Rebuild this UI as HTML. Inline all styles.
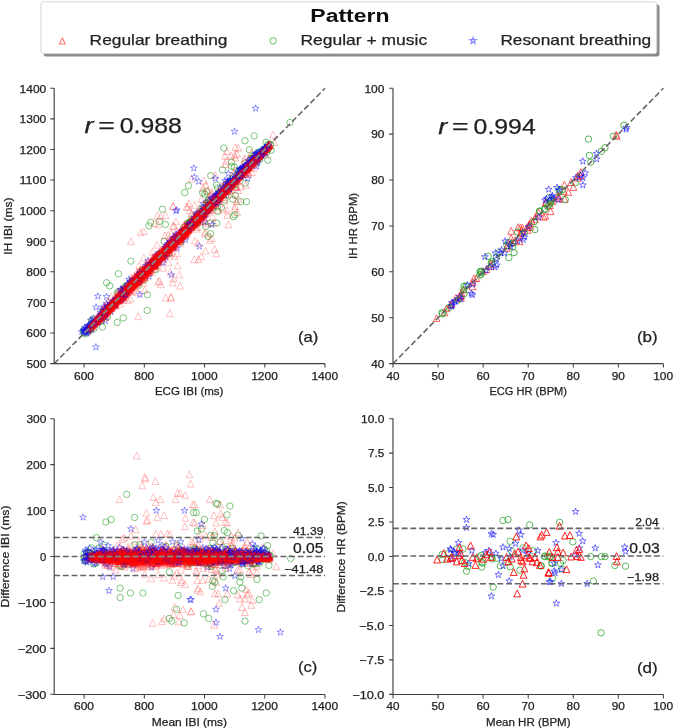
<!DOCTYPE html>
<html><head><meta charset="utf-8"><style>
html,body{margin:0;padding:0;background:#fff;overflow:hidden}
svg{display:block;will-change:transform;filter:blur(0.3px)}
text{font-family:"Liberation Sans",sans-serif;stroke:currentColor;stroke-width:0.25px}
</style></head><body>
<svg width="674" height="728" viewBox="0 0 674 728">
<rect x="43.7" y="4.6" width="615.8" height="51.8" rx="2.5" fill="#8a8a8a"/>
<rect x="40.9" y="1.8" width="615.8" height="51.8" rx="2.5" fill="#fff" stroke="#d6d6d6" stroke-width="1"/>
<text x="310.34" y="21.50" font-size="18.99" textLength="79.12" lengthAdjust="spacingAndGlyphs" font-weight="bold" style="stroke-width:0" fill="#0d0d0d" color="#0d0d0d">Pattern</text>
<path d="M62.3 37.9l-3.0 6.0h6.0z" fill="none" stroke="#ff0000" stroke-opacity="0.55" stroke-width="1.05"/>
<path d="M270.0 40.8a3.1 3.1 0 1 0 6.2 0a3.1 3.1 0 1 0 -6.2 0" fill="none" stroke="#2ca02c" stroke-opacity="0.65" stroke-width="1.05"/>
<path d="M473.1 37.3L473.9 39.6L476.3 39.6L474.3 41.1L475.1 43.5L473.1 42.0L471.1 43.5L471.9 41.1L469.9 39.6L472.3 39.6Z" fill="none" stroke="#0000ff" stroke-opacity="0.5" stroke-width="1.05"/>
<text x="89.61" y="44.90" font-size="15.55" textLength="137.88" lengthAdjust="spacingAndGlyphs" fill="#222222" color="#222222">Regular breathing</text>
<text x="300.50" y="44.90" font-size="15.55" textLength="126.62" lengthAdjust="spacingAndGlyphs" fill="#222222" color="#222222">Regular + music</text>
<text x="500.42" y="44.90" font-size="15.55" textLength="150.71" lengthAdjust="spacingAndGlyphs" fill="#222222" color="#222222">Resonant breathing</text>
<defs><path id="tr" d="M0-3.4l-3.4 6.8h6.8z"/><circle id="ci" r="3.2"/><path id="st" d="M0.0 -3.6L0.8 -1.1L3.4 -1.1L1.3 0.4L2.1 2.9L0.0 1.4L-2.1 2.9L-1.3 0.4L-3.4 -1.1L-0.8 -1.1Z"/></defs>
<g fill="none" stroke="#2ca02c" stroke-opacity="0.6"><use href="#ci" x="245.3" y="183.2"/><use href="#ci" x="264.6" y="150.3"/><use href="#ci" x="246.4" y="201.7"/><use href="#ci" x="216.7" y="223.1"/><use href="#ci" x="165.1" y="250.6"/><use href="#ci" x="242.6" y="171.5"/><use href="#ci" x="189.9" y="222"/><use href="#ci" x="239" y="175.6"/><use href="#ci" x="93.1" y="322.9"/><use href="#ci" x="266" y="142.3"/><use href="#ci" x="152.1" y="266.1"/><use href="#ci" x="241.5" y="170.8"/><use href="#ci" x="164.2" y="241.3"/><use href="#ci" x="95.4" y="322.1"/><use href="#ci" x="107.4" y="317"/><use href="#ci" x="213.1" y="207.5"/><use href="#ci" x="198.6" y="217.9"/><use href="#ci" x="202.1" y="216.5"/><use href="#ci" x="214.4" y="200.8"/><use href="#ci" x="94.3" y="323.6"/><use href="#ci" x="161" y="257.1"/><use href="#ci" x="207.8" y="203.2"/><use href="#ci" x="202.7" y="210.4"/><use href="#ci" x="238.8" y="173.1"/><use href="#ci" x="200.7" y="214.2"/><use href="#ci" x="157.8" y="257.5"/><use href="#ci" x="198.4" y="215.5"/><use href="#ci" x="220.4" y="194.6"/><use href="#ci" x="217.3" y="206.8"/><use href="#ci" x="127.5" y="285.6"/><use href="#ci" x="96.8" y="321.6"/><use href="#ci" x="191.1" y="224.9"/><use href="#ci" x="290.1" y="122.5"/><use href="#ci" x="187.6" y="230.3"/><use href="#ci" x="253.7" y="155.8"/><use href="#ci" x="206.3" y="210.5"/><use href="#ci" x="83.8" y="330.5"/><use href="#ci" x="219.4" y="192.8"/><use href="#ci" x="91.5" y="320.5"/><use href="#ci" x="244.3" y="171.2"/><use href="#ci" x="253.3" y="161.4"/><use href="#ci" x="188.1" y="223.6"/><use href="#ci" x="162.4" y="209.2"/><use href="#ci" x="217.6" y="188"/><use href="#ci" x="258.3" y="158"/><use href="#ci" x="133.1" y="285"/><use href="#ci" x="218.2" y="199.5"/><use href="#ci" x="126.8" y="288.9"/><use href="#ci" x="208.3" y="205.6"/><use href="#ci" x="117.2" y="322.4"/><use href="#ci" x="182.7" y="232"/><use href="#ci" x="187.8" y="222.8"/><use href="#ci" x="231.9" y="185.8"/><use href="#ci" x="208.7" y="200.6"/><use href="#ci" x="253.2" y="156.9"/><use href="#ci" x="208" y="236.4"/><use href="#ci" x="83.8" y="330.3"/><use href="#ci" x="84" y="332.3"/><use href="#ci" x="232.8" y="199.2"/><use href="#ci" x="210.5" y="205"/><use href="#ci" x="205.8" y="211.9"/><use href="#ci" x="225.8" y="184.4"/><use href="#ci" x="117.1" y="293.4"/><use href="#ci" x="263.7" y="149.8"/><use href="#ci" x="189.9" y="224.2"/><use href="#ci" x="125.5" y="288.3"/><use href="#ci" x="257.6" y="152.5"/><use href="#ci" x="138.8" y="285.2"/><use href="#ci" x="201" y="214.5"/><use href="#ci" x="268.3" y="149.3"/><use href="#ci" x="197.7" y="222.5"/><use href="#ci" x="235.2" y="195.4"/><use href="#ci" x="198.8" y="220.2"/><use href="#ci" x="211.9" y="203.6"/><use href="#ci" x="259.9" y="156.4"/><use href="#ci" x="270.3" y="144.4"/><use href="#ci" x="219.2" y="199"/><use href="#ci" x="231.6" y="179"/><use href="#ci" x="210.6" y="233.7"/><use href="#ci" x="245" y="140.8"/><use href="#ci" x="198.6" y="220.7"/><use href="#ci" x="147.4" y="294.7"/><use href="#ci" x="194" y="222.6"/><use href="#ci" x="123.9" y="288.9"/><use href="#ci" x="229.5" y="184.3"/><use href="#ci" x="235.3" y="184.9"/><use href="#ci" x="267.4" y="148.5"/><use href="#ci" x="267.8" y="144.7"/><use href="#ci" x="210.7" y="175.6"/><use href="#ci" x="229.5" y="182.6"/><use href="#ci" x="104.1" y="313.4"/><use href="#ci" x="190.9" y="221"/><use href="#ci" x="212.6" y="204.4"/><use href="#ci" x="243.1" y="170.6"/><use href="#ci" x="236.4" y="179.3"/><use href="#ci" x="251.4" y="158.5"/><use href="#ci" x="201.3" y="216.5"/><use href="#ci" x="180.8" y="242.1"/><use href="#ci" x="188.4" y="185.8"/><use href="#ci" x="197.2" y="214.5"/><use href="#ci" x="152.2" y="263.1"/><use href="#ci" x="157.7" y="257.9"/><use href="#ci" x="256.4" y="156.4"/><use href="#ci" x="118.8" y="299"/><use href="#ci" x="105.7" y="312.4"/><use href="#ci" x="226.7" y="188.6"/><use href="#ci" x="125.4" y="286.1"/><use href="#ci" x="231.4" y="185.7"/><use href="#ci" x="254.2" y="135.9"/><use href="#ci" x="200.1" y="211.6"/><use href="#ci" x="130.9" y="261.1"/><use href="#ci" x="212.4" y="203"/><use href="#ci" x="260.6" y="155.5"/><use href="#ci" x="87.9" y="331.5"/><use href="#ci" x="264.4" y="149.7"/><use href="#ci" x="94.2" y="328.4"/><use href="#ci" x="245.3" y="166.7"/><use href="#ci" x="244.3" y="168.6"/><use href="#ci" x="240.4" y="172"/><use href="#ci" x="218.8" y="192.5"/><use href="#ci" x="254.9" y="161.2"/><use href="#ci" x="197.2" y="215.5"/><use href="#ci" x="209.4" y="203.9"/><use href="#ci" x="91.1" y="328.3"/><use href="#ci" x="234.8" y="214.9"/><use href="#ci" x="169.8" y="245.8"/><use href="#ci" x="193.2" y="220"/><use href="#ci" x="159.3" y="221.4"/><use href="#ci" x="217.7" y="211.3"/><use href="#ci" x="228.1" y="191.3"/><use href="#ci" x="89.7" y="330.2"/><use href="#ci" x="210.4" y="223.1"/><use href="#ci" x="165.4" y="224.4"/><use href="#ci" x="155.8" y="269.6"/><use href="#ci" x="197.3" y="219.1"/><use href="#ci" x="245.2" y="163.1"/><use href="#ci" x="233.2" y="180.8"/><use href="#ci" x="259.7" y="159.6"/><use href="#ci" x="103.1" y="311.4"/><use href="#ci" x="230.1" y="183.1"/><use href="#ci" x="221.4" y="207.5"/><use href="#ci" x="144" y="279.9"/><use href="#ci" x="208" y="200.4"/><use href="#ci" x="197.2" y="223.5"/><use href="#ci" x="244.8" y="168.1"/><use href="#ci" x="267.7" y="160.1"/><use href="#ci" x="159.1" y="258.2"/><use href="#ci" x="176.4" y="241.4"/><use href="#ci" x="216.5" y="185"/><use href="#ci" x="93" y="324.7"/><use href="#ci" x="107.8" y="311"/><use href="#ci" x="102.4" y="327"/><use href="#ci" x="238.5" y="178.1"/><use href="#ci" x="264" y="149.5"/><use href="#ci" x="213" y="202"/><use href="#ci" x="106.6" y="282.8"/><use href="#ci" x="84.3" y="332.4"/><use href="#ci" x="250.6" y="158.8"/><use href="#ci" x="243.4" y="170.6"/><use href="#ci" x="261" y="151.1"/><use href="#ci" x="265.8" y="148.3"/><use href="#ci" x="220.8" y="191.6"/><use href="#ci" x="91.3" y="324"/><use href="#ci" x="118.7" y="297.3"/><use href="#ci" x="204.8" y="194.1"/><use href="#ci" x="208.3" y="202.4"/><use href="#ci" x="90.3" y="327.1"/><use href="#ci" x="233.7" y="184.8"/><use href="#ci" x="224.9" y="199.8"/><use href="#ci" x="142.6" y="270.6"/><use href="#ci" x="252.2" y="163.4"/><use href="#ci" x="192.7" y="226.9"/><use href="#ci" x="212.3" y="200.9"/><use href="#ci" x="223.8" y="148.1"/><use href="#ci" x="107.9" y="308.4"/><use href="#ci" x="131" y="284.1"/><use href="#ci" x="202.7" y="192.8"/><use href="#ci" x="118.2" y="291.8"/><use href="#ci" x="206.5" y="191.7"/><use href="#ci" x="247.5" y="165.7"/><use href="#ci" x="195.9" y="220.5"/><use href="#ci" x="262.9" y="150.4"/><use href="#ci" x="231.5" y="162.2"/><use href="#ci" x="270.4" y="144.3"/><use href="#ci" x="95.5" y="321.1"/><use href="#ci" x="93.6" y="318.9"/><use href="#ci" x="110.8" y="306.4"/><use href="#ci" x="225.6" y="189.7"/><use href="#ci" x="169.2" y="253.4"/><use href="#ci" x="233.4" y="216.7"/><use href="#ci" x="156.5" y="260.9"/><use href="#ci" x="190.3" y="222.9"/><use href="#ci" x="204.1" y="210.2"/><use href="#ci" x="187.6" y="230.6"/><use href="#ci" x="150.6" y="222.4"/><use href="#ci" x="142.2" y="270.7"/><use href="#ci" x="224.2" y="187.7"/><use href="#ci" x="218.1" y="196.8"/><use href="#ci" x="249.4" y="149.8"/><use href="#ci" x="225.8" y="195.1"/><use href="#ci" x="123.2" y="317.9"/><use href="#ci" x="213.7" y="200.6"/><use href="#ci" x="108.8" y="307"/><use href="#ci" x="255.1" y="160.2"/><use href="#ci" x="101.4" y="320.9"/><use href="#ci" x="182.4" y="234.3"/><use href="#ci" x="214.4" y="201.6"/><use href="#ci" x="141.6" y="276.6"/><use href="#ci" x="234.2" y="167"/><use href="#ci" x="190.2" y="223.9"/><use href="#ci" x="109.3" y="308.3"/><use href="#ci" x="202.6" y="207.7"/><use href="#ci" x="239.6" y="174.3"/><use href="#ci" x="193.7" y="217.5"/><use href="#ci" x="89.6" y="330.2"/><use href="#ci" x="260.4" y="153.5"/><use href="#ci" x="91.3" y="325.1"/><use href="#ci" x="250.3" y="164.8"/><use href="#ci" x="239.1" y="170.6"/><use href="#ci" x="234.3" y="181.4"/><use href="#ci" x="109.7" y="285.9"/><use href="#ci" x="231.5" y="166.3"/><use href="#ci" x="256.1" y="163.1"/><use href="#ci" x="149" y="225.9"/><use href="#ci" x="206.5" y="203.9"/><use href="#ci" x="238.9" y="175.9"/><use href="#ci" x="190.8" y="223.3"/><use href="#ci" x="203.5" y="214.8"/><use href="#ci" x="197.5" y="216.4"/><use href="#ci" x="244.4" y="171"/><use href="#ci" x="188.8" y="223.6"/><use href="#ci" x="266.8" y="152.3"/><use href="#ci" x="186.2" y="228.7"/><use href="#ci" x="205.7" y="226.5"/><use href="#ci" x="147.1" y="310.4"/><use href="#ci" x="89.7" y="327.7"/><use href="#ci" x="131.9" y="280.5"/><use href="#ci" x="118.4" y="273.8"/><use href="#ci" x="183.9" y="227.3"/><use href="#ci" x="222.4" y="169.8"/><use href="#ci" x="267.9" y="144.9"/><use href="#ci" x="233.1" y="178"/><use href="#ci" x="158.8" y="253.8"/><use href="#ci" x="206.2" y="211.2"/><use href="#ci" x="85.1" y="333.9"/><use href="#ci" x="183.2" y="236.3"/><use href="#ci" x="241.9" y="169.7"/><use href="#ci" x="248.7" y="168.6"/><use href="#ci" x="250.2" y="162.8"/><use href="#ci" x="237.5" y="174.7"/><use href="#ci" x="197.8" y="220.7"/><use href="#ci" x="217.3" y="196.5"/><use href="#ci" x="240.7" y="201.7"/><use href="#ci" x="220.2" y="192.7"/><use href="#ci" x="189.9" y="226.2"/><use href="#ci" x="184.7" y="192.6"/><use href="#ci" x="271.2" y="150.2"/></g>
<g fill="none" stroke="#0000ff" stroke-opacity="0.4"><use href="#st" x="180.6" y="234.3"/><use href="#st" x="100.6" y="312.7"/><use href="#st" x="129.9" y="282.1"/><use href="#st" x="151.9" y="266.4"/><use href="#st" x="177" y="234.1"/><use href="#st" x="168.1" y="246.7"/><use href="#st" x="200.6" y="215.3"/><use href="#st" x="158.1" y="258.4"/><use href="#st" x="105.2" y="314.9"/><use href="#st" x="97" y="321.1"/><use href="#st" x="119.1" y="297.9"/><use href="#st" x="189.7" y="229.8"/><use href="#st" x="163.9" y="249.9"/><use href="#st" x="188.1" y="228.7"/><use href="#st" x="176.2" y="241"/><use href="#st" x="127.9" y="289.2"/><use href="#st" x="195.7" y="222.3"/><use href="#st" x="90.8" y="320.3"/><use href="#st" x="177" y="238.5"/><use href="#st" x="155.4" y="266"/><use href="#st" x="158.4" y="261.9"/><use href="#st" x="121" y="290"/><use href="#st" x="183.1" y="235.5"/><use href="#st" x="156.1" y="261.7"/><use href="#st" x="185.4" y="232.4"/><use href="#st" x="177.2" y="236.4"/><use href="#st" x="162.7" y="253.9"/><use href="#st" x="193.1" y="224.8"/><use href="#st" x="104.3" y="316.2"/><use href="#st" x="179.6" y="235.3"/><use href="#st" x="173.1" y="237.6"/><use href="#st" x="149.1" y="276.5"/><use href="#st" x="120.9" y="295.3"/><use href="#st" x="208.3" y="208.8"/><use href="#st" x="104.2" y="314.9"/><use href="#st" x="173.5" y="238"/><use href="#st" x="181" y="234.6"/><use href="#st" x="149.2" y="271.1"/><use href="#st" x="206.6" y="210.5"/><use href="#st" x="204.3" y="211.6"/><use href="#st" x="140.9" y="274.4"/><use href="#st" x="189.6" y="224.7"/><use href="#st" x="189.6" y="223.9"/><use href="#st" x="202.5" y="214.5"/><use href="#st" x="163" y="262.6"/><use href="#st" x="183.4" y="234.5"/><use href="#st" x="91.8" y="329.7"/><use href="#st" x="191.8" y="223.6"/></g>
<path d="M171.3 242.0l-3.4 6.8h6.8zM196.4 214.0l-3.4 6.8h6.8zM124.5 288.5l-3.4 6.8h6.8zM154.5 254.7l-3.4 6.8h6.8zM135.0 274.0l-3.4 6.8h6.8zM163.6 246.6l-3.4 6.8h6.8zM193.2 218.8l-3.4 6.8h6.8zM96.0 317.4l-3.4 6.8h6.8zM184.4 229.5l-3.4 6.8h6.8zM104.9 310.7l-3.4 6.8h6.8zM152.2 262.5l-3.4 6.8h6.8zM129.4 282.1l-3.4 6.8h6.8zM122.1 286.4l-3.4 6.8h6.8zM194.3 255.9l-3.4 6.8h6.8zM184.2 227.8l-3.4 6.8h6.8zM179.6 232.7l-3.4 6.8h6.8zM129.8 287.6l-3.4 6.8h6.8zM100.9 312.5l-3.4 6.8h6.8zM190.0 222.2l-3.4 6.8h6.8zM170.2 241.5l-3.4 6.8h6.8zM102.9 308.5l-3.4 6.8h6.8zM185.4 227.5l-3.4 6.8h6.8zM124.9 290.3l-3.4 6.8h6.8zM179.4 231.4l-3.4 6.8h6.8zM190.8 222.6l-3.4 6.8h6.8zM120.3 300.1l-3.4 6.8h6.8zM184.8 226.8l-3.4 6.8h6.8zM199.8 211.4l-3.4 6.8h6.8zM94.8 318.2l-3.4 6.8h6.8zM183.6 225.9l-3.4 6.8h6.8zM118.7 292.0l-3.4 6.8h6.8zM173.5 239.2l-3.4 6.8h6.8zM172.1 243.1l-3.4 6.8h6.8zM185.4 225.6l-3.4 6.8h6.8zM173.1 234.9l-3.4 6.8h6.8zM157.5 257.5l-3.4 6.8h6.8zM128.8 283.5l-3.4 6.8h6.8zM136.6 278.5l-3.4 6.8h6.8zM145.7 269.4l-3.4 6.8h6.8zM178.4 232.9l-3.4 6.8h6.8zM198.1 214.1l-3.4 6.8h6.8zM142.9 270.1l-3.4 6.8h6.8zM148.4 269.3l-3.4 6.8h6.8zM206.5 205.6l-3.4 6.8h6.8zM194.7 216.9l-3.4 6.8h6.8zM173.1 240.8l-3.4 6.8h6.8zM131.9 281.0l-3.4 6.8h6.8zM190.8 218.7l-3.4 6.8h6.8zM154.5 255.7l-3.4 6.8h6.8zM103.1 311.2l-3.4 6.8h6.8zM111.3 303.6l-3.4 6.8h6.8zM125.6 288.8l-3.4 6.8h6.8zM199.3 218.4l-3.4 6.8h6.8zM103.6 306.6l-3.4 6.8h6.8zM200.5 212.9l-3.4 6.8h6.8zM186.7 225.7l-3.4 6.8h6.8zM142.8 273.3l-3.4 6.8h6.8zM114.0 299.1l-3.4 6.8h6.8zM195.8 223.0l-3.4 6.8h6.8zM124.6 287.1l-3.4 6.8h6.8zM121.8 292.2l-3.4 6.8h6.8zM101.1 311.8l-3.4 6.8h6.8zM199.0 211.6l-3.4 6.8h6.8zM94.0 318.9l-3.4 6.8h6.8zM135.3 276.3l-3.4 6.8h6.8zM150.9 262.7l-3.4 6.8h6.8zM125.6 287.3l-3.4 6.8h6.8zM161.1 250.9l-3.4 6.8h6.8zM139.1 272.6l-3.4 6.8h6.8zM188.1 221.9l-3.4 6.8h6.8zM193.4 218.6l-3.4 6.8h6.8zM168.4 259.0l-3.4 6.8h6.8zM155.8 254.2l-3.4 6.8h6.8zM142.1 272.0l-3.4 6.8h6.8zM147.8 262.1l-3.4 6.8h6.8zM157.1 254.0l-3.4 6.8h6.8zM133.4 280.0l-3.4 6.8h6.8zM101.0 314.1l-3.4 6.8h6.8zM115.4 294.9l-3.4 6.8h6.8zM121.8 292.8l-3.4 6.8h6.8zM124.3 288.9l-3.4 6.8h6.8zM162.3 248.6l-3.4 6.8h6.8zM163.4 248.3l-3.4 6.8h6.8zM177.7 232.7l-3.4 6.8h6.8zM145.6 269.8l-3.4 6.8h6.8zM184.1 227.9l-3.4 6.8h6.8zM111.7 302.4l-3.4 6.8h6.8zM133.4 276.0l-3.4 6.8h6.8zM144.9 266.5l-3.4 6.8h6.8zM173.7 236.5l-3.4 6.8h6.8zM128.5 284.3l-3.4 6.8h6.8zM158.0 255.2l-3.4 6.8h6.8zM88.6 325.6l-3.4 6.8h6.8zM133.2 281.2l-3.4 6.8h6.8zM193.5 217.7l-3.4 6.8h6.8zM164.0 252.8l-3.4 6.8h6.8zM145.4 266.7l-3.4 6.8h6.8zM141.7 270.5l-3.4 6.8h6.8zM204.1 206.7l-3.4 6.8h6.8zM150.6 261.7l-3.4 6.8h6.8zM167.1 245.6l-3.4 6.8h6.8zM196.8 215.0l-3.4 6.8h6.8zM177.5 234.7l-3.4 6.8h6.8zM142.6 272.1l-3.4 6.8h6.8zM175.1 240.9l-3.4 6.8h6.8zM169.2 242.7l-3.4 6.8h6.8zM188.9 223.0l-3.4 6.8h6.8zM138.5 277.3l-3.4 6.8h6.8zM161.7 250.9l-3.4 6.8h6.8zM100.2 314.0l-3.4 6.8h6.8zM154.6 259.9l-3.4 6.8h6.8zM191.6 221.0l-3.4 6.8h6.8zM178.3 237.7l-3.4 6.8h6.8zM151.9 260.8l-3.4 6.8h6.8zM87.6 327.9l-3.4 6.8h6.8zM155.3 255.4l-3.4 6.8h6.8zM124.0 289.4l-3.4 6.8h6.8zM98.6 315.0l-3.4 6.8h6.8zM138.8 274.7l-3.4 6.8h6.8zM194.8 237.3l-3.4 6.8h6.8zM122.6 292.7l-3.4 6.8h6.8zM130.7 280.5l-3.4 6.8h6.8zM185.8 230.0l-3.4 6.8h6.8zM202.2 210.7l-3.4 6.8h6.8zM123.0 290.1l-3.4 6.8h6.8zM159.5 248.3l-3.4 6.8h6.8zM166.2 248.7l-3.4 6.8h6.8zM149.3 264.9l-3.4 6.8h6.8zM172.8 222.5l-3.4 6.8h6.8zM164.7 250.0l-3.4 6.8h6.8zM128.9 286.7l-3.4 6.8h6.8zM180.1 282.3l-3.4 6.8h6.8zM188.1 220.9l-3.4 6.8h6.8zM115.1 297.7l-3.4 6.8h6.8zM177.5 233.8l-3.4 6.8h6.8zM136.2 281.0l-3.4 6.8h6.8zM143.0 271.1l-3.4 6.8h6.8zM153.7 256.9l-3.4 6.8h6.8zM102.1 311.0l-3.4 6.8h6.8zM137.0 279.1l-3.4 6.8h6.8zM104.5 307.9l-3.4 6.8h6.8zM154.9 254.7l-3.4 6.8h6.8zM152.0 258.6l-3.4 6.8h6.8zM202.0 207.4l-3.4 6.8h6.8zM144.2 267.0l-3.4 6.8h6.8zM102.3 312.7l-3.4 6.8h6.8zM111.2 303.5l-3.4 6.8h6.8zM131.7 277.5l-3.4 6.8h6.8z" fill="none" stroke="#ff0000" stroke-opacity="0.24" stroke-width="1.0"/>
<path d="M98.8 316.1l-3.4 6.8h6.8zM100.8 313.7l-3.4 6.8h6.8zM170.0 268.4l-3.4 6.8h6.8zM92.1 322.4l-3.4 6.8h6.8zM100.6 312.7l-3.4 6.8h6.8zM121.6 291.1l-3.4 6.8h6.8zM143.5 268.3l-3.4 6.8h6.8zM154.0 258.1l-3.4 6.8h6.8zM134.0 278.2l-3.4 6.8h6.8zM100.2 313.6l-3.4 6.8h6.8zM152.1 259.3l-3.4 6.8h6.8zM155.0 257.6l-3.4 6.8h6.8zM184.6 226.9l-3.4 6.8h6.8zM184.1 228.5l-3.4 6.8h6.8zM159.5 254.3l-3.4 6.8h6.8zM205.5 247.3l-3.4 6.8h6.8zM196.1 213.7l-3.4 6.8h6.8zM201.2 215.6l-3.4 6.8h6.8zM145.7 270.6l-3.4 6.8h6.8zM138.6 272.6l-3.4 6.8h6.8zM137.2 278.7l-3.4 6.8h6.8zM205.3 210.2l-3.4 6.8h6.8zM124.8 286.9l-3.4 6.8h6.8zM121.2 292.5l-3.4 6.8h6.8zM187.5 226.7l-3.4 6.8h6.8zM106.2 305.4l-3.4 6.8h6.8zM154.6 257.8l-3.4 6.8h6.8zM192.3 220.8l-3.4 6.8h6.8zM146.0 264.6l-3.4 6.8h6.8zM113.3 298.8l-3.4 6.8h6.8zM154.6 257.9l-3.4 6.8h6.8zM105.6 308.8l-3.4 6.8h6.8zM191.1 223.4l-3.4 6.8h6.8zM133.6 277.7l-3.4 6.8h6.8zM180.7 232.9l-3.4 6.8h6.8zM116.2 297.4l-3.4 6.8h6.8zM188.4 226.2l-3.4 6.8h6.8zM117.6 296.9l-3.4 6.8h6.8zM114.5 299.4l-3.4 6.8h6.8zM194.4 214.1l-3.4 6.8h6.8zM187.9 222.3l-3.4 6.8h6.8zM204.0 210.2l-3.4 6.8h6.8zM123.5 288.9l-3.4 6.8h6.8zM189.6 219.6l-3.4 6.8h6.8zM144.9 268.0l-3.4 6.8h6.8zM150.1 267.3l-3.4 6.8h6.8zM141.8 274.1l-3.4 6.8h6.8zM132.8 274.7l-3.4 6.8h6.8zM171.1 242.1l-3.4 6.8h6.8zM157.3 258.0l-3.4 6.8h6.8zM113.2 296.5l-3.4 6.8h6.8zM142.1 271.4l-3.4 6.8h6.8zM170.0 250.5l-3.4 6.8h6.8zM133.8 275.7l-3.4 6.8h6.8zM171.1 243.3l-3.4 6.8h6.8zM141.3 269.1l-3.4 6.8h6.8zM99.8 314.6l-3.4 6.8h6.8zM132.3 277.7l-3.4 6.8h6.8zM177.2 250.1l-3.4 6.8h6.8zM113.4 297.1l-3.4 6.8h6.8zM105.0 307.7l-3.4 6.8h6.8zM192.0 221.7l-3.4 6.8h6.8zM140.4 266.1l-3.4 6.8h6.8zM168.5 246.3l-3.4 6.8h6.8zM134.3 279.0l-3.4 6.8h6.8zM197.7 215.7l-3.4 6.8h6.8zM168.9 243.9l-3.4 6.8h6.8zM190.2 224.3l-3.4 6.8h6.8zM157.1 241.3l-3.4 6.8h6.8zM160.2 253.4l-3.4 6.8h6.8zM162.6 248.0l-3.4 6.8h6.8zM173.1 202.8l-3.4 6.8h6.8zM156.2 259.4l-3.4 6.8h6.8zM138.9 276.6l-3.4 6.8h6.8zM202.3 206.0l-3.4 6.8h6.8zM155.9 257.7l-3.4 6.8h6.8zM149.5 265.7l-3.4 6.8h6.8zM123.4 292.0l-3.4 6.8h6.8zM154.2 259.4l-3.4 6.8h6.8zM165.1 247.2l-3.4 6.8h6.8zM206.0 207.2l-3.4 6.8h6.8zM191.4 218.5l-3.4 6.8h6.8zM110.3 303.8l-3.4 6.8h6.8zM143.9 269.0l-3.4 6.8h6.8zM165.7 247.0l-3.4 6.8h6.8zM191.3 219.9l-3.4 6.8h6.8zM126.8 286.0l-3.4 6.8h6.8zM156.9 256.2l-3.4 6.8h6.8zM201.1 209.5l-3.4 6.8h6.8zM108.7 302.9l-3.4 6.8h6.8zM97.1 317.8l-3.4 6.8h6.8zM108.3 304.6l-3.4 6.8h6.8zM200.7 211.2l-3.4 6.8h6.8zM175.0 237.1l-3.4 6.8h6.8zM185.5 225.0l-3.4 6.8h6.8zM187.0 227.5l-3.4 6.8h6.8zM135.6 276.2l-3.4 6.8h6.8zM155.2 257.9l-3.4 6.8h6.8zM167.7 246.2l-3.4 6.8h6.8zM149.1 262.3l-3.4 6.8h6.8zM158.0 278.4l-3.4 6.8h6.8zM163.3 246.8l-3.4 6.8h6.8zM158.1 257.3l-3.4 6.8h6.8zM130.9 283.3l-3.4 6.8h6.8zM188.1 224.0l-3.4 6.8h6.8zM116.7 297.3l-3.4 6.8h6.8zM157.9 252.8l-3.4 6.8h6.8zM166.2 248.6l-3.4 6.8h6.8zM176.6 237.6l-3.4 6.8h6.8zM88.9 324.9l-3.4 6.8h6.8zM170.3 244.5l-3.4 6.8h6.8zM159.0 251.8l-3.4 6.8h6.8zM163.2 252.3l-3.4 6.8h6.8zM115.0 299.3l-3.4 6.8h6.8zM94.7 317.3l-3.4 6.8h6.8zM206.3 205.3l-3.4 6.8h6.8zM138.1 272.1l-3.4 6.8h6.8zM205.4 204.7l-3.4 6.8h6.8zM102.3 311.1l-3.4 6.8h6.8zM122.8 290.8l-3.4 6.8h6.8zM142.1 270.2l-3.4 6.8h6.8zM103.7 310.2l-3.4 6.8h6.8zM164.2 244.9l-3.4 6.8h6.8zM131.7 279.3l-3.4 6.8h6.8zM195.2 217.6l-3.4 6.8h6.8zM105.2 307.1l-3.4 6.8h6.8zM111.4 297.4l-3.4 6.8h6.8zM154.7 254.3l-3.4 6.8h6.8zM171.8 241.2l-3.4 6.8h6.8zM104.9 306.4l-3.4 6.8h6.8zM198.5 213.7l-3.4 6.8h6.8zM189.5 218.9l-3.4 6.8h6.8zM174.1 222.6l-3.4 6.8h6.8zM173.0 238.5l-3.4 6.8h6.8zM175.3 235.4l-3.4 6.8h6.8zM202.2 210.9l-3.4 6.8h6.8zM160.4 253.6l-3.4 6.8h6.8zM150.1 266.7l-3.4 6.8h6.8zM102.1 309.2l-3.4 6.8h6.8zM143.9 272.7l-3.4 6.8h6.8zM119.6 296.5l-3.4 6.8h6.8zM133.6 282.4l-3.4 6.8h6.8zM99.2 312.8l-3.4 6.8h6.8zM114.6 299.4l-3.4 6.8h6.8zM123.1 291.0l-3.4 6.8h6.8zM167.4 245.1l-3.4 6.8h6.8zM111.3 300.9l-3.4 6.8h6.8zM162.8 249.2l-3.4 6.8h6.8z" fill="none" stroke="#ff0000" stroke-opacity="0.24" stroke-width="1.0"/>
<g fill="none" stroke="#0000ff" stroke-opacity="0.4"><use href="#st" x="107.7" y="309.2"/><use href="#st" x="125.4" y="289.1"/><use href="#st" x="134.1" y="283.4"/><use href="#st" x="202.7" y="213.1"/><use href="#st" x="196.3" y="218.1"/><use href="#st" x="159.2" y="252.9"/><use href="#st" x="203.4" y="203.9"/><use href="#st" x="111.4" y="303.9"/><use href="#st" x="135.3" y="282.2"/><use href="#st" x="134.9" y="280.6"/><use href="#st" x="180.6" y="235.3"/><use href="#st" x="153.4" y="260.2"/><use href="#st" x="110.9" y="303.7"/><use href="#st" x="114.9" y="303.7"/><use href="#st" x="99.2" y="316.3"/><use href="#st" x="198.6" y="220.4"/><use href="#st" x="171.4" y="274.9"/><use href="#st" x="95.9" y="347.1"/><use href="#st" x="138" y="282.2"/><use href="#st" x="101.1" y="319.4"/><use href="#st" x="145.4" y="267.4"/><use href="#st" x="86.2" y="328.8"/><use href="#st" x="89.6" y="325.5"/><use href="#st" x="159" y="254.3"/><use href="#st" x="125.2" y="292"/><use href="#st" x="154.5" y="264.8"/><use href="#st" x="98.3" y="318.3"/><use href="#st" x="143.4" y="272.8"/><use href="#st" x="113.1" y="301.3"/><use href="#st" x="173.1" y="244.4"/><use href="#st" x="169.6" y="241.3"/><use href="#st" x="107.7" y="306.2"/><use href="#st" x="197.4" y="220.3"/><use href="#st" x="179" y="236.4"/><use href="#st" x="137.4" y="275"/><use href="#st" x="189.6" y="224.7"/><use href="#st" x="87.2" y="326.6"/><use href="#st" x="99.6" y="317.2"/><use href="#st" x="174.7" y="237.8"/><use href="#st" x="167.9" y="253"/><use href="#st" x="129.1" y="285.6"/><use href="#st" x="108.9" y="308.3"/><use href="#st" x="195.7" y="219.2"/><use href="#st" x="154.3" y="260.9"/><use href="#st" x="120.7" y="292.4"/><use href="#st" x="195.1" y="219.9"/><use href="#st" x="139.8" y="275.2"/></g>
<path d="M107.2 305.5l-3.4 6.8h6.8zM91.7 322.3l-3.4 6.8h6.8zM158.2 254.0l-3.4 6.8h6.8zM105.7 310.9l-3.4 6.8h6.8zM145.6 269.6l-3.4 6.8h6.8zM118.6 296.8l-3.4 6.8h6.8zM201.5 209.1l-3.4 6.8h6.8zM126.5 284.2l-3.4 6.8h6.8zM179.7 229.7l-3.4 6.8h6.8zM114.1 300.4l-3.4 6.8h6.8zM166.3 244.9l-3.4 6.8h6.8zM203.1 208.1l-3.4 6.8h6.8zM196.9 214.7l-3.4 6.8h6.8zM189.6 206.8l-3.4 6.8h6.8zM201.8 211.2l-3.4 6.8h6.8zM181.1 231.9l-3.4 6.8h6.8zM149.2 259.6l-3.4 6.8h6.8zM162.2 250.1l-3.4 6.8h6.8zM111.2 300.3l-3.4 6.8h6.8zM135.5 275.7l-3.4 6.8h6.8zM149.8 264.7l-3.4 6.8h6.8zM201.9 209.0l-3.4 6.8h6.8zM132.9 280.9l-3.4 6.8h6.8zM192.5 220.7l-3.4 6.8h6.8zM166.9 246.7l-3.4 6.8h6.8zM96.6 317.0l-3.4 6.8h6.8zM119.1 293.3l-3.4 6.8h6.8zM105.1 308.7l-3.4 6.8h6.8zM202.1 211.2l-3.4 6.8h6.8zM129.3 281.8l-3.4 6.8h6.8zM185.2 229.4l-3.4 6.8h6.8zM173.1 238.2l-3.4 6.8h6.8zM153.3 261.5l-3.4 6.8h6.8zM162.7 255.8l-3.4 6.8h6.8zM121.3 293.9l-3.4 6.8h6.8zM176.0 238.4l-3.4 6.8h6.8zM138.8 275.6l-3.4 6.8h6.8zM108.4 305.9l-3.4 6.8h6.8zM162.9 246.6l-3.4 6.8h6.8zM197.6 214.5l-3.4 6.8h6.8zM149.2 263.8l-3.4 6.8h6.8zM177.1 234.3l-3.4 6.8h6.8zM200.4 212.5l-3.4 6.8h6.8zM168.0 245.8l-3.4 6.8h6.8zM103.1 310.9l-3.4 6.8h6.8zM127.0 286.4l-3.4 6.8h6.8zM111.0 300.2l-3.4 6.8h6.8zM106.1 301.6l-3.4 6.8h6.8zM190.6 221.0l-3.4 6.8h6.8zM203.0 208.2l-3.4 6.8h6.8zM199.6 212.8l-3.4 6.8h6.8zM190.9 222.6l-3.4 6.8h6.8zM199.6 212.9l-3.4 6.8h6.8zM151.9 258.3l-3.4 6.8h6.8zM157.4 258.9l-3.4 6.8h6.8zM201.2 210.6l-3.4 6.8h6.8zM116.5 295.8l-3.4 6.8h6.8zM126.2 288.8l-3.4 6.8h6.8zM188.3 223.0l-3.4 6.8h6.8zM193.1 220.3l-3.4 6.8h6.8zM150.5 261.6l-3.4 6.8h6.8zM105.5 307.5l-3.4 6.8h6.8zM164.8 245.2l-3.4 6.8h6.8zM163.0 248.3l-3.4 6.8h6.8zM169.4 241.1l-3.4 6.8h6.8zM167.2 244.4l-3.4 6.8h6.8zM154.0 261.8l-3.4 6.8h6.8zM172.2 243.0l-3.4 6.8h6.8zM137.3 274.0l-3.4 6.8h6.8zM105.6 307.8l-3.4 6.8h6.8zM181.5 230.4l-3.4 6.8h6.8zM200.6 212.4l-3.4 6.8h6.8zM123.0 293.2l-3.4 6.8h6.8zM199.5 212.5l-3.4 6.8h6.8zM169.6 238.3l-3.4 6.8h6.8zM180.4 231.3l-3.4 6.8h6.8zM149.7 261.9l-3.4 6.8h6.8zM152.5 258.1l-3.4 6.8h6.8zM171.1 242.8l-3.4 6.8h6.8zM150.7 261.5l-3.4 6.8h6.8zM178.1 234.6l-3.4 6.8h6.8zM195.9 215.9l-3.4 6.8h6.8zM92.8 320.8l-3.4 6.8h6.8zM137.7 278.0l-3.4 6.8h6.8zM139.3 270.8l-3.4 6.8h6.8zM132.2 280.0l-3.4 6.8h6.8zM153.8 253.8l-3.4 6.8h6.8zM157.7 256.0l-3.4 6.8h6.8zM165.3 245.7l-3.4 6.8h6.8zM156.3 258.4l-3.4 6.8h6.8zM126.7 284.2l-3.4 6.8h6.8zM130.4 283.5l-3.4 6.8h6.8zM176.0 235.9l-3.4 6.8h6.8zM180.7 226.7l-3.4 6.8h6.8zM192.4 219.0l-3.4 6.8h6.8zM121.1 294.8l-3.4 6.8h6.8zM180.6 233.5l-3.4 6.8h6.8zM206.6 206.4l-3.4 6.8h6.8zM145.3 266.9l-3.4 6.8h6.8zM189.1 226.2l-3.4 6.8h6.8zM157.4 253.8l-3.4 6.8h6.8zM156.9 257.5l-3.4 6.8h6.8zM170.2 241.3l-3.4 6.8h6.8zM132.8 279.9l-3.4 6.8h6.8zM193.5 218.9l-3.4 6.8h6.8zM205.3 206.8l-3.4 6.8h6.8zM203.3 210.2l-3.4 6.8h6.8zM146.9 266.3l-3.4 6.8h6.8zM167.9 243.9l-3.4 6.8h6.8zM122.4 290.8l-3.4 6.8h6.8zM188.5 224.6l-3.4 6.8h6.8zM195.1 211.2l-3.4 6.8h6.8zM123.5 287.4l-3.4 6.8h6.8zM168.5 242.1l-3.4 6.8h6.8zM133.2 279.7l-3.4 6.8h6.8zM121.4 285.2l-3.4 6.8h6.8zM161.3 251.1l-3.4 6.8h6.8zM135.5 284.9l-3.4 6.8h6.8zM170.6 241.3l-3.4 6.8h6.8zM177.6 233.9l-3.4 6.8h6.8zM131.6 280.2l-3.4 6.8h6.8zM203.6 209.8l-3.4 6.8h6.8zM184.3 226.5l-3.4 6.8h6.8zM176.0 237.4l-3.4 6.8h6.8zM194.3 218.7l-3.4 6.8h6.8zM116.9 295.1l-3.4 6.8h6.8zM128.9 280.2l-3.4 6.8h6.8zM106.4 307.3l-3.4 6.8h6.8zM87.8 326.5l-3.4 6.8h6.8zM184.0 223.2l-3.4 6.8h6.8zM194.8 201.5l-3.4 6.8h6.8zM103.0 308.7l-3.4 6.8h6.8zM200.7 210.3l-3.4 6.8h6.8zM91.0 322.7l-3.4 6.8h6.8zM135.6 277.9l-3.4 6.8h6.8zM127.8 280.8l-3.4 6.8h6.8zM207.4 204.7l-3.4 6.8h6.8zM110.5 301.4l-3.4 6.8h6.8zM199.0 214.3l-3.4 6.8h6.8zM171.4 230.2l-3.4 6.8h6.8zM179.1 233.0l-3.4 6.8h6.8zM166.5 244.3l-3.4 6.8h6.8zM134.8 275.0l-3.4 6.8h6.8zM178.0 235.2l-3.4 6.8h6.8zM123.8 289.1l-3.4 6.8h6.8zM143.5 267.4l-3.4 6.8h6.8zM120.1 291.3l-3.4 6.8h6.8zM169.0 242.1l-3.4 6.8h6.8z" fill="none" stroke="#ff0000" stroke-opacity="0.24" stroke-width="1.0"/>
<path d="M96.1 316.6l-3.4 6.8h6.8zM165.2 246.4l-3.4 6.8h6.8zM154.4 259.8l-3.4 6.8h6.8zM122.0 289.5l-3.4 6.8h6.8zM197.6 215.1l-3.4 6.8h6.8zM165.2 251.7l-3.4 6.8h6.8zM191.4 217.9l-3.4 6.8h6.8zM115.9 292.0l-3.4 6.8h6.8zM206.1 205.9l-3.4 6.8h6.8zM199.5 212.7l-3.4 6.8h6.8zM125.5 287.9l-3.4 6.8h6.8zM129.4 283.6l-3.4 6.8h6.8zM100.8 313.2l-3.4 6.8h6.8zM148.7 265.2l-3.4 6.8h6.8zM120.4 294.7l-3.4 6.8h6.8zM115.0 299.8l-3.4 6.8h6.8zM200.5 210.5l-3.4 6.8h6.8zM207.1 204.2l-3.4 6.8h6.8zM121.7 288.7l-3.4 6.8h6.8zM186.3 225.0l-3.4 6.8h6.8zM114.0 297.5l-3.4 6.8h6.8zM115.3 298.6l-3.4 6.8h6.8zM92.6 320.9l-3.4 6.8h6.8zM181.1 228.5l-3.4 6.8h6.8zM187.9 203.1l-3.4 6.8h6.8zM145.4 266.5l-3.4 6.8h6.8zM120.3 289.6l-3.4 6.8h6.8zM122.1 290.8l-3.4 6.8h6.8zM127.5 285.1l-3.4 6.8h6.8zM134.2 272.1l-3.4 6.8h6.8zM136.3 273.7l-3.4 6.8h6.8zM103.8 309.2l-3.4 6.8h6.8zM200.7 211.2l-3.4 6.8h6.8zM151.7 262.1l-3.4 6.8h6.8zM185.9 224.0l-3.4 6.8h6.8zM102.7 311.9l-3.4 6.8h6.8zM95.5 316.1l-3.4 6.8h6.8zM144.8 270.7l-3.4 6.8h6.8zM174.4 235.3l-3.4 6.8h6.8zM135.4 279.0l-3.4 6.8h6.8zM175.5 236.9l-3.4 6.8h6.8zM173.7 239.2l-3.4 6.8h6.8zM167.8 242.1l-3.4 6.8h6.8zM195.3 213.2l-3.4 6.8h6.8zM111.8 299.3l-3.4 6.8h6.8zM135.4 278.8l-3.4 6.8h6.8zM161.5 245.6l-3.4 6.8h6.8zM200.2 211.7l-3.4 6.8h6.8zM108.1 305.3l-3.4 6.8h6.8zM119.1 294.9l-3.4 6.8h6.8zM126.5 285.4l-3.4 6.8h6.8zM119.1 294.0l-3.4 6.8h6.8zM173.9 237.8l-3.4 6.8h6.8zM103.6 310.7l-3.4 6.8h6.8zM178.4 236.1l-3.4 6.8h6.8zM92.6 320.9l-3.4 6.8h6.8zM203.7 213.0l-3.4 6.8h6.8zM106.6 305.2l-3.4 6.8h6.8zM168.8 247.0l-3.4 6.8h6.8zM170.8 241.2l-3.4 6.8h6.8zM154.8 260.7l-3.4 6.8h6.8zM128.6 284.5l-3.4 6.8h6.8zM152.0 261.4l-3.4 6.8h6.8zM194.5 216.9l-3.4 6.8h6.8zM167.0 246.3l-3.4 6.8h6.8zM108.9 304.0l-3.4 6.8h6.8zM144.6 265.3l-3.4 6.8h6.8zM118.3 295.6l-3.4 6.8h6.8zM116.7 295.4l-3.4 6.8h6.8zM128.4 283.5l-3.4 6.8h6.8zM186.4 226.2l-3.4 6.8h6.8zM118.4 294.9l-3.4 6.8h6.8zM167.0 248.4l-3.4 6.8h6.8zM93.3 320.1l-3.4 6.8h6.8zM104.6 308.3l-3.4 6.8h6.8zM198.3 212.0l-3.4 6.8h6.8zM196.6 213.6l-3.4 6.8h6.8zM196.7 215.7l-3.4 6.8h6.8zM114.3 301.6l-3.4 6.8h6.8zM175.7 234.2l-3.4 6.8h6.8zM179.1 229.9l-3.4 6.8h6.8zM159.7 254.2l-3.4 6.8h6.8zM143.5 266.9l-3.4 6.8h6.8zM125.7 289.7l-3.4 6.8h6.8zM147.4 259.7l-3.4 6.8h6.8zM143.4 268.1l-3.4 6.8h6.8zM149.8 264.3l-3.4 6.8h6.8zM146.2 265.7l-3.4 6.8h6.8zM113.4 298.3l-3.4 6.8h6.8zM119.3 290.9l-3.4 6.8h6.8zM123.3 288.1l-3.4 6.8h6.8zM179.0 236.0l-3.4 6.8h6.8zM163.8 248.2l-3.4 6.8h6.8zM121.4 290.6l-3.4 6.8h6.8zM194.6 217.2l-3.4 6.8h6.8zM169.1 243.7l-3.4 6.8h6.8zM125.6 282.3l-3.4 6.8h6.8zM166.5 242.3l-3.4 6.8h6.8zM120.7 292.0l-3.4 6.8h6.8zM177.0 235.8l-3.4 6.8h6.8zM202.0 212.0l-3.4 6.8h6.8zM172.5 240.5l-3.4 6.8h6.8zM171.4 242.2l-3.4 6.8h6.8zM141.8 270.1l-3.4 6.8h6.8zM164.9 242.9l-3.4 6.8h6.8zM104.1 310.1l-3.4 6.8h6.8zM178.4 233.4l-3.4 6.8h6.8zM155.1 261.0l-3.4 6.8h6.8zM196.4 216.6l-3.4 6.8h6.8zM205.3 206.0l-3.4 6.8h6.8zM137.4 274.2l-3.4 6.8h6.8zM112.9 298.0l-3.4 6.8h6.8zM129.6 281.5l-3.4 6.8h6.8zM202.8 208.0l-3.4 6.8h6.8zM175.7 234.8l-3.4 6.8h6.8zM119.8 294.3l-3.4 6.8h6.8zM115.4 298.6l-3.4 6.8h6.8zM125.0 289.8l-3.4 6.8h6.8zM120.5 290.5l-3.4 6.8h6.8zM136.5 275.2l-3.4 6.8h6.8zM185.7 224.8l-3.4 6.8h6.8zM196.3 215.5l-3.4 6.8h6.8zM204.0 209.6l-3.4 6.8h6.8zM147.5 267.7l-3.4 6.8h6.8zM186.5 203.5l-3.4 6.8h6.8zM192.0 219.2l-3.4 6.8h6.8zM131.3 284.5l-3.4 6.8h6.8zM191.1 219.6l-3.4 6.8h6.8zM181.6 231.0l-3.4 6.8h6.8zM175.6 235.4l-3.4 6.8h6.8zM149.1 261.6l-3.4 6.8h6.8zM108.7 302.5l-3.4 6.8h6.8zM136.0 274.5l-3.4 6.8h6.8zM181.9 228.1l-3.4 6.8h6.8zM137.1 278.2l-3.4 6.8h6.8zM124.7 285.2l-3.4 6.8h6.8zM136.2 278.7l-3.4 6.8h6.8zM159.5 277.4l-3.4 6.8h6.8zM119.8 290.9l-3.4 6.8h6.8zM102.5 309.3l-3.4 6.8h6.8zM151.8 260.1l-3.4 6.8h6.8zM183.8 227.3l-3.4 6.8h6.8zM135.1 277.9l-3.4 6.8h6.8zM186.7 221.3l-3.4 6.8h6.8zM155.4 256.8l-3.4 6.8h6.8zM199.0 213.0l-3.4 6.8h6.8zM155.6 256.6l-3.4 6.8h6.8zM167.3 246.4l-3.4 6.8h6.8z" fill="none" stroke="#ff0000" stroke-opacity="0.24" stroke-width="1.0"/>
<g fill="none" stroke="#0000ff" stroke-opacity="0.4"><use href="#st" x="167.4" y="249.1"/><use href="#st" x="207.4" y="208"/><use href="#st" x="184.7" y="230"/><use href="#st" x="171.9" y="241.9"/><use href="#st" x="111" y="311.9"/><use href="#st" x="195.9" y="218.4"/><use href="#st" x="170.7" y="245.3"/><use href="#st" x="126.8" y="288.5"/><use href="#st" x="193.2" y="220.1"/><use href="#st" x="159.3" y="255.1"/><use href="#st" x="95" y="324.5"/><use href="#st" x="167.7" y="243.9"/><use href="#st" x="146.8" y="268.4"/><use href="#st" x="160.7" y="259.3"/><use href="#st" x="111.7" y="308.2"/><use href="#st" x="118.4" y="297.7"/><use href="#st" x="142" y="272.9"/><use href="#st" x="121.7" y="293"/><use href="#st" x="168" y="248.8"/><use href="#st" x="199.5" y="246.3"/><use href="#st" x="138.5" y="276.3"/><use href="#st" x="165.7" y="249.1"/><use href="#st" x="139.6" y="274.9"/><use href="#st" x="105.5" y="312.8"/><use href="#st" x="156" y="260.2"/><use href="#st" x="182.2" y="231.2"/><use href="#st" x="84.4" y="331.7"/><use href="#st" x="195.7" y="219.9"/><use href="#st" x="196" y="217.5"/><use href="#st" x="84.3" y="331.9"/><use href="#st" x="118.6" y="300.6"/><use href="#st" x="199.3" y="214.6"/><use href="#st" x="154.6" y="266"/><use href="#st" x="198" y="215.7"/><use href="#st" x="87.1" y="333.3"/><use href="#st" x="108" y="306.6"/><use href="#st" x="88.3" y="328.5"/><use href="#st" x="186.4" y="232.9"/><use href="#st" x="120.7" y="296.1"/><use href="#st" x="181.7" y="235.1"/><use href="#st" x="197.9" y="219.9"/><use href="#st" x="105.4" y="320.9"/><use href="#st" x="136.2" y="277.9"/><use href="#st" x="164.9" y="254"/><use href="#st" x="139.7" y="275.8"/><use href="#st" x="196.8" y="218.4"/><use href="#st" x="169.2" y="245.7"/></g>
<path d="M204.5 206.3l-3.4 6.8h6.8zM139.9 276.2l-3.4 6.8h6.8zM167.2 245.4l-3.4 6.8h6.8zM162.3 249.3l-3.4 6.8h6.8zM147.2 264.9l-3.4 6.8h6.8zM177.2 237.4l-3.4 6.8h6.8zM113.2 298.3l-3.4 6.8h6.8zM158.0 221.0l-3.4 6.8h6.8zM184.9 228.4l-3.4 6.8h6.8zM188.2 227.1l-3.4 6.8h6.8zM163.0 251.3l-3.4 6.8h6.8zM121.3 290.3l-3.4 6.8h6.8zM174.0 238.5l-3.4 6.8h6.8zM139.9 272.3l-3.4 6.8h6.8zM87.3 324.4l-3.4 6.8h6.8zM166.8 249.1l-3.4 6.8h6.8zM136.7 274.5l-3.4 6.8h6.8zM119.8 292.4l-3.4 6.8h6.8zM186.7 230.6l-3.4 6.8h6.8zM139.5 271.3l-3.4 6.8h6.8zM163.5 246.2l-3.4 6.8h6.8zM154.3 260.4l-3.4 6.8h6.8zM113.7 301.6l-3.4 6.8h6.8zM173.4 242.9l-3.4 6.8h6.8zM104.3 304.2l-3.4 6.8h6.8zM101.1 311.7l-3.4 6.8h6.8zM128.8 286.5l-3.4 6.8h6.8zM137.1 276.4l-3.4 6.8h6.8zM131.1 281.5l-3.4 6.8h6.8zM174.6 237.3l-3.4 6.8h6.8zM170.2 243.2l-3.4 6.8h6.8zM137.6 273.5l-3.4 6.8h6.8zM162.0 248.4l-3.4 6.8h6.8zM163.7 250.1l-3.4 6.8h6.8zM115.8 296.4l-3.4 6.8h6.8zM182.4 230.9l-3.4 6.8h6.8zM173.7 237.4l-3.4 6.8h6.8zM116.9 293.5l-3.4 6.8h6.8zM195.4 213.7l-3.4 6.8h6.8zM157.4 258.8l-3.4 6.8h6.8zM167.9 243.4l-3.4 6.8h6.8zM146.5 265.2l-3.4 6.8h6.8zM120.5 293.0l-3.4 6.8h6.8zM136.9 274.8l-3.4 6.8h6.8zM206.2 205.3l-3.4 6.8h6.8zM203.2 211.9l-3.4 6.8h6.8zM111.1 301.5l-3.4 6.8h6.8zM168.7 245.7l-3.4 6.8h6.8zM161.8 249.3l-3.4 6.8h6.8zM188.8 223.1l-3.4 6.8h6.8zM114.8 298.8l-3.4 6.8h6.8zM100.3 313.2l-3.4 6.8h6.8zM174.7 252.9l-3.4 6.8h6.8zM187.3 223.1l-3.4 6.8h6.8zM161.4 248.9l-3.4 6.8h6.8zM183.9 229.3l-3.4 6.8h6.8zM107.3 305.9l-3.4 6.8h6.8zM206.4 205.7l-3.4 6.8h6.8zM182.3 230.4l-3.4 6.8h6.8zM158.7 251.6l-3.4 6.8h6.8zM162.9 251.2l-3.4 6.8h6.8zM141.0 270.0l-3.4 6.8h6.8zM145.5 266.3l-3.4 6.8h6.8zM194.1 217.8l-3.4 6.8h6.8zM148.6 265.7l-3.4 6.8h6.8zM179.2 231.6l-3.4 6.8h6.8zM146.9 265.7l-3.4 6.8h6.8zM170.4 239.2l-3.4 6.8h6.8zM119.9 296.2l-3.4 6.8h6.8zM138.6 275.8l-3.4 6.8h6.8zM200.5 215.0l-3.4 6.8h6.8zM203.8 210.6l-3.4 6.8h6.8zM143.5 269.7l-3.4 6.8h6.8zM151.9 257.4l-3.4 6.8h6.8zM117.1 296.3l-3.4 6.8h6.8zM99.9 312.7l-3.4 6.8h6.8zM108.6 302.7l-3.4 6.8h6.8zM191.1 221.9l-3.4 6.8h6.8zM170.8 241.8l-3.4 6.8h6.8zM152.0 257.4l-3.4 6.8h6.8zM166.6 246.7l-3.4 6.8h6.8zM199.1 210.1l-3.4 6.8h6.8zM118.9 292.4l-3.4 6.8h6.8zM161.5 251.4l-3.4 6.8h6.8zM108.1 306.3l-3.4 6.8h6.8zM154.4 258.4l-3.4 6.8h6.8zM115.7 293.2l-3.4 6.8h6.8zM207.0 219.9l-3.4 6.8h6.8zM113.4 299.1l-3.4 6.8h6.8zM171.0 236.8l-3.4 6.8h6.8zM127.0 286.6l-3.4 6.8h6.8zM106.7 307.5l-3.4 6.8h6.8zM194.4 214.9l-3.4 6.8h6.8zM109.4 304.6l-3.4 6.8h6.8zM134.1 279.2l-3.4 6.8h6.8zM139.6 273.9l-3.4 6.8h6.8zM139.9 270.3l-3.4 6.8h6.8zM188.3 224.2l-3.4 6.8h6.8zM159.7 252.4l-3.4 6.8h6.8zM140.3 267.0l-3.4 6.8h6.8zM111.7 300.5l-3.4 6.8h6.8zM146.8 265.4l-3.4 6.8h6.8zM197.4 213.8l-3.4 6.8h6.8zM204.8 207.6l-3.4 6.8h6.8zM154.1 261.6l-3.4 6.8h6.8zM117.8 295.6l-3.4 6.8h6.8zM173.6 274.8l-3.4 6.8h6.8zM128.3 282.0l-3.4 6.8h6.8zM129.6 282.7l-3.4 6.8h6.8zM114.6 295.7l-3.4 6.8h6.8zM183.4 227.9l-3.4 6.8h6.8zM129.2 285.9l-3.4 6.8h6.8zM166.7 245.8l-3.4 6.8h6.8zM190.2 222.0l-3.4 6.8h6.8zM122.4 289.6l-3.4 6.8h6.8zM137.2 276.1l-3.4 6.8h6.8zM110.0 303.3l-3.4 6.8h6.8zM200.5 213.5l-3.4 6.8h6.8zM124.5 289.5l-3.4 6.8h6.8zM195.7 216.8l-3.4 6.8h6.8zM190.8 223.1l-3.4 6.8h6.8zM121.8 287.9l-3.4 6.8h6.8zM205.4 206.6l-3.4 6.8h6.8zM121.3 292.6l-3.4 6.8h6.8zM124.5 289.7l-3.4 6.8h6.8zM161.2 253.3l-3.4 6.8h6.8zM179.7 232.6l-3.4 6.8h6.8zM131.3 284.0l-3.4 6.8h6.8zM154.4 256.8l-3.4 6.8h6.8zM163.6 247.8l-3.4 6.8h6.8zM130.5 280.9l-3.4 6.8h6.8zM172.5 238.9l-3.4 6.8h6.8zM176.9 231.2l-3.4 6.8h6.8zM132.7 282.3l-3.4 6.8h6.8zM183.4 231.4l-3.4 6.8h6.8zM129.2 283.2l-3.4 6.8h6.8zM107.2 305.8l-3.4 6.8h6.8zM206.4 206.6l-3.4 6.8h6.8zM111.4 302.5l-3.4 6.8h6.8zM120.5 294.5l-3.4 6.8h6.8zM133.8 280.9l-3.4 6.8h6.8zM198.6 210.6l-3.4 6.8h6.8zM168.1 245.8l-3.4 6.8h6.8zM98.7 315.1l-3.4 6.8h6.8zM106.8 307.5l-3.4 6.8h6.8zM175.5 236.6l-3.4 6.8h6.8zM110.4 304.6l-3.4 6.8h6.8zM183.0 226.8l-3.4 6.8h6.8z" fill="none" stroke="#ff0000" stroke-opacity="0.24" stroke-width="1.0"/>
<path d="M183.0 233.0l-3.4 6.8h6.8zM147.4 266.7l-3.4 6.8h6.8zM134.7 279.9l-3.4 6.8h6.8zM171.1 244.5l-3.4 6.8h6.8zM199.4 213.4l-3.4 6.8h6.8zM126.0 284.9l-3.4 6.8h6.8zM132.7 282.6l-3.4 6.8h6.8zM133.5 278.9l-3.4 6.8h6.8zM184.9 231.5l-3.4 6.8h6.8zM193.8 218.6l-3.4 6.8h6.8zM128.9 282.5l-3.4 6.8h6.8zM205.3 209.5l-3.4 6.8h6.8zM133.4 280.2l-3.4 6.8h6.8zM207.2 204.6l-3.4 6.8h6.8zM158.3 256.4l-3.4 6.8h6.8zM144.1 266.4l-3.4 6.8h6.8zM186.3 222.3l-3.4 6.8h6.8zM170.5 241.9l-3.4 6.8h6.8zM119.1 293.5l-3.4 6.8h6.8zM144.2 267.2l-3.4 6.8h6.8zM176.6 237.6l-3.4 6.8h6.8zM181.4 236.2l-3.4 6.8h6.8zM159.7 250.9l-3.4 6.8h6.8zM130.9 237.8l-3.4 6.8h6.8zM146.1 267.3l-3.4 6.8h6.8zM214.6 245.6l-3.4 6.8h6.8zM193.4 217.4l-3.4 6.8h6.8zM95.1 319.0l-3.4 6.8h6.8zM203.3 209.6l-3.4 6.8h6.8zM158.2 250.5l-3.4 6.8h6.8zM166.4 246.6l-3.4 6.8h6.8zM173.3 243.0l-3.4 6.8h6.8zM203.9 206.6l-3.4 6.8h6.8zM157.1 260.3l-3.4 6.8h6.8zM184.4 227.3l-3.4 6.8h6.8zM154.9 264.5l-3.4 6.8h6.8zM187.1 227.8l-3.4 6.8h6.8zM100.9 312.1l-3.4 6.8h6.8zM147.0 266.2l-3.4 6.8h6.8zM120.4 294.4l-3.4 6.8h6.8zM216.3 250.0l-3.4 6.8h6.8zM114.3 301.4l-3.4 6.8h6.8zM201.1 210.8l-3.4 6.8h6.8zM197.9 214.8l-3.4 6.8h6.8zM153.9 258.2l-3.4 6.8h6.8zM143.2 269.9l-3.4 6.8h6.8zM109.5 304.1l-3.4 6.8h6.8zM122.7 290.0l-3.4 6.8h6.8zM122.3 287.4l-3.4 6.8h6.8zM140.2 272.1l-3.4 6.8h6.8zM200.7 212.8l-3.4 6.8h6.8zM106.9 307.0l-3.4 6.8h6.8zM195.5 214.4l-3.4 6.8h6.8zM182.8 228.3l-3.4 6.8h6.8zM163.3 245.9l-3.4 6.8h6.8zM151.5 257.4l-3.4 6.8h6.8zM128.2 283.6l-3.4 6.8h6.8zM191.4 221.4l-3.4 6.8h6.8zM143.0 269.9l-3.4 6.8h6.8zM154.8 259.5l-3.4 6.8h6.8zM202.1 208.0l-3.4 6.8h6.8zM171.9 240.9l-3.4 6.8h6.8zM122.8 293.2l-3.4 6.8h6.8zM207.0 204.3l-3.4 6.8h6.8zM145.1 274.4l-3.4 6.8h6.8zM152.5 260.8l-3.4 6.8h6.8zM142.5 267.9l-3.4 6.8h6.8zM123.7 291.9l-3.4 6.8h6.8zM172.6 242.8l-3.4 6.8h6.8zM135.5 277.8l-3.4 6.8h6.8zM109.0 303.2l-3.4 6.8h6.8zM160.1 253.5l-3.4 6.8h6.8zM110.2 303.8l-3.4 6.8h6.8zM119.8 292.3l-3.4 6.8h6.8zM156.1 258.9l-3.4 6.8h6.8zM123.2 289.0l-3.4 6.8h6.8zM170.2 243.9l-3.4 6.8h6.8zM108.5 305.0l-3.4 6.8h6.8zM188.1 223.7l-3.4 6.8h6.8zM123.7 288.5l-3.4 6.8h6.8zM95.8 316.6l-3.4 6.8h6.8zM157.6 254.2l-3.4 6.8h6.8zM141.8 273.4l-3.4 6.8h6.8zM125.2 291.9l-3.4 6.8h6.8zM171.6 237.3l-3.4 6.8h6.8zM146.6 268.9l-3.4 6.8h6.8zM171.6 242.6l-3.4 6.8h6.8zM129.1 285.7l-3.4 6.8h6.8zM203.0 210.5l-3.4 6.8h6.8zM191.9 217.1l-3.4 6.8h6.8zM121.1 293.6l-3.4 6.8h6.8zM207.8 204.9l-3.4 6.8h6.8zM180.3 233.3l-3.4 6.8h6.8zM152.4 261.4l-3.4 6.8h6.8zM104.5 307.1l-3.4 6.8h6.8zM141.6 270.0l-3.4 6.8h6.8zM179.8 232.2l-3.4 6.8h6.8zM137.7 278.7l-3.4 6.8h6.8zM103.6 308.5l-3.4 6.8h6.8zM169.5 239.9l-3.4 6.8h6.8zM102.9 309.6l-3.4 6.8h6.8zM175.1 234.1l-3.4 6.8h6.8zM141.2 269.5l-3.4 6.8h6.8zM117.3 295.5l-3.4 6.8h6.8zM178.0 236.0l-3.4 6.8h6.8zM132.6 277.8l-3.4 6.8h6.8zM91.7 320.5l-3.4 6.8h6.8zM157.6 254.9l-3.4 6.8h6.8zM186.4 225.6l-3.4 6.8h6.8zM161.6 252.1l-3.4 6.8h6.8zM119.5 292.4l-3.4 6.8h6.8zM179.7 228.3l-3.4 6.8h6.8zM125.0 288.9l-3.4 6.8h6.8zM125.1 288.2l-3.4 6.8h6.8zM122.0 292.0l-3.4 6.8h6.8zM146.5 267.8l-3.4 6.8h6.8zM147.6 264.5l-3.4 6.8h6.8zM202.1 206.9l-3.4 6.8h6.8zM169.6 249.6l-3.4 6.8h6.8zM149.4 269.2l-3.4 6.8h6.8zM177.8 232.2l-3.4 6.8h6.8zM200.8 210.5l-3.4 6.8h6.8zM179.7 234.7l-3.4 6.8h6.8zM190.0 222.5l-3.4 6.8h6.8zM99.9 314.0l-3.4 6.8h6.8zM119.1 293.9l-3.4 6.8h6.8zM135.2 279.7l-3.4 6.8h6.8zM98.4 313.6l-3.4 6.8h6.8zM147.1 265.9l-3.4 6.8h6.8zM178.5 237.7l-3.4 6.8h6.8zM116.2 296.3l-3.4 6.8h6.8zM201.1 253.0l-3.4 6.8h6.8zM99.1 314.8l-3.4 6.8h6.8zM172.6 238.6l-3.4 6.8h6.8zM131.9 277.0l-3.4 6.8h6.8zM147.7 266.5l-3.4 6.8h6.8zM140.1 266.2l-3.4 6.8h6.8zM112.1 301.2l-3.4 6.8h6.8zM167.2 243.3l-3.4 6.8h6.8zM159.4 252.0l-3.4 6.8h6.8zM207.3 205.9l-3.4 6.8h6.8zM141.2 276.4l-3.4 6.8h6.8zM187.1 224.7l-3.4 6.8h6.8zM172.8 241.2l-3.4 6.8h6.8zM168.7 241.1l-3.4 6.8h6.8zM201.3 211.1l-3.4 6.8h6.8zM150.9 261.2l-3.4 6.8h6.8zM155.3 252.9l-3.4 6.8h6.8z" fill="none" stroke="#ff0000" stroke-opacity="0.24" stroke-width="1.0"/>
<g fill="none" stroke="#0000ff" stroke-opacity="0.4"><use href="#st" x="104.7" y="312.1"/><use href="#st" x="110.2" y="305.3"/><use href="#st" x="203.1" y="207.3"/><use href="#st" x="176.8" y="210"/><use href="#st" x="88.5" y="330.9"/><use href="#st" x="147" y="270.1"/><use href="#st" x="188.6" y="226.3"/><use href="#st" x="147.6" y="267.9"/><use href="#st" x="113.2" y="302.3"/><use href="#st" x="195.1" y="219.4"/><use href="#st" x="102.4" y="314.1"/><use href="#st" x="117.9" y="300.8"/><use href="#st" x="114.1" y="300.9"/><use href="#st" x="201.7" y="213.1"/><use href="#st" x="102" y="309.4"/><use href="#st" x="204.2" y="222.2"/><use href="#st" x="180.4" y="240.3"/><use href="#st" x="105" y="314.8"/><use href="#st" x="87.8" y="326.1"/><use href="#st" x="137.9" y="276.1"/><use href="#st" x="129" y="289.5"/><use href="#st" x="124.5" y="288.8"/><use href="#st" x="191.5" y="222"/><use href="#st" x="178" y="237.3"/><use href="#st" x="111.2" y="306.1"/><use href="#st" x="196.9" y="212.9"/><use href="#st" x="183.5" y="235.3"/><use href="#st" x="192.1" y="223.1"/><use href="#st" x="208.2" y="211.3"/><use href="#st" x="122" y="294.5"/><use href="#st" x="148" y="268.9"/><use href="#st" x="86.2" y="332.8"/><use href="#st" x="158.1" y="257"/><use href="#st" x="99.4" y="317.8"/><use href="#st" x="142.3" y="274.4"/><use href="#st" x="152.1" y="264"/><use href="#st" x="196.6" y="214"/><use href="#st" x="150.9" y="268.3"/><use href="#st" x="148" y="260.8"/><use href="#st" x="93.2" y="322.9"/><use href="#st" x="179.6" y="235"/><use href="#st" x="128.9" y="288.2"/><use href="#st" x="116" y="299.8"/><use href="#st" x="86.8" y="329.3"/><use href="#st" x="130.7" y="281.4"/><use href="#st" x="195.3" y="220.1"/><use href="#st" x="136.6" y="282.4"/></g>
<path d="M159.4 252.2l-3.4 6.8h6.8zM177.6 262.1l-3.4 6.8h6.8zM188.7 224.9l-3.4 6.8h6.8zM153.7 260.2l-3.4 6.8h6.8zM175.0 237.0l-3.4 6.8h6.8zM133.5 278.0l-3.4 6.8h6.8zM91.6 321.5l-3.4 6.8h6.8zM106.1 309.9l-3.4 6.8h6.8zM161.7 249.0l-3.4 6.8h6.8zM112.6 300.6l-3.4 6.8h6.8zM146.3 266.5l-3.4 6.8h6.8zM122.3 291.6l-3.4 6.8h6.8zM172.3 239.9l-3.4 6.8h6.8zM139.9 273.8l-3.4 6.8h6.8zM112.8 301.4l-3.4 6.8h6.8zM139.7 273.5l-3.4 6.8h6.8zM99.6 312.7l-3.4 6.8h6.8zM178.7 233.2l-3.4 6.8h6.8zM130.8 281.5l-3.4 6.8h6.8zM200.4 211.3l-3.4 6.8h6.8zM106.8 308.5l-3.4 6.8h6.8zM182.1 231.9l-3.4 6.8h6.8zM195.5 217.3l-3.4 6.8h6.8zM204.4 208.9l-3.4 6.8h6.8zM135.9 275.5l-3.4 6.8h6.8zM146.1 266.3l-3.4 6.8h6.8zM202.0 217.3l-3.4 6.8h6.8zM140.0 275.5l-3.4 6.8h6.8zM154.7 257.1l-3.4 6.8h6.8zM123.3 290.0l-3.4 6.8h6.8zM135.8 276.4l-3.4 6.8h6.8zM197.3 215.0l-3.4 6.8h6.8zM188.8 221.3l-3.4 6.8h6.8zM189.7 222.4l-3.4 6.8h6.8zM93.6 319.4l-3.4 6.8h6.8zM183.9 229.5l-3.4 6.8h6.8zM121.8 292.1l-3.4 6.8h6.8zM203.2 208.7l-3.4 6.8h6.8zM148.9 267.1l-3.4 6.8h6.8zM95.1 316.9l-3.4 6.8h6.8zM131.5 280.8l-3.4 6.8h6.8zM158.3 254.5l-3.4 6.8h6.8zM96.8 317.0l-3.4 6.8h6.8zM157.3 254.0l-3.4 6.8h6.8zM168.5 245.9l-3.4 6.8h6.8zM180.6 233.1l-3.4 6.8h6.8zM119.9 293.3l-3.4 6.8h6.8zM144.3 265.0l-3.4 6.8h6.8zM151.2 260.0l-3.4 6.8h6.8zM157.4 254.0l-3.4 6.8h6.8zM133.5 280.0l-3.4 6.8h6.8zM185.9 225.9l-3.4 6.8h6.8zM142.1 269.7l-3.4 6.8h6.8zM163.7 251.4l-3.4 6.8h6.8zM180.5 230.5l-3.4 6.8h6.8zM97.2 317.3l-3.4 6.8h6.8zM180.3 235.0l-3.4 6.8h6.8zM206.5 205.2l-3.4 6.8h6.8zM150.4 260.1l-3.4 6.8h6.8zM131.1 273.9l-3.4 6.8h6.8zM147.4 264.4l-3.4 6.8h6.8zM192.8 221.0l-3.4 6.8h6.8zM179.8 229.5l-3.4 6.8h6.8zM113.4 296.9l-3.4 6.8h6.8zM195.0 217.4l-3.4 6.8h6.8zM197.6 213.5l-3.4 6.8h6.8zM113.3 298.4l-3.4 6.8h6.8zM196.1 214.6l-3.4 6.8h6.8zM137.8 274.7l-3.4 6.8h6.8zM193.9 217.7l-3.4 6.8h6.8zM117.1 297.7l-3.4 6.8h6.8zM138.8 274.4l-3.4 6.8h6.8zM129.0 287.7l-3.4 6.8h6.8zM202.9 207.9l-3.4 6.8h6.8zM196.6 217.5l-3.4 6.8h6.8zM187.1 223.1l-3.4 6.8h6.8zM136.8 277.8l-3.4 6.8h6.8zM138.9 274.5l-3.4 6.8h6.8zM154.5 255.7l-3.4 6.8h6.8zM147.9 266.7l-3.4 6.8h6.8zM142.3 273.2l-3.4 6.8h6.8zM109.8 302.7l-3.4 6.8h6.8zM105.2 309.0l-3.4 6.8h6.8zM123.4 292.0l-3.4 6.8h6.8zM184.2 221.9l-3.4 6.8h6.8zM93.9 320.1l-3.4 6.8h6.8zM160.4 251.4l-3.4 6.8h6.8zM185.9 224.4l-3.4 6.8h6.8zM172.0 241.4l-3.4 6.8h6.8zM138.2 268.5l-3.4 6.8h6.8zM106.7 306.1l-3.4 6.8h6.8zM142.1 265.8l-3.4 6.8h6.8zM144.1 271.9l-3.4 6.8h6.8zM144.1 269.6l-3.4 6.8h6.8zM108.3 306.0l-3.4 6.8h6.8zM202.0 211.8l-3.4 6.8h6.8zM118.1 292.1l-3.4 6.8h6.8zM132.1 282.1l-3.4 6.8h6.8zM162.0 253.7l-3.4 6.8h6.8zM159.4 252.3l-3.4 6.8h6.8zM143.2 268.1l-3.4 6.8h6.8zM98.0 315.7l-3.4 6.8h6.8zM182.5 229.9l-3.4 6.8h6.8zM191.1 219.4l-3.4 6.8h6.8zM100.9 313.4l-3.4 6.8h6.8zM177.5 235.8l-3.4 6.8h6.8zM97.6 316.0l-3.4 6.8h6.8zM164.8 251.6l-3.4 6.8h6.8zM117.4 296.5l-3.4 6.8h6.8zM119.3 292.6l-3.4 6.8h6.8zM183.7 229.8l-3.4 6.8h6.8zM133.2 275.4l-3.4 6.8h6.8zM122.2 292.3l-3.4 6.8h6.8zM148.7 260.8l-3.4 6.8h6.8zM111.8 301.7l-3.4 6.8h6.8zM155.5 261.3l-3.4 6.8h6.8zM99.1 312.4l-3.4 6.8h6.8zM107.4 304.1l-3.4 6.8h6.8zM123.5 296.4l-3.4 6.8h6.8zM159.2 249.9l-3.4 6.8h6.8zM163.9 250.8l-3.4 6.8h6.8zM117.7 293.2l-3.4 6.8h6.8zM113.3 302.1l-3.4 6.8h6.8zM184.9 230.2l-3.4 6.8h6.8zM91.1 322.3l-3.4 6.8h6.8zM152.6 259.3l-3.4 6.8h6.8zM102.1 312.8l-3.4 6.8h6.8zM109.8 303.8l-3.4 6.8h6.8zM100.8 313.0l-3.4 6.8h6.8zM154.2 259.1l-3.4 6.8h6.8zM175.6 235.6l-3.4 6.8h6.8zM185.1 229.5l-3.4 6.8h6.8zM127.4 284.2l-3.4 6.8h6.8zM115.8 295.4l-3.4 6.8h6.8zM178.3 233.4l-3.4 6.8h6.8zM129.4 282.4l-3.4 6.8h6.8zM131.7 277.8l-3.4 6.8h6.8zM107.7 304.9l-3.4 6.8h6.8zM103.2 309.8l-3.4 6.8h6.8zM174.0 239.5l-3.4 6.8h6.8zM158.4 252.6l-3.4 6.8h6.8zM124.1 289.7l-3.4 6.8h6.8zM166.7 245.6l-3.4 6.8h6.8zM178.7 235.3l-3.4 6.8h6.8zM119.1 295.5l-3.4 6.8h6.8zM194.0 216.4l-3.4 6.8h6.8zM106.8 306.3l-3.4 6.8h6.8zM174.4 241.0l-3.4 6.8h6.8z" fill="none" stroke="#ff0000" stroke-opacity="0.24" stroke-width="1.0"/>
<path d="M95.8 318.1l-3.4 6.8h6.8zM197.2 217.8l-3.4 6.8h6.8zM141.1 276.2l-3.4 6.8h6.8zM166.0 246.9l-3.4 6.8h6.8zM126.8 287.1l-3.4 6.8h6.8zM166.7 249.6l-3.4 6.8h6.8zM157.3 257.0l-3.4 6.8h6.8zM157.8 253.2l-3.4 6.8h6.8zM112.6 301.2l-3.4 6.8h6.8zM154.2 257.2l-3.4 6.8h6.8zM174.0 237.3l-3.4 6.8h6.8zM133.0 282.0l-3.4 6.8h6.8zM202.7 209.2l-3.4 6.8h6.8zM120.9 292.9l-3.4 6.8h6.8zM186.5 227.6l-3.4 6.8h6.8zM128.1 286.0l-3.4 6.8h6.8zM137.6 277.5l-3.4 6.8h6.8zM165.6 294.2l-3.4 6.8h6.8zM119.9 296.2l-3.4 6.8h6.8zM99.3 314.4l-3.4 6.8h6.8zM196.8 225.4l-3.4 6.8h6.8zM170.4 244.9l-3.4 6.8h6.8zM137.5 274.7l-3.4 6.8h6.8zM179.1 235.5l-3.4 6.8h6.8zM120.9 294.2l-3.4 6.8h6.8zM172.8 279.1l-3.4 6.8h6.8zM168.5 243.5l-3.4 6.8h6.8zM181.8 232.5l-3.4 6.8h6.8zM186.9 227.0l-3.4 6.8h6.8zM121.6 290.7l-3.4 6.8h6.8zM192.3 220.0l-3.4 6.8h6.8zM150.6 263.2l-3.4 6.8h6.8zM110.6 304.5l-3.4 6.8h6.8zM132.8 280.2l-3.4 6.8h6.8zM110.1 303.5l-3.4 6.8h6.8zM153.8 257.1l-3.4 6.8h6.8zM106.5 304.8l-3.4 6.8h6.8zM173.1 237.7l-3.4 6.8h6.8zM181.8 233.3l-3.4 6.8h6.8zM126.6 286.3l-3.4 6.8h6.8zM126.6 289.1l-3.4 6.8h6.8zM139.1 273.4l-3.4 6.8h6.8zM125.8 285.7l-3.4 6.8h6.8zM201.9 210.6l-3.4 6.8h6.8zM96.8 316.0l-3.4 6.8h6.8zM177.0 237.2l-3.4 6.8h6.8zM199.5 204.7l-3.4 6.8h6.8zM131.9 281.3l-3.4 6.8h6.8zM165.0 247.3l-3.4 6.8h6.8zM140.7 273.5l-3.4 6.8h6.8zM125.7 286.7l-3.4 6.8h6.8zM124.0 289.4l-3.4 6.8h6.8zM189.2 220.8l-3.4 6.8h6.8zM130.7 283.4l-3.4 6.8h6.8zM185.2 227.7l-3.4 6.8h6.8zM124.3 288.8l-3.4 6.8h6.8zM157.0 253.1l-3.4 6.8h6.8zM189.5 222.4l-3.4 6.8h6.8zM127.1 287.3l-3.4 6.8h6.8zM195.9 215.9l-3.4 6.8h6.8zM135.0 279.3l-3.4 6.8h6.8zM153.9 263.0l-3.4 6.8h6.8zM107.8 306.0l-3.4 6.8h6.8zM180.8 237.9l-3.4 6.8h6.8zM147.2 267.8l-3.4 6.8h6.8zM162.2 248.6l-3.4 6.8h6.8zM154.1 261.4l-3.4 6.8h6.8zM171.2 244.9l-3.4 6.8h6.8zM179.3 231.8l-3.4 6.8h6.8zM123.1 287.2l-3.4 6.8h6.8zM137.6 273.2l-3.4 6.8h6.8zM189.5 225.0l-3.4 6.8h6.8zM133.2 280.6l-3.4 6.8h6.8zM135.2 280.3l-3.4 6.8h6.8zM139.9 274.7l-3.4 6.8h6.8zM191.2 223.6l-3.4 6.8h6.8zM139.9 274.5l-3.4 6.8h6.8zM152.5 262.8l-3.4 6.8h6.8zM162.5 247.0l-3.4 6.8h6.8zM115.4 297.2l-3.4 6.8h6.8zM148.8 261.6l-3.4 6.8h6.8zM201.4 213.3l-3.4 6.8h6.8zM97.7 317.2l-3.4 6.8h6.8zM108.1 304.0l-3.4 6.8h6.8zM190.2 220.7l-3.4 6.8h6.8zM151.8 265.5l-3.4 6.8h6.8zM116.3 297.0l-3.4 6.8h6.8zM95.2 318.4l-3.4 6.8h6.8zM166.8 242.1l-3.4 6.8h6.8zM163.7 250.3l-3.4 6.8h6.8zM187.6 225.8l-3.4 6.8h6.8zM128.7 284.1l-3.4 6.8h6.8zM121.5 293.0l-3.4 6.8h6.8zM162.5 249.9l-3.4 6.8h6.8zM151.6 260.2l-3.4 6.8h6.8zM134.2 280.5l-3.4 6.8h6.8zM151.0 260.5l-3.4 6.8h6.8zM188.5 224.2l-3.4 6.8h6.8zM107.8 305.6l-3.4 6.8h6.8zM124.5 287.8l-3.4 6.8h6.8zM161.8 248.1l-3.4 6.8h6.8zM198.8 209.2l-3.4 6.8h6.8zM87.7 325.5l-3.4 6.8h6.8zM161.8 252.4l-3.4 6.8h6.8zM122.3 291.4l-3.4 6.8h6.8zM197.5 223.6l-3.4 6.8h6.8zM198.1 215.0l-3.4 6.8h6.8zM161.1 253.0l-3.4 6.8h6.8zM196.9 218.8l-3.4 6.8h6.8zM120.9 287.4l-3.4 6.8h6.8zM185.8 229.4l-3.4 6.8h6.8zM123.8 288.2l-3.4 6.8h6.8zM162.2 249.6l-3.4 6.8h6.8zM150.0 265.9l-3.4 6.8h6.8zM193.4 220.3l-3.4 6.8h6.8zM174.3 240.1l-3.4 6.8h6.8zM185.1 230.7l-3.4 6.8h6.8zM155.7 256.4l-3.4 6.8h6.8zM194.8 217.2l-3.4 6.8h6.8zM208.2 205.5l-3.4 6.8h6.8zM198.0 239.7l-3.4 6.8h6.8zM160.8 280.9l-3.4 6.8h6.8zM127.0 284.9l-3.4 6.8h6.8zM205.1 206.1l-3.4 6.8h6.8zM190.3 221.6l-3.4 6.8h6.8zM122.9 289.6l-3.4 6.8h6.8zM194.9 215.2l-3.4 6.8h6.8zM203.0 210.1l-3.4 6.8h6.8zM151.8 258.8l-3.4 6.8h6.8zM126.0 286.8l-3.4 6.8h6.8zM125.1 286.1l-3.4 6.8h6.8zM122.3 290.7l-3.4 6.8h6.8zM195.2 218.5l-3.4 6.8h6.8zM190.0 221.6l-3.4 6.8h6.8zM178.0 234.0l-3.4 6.8h6.8zM149.0 264.2l-3.4 6.8h6.8zM161.7 249.4l-3.4 6.8h6.8zM124.4 288.4l-3.4 6.8h6.8zM166.1 244.8l-3.4 6.8h6.8zM195.5 214.9l-3.4 6.8h6.8zM186.9 227.1l-3.4 6.8h6.8zM167.7 243.8l-3.4 6.8h6.8zM117.9 297.3l-3.4 6.8h6.8zM161.2 252.5l-3.4 6.8h6.8zM184.6 226.8l-3.4 6.8h6.8zM140.8 229.0l-3.4 6.8h6.8zM174.1 237.5l-3.4 6.8h6.8z" fill="none" stroke="#ff0000" stroke-opacity="0.24" stroke-width="1.0"/>
<g fill="none" stroke="#0000ff" stroke-opacity="0.4"><use href="#st" x="93.4" y="318.5"/><use href="#st" x="85.6" y="330.2"/><use href="#st" x="207.8" y="209"/><use href="#st" x="125.3" y="294.6"/><use href="#st" x="189.2" y="229"/><use href="#st" x="182.4" y="230.5"/><use href="#st" x="155.7" y="255.7"/><use href="#st" x="177.7" y="238.6"/><use href="#st" x="165.4" y="256.8"/><use href="#st" x="191.8" y="223.6"/><use href="#st" x="181.8" y="231.5"/><use href="#st" x="171.3" y="244.1"/><use href="#st" x="88.9" y="325.3"/><use href="#st" x="212" y="224.6"/><use href="#st" x="146.3" y="270.2"/><use href="#st" x="139.1" y="276"/><use href="#st" x="149.9" y="263.8"/><use href="#st" x="182.9" y="230.7"/><use href="#st" x="94.9" y="321.9"/><use href="#st" x="149.6" y="268.8"/><use href="#st" x="148.6" y="266.4"/><use href="#st" x="139.1" y="281.4"/><use href="#st" x="145.1" y="270.8"/><use href="#st" x="204.1" y="211.4"/><use href="#st" x="128.3" y="291.1"/><use href="#st" x="205.1" y="209.7"/><use href="#st" x="194.3" y="223.7"/><use href="#st" x="169.7" y="249.1"/><use href="#st" x="115.7" y="302.4"/><use href="#st" x="116.5" y="299.1"/><use href="#st" x="178" y="238.1"/><use href="#st" x="134.8" y="280"/><use href="#st" x="174.3" y="241"/><use href="#st" x="150.4" y="267.3"/><use href="#st" x="147" y="270.9"/><use href="#st" x="113.9" y="305.7"/><use href="#st" x="175.9" y="234.7"/><use href="#st" x="191" y="224.6"/><use href="#st" x="121" y="294.2"/><use href="#st" x="143" y="273.2"/><use href="#st" x="180" y="234.8"/><use href="#st" x="125.3" y="290"/><use href="#st" x="148.6" y="266"/><use href="#st" x="106.5" y="296.7"/><use href="#st" x="150.3" y="264.5"/><use href="#st" x="190.4" y="224"/><use href="#st" x="163.6" y="256.1"/></g>
<path d="M164.8 250.0l-3.4 6.8h6.8zM143.9 273.5l-3.4 6.8h6.8zM120.5 293.0l-3.4 6.8h6.8zM141.8 274.5l-3.4 6.8h6.8zM190.9 221.2l-3.4 6.8h6.8zM205.0 206.3l-3.4 6.8h6.8zM119.1 293.1l-3.4 6.8h6.8zM194.0 215.7l-3.4 6.8h6.8zM187.9 223.6l-3.4 6.8h6.8zM131.3 277.1l-3.4 6.8h6.8zM141.7 272.1l-3.4 6.8h6.8zM133.6 277.9l-3.4 6.8h6.8zM193.8 217.0l-3.4 6.8h6.8zM198.0 214.0l-3.4 6.8h6.8zM139.8 274.6l-3.4 6.8h6.8zM180.5 239.9l-3.4 6.8h6.8zM204.0 207.7l-3.4 6.8h6.8zM148.8 262.3l-3.4 6.8h6.8zM194.1 215.8l-3.4 6.8h6.8zM93.3 323.2l-3.4 6.8h6.8zM141.6 268.8l-3.4 6.8h6.8zM129.3 281.8l-3.4 6.8h6.8zM131.6 282.3l-3.4 6.8h6.8zM175.7 236.4l-3.4 6.8h6.8zM160.3 253.7l-3.4 6.8h6.8zM94.6 318.5l-3.4 6.8h6.8zM197.5 217.1l-3.4 6.8h6.8zM171.7 237.2l-3.4 6.8h6.8zM189.6 219.4l-3.4 6.8h6.8zM190.3 222.1l-3.4 6.8h6.8zM174.1 235.9l-3.4 6.8h6.8zM204.9 208.4l-3.4 6.8h6.8zM158.9 253.1l-3.4 6.8h6.8zM133.4 279.1l-3.4 6.8h6.8zM119.9 291.7l-3.4 6.8h6.8zM160.0 249.5l-3.4 6.8h6.8zM138.6 273.9l-3.4 6.8h6.8zM158.3 256.0l-3.4 6.8h6.8zM172.2 241.9l-3.4 6.8h6.8zM172.9 242.2l-3.4 6.8h6.8zM179.6 233.5l-3.4 6.8h6.8zM153.4 257.8l-3.4 6.8h6.8zM158.2 252.5l-3.4 6.8h6.8zM180.4 231.4l-3.4 6.8h6.8zM195.7 217.9l-3.4 6.8h6.8zM107.5 306.8l-3.4 6.8h6.8zM176.0 236.6l-3.4 6.8h6.8zM122.3 290.9l-3.4 6.8h6.8zM161.6 251.4l-3.4 6.8h6.8zM203.1 207.8l-3.4 6.8h6.8zM187.6 224.5l-3.4 6.8h6.8zM144.5 268.7l-3.4 6.8h6.8zM211.7 234.7l-3.4 6.8h6.8zM120.3 291.8l-3.4 6.8h6.8zM112.3 304.4l-3.4 6.8h6.8zM176.4 235.6l-3.4 6.8h6.8zM103.9 305.7l-3.4 6.8h6.8zM169.7 242.8l-3.4 6.8h6.8zM191.5 222.1l-3.4 6.8h6.8zM156.4 256.3l-3.4 6.8h6.8zM176.6 226.8l-3.4 6.8h6.8zM143.6 268.1l-3.4 6.8h6.8zM123.1 293.7l-3.4 6.8h6.8zM156.3 256.5l-3.4 6.8h6.8zM137.5 276.3l-3.4 6.8h6.8zM141.1 272.9l-3.4 6.8h6.8zM167.7 245.2l-3.4 6.8h6.8zM176.2 234.6l-3.4 6.8h6.8zM137.8 289.0l-3.4 6.8h6.8zM157.1 251.3l-3.4 6.8h6.8zM184.2 227.3l-3.4 6.8h6.8zM206.1 206.9l-3.4 6.8h6.8zM151.1 258.0l-3.4 6.8h6.8zM203.3 210.3l-3.4 6.8h6.8zM124.4 288.7l-3.4 6.8h6.8zM189.2 223.3l-3.4 6.8h6.8zM157.4 256.2l-3.4 6.8h6.8zM108.5 302.8l-3.4 6.8h6.8zM154.3 258.4l-3.4 6.8h6.8zM168.2 245.4l-3.4 6.8h6.8zM202.9 210.7l-3.4 6.8h6.8zM98.4 316.4l-3.4 6.8h6.8zM117.3 292.9l-3.4 6.8h6.8zM168.4 244.4l-3.4 6.8h6.8zM165.2 246.5l-3.4 6.8h6.8zM122.9 292.9l-3.4 6.8h6.8zM142.1 275.0l-3.4 6.8h6.8zM126.3 290.4l-3.4 6.8h6.8zM167.2 246.1l-3.4 6.8h6.8zM192.5 218.3l-3.4 6.8h6.8zM114.4 297.1l-3.4 6.8h6.8zM148.5 262.6l-3.4 6.8h6.8zM131.2 279.2l-3.4 6.8h6.8zM154.2 256.6l-3.4 6.8h6.8zM141.2 272.4l-3.4 6.8h6.8zM191.5 219.6l-3.4 6.8h6.8zM98.5 313.5l-3.4 6.8h6.8zM186.0 225.6l-3.4 6.8h6.8zM101.0 310.6l-3.4 6.8h6.8zM166.1 247.4l-3.4 6.8h6.8zM151.4 263.5l-3.4 6.8h6.8zM127.2 284.3l-3.4 6.8h6.8zM119.0 295.7l-3.4 6.8h6.8zM167.2 243.6l-3.4 6.8h6.8zM196.2 214.6l-3.4 6.8h6.8zM138.9 273.0l-3.4 6.8h6.8zM137.0 268.6l-3.4 6.8h6.8zM127.8 283.8l-3.4 6.8h6.8zM101.6 312.7l-3.4 6.8h6.8zM114.6 297.8l-3.4 6.8h6.8zM137.3 275.4l-3.4 6.8h6.8zM154.4 260.5l-3.4 6.8h6.8zM144.8 269.6l-3.4 6.8h6.8zM174.6 236.2l-3.4 6.8h6.8zM121.0 293.9l-3.4 6.8h6.8zM110.3 303.3l-3.4 6.8h6.8zM146.9 268.8l-3.4 6.8h6.8zM122.7 292.7l-3.4 6.8h6.8zM157.3 212.0l-3.4 6.8h6.8zM110.6 301.2l-3.4 6.8h6.8zM138.3 278.3l-3.4 6.8h6.8zM194.2 218.6l-3.4 6.8h6.8zM208.1 205.0l-3.4 6.8h6.8zM149.2 266.9l-3.4 6.8h6.8zM138.2 312.8l-3.4 6.8h6.8zM177.2 235.7l-3.4 6.8h6.8zM179.0 234.4l-3.4 6.8h6.8zM128.5 284.7l-3.4 6.8h6.8zM107.6 305.0l-3.4 6.8h6.8zM110.6 303.2l-3.4 6.8h6.8zM130.7 283.8l-3.4 6.8h6.8zM142.3 269.4l-3.4 6.8h6.8zM180.0 233.9l-3.4 6.8h6.8zM187.2 224.1l-3.4 6.8h6.8zM159.5 254.1l-3.4 6.8h6.8zM193.9 219.8l-3.4 6.8h6.8zM201.5 211.0l-3.4 6.8h6.8zM155.5 256.1l-3.4 6.8h6.8zM131.1 288.1l-3.4 6.8h6.8zM95.2 318.5l-3.4 6.8h6.8zM201.7 210.5l-3.4 6.8h6.8zM119.0 294.8l-3.4 6.8h6.8zM125.8 289.7l-3.4 6.8h6.8zM93.3 320.2l-3.4 6.8h6.8zM135.2 276.4l-3.4 6.8h6.8zM178.8 233.7l-3.4 6.8h6.8zM168.9 239.3l-3.4 6.8h6.8zM191.9 216.4l-3.4 6.8h6.8z" fill="none" stroke="#ff0000" stroke-opacity="0.24" stroke-width="1.0"/>
<path d="M187.6 225.7l-3.4 6.8h6.8zM177.5 235.9l-3.4 6.8h6.8zM125.1 288.3l-3.4 6.8h6.8zM171.0 293.4l-3.4 6.8h6.8zM145.2 266.5l-3.4 6.8h6.8zM200.3 208.0l-3.4 6.8h6.8zM159.3 251.7l-3.4 6.8h6.8zM139.6 274.1l-3.4 6.8h6.8zM113.9 297.3l-3.4 6.8h6.8zM147.3 266.5l-3.4 6.8h6.8zM151.6 260.8l-3.4 6.8h6.8zM199.0 210.8l-3.4 6.8h6.8zM157.1 254.1l-3.4 6.8h6.8zM181.7 233.0l-3.4 6.8h6.8zM130.9 279.4l-3.4 6.8h6.8zM172.8 241.7l-3.4 6.8h6.8zM137.9 273.4l-3.4 6.8h6.8zM166.8 247.7l-3.4 6.8h6.8zM146.3 269.0l-3.4 6.8h6.8zM98.7 314.8l-3.4 6.8h6.8zM103.6 308.1l-3.4 6.8h6.8zM97.6 314.7l-3.4 6.8h6.8zM98.5 315.4l-3.4 6.8h6.8zM172.3 235.8l-3.4 6.8h6.8zM120.2 291.3l-3.4 6.8h6.8zM207.1 209.2l-3.4 6.8h6.8zM142.8 270.9l-3.4 6.8h6.8zM171.1 237.7l-3.4 6.8h6.8zM183.1 229.5l-3.4 6.8h6.8zM196.0 214.8l-3.4 6.8h6.8zM102.8 309.7l-3.4 6.8h6.8zM115.5 295.9l-3.4 6.8h6.8zM123.7 289.7l-3.4 6.8h6.8zM138.8 271.6l-3.4 6.8h6.8zM168.2 245.8l-3.4 6.8h6.8zM153.0 258.2l-3.4 6.8h6.8zM112.6 300.6l-3.4 6.8h6.8zM179.4 233.1l-3.4 6.8h6.8zM196.4 215.0l-3.4 6.8h6.8zM170.9 294.4l-3.4 6.8h6.8zM119.2 294.5l-3.4 6.8h6.8zM146.3 266.7l-3.4 6.8h6.8zM117.8 295.5l-3.4 6.8h6.8zM104.9 309.7l-3.4 6.8h6.8zM192.3 219.2l-3.4 6.8h6.8zM131.4 278.5l-3.4 6.8h6.8zM110.1 303.8l-3.4 6.8h6.8zM108.4 304.5l-3.4 6.8h6.8zM153.9 258.1l-3.4 6.8h6.8zM200.6 210.2l-3.4 6.8h6.8zM135.5 273.2l-3.4 6.8h6.8zM196.1 212.3l-3.4 6.8h6.8zM171.8 238.6l-3.4 6.8h6.8zM199.3 215.5l-3.4 6.8h6.8zM137.2 276.9l-3.4 6.8h6.8zM202.3 209.2l-3.4 6.8h6.8zM160.5 253.1l-3.4 6.8h6.8zM197.5 212.5l-3.4 6.8h6.8zM201.7 210.1l-3.4 6.8h6.8zM197.3 214.2l-3.4 6.8h6.8zM200.8 210.3l-3.4 6.8h6.8zM145.2 263.1l-3.4 6.8h6.8zM142.9 267.8l-3.4 6.8h6.8zM184.3 228.0l-3.4 6.8h6.8zM121.0 293.3l-3.4 6.8h6.8zM139.1 273.2l-3.4 6.8h6.8zM111.3 293.4l-3.4 6.8h6.8zM135.7 278.6l-3.4 6.8h6.8zM203.6 208.7l-3.4 6.8h6.8zM119.5 296.7l-3.4 6.8h6.8zM166.7 245.9l-3.4 6.8h6.8zM172.2 242.2l-3.4 6.8h6.8zM209.9 236.5l-3.4 6.8h6.8zM141.6 271.7l-3.4 6.8h6.8zM139.0 274.3l-3.4 6.8h6.8zM155.5 256.3l-3.4 6.8h6.8zM123.4 288.1l-3.4 6.8h6.8zM128.9 283.5l-3.4 6.8h6.8zM115.3 302.0l-3.4 6.8h6.8zM166.1 246.6l-3.4 6.8h6.8zM117.0 297.3l-3.4 6.8h6.8zM200.0 211.8l-3.4 6.8h6.8zM167.2 246.1l-3.4 6.8h6.8zM157.7 254.9l-3.4 6.8h6.8zM156.8 257.5l-3.4 6.8h6.8zM172.3 242.3l-3.4 6.8h6.8zM191.7 221.5l-3.4 6.8h6.8zM139.4 270.3l-3.4 6.8h6.8zM158.6 253.2l-3.4 6.8h6.8zM141.9 269.7l-3.4 6.8h6.8zM119.2 295.8l-3.4 6.8h6.8zM115.3 298.4l-3.4 6.8h6.8zM202.6 209.8l-3.4 6.8h6.8zM155.0 258.8l-3.4 6.8h6.8zM124.5 287.1l-3.4 6.8h6.8zM151.4 262.9l-3.4 6.8h6.8zM141.3 270.2l-3.4 6.8h6.8zM177.2 235.6l-3.4 6.8h6.8zM117.0 295.3l-3.4 6.8h6.8zM110.5 300.7l-3.4 6.8h6.8zM155.2 259.4l-3.4 6.8h6.8zM181.7 232.7l-3.4 6.8h6.8zM125.8 285.8l-3.4 6.8h6.8zM108.4 303.2l-3.4 6.8h6.8zM145.9 267.3l-3.4 6.8h6.8zM163.9 248.9l-3.4 6.8h6.8zM96.0 317.0l-3.4 6.8h6.8zM202.8 210.1l-3.4 6.8h6.8zM199.0 211.8l-3.4 6.8h6.8zM178.1 233.5l-3.4 6.8h6.8zM116.9 296.0l-3.4 6.8h6.8zM139.2 262.1l-3.4 6.8h6.8zM134.1 278.3l-3.4 6.8h6.8zM193.3 216.2l-3.4 6.8h6.8zM143.6 279.0l-3.4 6.8h6.8zM180.9 231.8l-3.4 6.8h6.8zM149.4 262.7l-3.4 6.8h6.8zM162.3 246.3l-3.4 6.8h6.8zM112.0 299.6l-3.4 6.8h6.8zM171.5 240.8l-3.4 6.8h6.8zM139.4 269.4l-3.4 6.8h6.8zM198.3 213.7l-3.4 6.8h6.8zM157.8 256.4l-3.4 6.8h6.8zM171.5 240.0l-3.4 6.8h6.8zM153.9 253.1l-3.4 6.8h6.8zM206.0 206.3l-3.4 6.8h6.8zM109.9 304.3l-3.4 6.8h6.8zM120.3 294.2l-3.4 6.8h6.8zM136.0 277.1l-3.4 6.8h6.8zM194.5 216.3l-3.4 6.8h6.8zM183.6 229.6l-3.4 6.8h6.8zM128.3 283.3l-3.4 6.8h6.8zM203.7 208.4l-3.4 6.8h6.8zM175.8 234.8l-3.4 6.8h6.8zM190.5 219.6l-3.4 6.8h6.8zM155.5 256.0l-3.4 6.8h6.8zM100.6 311.4l-3.4 6.8h6.8zM156.7 258.3l-3.4 6.8h6.8zM125.7 283.2l-3.4 6.8h6.8zM207.3 204.6l-3.4 6.8h6.8zM124.1 286.1l-3.4 6.8h6.8zM166.1 246.9l-3.4 6.8h6.8zM196.6 212.3l-3.4 6.8h6.8zM135.7 279.6l-3.4 6.8h6.8zM147.3 266.8l-3.4 6.8h6.8zM188.5 223.9l-3.4 6.8h6.8zM138.4 270.0l-3.4 6.8h6.8z" fill="none" stroke="#ff0000" stroke-opacity="0.24" stroke-width="1.0"/>
<g fill="none" stroke="#0000ff" stroke-opacity="0.4"><use href="#st" x="131.6" y="283.7"/><use href="#st" x="93.6" y="323.8"/><use href="#st" x="195.1" y="221.5"/><use href="#st" x="177.2" y="248.2"/><use href="#st" x="124.1" y="287.7"/><use href="#st" x="187.5" y="228.3"/><use href="#st" x="205.2" y="210.9"/><use href="#st" x="101.8" y="315.4"/><use href="#st" x="144.1" y="272.7"/><use href="#st" x="206.6" y="207.1"/><use href="#st" x="85.5" y="330.7"/><use href="#st" x="103.4" y="316"/><use href="#st" x="126.8" y="291.7"/><use href="#st" x="92.6" y="321.3"/><use href="#st" x="202.1" y="214.6"/><use href="#st" x="83.7" y="330.3"/><use href="#st" x="130.9" y="287.3"/><use href="#st" x="91.5" y="325.8"/><use href="#st" x="148.1" y="266.3"/><use href="#st" x="154.5" y="264.5"/><use href="#st" x="153.1" y="262.2"/><use href="#st" x="105.5" y="310.2"/><use href="#st" x="179.8" y="235.8"/><use href="#st" x="113.1" y="302.3"/><use href="#st" x="191.6" y="223.6"/><use href="#st" x="185.5" y="239.8"/><use href="#st" x="175.9" y="238.9"/><use href="#st" x="194.2" y="217.4"/><use href="#st" x="106.3" y="303.5"/><use href="#st" x="154.3" y="260.1"/><use href="#st" x="132.9" y="282.8"/><use href="#st" x="195.1" y="221.3"/><use href="#st" x="115.2" y="304.9"/><use href="#st" x="96.1" y="307.3"/><use href="#st" x="170.6" y="243.2"/><use href="#st" x="84.8" y="327.5"/><use href="#st" x="140.3" y="278.1"/><use href="#st" x="139.8" y="273.3"/><use href="#st" x="175.9" y="211"/><use href="#st" x="189.2" y="226.8"/><use href="#st" x="97.8" y="296.3"/><use href="#st" x="158.5" y="259.6"/><use href="#st" x="154.6" y="261.7"/><use href="#st" x="129" y="279.5"/><use href="#st" x="145.7" y="265.4"/><use href="#st" x="122.2" y="294.2"/><use href="#st" x="108" y="305.4"/></g>
<path d="M201.5 208.7l-3.4 6.8h6.8zM129.0 285.7l-3.4 6.8h6.8zM134.5 278.3l-3.4 6.8h6.8zM128.9 283.9l-3.4 6.8h6.8zM140.8 271.5l-3.4 6.8h6.8zM147.4 267.1l-3.4 6.8h6.8zM131.3 284.2l-3.4 6.8h6.8zM187.3 225.2l-3.4 6.8h6.8zM166.7 245.5l-3.4 6.8h6.8zM178.8 234.6l-3.4 6.8h6.8zM114.5 299.2l-3.4 6.8h6.8zM101.6 311.3l-3.4 6.8h6.8zM197.4 216.3l-3.4 6.8h6.8zM105.0 308.9l-3.4 6.8h6.8zM172.3 242.0l-3.4 6.8h6.8zM145.7 262.2l-3.4 6.8h6.8zM195.1 217.5l-3.4 6.8h6.8zM124.5 285.5l-3.4 6.8h6.8zM200.7 210.6l-3.4 6.8h6.8zM148.9 258.6l-3.4 6.8h6.8zM105.8 306.0l-3.4 6.8h6.8zM153.3 256.3l-3.4 6.8h6.8zM156.2 257.5l-3.4 6.8h6.8zM200.0 211.9l-3.4 6.8h6.8zM182.5 232.5l-3.4 6.8h6.8zM192.0 219.4l-3.4 6.8h6.8zM182.8 226.1l-3.4 6.8h6.8zM90.6 322.6l-3.4 6.8h6.8zM202.6 208.1l-3.4 6.8h6.8zM170.0 241.2l-3.4 6.8h6.8zM140.1 272.9l-3.4 6.8h6.8zM154.1 258.8l-3.4 6.8h6.8zM154.5 219.7l-3.4 6.8h6.8zM132.6 279.6l-3.4 6.8h6.8zM97.7 315.5l-3.4 6.8h6.8zM176.2 236.6l-3.4 6.8h6.8zM195.5 219.7l-3.4 6.8h6.8zM106.8 306.8l-3.4 6.8h6.8zM106.9 308.3l-3.4 6.8h6.8zM148.9 264.6l-3.4 6.8h6.8zM110.1 301.9l-3.4 6.8h6.8zM161.7 253.2l-3.4 6.8h6.8zM188.3 225.7l-3.4 6.8h6.8zM168.2 231.4l-3.4 6.8h6.8zM112.4 300.6l-3.4 6.8h6.8zM175.7 237.9l-3.4 6.8h6.8zM132.6 278.2l-3.4 6.8h6.8zM93.8 319.4l-3.4 6.8h6.8zM206.4 204.4l-3.4 6.8h6.8zM146.9 266.5l-3.4 6.8h6.8zM176.0 232.6l-3.4 6.8h6.8zM156.3 253.1l-3.4 6.8h6.8zM145.7 272.0l-3.4 6.8h6.8zM167.9 240.1l-3.4 6.8h6.8zM101.2 312.9l-3.4 6.8h6.8zM122.0 291.6l-3.4 6.8h6.8zM194.1 217.1l-3.4 6.8h6.8zM124.4 289.4l-3.4 6.8h6.8zM178.8 233.9l-3.4 6.8h6.8zM124.7 286.0l-3.4 6.8h6.8zM106.6 306.2l-3.4 6.8h6.8zM167.8 239.4l-3.4 6.8h6.8zM149.7 262.7l-3.4 6.8h6.8zM152.9 258.9l-3.4 6.8h6.8zM153.5 261.2l-3.4 6.8h6.8zM195.0 216.1l-3.4 6.8h6.8zM180.7 231.5l-3.4 6.8h6.8zM136.7 273.2l-3.4 6.8h6.8zM167.0 242.6l-3.4 6.8h6.8zM174.5 239.5l-3.4 6.8h6.8zM196.1 214.5l-3.4 6.8h6.8zM149.7 262.2l-3.4 6.8h6.8zM145.1 268.0l-3.4 6.8h6.8zM130.8 281.6l-3.4 6.8h6.8zM152.7 258.0l-3.4 6.8h6.8zM162.1 253.5l-3.4 6.8h6.8zM156.7 252.0l-3.4 6.8h6.8zM179.2 271.2l-3.4 6.8h6.8zM180.2 235.7l-3.4 6.8h6.8zM105.0 308.9l-3.4 6.8h6.8zM167.0 246.9l-3.4 6.8h6.8zM113.8 299.0l-3.4 6.8h6.8zM170.7 242.3l-3.4 6.8h6.8zM122.1 291.5l-3.4 6.8h6.8zM121.9 292.1l-3.4 6.8h6.8zM173.5 240.2l-3.4 6.8h6.8zM130.2 280.4l-3.4 6.8h6.8zM180.1 230.7l-3.4 6.8h6.8zM138.7 276.1l-3.4 6.8h6.8zM167.1 246.6l-3.4 6.8h6.8zM126.6 285.8l-3.4 6.8h6.8zM195.0 219.1l-3.4 6.8h6.8zM168.7 241.9l-3.4 6.8h6.8zM139.5 276.0l-3.4 6.8h6.8zM168.6 243.4l-3.4 6.8h6.8zM160.4 254.1l-3.4 6.8h6.8zM199.1 213.3l-3.4 6.8h6.8zM143.8 227.7l-3.4 6.8h6.8zM180.6 234.0l-3.4 6.8h6.8zM131.3 281.2l-3.4 6.8h6.8zM203.2 207.7l-3.4 6.8h6.8zM162.3 252.4l-3.4 6.8h6.8zM156.0 254.8l-3.4 6.8h6.8zM139.5 273.9l-3.4 6.8h6.8zM117.4 297.3l-3.4 6.8h6.8zM174.3 239.7l-3.4 6.8h6.8zM141.2 273.6l-3.4 6.8h6.8zM182.2 230.7l-3.4 6.8h6.8zM169.1 240.9l-3.4 6.8h6.8zM168.5 245.1l-3.4 6.8h6.8zM164.4 249.4l-3.4 6.8h6.8zM186.3 226.7l-3.4 6.8h6.8zM90.9 323.2l-3.4 6.8h6.8zM165.5 245.5l-3.4 6.8h6.8zM163.9 247.1l-3.4 6.8h6.8zM146.6 264.0l-3.4 6.8h6.8zM163.0 250.1l-3.4 6.8h6.8zM130.8 286.5l-3.4 6.8h6.8zM164.9 243.4l-3.4 6.8h6.8zM101.8 306.0l-3.4 6.8h6.8zM152.5 248.4l-3.4 6.8h6.8zM129.0 284.6l-3.4 6.8h6.8zM135.3 279.7l-3.4 6.8h6.8zM180.3 233.4l-3.4 6.8h6.8zM94.7 320.2l-3.4 6.8h6.8zM145.0 267.5l-3.4 6.8h6.8zM139.8 276.8l-3.4 6.8h6.8zM115.2 299.0l-3.4 6.8h6.8zM156.5 255.7l-3.4 6.8h6.8zM158.4 251.4l-3.4 6.8h6.8zM205.2 204.5l-3.4 6.8h6.8zM145.8 265.4l-3.4 6.8h6.8zM151.6 258.7l-3.4 6.8h6.8zM199.3 208.7l-3.4 6.8h6.8zM185.3 226.8l-3.4 6.8h6.8zM186.5 225.7l-3.4 6.8h6.8zM196.5 215.5l-3.4 6.8h6.8zM107.9 305.0l-3.4 6.8h6.8zM164.7 232.1l-3.4 6.8h6.8zM137.7 270.0l-3.4 6.8h6.8zM158.7 253.3l-3.4 6.8h6.8zM163.4 246.8l-3.4 6.8h6.8zM180.9 230.3l-3.4 6.8h6.8zM138.2 272.8l-3.4 6.8h6.8zM96.8 317.3l-3.4 6.8h6.8zM130.8 279.4l-3.4 6.8h6.8zM173.5 234.3l-3.4 6.8h6.8zM153.1 256.8l-3.4 6.8h6.8z" fill="none" stroke="#ff0000" stroke-opacity="0.24" stroke-width="1.0"/>
<path d="M135.2 279.5l-3.4 6.8h6.8zM103.6 309.6l-3.4 6.8h6.8zM121.5 289.1l-3.4 6.8h6.8zM96.7 317.4l-3.4 6.8h6.8zM120.5 292.4l-3.4 6.8h6.8zM202.1 212.5l-3.4 6.8h6.8zM95.0 319.1l-3.4 6.8h6.8zM110.3 302.4l-3.4 6.8h6.8zM178.7 234.2l-3.4 6.8h6.8zM105.0 303.0l-3.4 6.8h6.8zM195.6 215.1l-3.4 6.8h6.8zM180.5 233.2l-3.4 6.8h6.8zM201.2 212.4l-3.4 6.8h6.8zM207.2 206.1l-3.4 6.8h6.8zM126.6 288.2l-3.4 6.8h6.8zM177.6 233.4l-3.4 6.8h6.8zM134.2 278.7l-3.4 6.8h6.8zM136.7 275.5l-3.4 6.8h6.8zM169.0 248.7l-3.4 6.8h6.8zM149.3 264.6l-3.4 6.8h6.8zM118.8 295.4l-3.4 6.8h6.8zM109.0 303.9l-3.4 6.8h6.8zM129.4 283.3l-3.4 6.8h6.8zM201.0 210.0l-3.4 6.8h6.8zM190.2 221.2l-3.4 6.8h6.8zM141.2 272.2l-3.4 6.8h6.8zM185.2 220.6l-3.4 6.8h6.8zM177.9 232.1l-3.4 6.8h6.8zM151.0 261.5l-3.4 6.8h6.8zM107.3 307.2l-3.4 6.8h6.8zM180.7 229.9l-3.4 6.8h6.8zM199.6 212.4l-3.4 6.8h6.8zM175.0 241.8l-3.4 6.8h6.8zM106.7 307.1l-3.4 6.8h6.8zM152.9 256.5l-3.4 6.8h6.8zM156.5 258.2l-3.4 6.8h6.8zM148.9 263.5l-3.4 6.8h6.8zM105.0 314.0l-3.4 6.8h6.8zM182.7 229.2l-3.4 6.8h6.8zM169.6 242.8l-3.4 6.8h6.8zM176.0 238.3l-3.4 6.8h6.8zM169.5 241.9l-3.4 6.8h6.8zM163.2 264.3l-3.4 6.8h6.8zM180.6 230.4l-3.4 6.8h6.8zM180.8 233.2l-3.4 6.8h6.8zM173.0 242.1l-3.4 6.8h6.8zM133.2 279.0l-3.4 6.8h6.8zM152.8 255.6l-3.4 6.8h6.8zM160.5 213.0l-3.4 6.8h6.8zM126.7 288.8l-3.4 6.8h6.8zM193.2 219.9l-3.4 6.8h6.8zM138.2 273.7l-3.4 6.8h6.8zM168.2 242.2l-3.4 6.8h6.8zM124.0 287.0l-3.4 6.8h6.8zM130.7 278.6l-3.4 6.8h6.8zM187.5 224.9l-3.4 6.8h6.8zM147.1 265.2l-3.4 6.8h6.8zM154.2 257.8l-3.4 6.8h6.8zM141.6 272.1l-3.4 6.8h6.8zM198.9 213.9l-3.4 6.8h6.8zM151.9 268.4l-3.4 6.8h6.8zM136.6 275.4l-3.4 6.8h6.8zM170.8 240.3l-3.4 6.8h6.8zM118.2 293.5l-3.4 6.8h6.8zM173.2 236.8l-3.4 6.8h6.8zM95.8 318.4l-3.4 6.8h6.8zM168.6 244.2l-3.4 6.8h6.8zM95.6 316.6l-3.4 6.8h6.8zM107.1 308.2l-3.4 6.8h6.8zM130.7 282.9l-3.4 6.8h6.8zM178.1 236.0l-3.4 6.8h6.8zM204.5 207.7l-3.4 6.8h6.8zM153.5 260.1l-3.4 6.8h6.8zM124.1 293.7l-3.4 6.8h6.8zM128.7 283.2l-3.4 6.8h6.8zM102.4 309.3l-3.4 6.8h6.8zM102.3 311.0l-3.4 6.8h6.8zM203.4 206.1l-3.4 6.8h6.8zM131.8 280.8l-3.4 6.8h6.8zM102.5 309.8l-3.4 6.8h6.8zM127.2 285.8l-3.4 6.8h6.8zM190.7 221.5l-3.4 6.8h6.8zM115.9 297.6l-3.4 6.8h6.8zM129.5 281.1l-3.4 6.8h6.8zM182.5 230.4l-3.4 6.8h6.8zM124.1 287.7l-3.4 6.8h6.8zM145.5 260.8l-3.4 6.8h6.8zM176.0 232.4l-3.4 6.8h6.8zM100.7 313.8l-3.4 6.8h6.8zM150.9 262.6l-3.4 6.8h6.8zM199.4 211.6l-3.4 6.8h6.8zM154.1 259.0l-3.4 6.8h6.8zM201.5 207.7l-3.4 6.8h6.8zM162.4 253.7l-3.4 6.8h6.8zM172.9 241.4l-3.4 6.8h6.8zM176.2 235.1l-3.4 6.8h6.8zM117.3 293.2l-3.4 6.8h6.8zM117.8 292.6l-3.4 6.8h6.8zM188.9 222.8l-3.4 6.8h6.8zM145.4 269.7l-3.4 6.8h6.8zM169.3 244.4l-3.4 6.8h6.8zM144.5 286.4l-3.4 6.8h6.8zM197.7 217.3l-3.4 6.8h6.8zM172.1 236.5l-3.4 6.8h6.8zM111.1 302.9l-3.4 6.8h6.8zM159.2 252.5l-3.4 6.8h6.8zM135.2 276.9l-3.4 6.8h6.8zM133.9 278.6l-3.4 6.8h6.8zM156.8 257.3l-3.4 6.8h6.8zM108.6 304.0l-3.4 6.8h6.8zM157.4 255.1l-3.4 6.8h6.8zM151.8 261.0l-3.4 6.8h6.8zM189.8 219.2l-3.4 6.8h6.8zM102.0 311.0l-3.4 6.8h6.8zM137.7 273.8l-3.4 6.8h6.8zM139.3 273.9l-3.4 6.8h6.8zM212.5 213.2l-3.4 6.8h6.8zM200.5 210.2l-3.4 6.8h6.8zM134.2 277.6l-3.4 6.8h6.8zM136.6 273.0l-3.4 6.8h6.8zM144.3 273.7l-3.4 6.8h6.8zM102.6 310.4l-3.4 6.8h6.8zM142.4 269.8l-3.4 6.8h6.8zM159.6 253.3l-3.4 6.8h6.8zM183.3 226.6l-3.4 6.8h6.8zM149.8 263.1l-3.4 6.8h6.8zM167.6 244.6l-3.4 6.8h6.8zM194.6 220.3l-3.4 6.8h6.8zM156.2 254.0l-3.4 6.8h6.8zM174.1 235.9l-3.4 6.8h6.8zM179.1 235.6l-3.4 6.8h6.8zM190.5 219.9l-3.4 6.8h6.8zM180.0 233.1l-3.4 6.8h6.8zM163.8 247.4l-3.4 6.8h6.8zM173.1 202.6l-3.4 6.8h6.8zM157.5 256.7l-3.4 6.8h6.8zM200.9 211.3l-3.4 6.8h6.8zM184.1 229.0l-3.4 6.8h6.8zM144.0 269.0l-3.4 6.8h6.8zM203.3 207.0l-3.4 6.8h6.8zM87.6 325.2l-3.4 6.8h6.8zM206.9 204.6l-3.4 6.8h6.8zM124.2 290.9l-3.4 6.8h6.8zM193.2 216.4l-3.4 6.8h6.8zM135.2 276.3l-3.4 6.8h6.8zM109.9 304.1l-3.4 6.8h6.8zM140.7 274.1l-3.4 6.8h6.8z" fill="none" stroke="#ff0000" stroke-opacity="0.24" stroke-width="1.0"/>
<g fill="none" stroke="#0000ff" stroke-opacity="0.4"><use href="#st" x="81.7" y="331.6"/><use href="#st" x="209.3" y="209.7"/><use href="#st" x="108.3" y="308.2"/><use href="#st" x="140.1" y="273.1"/><use href="#st" x="170.5" y="242.1"/><use href="#st" x="204" y="209.6"/><use href="#st" x="120.6" y="289.4"/><use href="#st" x="151.9" y="263.8"/><use href="#st" x="105.8" y="313.8"/><use href="#st" x="118.7" y="297.6"/><use href="#st" x="127.5" y="284.4"/><use href="#st" x="97.5" y="319.6"/><use href="#st" x="125.1" y="294.9"/><use href="#st" x="181" y="236.1"/><use href="#st" x="188.9" y="225.5"/><use href="#st" x="125.1" y="294.2"/><use href="#st" x="101.6" y="317.5"/><use href="#st" x="165.2" y="247.6"/><use href="#st" x="122" y="299.6"/><use href="#st" x="132.9" y="281.1"/><use href="#st" x="139.5" y="279.1"/><use href="#st" x="104.9" y="309.7"/><use href="#st" x="176.2" y="238"/><use href="#st" x="178.4" y="235.5"/><use href="#st" x="190.1" y="226.8"/><use href="#st" x="205.8" y="210"/><use href="#st" x="205.1" y="214.8"/><use href="#st" x="116.1" y="298.6"/><use href="#st" x="187.9" y="224.5"/><use href="#st" x="189.8" y="225.4"/><use href="#st" x="176.3" y="241.1"/><use href="#st" x="176.5" y="238.9"/><use href="#st" x="201.6" y="211.2"/><use href="#st" x="190.5" y="224.8"/><use href="#st" x="188.9" y="228.2"/><use href="#st" x="202.8" y="212.1"/><use href="#st" x="122.4" y="294.3"/><use href="#st" x="100.5" y="314.7"/><use href="#st" x="103.7" y="307.2"/><use href="#st" x="166.2" y="245.9"/><use href="#st" x="164.4" y="254.1"/><use href="#st" x="139.9" y="294.7"/><use href="#st" x="191.7" y="223.2"/><use href="#st" x="143.9" y="272.8"/><use href="#st" x="201.3" y="214.6"/><use href="#st" x="98" y="322.6"/><use href="#st" x="166.4" y="250.3"/></g>
<path d="M108.5 306.1l-3.4 6.8h6.8zM152.6 257.9l-3.4 6.8h6.8zM143.5 270.6l-3.4 6.8h6.8zM108.3 304.9l-3.4 6.8h6.8zM202.4 211.4l-3.4 6.8h6.8zM155.1 257.8l-3.4 6.8h6.8zM204.2 208.3l-3.4 6.8h6.8zM117.5 294.1l-3.4 6.8h6.8zM181.5 230.7l-3.4 6.8h6.8zM189.0 199.9l-3.4 6.8h6.8zM124.8 287.7l-3.4 6.8h6.8zM131.9 280.0l-3.4 6.8h6.8zM185.8 222.4l-3.4 6.8h6.8zM179.8 229.6l-3.4 6.8h6.8zM119.6 293.4l-3.4 6.8h6.8zM188.3 222.2l-3.4 6.8h6.8zM164.9 245.8l-3.4 6.8h6.8zM150.6 257.6l-3.4 6.8h6.8zM115.0 298.6l-3.4 6.8h6.8zM207.6 205.8l-3.4 6.8h6.8zM102.4 309.7l-3.4 6.8h6.8zM153.4 257.9l-3.4 6.8h6.8zM132.0 277.2l-3.4 6.8h6.8zM163.9 248.1l-3.4 6.8h6.8zM153.3 261.2l-3.4 6.8h6.8zM161.5 253.1l-3.4 6.8h6.8zM170.8 242.9l-3.4 6.8h6.8zM146.5 267.1l-3.4 6.8h6.8zM115.8 297.3l-3.4 6.8h6.8zM183.1 232.1l-3.4 6.8h6.8zM169.2 243.2l-3.4 6.8h6.8zM171.8 242.0l-3.4 6.8h6.8zM159.9 257.2l-3.4 6.8h6.8zM152.5 253.9l-3.4 6.8h6.8zM176.8 236.8l-3.4 6.8h6.8zM149.2 263.7l-3.4 6.8h6.8zM109.3 306.4l-3.4 6.8h6.8zM172.2 239.3l-3.4 6.8h6.8zM168.9 246.3l-3.4 6.8h6.8zM144.6 270.7l-3.4 6.8h6.8zM179.6 231.4l-3.4 6.8h6.8zM139.5 271.6l-3.4 6.8h6.8zM96.6 314.3l-3.4 6.8h6.8zM102.3 309.8l-3.4 6.8h6.8zM162.8 247.4l-3.4 6.8h6.8zM108.8 304.3l-3.4 6.8h6.8zM102.4 311.6l-3.4 6.8h6.8zM198.2 210.7l-3.4 6.8h6.8zM160.9 252.0l-3.4 6.8h6.8zM116.9 295.4l-3.4 6.8h6.8zM141.6 267.8l-3.4 6.8h6.8zM172.2 243.3l-3.4 6.8h6.8zM119.8 295.0l-3.4 6.8h6.8zM188.2 226.1l-3.4 6.8h6.8zM144.1 265.9l-3.4 6.8h6.8zM193.6 221.4l-3.4 6.8h6.8zM190.9 219.6l-3.4 6.8h6.8zM122.6 293.0l-3.4 6.8h6.8zM153.4 262.6l-3.4 6.8h6.8zM126.8 286.0l-3.4 6.8h6.8zM120.1 292.2l-3.4 6.8h6.8zM173.5 239.2l-3.4 6.8h6.8zM204.5 205.5l-3.4 6.8h6.8zM175.1 236.2l-3.4 6.8h6.8zM169.1 241.6l-3.4 6.8h6.8zM175.1 237.0l-3.4 6.8h6.8zM97.3 316.8l-3.4 6.8h6.8zM179.0 231.1l-3.4 6.8h6.8zM139.0 272.0l-3.4 6.8h6.8zM143.6 265.9l-3.4 6.8h6.8zM152.5 262.5l-3.4 6.8h6.8zM128.4 282.6l-3.4 6.8h6.8zM116.2 297.1l-3.4 6.8h6.8zM200.3 213.6l-3.4 6.8h6.8zM126.6 287.7l-3.4 6.8h6.8zM193.9 220.4l-3.4 6.8h6.8zM105.0 309.0l-3.4 6.8h6.8zM132.4 278.3l-3.4 6.8h6.8zM183.1 231.1l-3.4 6.8h6.8zM142.8 271.9l-3.4 6.8h6.8zM205.7 228.6l-3.4 6.8h6.8zM193.9 221.3l-3.4 6.8h6.8zM96.2 317.9l-3.4 6.8h6.8zM134.5 277.6l-3.4 6.8h6.8zM180.5 231.8l-3.4 6.8h6.8zM177.4 236.5l-3.4 6.8h6.8zM202.9 208.4l-3.4 6.8h6.8zM107.0 306.0l-3.4 6.8h6.8zM129.9 283.3l-3.4 6.8h6.8zM130.4 282.8l-3.4 6.8h6.8zM171.7 239.2l-3.4 6.8h6.8zM204.5 230.3l-3.4 6.8h6.8zM106.7 305.3l-3.4 6.8h6.8zM192.8 219.8l-3.4 6.8h6.8zM117.9 297.0l-3.4 6.8h6.8zM177.2 233.2l-3.4 6.8h6.8zM107.6 306.3l-3.4 6.8h6.8zM111.6 302.4l-3.4 6.8h6.8zM189.3 224.0l-3.4 6.8h6.8zM143.3 271.3l-3.4 6.8h6.8zM205.1 208.4l-3.4 6.8h6.8zM169.9 240.3l-3.4 6.8h6.8zM185.3 224.3l-3.4 6.8h6.8zM108.4 298.1l-3.4 6.8h6.8zM156.4 256.5l-3.4 6.8h6.8zM206.6 205.7l-3.4 6.8h6.8zM131.1 281.7l-3.4 6.8h6.8zM183.6 228.0l-3.4 6.8h6.8zM163.4 247.5l-3.4 6.8h6.8zM179.1 234.6l-3.4 6.8h6.8zM131.1 281.5l-3.4 6.8h6.8zM120.2 292.3l-3.4 6.8h6.8zM175.9 218.0l-3.4 6.8h6.8zM118.9 295.0l-3.4 6.8h6.8zM148.7 264.4l-3.4 6.8h6.8zM120.0 290.7l-3.4 6.8h6.8zM117.8 294.2l-3.4 6.8h6.8zM102.3 310.7l-3.4 6.8h6.8zM130.4 295.1l-3.4 6.8h6.8zM165.4 248.6l-3.4 6.8h6.8zM100.6 314.6l-3.4 6.8h6.8zM115.3 300.6l-3.4 6.8h6.8zM202.4 210.3l-3.4 6.8h6.8zM205.7 217.9l-3.4 6.8h6.8zM163.0 250.4l-3.4 6.8h6.8zM181.4 230.4l-3.4 6.8h6.8zM144.9 269.2l-3.4 6.8h6.8zM181.1 228.7l-3.4 6.8h6.8zM143.0 266.0l-3.4 6.8h6.8zM191.5 209.7l-3.4 6.8h6.8zM105.1 305.1l-3.4 6.8h6.8zM91.6 321.2l-3.4 6.8h6.8zM172.9 240.6l-3.4 6.8h6.8zM99.7 313.7l-3.4 6.8h6.8zM130.8 278.7l-3.4 6.8h6.8zM162.2 247.1l-3.4 6.8h6.8zM205.9 205.8l-3.4 6.8h6.8zM148.1 265.3l-3.4 6.8h6.8zM134.6 279.7l-3.4 6.8h6.8zM147.8 263.8l-3.4 6.8h6.8zM147.0 268.5l-3.4 6.8h6.8zM153.9 254.3l-3.4 6.8h6.8zM197.8 212.3l-3.4 6.8h6.8zM178.0 234.9l-3.4 6.8h6.8zM102.5 311.8l-3.4 6.8h6.8zM185.2 229.4l-3.4 6.8h6.8zM184.1 221.9l-3.4 6.8h6.8zM142.8 269.0l-3.4 6.8h6.8z" fill="none" stroke="#ff0000" stroke-opacity="0.24" stroke-width="1.0"/>
<path d="M105.7 311.4l-3.4 6.8h6.8zM122.6 292.2l-3.4 6.8h6.8zM198.5 255.9l-3.4 6.8h6.8zM170.0 240.9l-3.4 6.8h6.8zM201.0 209.8l-3.4 6.8h6.8zM115.7 302.0l-3.4 6.8h6.8zM178.9 231.9l-3.4 6.8h6.8zM147.4 265.8l-3.4 6.8h6.8zM178.9 230.5l-3.4 6.8h6.8zM187.9 223.6l-3.4 6.8h6.8zM159.2 255.0l-3.4 6.8h6.8zM154.1 262.7l-3.4 6.8h6.8zM173.2 241.0l-3.4 6.8h6.8zM186.1 226.8l-3.4 6.8h6.8zM158.2 252.5l-3.4 6.8h6.8zM190.4 220.5l-3.4 6.8h6.8zM137.1 276.4l-3.4 6.8h6.8zM138.6 272.5l-3.4 6.8h6.8zM151.6 263.0l-3.4 6.8h6.8zM108.7 301.8l-3.4 6.8h6.8zM109.7 306.7l-3.4 6.8h6.8zM126.9 288.9l-3.4 6.8h6.8zM145.0 266.7l-3.4 6.8h6.8zM139.8 274.0l-3.4 6.8h6.8zM163.4 251.4l-3.4 6.8h6.8zM158.4 255.1l-3.4 6.8h6.8zM185.7 227.8l-3.4 6.8h6.8zM143.0 268.9l-3.4 6.8h6.8zM107.1 306.8l-3.4 6.8h6.8zM197.4 213.5l-3.4 6.8h6.8zM97.4 314.4l-3.4 6.8h6.8zM110.9 304.8l-3.4 6.8h6.8zM164.2 248.1l-3.4 6.8h6.8zM197.0 215.3l-3.4 6.8h6.8zM181.9 232.7l-3.4 6.8h6.8zM184.3 227.2l-3.4 6.8h6.8zM184.8 225.5l-3.4 6.8h6.8zM139.2 270.5l-3.4 6.8h6.8zM181.2 227.6l-3.4 6.8h6.8zM132.1 280.8l-3.4 6.8h6.8zM138.2 274.2l-3.4 6.8h6.8zM197.7 214.5l-3.4 6.8h6.8zM118.3 294.4l-3.4 6.8h6.8zM133.8 278.3l-3.4 6.8h6.8zM113.0 299.5l-3.4 6.8h6.8zM133.7 279.8l-3.4 6.8h6.8zM213.7 219.0l-3.4 6.8h6.8zM125.3 287.3l-3.4 6.8h6.8zM132.7 283.2l-3.4 6.8h6.8zM116.2 295.6l-3.4 6.8h6.8zM169.8 309.8l-3.4 6.8h6.8zM160.5 252.4l-3.4 6.8h6.8zM111.3 301.2l-3.4 6.8h6.8zM148.9 265.3l-3.4 6.8h6.8zM107.6 305.6l-3.4 6.8h6.8zM165.2 245.3l-3.4 6.8h6.8zM113.6 300.8l-3.4 6.8h6.8zM178.5 234.8l-3.4 6.8h6.8zM184.1 230.1l-3.4 6.8h6.8zM185.4 223.7l-3.4 6.8h6.8zM196.4 215.8l-3.4 6.8h6.8zM186.4 224.3l-3.4 6.8h6.8zM138.8 274.6l-3.4 6.8h6.8zM99.0 316.1l-3.4 6.8h6.8zM180.6 230.9l-3.4 6.8h6.8zM131.8 283.1l-3.4 6.8h6.8zM125.5 286.7l-3.4 6.8h6.8zM156.1 258.0l-3.4 6.8h6.8zM117.8 291.1l-3.4 6.8h6.8zM129.8 283.9l-3.4 6.8h6.8zM196.7 215.0l-3.4 6.8h6.8zM179.3 234.4l-3.4 6.8h6.8zM187.2 228.7l-3.4 6.8h6.8zM201.8 209.7l-3.4 6.8h6.8zM167.6 244.9l-3.4 6.8h6.8zM166.5 244.9l-3.4 6.8h6.8zM203.4 207.5l-3.4 6.8h6.8zM135.6 278.9l-3.4 6.8h6.8zM160.5 252.4l-3.4 6.8h6.8zM186.6 225.6l-3.4 6.8h6.8zM180.4 234.1l-3.4 6.8h6.8zM144.3 268.4l-3.4 6.8h6.8zM132.0 277.5l-3.4 6.8h6.8zM188.9 223.3l-3.4 6.8h6.8zM159.8 250.9l-3.4 6.8h6.8zM184.9 230.4l-3.4 6.8h6.8zM181.3 233.1l-3.4 6.8h6.8zM202.7 208.1l-3.4 6.8h6.8zM118.2 288.6l-3.4 6.8h6.8zM132.5 281.8l-3.4 6.8h6.8zM138.4 272.3l-3.4 6.8h6.8zM154.8 257.9l-3.4 6.8h6.8zM131.1 283.9l-3.4 6.8h6.8zM166.1 246.4l-3.4 6.8h6.8zM142.3 266.9l-3.4 6.8h6.8zM102.5 311.8l-3.4 6.8h6.8zM165.5 211.7l-3.4 6.8h6.8zM161.6 253.6l-3.4 6.8h6.8zM195.7 216.8l-3.4 6.8h6.8zM158.1 251.7l-3.4 6.8h6.8zM190.0 223.0l-3.4 6.8h6.8zM183.2 230.1l-3.4 6.8h6.8zM157.7 251.5l-3.4 6.8h6.8zM140.2 271.6l-3.4 6.8h6.8zM116.3 298.0l-3.4 6.8h6.8zM131.0 280.1l-3.4 6.8h6.8zM194.2 220.6l-3.4 6.8h6.8zM175.1 237.5l-3.4 6.8h6.8zM169.2 241.1l-3.4 6.8h6.8zM198.5 210.1l-3.4 6.8h6.8zM92.3 321.8l-3.4 6.8h6.8zM196.7 213.1l-3.4 6.8h6.8zM155.9 262.3l-3.4 6.8h6.8zM126.8 285.2l-3.4 6.8h6.8zM133.5 279.6l-3.4 6.8h6.8zM110.5 303.0l-3.4 6.8h6.8zM124.6 290.5l-3.4 6.8h6.8zM130.1 283.2l-3.4 6.8h6.8zM198.7 212.8l-3.4 6.8h6.8zM134.1 279.6l-3.4 6.8h6.8zM95.8 317.7l-3.4 6.8h6.8zM146.2 266.0l-3.4 6.8h6.8zM151.5 260.9l-3.4 6.8h6.8zM111.1 300.0l-3.4 6.8h6.8zM149.8 259.6l-3.4 6.8h6.8zM130.7 281.6l-3.4 6.8h6.8zM129.5 283.0l-3.4 6.8h6.8zM110.4 302.7l-3.4 6.8h6.8zM167.0 242.8l-3.4 6.8h6.8zM191.6 211.0l-3.4 6.8h6.8zM197.8 215.2l-3.4 6.8h6.8zM126.5 282.5l-3.4 6.8h6.8zM143.8 254.3l-3.4 6.8h6.8zM166.6 247.6l-3.4 6.8h6.8zM155.6 256.8l-3.4 6.8h6.8zM171.8 243.6l-3.4 6.8h6.8zM137.6 274.6l-3.4 6.8h6.8zM120.8 292.3l-3.4 6.8h6.8zM144.0 266.1l-3.4 6.8h6.8zM96.9 316.1l-3.4 6.8h6.8zM127.9 296.8l-3.4 6.8h6.8zM135.5 277.8l-3.4 6.8h6.8zM115.2 300.1l-3.4 6.8h6.8zM195.3 217.1l-3.4 6.8h6.8zM130.2 282.6l-3.4 6.8h6.8zM114.0 299.4l-3.4 6.8h6.8zM90.7 323.0l-3.4 6.8h6.8z" fill="none" stroke="#ff0000" stroke-opacity="0.24" stroke-width="1.0"/>
<g fill="none" stroke="#0000ff" stroke-opacity="0.4"><use href="#st" x="258.5" y="156.2"/><use href="#st" x="244.7" y="166.1"/><use href="#st" x="254.9" y="158.2"/><use href="#st" x="247.7" y="178.6"/><use href="#st" x="237.1" y="181"/><use href="#st" x="225.1" y="180.7"/><use href="#st" x="247.4" y="167.5"/><use href="#st" x="218.2" y="200.9"/><use href="#st" x="240.6" y="168.7"/><use href="#st" x="214.3" y="204.1"/><use href="#st" x="260.9" y="155.7"/><use href="#st" x="247.7" y="168.8"/><use href="#st" x="244.2" y="166.9"/><use href="#st" x="254.7" y="159.3"/><use href="#st" x="243.5" y="166.8"/><use href="#st" x="231.6" y="181.9"/><use href="#st" x="214.4" y="202.2"/><use href="#st" x="252.9" y="158.7"/><use href="#st" x="225.6" y="186.4"/><use href="#st" x="266.9" y="148.4"/><use href="#st" x="244.9" y="168.8"/><use href="#st" x="212.3" y="199.7"/><use href="#st" x="242.4" y="168.8"/><use href="#st" x="216.9" y="196.9"/><use href="#st" x="235.4" y="179.1"/><use href="#st" x="255.6" y="157.3"/><use href="#st" x="210.8" y="204.6"/></g>
<path d="M235.7 183.2l-3.4 6.8h6.8zM235.3 154.1l-3.4 6.8h6.8zM211.3 201.1l-3.4 6.8h6.8zM237.0 175.3l-3.4 6.8h6.8zM255.6 156.1l-3.4 6.8h6.8zM265.9 144.6l-3.4 6.8h6.8zM226.1 185.5l-3.4 6.8h6.8zM268.8 142.4l-3.4 6.8h6.8zM224.9 188.0l-3.4 6.8h6.8zM269.6 141.4l-3.4 6.8h6.8zM242.8 169.2l-3.4 6.8h6.8zM207.5 202.0l-3.4 6.8h6.8zM268.7 142.3l-3.4 6.8h6.8zM229.0 182.5l-3.4 6.8h6.8zM247.9 168.8l-3.4 6.8h6.8zM234.7 205.1l-3.4 6.8h6.8zM216.6 195.5l-3.4 6.8h6.8zM254.7 156.5l-3.4 6.8h6.8zM249.2 161.8l-3.4 6.8h6.8zM248.0 162.4l-3.4 6.8h6.8zM264.1 146.6l-3.4 6.8h6.8zM226.7 184.2l-3.4 6.8h6.8zM209.5 203.8l-3.4 6.8h6.8zM212.1 200.0l-3.4 6.8h6.8zM221.6 189.4l-3.4 6.8h6.8zM259.8 150.8l-3.4 6.8h6.8zM251.4 159.6l-3.4 6.8h6.8zM226.4 184.4l-3.4 6.8h6.8zM214.6 198.1l-3.4 6.8h6.8zM217.4 193.4l-3.4 6.8h6.8zM263.9 147.2l-3.4 6.8h6.8zM228.8 181.5l-3.4 6.8h6.8zM225.9 182.5l-3.4 6.8h6.8zM217.1 194.0l-3.4 6.8h6.8zM217.8 194.3l-3.4 6.8h6.8zM235.9 174.2l-3.4 6.8h6.8zM210.6 200.8l-3.4 6.8h6.8zM225.5 187.1l-3.4 6.8h6.8zM217.6 193.0l-3.4 6.8h6.8zM214.0 197.5l-3.4 6.8h6.8zM216.3 194.6l-3.4 6.8h6.8zM225.3 160.8l-3.4 6.8h6.8zM245.8 165.0l-3.4 6.8h6.8zM230.6 181.2l-3.4 6.8h6.8zM224.3 187.7l-3.4 6.8h6.8zM237.8 172.7l-3.4 6.8h6.8zM225.5 187.2l-3.4 6.8h6.8zM231.8 178.7l-3.4 6.8h6.8zM210.1 203.1l-3.4 6.8h6.8zM254.2 156.5l-3.4 6.8h6.8zM222.8 188.8l-3.4 6.8h6.8zM216.7 196.0l-3.4 6.8h6.8zM234.7 175.8l-3.4 6.8h6.8zM218.0 193.9l-3.4 6.8h6.8zM240.4 170.9l-3.4 6.8h6.8zM266.7 144.4l-3.4 6.8h6.8zM267.9 142.0l-3.4 6.8h6.8zM241.2 170.1l-3.4 6.8h6.8zM236.6 174.0l-3.4 6.8h6.8zM251.4 159.7l-3.4 6.8h6.8zM232.9 178.6l-3.4 6.8h6.8zM235.4 167.3l-3.4 6.8h6.8zM261.0 149.6l-3.4 6.8h6.8zM231.4 191.0l-3.4 6.8h6.8zM258.1 152.8l-3.4 6.8h6.8zM222.8 188.9l-3.4 6.8h6.8zM233.4 177.0l-3.4 6.8h6.8zM219.7 191.1l-3.4 6.8h6.8zM238.1 144.4l-3.4 6.8h6.8zM214.0 200.1l-3.4 6.8h6.8zM220.5 191.1l-3.4 6.8h6.8zM241.1 170.4l-3.4 6.8h6.8z" fill="none" stroke="#ff0000" stroke-opacity="0.26" stroke-width="1.0"/>
<g fill="none" stroke="#0000ff" stroke-opacity="0.4"><use href="#st" x="222.9" y="190.9"/><use href="#st" x="229.2" y="184.3"/><use href="#st" x="243" y="174"/><use href="#st" x="256.3" y="161.9"/><use href="#st" x="250.9" y="161.3"/><use href="#st" x="215.8" y="194.5"/><use href="#st" x="249.2" y="164.2"/><use href="#st" x="230" y="180.9"/><use href="#st" x="256.1" y="156.1"/><use href="#st" x="232.6" y="183.2"/><use href="#st" x="251" y="165.4"/><use href="#st" x="243" y="168.4"/><use href="#st" x="228.4" y="173.6"/><use href="#st" x="194.4" y="177.1"/><use href="#st" x="231" y="185.2"/><use href="#st" x="245.4" y="165.6"/><use href="#st" x="252.4" y="161.3"/><use href="#st" x="220.1" y="194.7"/><use href="#st" x="255.5" y="158.1"/><use href="#st" x="264.9" y="148.5"/><use href="#st" x="211.6" y="198.4"/><use href="#st" x="233.3" y="182.8"/><use href="#st" x="220" y="196.2"/><use href="#st" x="221.3" y="193.4"/><use href="#st" x="253.6" y="160.2"/><use href="#st" x="220.4" y="187.3"/><use href="#st" x="227.1" y="182.1"/></g>
<path d="M264.5 147.4l-3.4 6.8h6.8zM210.9 202.3l-3.4 6.8h6.8zM216.0 196.4l-3.4 6.8h6.8zM212.8 198.6l-3.4 6.8h6.8zM241.5 170.8l-3.4 6.8h6.8zM263.7 147.2l-3.4 6.8h6.8zM238.2 186.7l-3.4 6.8h6.8zM236.6 175.6l-3.4 6.8h6.8zM215.0 196.3l-3.4 6.8h6.8zM219.7 192.4l-3.4 6.8h6.8zM225.5 185.5l-3.4 6.8h6.8zM236.6 197.7l-3.4 6.8h6.8zM258.3 152.8l-3.4 6.8h6.8zM256.6 154.7l-3.4 6.8h6.8zM244.8 154.7l-3.4 6.8h6.8zM222.4 189.8l-3.4 6.8h6.8zM248.8 161.3l-3.4 6.8h6.8zM246.6 164.6l-3.4 6.8h6.8zM224.5 187.7l-3.4 6.8h6.8zM250.3 161.4l-3.4 6.8h6.8zM218.3 193.4l-3.4 6.8h6.8zM241.9 169.8l-3.4 6.8h6.8zM257.0 154.5l-3.4 6.8h6.8zM218.4 191.9l-3.4 6.8h6.8zM256.9 154.2l-3.4 6.8h6.8zM245.4 166.3l-3.4 6.8h6.8zM223.8 187.9l-3.4 6.8h6.8zM221.0 190.9l-3.4 6.8h6.8zM234.6 151.4l-3.4 6.8h6.8zM210.5 200.4l-3.4 6.8h6.8zM218.1 197.4l-3.4 6.8h6.8zM208.4 201.8l-3.4 6.8h6.8zM226.6 185.0l-3.4 6.8h6.8zM266.3 144.3l-3.4 6.8h6.8zM237.8 173.9l-3.4 6.8h6.8zM214.0 197.2l-3.4 6.8h6.8zM247.7 163.9l-3.4 6.8h6.8zM262.2 149.1l-3.4 6.8h6.8zM255.1 155.6l-3.4 6.8h6.8zM256.8 154.6l-3.4 6.8h6.8zM247.0 164.4l-3.4 6.8h6.8zM258.9 151.7l-3.4 6.8h6.8zM263.2 147.8l-3.4 6.8h6.8zM233.6 177.6l-3.4 6.8h6.8zM210.9 206.1l-3.4 6.8h6.8zM227.4 183.3l-3.4 6.8h6.8zM216.3 194.4l-3.4 6.8h6.8zM242.4 168.5l-3.4 6.8h6.8zM244.6 164.5l-3.4 6.8h6.8zM248.5 162.7l-3.4 6.8h6.8zM234.6 177.6l-3.4 6.8h6.8zM212.9 198.4l-3.4 6.8h6.8zM260.5 150.3l-3.4 6.8h6.8zM207.7 186.8l-3.4 6.8h6.8zM254.7 156.1l-3.4 6.8h6.8zM244.4 167.1l-3.4 6.8h6.8zM211.2 188.6l-3.4 6.8h6.8zM253.9 164.4l-3.4 6.8h6.8zM245.3 165.8l-3.4 6.8h6.8zM222.4 188.5l-3.4 6.8h6.8zM211.6 199.4l-3.4 6.8h6.8zM226.1 157.3l-3.4 6.8h6.8zM236.8 183.7l-3.4 6.8h6.8zM220.9 193.4l-3.4 6.8h6.8zM238.1 172.8l-3.4 6.8h6.8zM223.0 189.5l-3.4 6.8h6.8zM250.0 158.5l-3.4 6.8h6.8zM215.7 194.1l-3.4 6.8h6.8zM216.8 194.0l-3.4 6.8h6.8zM208.2 204.4l-3.4 6.8h6.8zM235.2 202.5l-3.4 6.8h6.8zM269.2 141.7l-3.4 6.8h6.8z" fill="none" stroke="#ff0000" stroke-opacity="0.26" stroke-width="1.0"/>
<g fill="none" stroke="#0000ff" stroke-opacity="0.4"><use href="#st" x="259.7" y="154"/><use href="#st" x="223.5" y="187.9"/><use href="#st" x="193.8" y="168.2"/><use href="#st" x="240" y="173.1"/><use href="#st" x="232.5" y="179.7"/><use href="#st" x="218.7" y="198.2"/><use href="#st" x="221.8" y="192.4"/><use href="#st" x="245.6" y="165.9"/><use href="#st" x="263.6" y="153.8"/><use href="#st" x="229.2" y="189.1"/><use href="#st" x="228.1" y="185.6"/><use href="#st" x="213.3" y="197.5"/><use href="#st" x="211.2" y="206.1"/><use href="#st" x="239.2" y="175.1"/><use href="#st" x="218.8" y="194.9"/><use href="#st" x="227.5" y="188.3"/><use href="#st" x="238.3" y="172.3"/><use href="#st" x="240.1" y="169.9"/><use href="#st" x="255" y="157.4"/><use href="#st" x="234.3" y="180.7"/><use href="#st" x="255.3" y="157.7"/><use href="#st" x="213.5" y="202.3"/><use href="#st" x="244.6" y="167"/><use href="#st" x="212.6" y="203.2"/><use href="#st" x="220" y="196.1"/><use href="#st" x="258.1" y="158.6"/><use href="#st" x="210" y="206.7"/></g>
<path d="M259.9 150.9l-3.4 6.8h6.8zM243.5 167.4l-3.4 6.8h6.8zM224.6 186.7l-3.4 6.8h6.8zM214.5 196.7l-3.4 6.8h6.8zM231.1 178.0l-3.4 6.8h6.8zM230.9 180.4l-3.4 6.8h6.8zM251.8 160.0l-3.4 6.8h6.8zM235.7 175.4l-3.4 6.8h6.8zM214.0 199.9l-3.4 6.8h6.8zM248.4 163.0l-3.4 6.8h6.8zM215.4 195.6l-3.4 6.8h6.8zM207.9 204.1l-3.4 6.8h6.8zM235.6 175.5l-3.4 6.8h6.8zM259.5 151.2l-3.4 6.8h6.8zM207.1 203.2l-3.4 6.8h6.8zM213.9 197.2l-3.4 6.8h6.8zM223.2 188.9l-3.4 6.8h6.8zM259.9 151.1l-3.4 6.8h6.8zM229.5 181.8l-3.4 6.8h6.8zM223.5 187.4l-3.4 6.8h6.8zM232.1 179.1l-3.4 6.8h6.8zM257.7 153.0l-3.4 6.8h6.8zM265.4 145.4l-3.4 6.8h6.8zM250.9 160.9l-3.4 6.8h6.8zM253.7 157.6l-3.4 6.8h6.8zM235.9 176.0l-3.4 6.8h6.8zM222.9 183.0l-3.4 6.8h6.8zM211.5 198.3l-3.4 6.8h6.8zM253.8 151.0l-3.4 6.8h6.8zM242.0 168.2l-3.4 6.8h6.8zM237.9 177.4l-3.4 6.8h6.8zM216.4 195.2l-3.4 6.8h6.8zM223.1 205.1l-3.4 6.8h6.8zM248.3 162.1l-3.4 6.8h6.8zM259.3 151.6l-3.4 6.8h6.8zM258.3 152.6l-3.4 6.8h6.8zM247.4 162.7l-3.4 6.8h6.8zM247.7 163.7l-3.4 6.8h6.8zM238.5 173.4l-3.4 6.8h6.8zM227.4 184.0l-3.4 6.8h6.8zM240.0 171.8l-3.4 6.8h6.8zM230.2 180.5l-3.4 6.8h6.8zM224.7 187.6l-3.4 6.8h6.8zM217.5 192.9l-3.4 6.8h6.8zM209.8 203.0l-3.4 6.8h6.8zM242.3 168.4l-3.4 6.8h6.8zM266.4 144.0l-3.4 6.8h6.8zM218.5 192.1l-3.4 6.8h6.8zM228.0 183.2l-3.4 6.8h6.8zM256.2 154.4l-3.4 6.8h6.8zM227.1 185.0l-3.4 6.8h6.8zM258.7 152.8l-3.4 6.8h6.8zM216.8 194.7l-3.4 6.8h6.8zM263.3 148.2l-3.4 6.8h6.8zM218.1 195.8l-3.4 6.8h6.8zM227.8 182.2l-3.4 6.8h6.8zM256.0 155.2l-3.4 6.8h6.8zM228.7 183.1l-3.4 6.8h6.8zM250.9 159.9l-3.4 6.8h6.8zM268.4 142.3l-3.4 6.8h6.8zM239.5 171.2l-3.4 6.8h6.8zM218.3 193.5l-3.4 6.8h6.8zM217.1 194.4l-3.4 6.8h6.8zM255.4 156.0l-3.4 6.8h6.8zM220.9 190.8l-3.4 6.8h6.8zM249.0 160.9l-3.4 6.8h6.8zM216.7 193.8l-3.4 6.8h6.8zM254.8 156.3l-3.4 6.8h6.8zM214.5 196.5l-3.4 6.8h6.8zM208.3 201.9l-3.4 6.8h6.8zM239.4 172.1l-3.4 6.8h6.8zM254.9 156.0l-3.4 6.8h6.8z" fill="none" stroke="#ff0000" stroke-opacity="0.26" stroke-width="1.0"/>
<g fill="none" stroke="#0000ff" stroke-opacity="0.4"><use href="#st" x="254.3" y="158.1"/><use href="#st" x="223.4" y="190.9"/><use href="#st" x="228" y="185.2"/><use href="#st" x="221.1" y="195.3"/><use href="#st" x="246.4" y="168.1"/><use href="#st" x="216.9" y="195.7"/><use href="#st" x="221.5" y="193.5"/><use href="#st" x="235.2" y="177.5"/><use href="#st" x="253.5" y="159.6"/><use href="#st" x="221.3" y="190.7"/><use href="#st" x="236.6" y="178.2"/><use href="#st" x="253.1" y="158.9"/><use href="#st" x="216.7" y="194.7"/><use href="#st" x="246.7" y="169.9"/><use href="#st" x="244.1" y="171.3"/><use href="#st" x="255.1" y="159.9"/><use href="#st" x="220" y="196.9"/><use href="#st" x="250.7" y="161.3"/><use href="#st" x="213.3" y="205.8"/><use href="#st" x="226" y="186.6"/><use href="#st" x="229" y="189.3"/><use href="#st" x="227.1" y="183.9"/><use href="#st" x="246.6" y="170.1"/><use href="#st" x="257.5" y="152.6"/><use href="#st" x="248.8" y="164.1"/><use href="#st" x="230.2" y="185.2"/></g>
<path d="M254.6 156.1l-3.4 6.8h6.8zM233.0 177.8l-3.4 6.8h6.8zM210.3 202.9l-3.4 6.8h6.8zM246.3 165.0l-3.4 6.8h6.8zM211.1 201.4l-3.4 6.8h6.8zM227.4 211.5l-3.4 6.8h6.8zM262.6 148.0l-3.4 6.8h6.8zM237.0 150.3l-3.4 6.8h6.8zM212.6 194.0l-3.4 6.8h6.8zM227.7 183.3l-3.4 6.8h6.8zM238.1 173.0l-3.4 6.8h6.8zM240.6 172.9l-3.4 6.8h6.8zM245.3 166.2l-3.4 6.8h6.8zM258.5 152.4l-3.4 6.8h6.8zM244.7 166.4l-3.4 6.8h6.8zM214.0 196.9l-3.4 6.8h6.8zM225.9 185.9l-3.4 6.8h6.8zM263.7 147.0l-3.4 6.8h6.8zM219.3 191.9l-3.4 6.8h6.8zM269.0 141.9l-3.4 6.8h6.8zM233.4 169.3l-3.4 6.8h6.8zM201.3 195.6l-3.4 6.8h6.8zM265.7 145.1l-3.4 6.8h6.8zM210.0 201.1l-3.4 6.8h6.8zM227.9 184.7l-3.4 6.8h6.8zM269.7 141.8l-3.4 6.8h6.8zM231.2 183.4l-3.4 6.8h6.8zM232.4 178.8l-3.4 6.8h6.8zM225.3 186.4l-3.4 6.8h6.8zM239.1 172.6l-3.4 6.8h6.8zM247.1 164.9l-3.4 6.8h6.8zM215.4 196.5l-3.4 6.8h6.8zM269.6 141.1l-3.4 6.8h6.8zM229.5 181.9l-3.4 6.8h6.8zM264.2 146.9l-3.4 6.8h6.8zM244.2 170.8l-3.4 6.8h6.8zM207.7 195.8l-3.4 6.8h6.8zM235.8 176.4l-3.4 6.8h6.8zM225.3 186.0l-3.4 6.8h6.8zM223.1 188.9l-3.4 6.8h6.8zM246.5 164.5l-3.4 6.8h6.8zM210.7 200.5l-3.4 6.8h6.8zM215.3 196.8l-3.4 6.8h6.8zM256.0 154.8l-3.4 6.8h6.8zM240.7 170.5l-3.4 6.8h6.8zM246.3 164.8l-3.4 6.8h6.8zM243.1 168.0l-3.4 6.8h6.8zM212.2 189.9l-3.4 6.8h6.8zM245.8 181.4l-3.4 6.8h6.8zM211.9 202.1l-3.4 6.8h6.8zM231.3 179.5l-3.4 6.8h6.8zM220.9 191.4l-3.4 6.8h6.8zM217.4 188.9l-3.4 6.8h6.8zM216.3 195.3l-3.4 6.8h6.8zM215.3 171.8l-3.4 6.8h6.8zM260.5 150.9l-3.4 6.8h6.8zM236.3 175.0l-3.4 6.8h6.8zM220.8 189.7l-3.4 6.8h6.8zM237.7 172.8l-3.4 6.8h6.8zM209.4 202.9l-3.4 6.8h6.8zM210.0 206.1l-3.4 6.8h6.8zM241.5 168.9l-3.4 6.8h6.8zM225.4 186.8l-3.4 6.8h6.8zM226.4 185.3l-3.4 6.8h6.8zM212.1 199.0l-3.4 6.8h6.8zM257.6 153.4l-3.4 6.8h6.8zM216.5 193.7l-3.4 6.8h6.8zM226.8 147.7l-3.4 6.8h6.8zM227.2 184.2l-3.4 6.8h6.8zM221.7 188.6l-3.4 6.8h6.8zM213.5 197.0l-3.4 6.8h6.8zM262.6 147.9l-3.4 6.8h6.8z" fill="none" stroke="#ff0000" stroke-opacity="0.26" stroke-width="1.0"/>
<g fill="none" stroke="#0000ff" stroke-opacity="0.4"><use href="#st" x="227.5" y="185.3"/><use href="#st" x="256.4" y="166.3"/><use href="#st" x="262.2" y="154.2"/><use href="#st" x="224.5" y="195.3"/><use href="#st" x="255.8" y="160"/><use href="#st" x="245.9" y="166.8"/><use href="#st" x="256.2" y="157.3"/><use href="#st" x="260" y="152.2"/><use href="#st" x="234.3" y="179.6"/><use href="#st" x="234.5" y="131.4"/><use href="#st" x="229.8" y="185.3"/><use href="#st" x="230.3" y="180.1"/><use href="#st" x="215" y="196.3"/><use href="#st" x="245.6" y="166.4"/><use href="#st" x="256.4" y="153.8"/><use href="#st" x="221.6" y="193.9"/><use href="#st" x="241.9" y="175.1"/><use href="#st" x="263" y="151.8"/><use href="#st" x="249.6" y="166.3"/><use href="#st" x="209.9" y="207.8"/><use href="#st" x="259.4" y="153.9"/><use href="#st" x="258.1" y="161.8"/><use href="#st" x="229" y="182.9"/><use href="#st" x="256" y="157"/><use href="#st" x="248.3" y="167.3"/><use href="#st" x="255" y="160.7"/></g>
<path d="M224.9 186.6l-3.4 6.8h6.8zM256.8 154.2l-3.4 6.8h6.8zM216.0 196.7l-3.4 6.8h6.8zM218.1 192.9l-3.4 6.8h6.8zM236.0 175.7l-3.4 6.8h6.8zM267.6 143.1l-3.4 6.8h6.8zM248.5 169.9l-3.4 6.8h6.8zM237.2 208.8l-3.4 6.8h6.8zM213.5 198.7l-3.4 6.8h6.8zM225.5 186.0l-3.4 6.8h6.8zM233.7 178.0l-3.4 6.8h6.8zM248.4 162.3l-3.4 6.8h6.8zM219.1 188.9l-3.4 6.8h6.8zM251.1 160.0l-3.4 6.8h6.8zM207.5 203.0l-3.4 6.8h6.8zM212.2 199.0l-3.4 6.8h6.8zM209.6 201.8l-3.4 6.8h6.8zM223.0 189.2l-3.4 6.8h6.8zM247.9 167.2l-3.4 6.8h6.8zM273.0 131.2l-3.4 6.8h6.8zM224.4 197.4l-3.4 6.8h6.8zM217.0 192.9l-3.4 6.8h6.8zM219.2 192.7l-3.4 6.8h6.8zM247.0 164.9l-3.4 6.8h6.8zM214.6 198.8l-3.4 6.8h6.8zM220.2 192.0l-3.4 6.8h6.8zM248.0 163.0l-3.4 6.8h6.8zM258.9 152.1l-3.4 6.8h6.8zM251.2 149.1l-3.4 6.8h6.8zM209.6 204.2l-3.4 6.8h6.8zM207.1 202.7l-3.4 6.8h6.8zM243.3 167.9l-3.4 6.8h6.8zM226.7 184.2l-3.4 6.8h6.8zM223.2 188.0l-3.4 6.8h6.8zM218.0 193.4l-3.4 6.8h6.8zM244.9 168.4l-3.4 6.8h6.8zM208.5 202.7l-3.4 6.8h6.8zM208.8 202.3l-3.4 6.8h6.8zM225.3 152.5l-3.4 6.8h6.8zM234.7 176.8l-3.4 6.8h6.8zM229.1 182.3l-3.4 6.8h6.8zM235.3 176.5l-3.4 6.8h6.8zM229.4 181.5l-3.4 6.8h6.8zM233.1 177.8l-3.4 6.8h6.8zM246.2 165.2l-3.4 6.8h6.8zM239.4 172.5l-3.4 6.8h6.8zM216.8 194.4l-3.4 6.8h6.8zM210.0 202.2l-3.4 6.8h6.8zM233.4 178.3l-3.4 6.8h6.8zM213.5 195.2l-3.4 6.8h6.8zM256.1 153.9l-3.4 6.8h6.8zM246.4 164.4l-3.4 6.8h6.8zM215.6 196.9l-3.4 6.8h6.8zM229.8 180.8l-3.4 6.8h6.8zM227.1 185.1l-3.4 6.8h6.8zM231.0 180.8l-3.4 6.8h6.8zM253.3 160.4l-3.4 6.8h6.8zM264.0 146.5l-3.4 6.8h6.8zM217.5 194.6l-3.4 6.8h6.8zM247.3 163.7l-3.4 6.8h6.8zM265.8 151.4l-3.4 6.8h6.8zM231.4 181.1l-3.4 6.8h6.8zM224.7 186.1l-3.4 6.8h6.8zM210.3 200.0l-3.4 6.8h6.8zM244.6 167.0l-3.4 6.8h6.8zM225.8 184.6l-3.4 6.8h6.8zM224.4 187.0l-3.4 6.8h6.8zM261.4 149.3l-3.4 6.8h6.8zM239.8 171.3l-3.4 6.8h6.8zM235.4 172.7l-3.4 6.8h6.8zM232.6 179.1l-3.4 6.8h6.8z" fill="none" stroke="#ff0000" stroke-opacity="0.26" stroke-width="1.0"/>
<g fill="none" stroke="#0000ff" stroke-opacity="0.4"><use href="#st" x="217.2" y="195.7"/><use href="#st" x="227.8" y="180.6"/><use href="#st" x="265.5" y="153.2"/><use href="#st" x="223.9" y="188.7"/><use href="#st" x="234.2" y="180.6"/><use href="#st" x="219.2" y="198.7"/><use href="#st" x="211.5" y="203.6"/><use href="#st" x="223.5" y="191.9"/><use href="#st" x="239.7" y="169.1"/><use href="#st" x="268.4" y="145.8"/><use href="#st" x="235.4" y="174.5"/><use href="#st" x="229.6" y="188.5"/><use href="#st" x="209.1" y="206.8"/><use href="#st" x="244.3" y="168.6"/><use href="#st" x="249.5" y="164.1"/><use href="#st" x="240.4" y="175.3"/><use href="#st" x="215.4" y="198.1"/><use href="#st" x="243.4" y="169.6"/><use href="#st" x="260.7" y="151.3"/><use href="#st" x="235.7" y="179.1"/><use href="#st" x="218.1" y="200.6"/><use href="#st" x="240.3" y="169.8"/><use href="#st" x="236.1" y="178.6"/><use href="#st" x="224.3" y="191.4"/><use href="#st" x="223.3" y="190.7"/><use href="#st" x="256.8" y="159.2"/></g>
<path d="M232.5 179.0l-3.4 6.8h6.8zM225.5 184.8l-3.4 6.8h6.8zM250.9 159.8l-3.4 6.8h6.8zM244.6 167.3l-3.4 6.8h6.8zM213.3 198.0l-3.4 6.8h6.8zM240.5 170.9l-3.4 6.8h6.8zM250.4 161.9l-3.4 6.8h6.8zM251.5 159.2l-3.4 6.8h6.8zM222.7 188.6l-3.4 6.8h6.8zM218.1 193.7l-3.4 6.8h6.8zM263.6 146.8l-3.4 6.8h6.8zM243.4 165.7l-3.4 6.8h6.8zM224.1 187.8l-3.4 6.8h6.8zM217.1 195.0l-3.4 6.8h6.8zM225.0 186.2l-3.4 6.8h6.8zM244.3 156.9l-3.4 6.8h6.8zM223.4 187.6l-3.4 6.8h6.8zM257.8 152.4l-3.4 6.8h6.8zM240.8 182.9l-3.4 6.8h6.8zM252.5 158.9l-3.4 6.8h6.8zM267.0 144.0l-3.4 6.8h6.8zM224.7 187.3l-3.4 6.8h6.8zM235.1 183.1l-3.4 6.8h6.8zM269.5 141.5l-3.4 6.8h6.8zM257.3 153.1l-3.4 6.8h6.8zM202.8 184.5l-3.4 6.8h6.8zM255.7 155.5l-3.4 6.8h6.8zM221.0 191.2l-3.4 6.8h6.8zM215.9 195.9l-3.4 6.8h6.8zM226.8 185.7l-3.4 6.8h6.8zM245.3 167.0l-3.4 6.8h6.8zM239.3 171.9l-3.4 6.8h6.8zM218.9 192.8l-3.4 6.8h6.8zM242.4 169.3l-3.4 6.8h6.8zM218.1 193.0l-3.4 6.8h6.8zM246.9 162.7l-3.4 6.8h6.8zM253.6 158.1l-3.4 6.8h6.8zM247.4 163.8l-3.4 6.8h6.8zM220.0 191.2l-3.4 6.8h6.8zM213.3 201.8l-3.4 6.8h6.8zM254.6 156.1l-3.4 6.8h6.8zM227.0 184.0l-3.4 6.8h6.8zM219.5 195.8l-3.4 6.8h6.8zM230.7 186.6l-3.4 6.8h6.8zM225.8 184.8l-3.4 6.8h6.8zM223.6 187.3l-3.4 6.8h6.8zM254.1 157.2l-3.4 6.8h6.8zM191.6 175.1l-3.4 6.8h6.8zM247.6 163.5l-3.4 6.8h6.8zM233.0 178.6l-3.4 6.8h6.8zM235.1 177.6l-3.4 6.8h6.8zM263.0 147.6l-3.4 6.8h6.8zM221.6 188.9l-3.4 6.8h6.8zM263.1 148.3l-3.4 6.8h6.8zM209.8 201.3l-3.4 6.8h6.8zM222.2 189.4l-3.4 6.8h6.8zM226.6 184.3l-3.4 6.8h6.8zM207.5 201.9l-3.4 6.8h6.8zM258.9 152.1l-3.4 6.8h6.8zM221.8 182.1l-3.4 6.8h6.8zM235.7 175.0l-3.4 6.8h6.8zM213.7 198.1l-3.4 6.8h6.8zM253.5 153.5l-3.4 6.8h6.8zM208.9 201.5l-3.4 6.8h6.8zM262.3 148.7l-3.4 6.8h6.8zM208.8 200.6l-3.4 6.8h6.8zM228.0 187.9l-3.4 6.8h6.8zM216.2 197.9l-3.4 6.8h6.8zM217.3 193.3l-3.4 6.8h6.8zM209.3 204.2l-3.4 6.8h6.8zM212.1 199.9l-3.4 6.8h6.8z" fill="none" stroke="#ff0000" stroke-opacity="0.26" stroke-width="1.0"/>
<g fill="none" stroke="#0000ff" stroke-opacity="0.4"><use href="#st" x="248.1" y="163.3"/><use href="#st" x="218.1" y="196.1"/><use href="#st" x="227.6" y="187.2"/><use href="#st" x="252.1" y="158.8"/><use href="#st" x="260.8" y="154.3"/><use href="#st" x="248.2" y="160.6"/><use href="#st" x="218.6" y="198.7"/><use href="#st" x="218.6" y="195.7"/><use href="#st" x="256.5" y="154.1"/><use href="#st" x="225.9" y="189.3"/><use href="#st" x="249.5" y="164"/><use href="#st" x="208.9" y="200.9"/><use href="#st" x="218" y="194.1"/><use href="#st" x="251.3" y="164.8"/><use href="#st" x="237.8" y="178.8"/><use href="#st" x="255.8" y="154"/><use href="#st" x="248.2" y="163.9"/><use href="#st" x="265" y="147.8"/><use href="#st" x="215.2" y="202.4"/><use href="#st" x="257.2" y="155.7"/><use href="#st" x="242.9" y="169.2"/><use href="#st" x="241.4" y="173.1"/><use href="#st" x="214" y="199"/><use href="#st" x="211.9" y="203.1"/><use href="#st" x="228.6" y="183.8"/><use href="#st" x="225.4" y="190.7"/></g>
<path d="M230.2 180.3l-3.4 6.8h6.8zM232.8 178.2l-3.4 6.8h6.8zM229.1 183.4l-3.4 6.8h6.8zM228.5 221.1l-3.4 6.8h6.8zM235.1 174.8l-3.4 6.8h6.8zM231.4 180.2l-3.4 6.8h6.8zM233.0 178.2l-3.4 6.8h6.8zM264.7 146.5l-3.4 6.8h6.8zM256.0 155.4l-3.4 6.8h6.8zM250.9 159.7l-3.4 6.8h6.8zM264.8 146.2l-3.4 6.8h6.8zM212.1 199.8l-3.4 6.8h6.8zM237.4 173.6l-3.4 6.8h6.8zM260.5 150.4l-3.4 6.8h6.8zM212.1 200.5l-3.4 6.8h6.8zM210.7 200.0l-3.4 6.8h6.8zM214.0 194.0l-3.4 6.8h6.8zM257.1 154.8l-3.4 6.8h6.8zM238.1 174.0l-3.4 6.8h6.8zM220.1 193.6l-3.4 6.8h6.8zM227.2 183.6l-3.4 6.8h6.8zM233.7 177.4l-3.4 6.8h6.8zM241.7 170.3l-3.4 6.8h6.8zM250.8 159.2l-3.4 6.8h6.8zM264.8 145.5l-3.4 6.8h6.8zM215.5 196.0l-3.4 6.8h6.8zM252.5 160.0l-3.4 6.8h6.8zM242.2 164.6l-3.4 6.8h6.8zM267.2 143.5l-3.4 6.8h6.8zM213.7 197.7l-3.4 6.8h6.8zM214.6 198.5l-3.4 6.8h6.8zM264.3 146.4l-3.4 6.8h6.8zM220.1 192.5l-3.4 6.8h6.8zM268.5 142.6l-3.4 6.8h6.8zM267.0 143.7l-3.4 6.8h6.8zM232.7 178.9l-3.4 6.8h6.8zM220.3 192.0l-3.4 6.8h6.8zM268.0 142.6l-3.4 6.8h6.8zM221.2 190.2l-3.4 6.8h6.8zM223.2 189.2l-3.4 6.8h6.8zM225.4 185.6l-3.4 6.8h6.8zM223.6 187.6l-3.4 6.8h6.8zM237.0 177.5l-3.4 6.8h6.8zM251.7 159.5l-3.4 6.8h6.8zM251.0 160.2l-3.4 6.8h6.8zM228.6 183.1l-3.4 6.8h6.8zM227.1 186.4l-3.4 6.8h6.8zM218.3 193.0l-3.4 6.8h6.8zM235.4 143.7l-3.4 6.8h6.8zM250.4 161.0l-3.4 6.8h6.8zM249.3 161.4l-3.4 6.8h6.8zM213.0 198.3l-3.4 6.8h6.8zM221.5 190.8l-3.4 6.8h6.8zM225.7 185.6l-3.4 6.8h6.8zM230.8 179.6l-3.4 6.8h6.8zM245.8 170.6l-3.4 6.8h6.8zM244.3 167.4l-3.4 6.8h6.8zM227.2 180.3l-3.4 6.8h6.8zM219.5 192.1l-3.4 6.8h6.8zM225.1 180.9l-3.4 6.8h6.8zM207.2 202.9l-3.4 6.8h6.8zM205.9 181.3l-3.4 6.8h6.8zM249.3 162.5l-3.4 6.8h6.8zM250.6 163.5l-3.4 6.8h6.8zM217.6 194.0l-3.4 6.8h6.8zM234.1 177.6l-3.4 6.8h6.8zM239.7 172.1l-3.4 6.8h6.8zM249.0 155.6l-3.4 6.8h6.8zM224.8 187.1l-3.4 6.8h6.8zM246.2 164.8l-3.4 6.8h6.8zM222.8 189.1l-3.4 6.8h6.8z" fill="none" stroke="#ff0000" stroke-opacity="0.26" stroke-width="1.0"/>
<g fill="none" stroke="#0000ff" stroke-opacity="0.4"><use href="#st" x="246.3" y="168.2"/><use href="#st" x="265.5" y="147.4"/><use href="#st" x="262.3" y="150.8"/><use href="#st" x="268" y="145.8"/><use href="#st" x="232.9" y="183.9"/><use href="#st" x="216.9" y="203.4"/><use href="#st" x="228.3" y="187.4"/><use href="#st" x="240.5" y="176.4"/><use href="#st" x="256.7" y="156.8"/><use href="#st" x="232.7" y="180.5"/><use href="#st" x="261.8" y="155.4"/><use href="#st" x="258.5" y="156.8"/><use href="#st" x="218.6" y="192.7"/><use href="#st" x="241" y="176.4"/><use href="#st" x="213" y="197.7"/><use href="#st" x="266.6" y="149.1"/><use href="#st" x="236.7" y="176.8"/><use href="#st" x="215.3" y="178.6"/><use href="#st" x="230.4" y="185.6"/><use href="#st" x="255.6" y="160.4"/><use href="#st" x="214.5" y="201.6"/><use href="#st" x="198.7" y="181.4"/><use href="#st" x="207.8" y="206"/><use href="#st" x="249.9" y="162.1"/><use href="#st" x="255.6" y="108.4"/><use href="#st" x="264.5" y="149.2"/></g>
<path d="M266.4 144.4l-3.4 6.8h6.8zM206.9 203.3l-3.4 6.8h6.8zM220.3 190.8l-3.4 6.8h6.8zM258.7 152.9l-3.4 6.8h6.8zM218.7 192.5l-3.4 6.8h6.8zM210.9 192.0l-3.4 6.8h6.8zM211.2 199.2l-3.4 6.8h6.8zM231.2 152.2l-3.4 6.8h6.8zM265.8 145.5l-3.4 6.8h6.8zM208.7 201.6l-3.4 6.8h6.8zM252.9 157.4l-3.4 6.8h6.8zM207.9 202.9l-3.4 6.8h6.8zM232.3 178.8l-3.4 6.8h6.8zM232.5 179.5l-3.4 6.8h6.8zM258.6 151.8l-3.4 6.8h6.8zM228.0 183.4l-3.4 6.8h6.8zM247.5 163.5l-3.4 6.8h6.8zM227.1 184.4l-3.4 6.8h6.8zM216.0 196.4l-3.4 6.8h6.8zM211.5 200.8l-3.4 6.8h6.8zM240.4 170.2l-3.4 6.8h6.8zM242.1 169.7l-3.4 6.8h6.8zM221.3 190.5l-3.4 6.8h6.8zM227.1 206.9l-3.4 6.8h6.8zM212.6 196.9l-3.4 6.8h6.8zM246.1 165.5l-3.4 6.8h6.8zM224.5 188.0l-3.4 6.8h6.8zM218.4 193.8l-3.4 6.8h6.8zM223.9 193.6l-3.4 6.8h6.8zM214.0 194.8l-3.4 6.8h6.8zM246.8 164.1l-3.4 6.8h6.8zM207.1 200.0l-3.4 6.8h6.8zM232.6 178.3l-3.4 6.8h6.8zM269.4 140.6l-3.4 6.8h6.8zM274.2 138.7l-3.4 6.8h6.8zM258.9 151.8l-3.4 6.8h6.8zM254.7 159.2l-3.4 6.8h6.8zM253.4 157.4l-3.4 6.8h6.8zM255.4 155.2l-3.4 6.8h6.8zM236.2 174.8l-3.4 6.8h6.8zM252.1 158.3l-3.4 6.8h6.8zM253.9 156.3l-3.4 6.8h6.8zM230.2 180.7l-3.4 6.8h6.8zM215.5 196.5l-3.4 6.8h6.8zM210.1 201.9l-3.4 6.8h6.8zM232.1 180.1l-3.4 6.8h6.8zM216.7 194.9l-3.4 6.8h6.8zM246.9 164.1l-3.4 6.8h6.8zM218.2 206.3l-3.4 6.8h6.8zM210.3 201.0l-3.4 6.8h6.8zM268.4 142.3l-3.4 6.8h6.8zM214.4 199.9l-3.4 6.8h6.8zM230.0 182.4l-3.4 6.8h6.8zM220.6 190.0l-3.4 6.8h6.8zM226.1 185.3l-3.4 6.8h6.8zM203.9 177.1l-3.4 6.8h6.8zM242.6 168.6l-3.4 6.8h6.8zM254.7 155.6l-3.4 6.8h6.8zM229.9 181.2l-3.4 6.8h6.8zM228.1 183.2l-3.4 6.8h6.8zM258.9 152.1l-3.4 6.8h6.8zM255.0 155.8l-3.4 6.8h6.8zM251.9 168.9l-3.4 6.8h6.8zM220.5 187.6l-3.4 6.8h6.8zM238.3 172.9l-3.4 6.8h6.8zM238.5 195.3l-3.4 6.8h6.8zM261.7 149.6l-3.4 6.8h6.8zM247.7 159.4l-3.4 6.8h6.8zM204.5 200.9l-3.4 6.8h6.8zM266.9 144.3l-3.4 6.8h6.8zM234.4 177.3l-3.4 6.8h6.8z" fill="none" stroke="#ff0000" stroke-opacity="0.26" stroke-width="1.0"/>
<g fill="none" stroke="#2ca02c" stroke-opacity="0.6"><use href="#ci" x="192.6" y="561.8"/><use href="#ci" x="233.8" y="555"/><use href="#ci" x="239.9" y="582"/><use href="#ci" x="212.8" y="581"/><use href="#ci" x="127.2" y="557.5"/><use href="#ci" x="151.2" y="542.4"/><use href="#ci" x="88.3" y="552.4"/><use href="#ci" x="220.8" y="560.6"/><use href="#ci" x="120.1" y="565.8"/><use href="#ci" x="256.1" y="563.8"/><use href="#ci" x="220.4" y="556.5"/><use href="#ci" x="200.4" y="551.5"/><use href="#ci" x="197" y="551"/><use href="#ci" x="264.4" y="549.2"/><use href="#ci" x="248.3" y="566"/><use href="#ci" x="259.2" y="599.7"/><use href="#ci" x="190.3" y="561"/><use href="#ci" x="257.1" y="558.9"/><use href="#ci" x="203.8" y="559.7"/><use href="#ci" x="181.3" y="550.7"/><use href="#ci" x="111.1" y="519.6"/><use href="#ci" x="217.6" y="504"/><use href="#ci" x="89.9" y="553"/><use href="#ci" x="240.2" y="560.5"/><use href="#ci" x="210.3" y="555.9"/><use href="#ci" x="243.7" y="557.3"/><use href="#ci" x="140.2" y="544.9"/><use href="#ci" x="181.8" y="554.9"/><use href="#ci" x="225.7" y="561"/><use href="#ci" x="210.4" y="548.2"/><use href="#ci" x="196.2" y="512.7"/><use href="#ci" x="238.8" y="556.3"/><use href="#ci" x="95.1" y="555.6"/><use href="#ci" x="230" y="558"/><use href="#ci" x="193.4" y="554.6"/><use href="#ci" x="210.8" y="535.6"/><use href="#ci" x="205.5" y="554.1"/><use href="#ci" x="92.1" y="559.1"/><use href="#ci" x="259.7" y="563"/><use href="#ci" x="95.8" y="563.3"/><use href="#ci" x="214.3" y="556.4"/><use href="#ci" x="237.6" y="553.7"/><use href="#ci" x="108.9" y="555.2"/><use href="#ci" x="268.9" y="565.4"/><use href="#ci" x="86.7" y="553.1"/><use href="#ci" x="84.2" y="553.7"/><use href="#ci" x="258.9" y="553.5"/><use href="#ci" x="211.7" y="553.7"/><use href="#ci" x="251.6" y="554.9"/><use href="#ci" x="158.1" y="557.5"/><use href="#ci" x="230.4" y="552.1"/><use href="#ci" x="211.3" y="566.6"/><use href="#ci" x="91.4" y="548"/><use href="#ci" x="191.6" y="561.8"/><use href="#ci" x="196.2" y="551.7"/><use href="#ci" x="256.9" y="579.5"/><use href="#ci" x="84.5" y="557.2"/><use href="#ci" x="205" y="564"/><use href="#ci" x="214.1" y="557.6"/><use href="#ci" x="91.6" y="557.5"/><use href="#ci" x="268.7" y="559.1"/><use href="#ci" x="220.1" y="541.8"/><use href="#ci" x="290.7" y="558.4"/><use href="#ci" x="233.6" y="590.7"/><use href="#ci" x="253.7" y="549.3"/><use href="#ci" x="242.6" y="560"/><use href="#ci" x="125.7" y="562.1"/><use href="#ci" x="190.9" y="555.6"/><use href="#ci" x="155.8" y="554.3"/><use href="#ci" x="261" y="536"/><use href="#ci" x="212.4" y="586.2"/><use href="#ci" x="160.4" y="561.4"/><use href="#ci" x="245" y="621.1"/><use href="#ci" x="190.8" y="558.6"/><use href="#ci" x="90.1" y="555.9"/><use href="#ci" x="267.6" y="545.6"/><use href="#ci" x="189.6" y="555.5"/><use href="#ci" x="93.9" y="564"/><use href="#ci" x="186.4" y="552.9"/><use href="#ci" x="151" y="553.1"/><use href="#ci" x="204.5" y="557.8"/><use href="#ci" x="204.5" y="519.4"/><use href="#ci" x="216" y="503.4"/><use href="#ci" x="234.9" y="562"/><use href="#ci" x="194.3" y="559.9"/><use href="#ci" x="143.8" y="561.5"/><use href="#ci" x="210.3" y="559.3"/><use href="#ci" x="238.7" y="560.3"/><use href="#ci" x="213.3" y="559.4"/><use href="#ci" x="227" y="514.8"/><use href="#ci" x="190.6" y="558.6"/><use href="#ci" x="119" y="557.4"/><use href="#ci" x="259.8" y="553.9"/><use href="#ci" x="120.1" y="588.2"/><use href="#ci" x="254.7" y="555.2"/><use href="#ci" x="262.1" y="560"/><use href="#ci" x="232.6" y="548.3"/><use href="#ci" x="263.4" y="558"/><use href="#ci" x="190" y="562.2"/><use href="#ci" x="195.7" y="562.7"/><use href="#ci" x="266.6" y="551.4"/><use href="#ci" x="222.1" y="560.4"/><use href="#ci" x="240.9" y="576.8"/><use href="#ci" x="268.6" y="558.5"/><use href="#ci" x="208.7" y="618.4"/><use href="#ci" x="93.6" y="558"/><use href="#ci" x="253.1" y="564.1"/><use href="#ci" x="130.4" y="593"/><use href="#ci" x="241.5" y="559.8"/><use href="#ci" x="245.6" y="559"/><use href="#ci" x="228.1" y="563.5"/><use href="#ci" x="211.7" y="555.9"/><use href="#ci" x="254.1" y="554"/><use href="#ci" x="226.5" y="555.9"/><use href="#ci" x="264.3" y="555.5"/><use href="#ci" x="238.4" y="535.6"/><use href="#ci" x="217.9" y="558.3"/><use href="#ci" x="193.6" y="512.7"/><use href="#ci" x="211.6" y="565.2"/><use href="#ci" x="158.4" y="554.4"/><use href="#ci" x="214.9" y="582"/><use href="#ci" x="132.2" y="553.9"/><use href="#ci" x="120.1" y="597.6"/><use href="#ci" x="229.9" y="506.1"/><use href="#ci" x="255.4" y="563"/><use href="#ci" x="104.2" y="560"/><use href="#ci" x="92.6" y="555.5"/><use href="#ci" x="95.7" y="557.1"/><use href="#ci" x="212.8" y="542.8"/><use href="#ci" x="240" y="557.5"/><use href="#ci" x="186" y="562.9"/><use href="#ci" x="233.7" y="562.8"/><use href="#ci" x="266.6" y="554"/><use href="#ci" x="127.9" y="564"/><use href="#ci" x="140.6" y="553.5"/><use href="#ci" x="248.2" y="558.5"/><use href="#ci" x="144.1" y="560.9"/><use href="#ci" x="96.2" y="537.6"/><use href="#ci" x="133.8" y="562.4"/><use href="#ci" x="198.5" y="560.4"/><use href="#ci" x="131.6" y="558.4"/><use href="#ci" x="231.8" y="550.8"/><use href="#ci" x="186.3" y="552.4"/><use href="#ci" x="243.8" y="555.2"/><use href="#ci" x="224.3" y="530.6"/><use href="#ci" x="195.3" y="549.2"/><use href="#ci" x="165.9" y="546.3"/><use href="#ci" x="208.9" y="558.3"/><use href="#ci" x="204.6" y="552.7"/><use href="#ci" x="175.3" y="553.4"/><use href="#ci" x="270" y="555.7"/><use href="#ci" x="200.9" y="556.1"/><use href="#ci" x="217.6" y="551.7"/><use href="#ci" x="135" y="544.9"/><use href="#ci" x="88.3" y="552.1"/><use href="#ci" x="216.9" y="552.5"/><use href="#ci" x="265.9" y="556.7"/><use href="#ci" x="126.8" y="560.5"/><use href="#ci" x="220.6" y="562.1"/><use href="#ci" x="242.9" y="557.2"/><use href="#ci" x="250.9" y="558.8"/><use href="#ci" x="108.1" y="557.3"/><use href="#ci" x="246.5" y="560.4"/><use href="#ci" x="245.1" y="559"/><use href="#ci" x="202" y="552"/><use href="#ci" x="225.4" y="555.9"/><use href="#ci" x="230.9" y="559"/><use href="#ci" x="152.5" y="557.6"/><use href="#ci" x="196.6" y="550.5"/><use href="#ci" x="225.8" y="549.6"/><use href="#ci" x="213.1" y="556.6"/><use href="#ci" x="105.1" y="554.5"/><use href="#ci" x="200.9" y="557.1"/><use href="#ci" x="227.4" y="532.6"/><use href="#ci" x="183.2" y="557.8"/><use href="#ci" x="184.2" y="622.9"/><use href="#ci" x="105.9" y="522"/><use href="#ci" x="110.6" y="555.8"/><use href="#ci" x="266.2" y="593"/><use href="#ci" x="218.2" y="556.6"/><use href="#ci" x="221.2" y="559.7"/><use href="#ci" x="230.9" y="560.5"/><use href="#ci" x="195.4" y="555"/><use href="#ci" x="103.7" y="555.4"/><use href="#ci" x="126.7" y="494.4"/><use href="#ci" x="197.3" y="531"/><use href="#ci" x="257.3" y="553.5"/><use href="#ci" x="205.1" y="553.1"/><use href="#ci" x="223.2" y="576.8"/><use href="#ci" x="264.5" y="556.7"/><use href="#ci" x="169.3" y="572"/><use href="#ci" x="93.8" y="555"/><use href="#ci" x="222.9" y="547.4"/><use href="#ci" x="103.7" y="545"/><use href="#ci" x="243.5" y="557.9"/><use href="#ci" x="198" y="554.8"/><use href="#ci" x="186.5" y="557.4"/><use href="#ci" x="169.8" y="556.7"/><use href="#ci" x="201.9" y="561.8"/><use href="#ci" x="224.9" y="599.7"/><use href="#ci" x="233.5" y="557.6"/><use href="#ci" x="191.4" y="559.8"/><use href="#ci" x="236" y="555"/><use href="#ci" x="214" y="555"/><use href="#ci" x="199.1" y="558.6"/><use href="#ci" x="196.8" y="554.9"/><use href="#ci" x="270.2" y="555.8"/><use href="#ci" x="260.6" y="557.1"/><use href="#ci" x="200.1" y="552.6"/><use href="#ci" x="194.6" y="548.3"/><use href="#ci" x="84.4" y="557.7"/><use href="#ci" x="239" y="556.6"/><use href="#ci" x="171.8" y="621.1"/><use href="#ci" x="257.3" y="549.1"/><use href="#ci" x="85.3" y="561"/><use href="#ci" x="201.4" y="528.9"/><use href="#ci" x="177.2" y="545.5"/><use href="#ci" x="134.6" y="517.5"/><use href="#ci" x="208.9" y="563.6"/><use href="#ci" x="253.7" y="563.4"/><use href="#ci" x="142.9" y="593"/><use href="#ci" x="209.8" y="562.8"/><use href="#ci" x="244" y="555.2"/><use href="#ci" x="159.9" y="553.1"/><use href="#ci" x="191.5" y="558.5"/><use href="#ci" x="241.9" y="588.2"/><use href="#ci" x="253.2" y="556.1"/><use href="#ci" x="96" y="554.3"/><use href="#ci" x="129.1" y="561.4"/><use href="#ci" x="230.2" y="553.1"/><use href="#ci" x="210.5" y="563.2"/><use href="#ci" x="198.2" y="558.7"/><use href="#ci" x="264.1" y="557.8"/><use href="#ci" x="98.7" y="548.3"/><use href="#ci" x="89.5" y="556"/><use href="#ci" x="247.3" y="552.3"/><use href="#ci" x="243.4" y="561"/><use href="#ci" x="222.2" y="570.6"/><use href="#ci" x="250" y="555.5"/><use href="#ci" x="109.2" y="557.9"/><use href="#ci" x="241.5" y="564"/><use href="#ci" x="214.5" y="535.6"/><use href="#ci" x="121.5" y="566.3"/><use href="#ci" x="176.6" y="609.4"/><use href="#ci" x="165.1" y="556.7"/><use href="#ci" x="85.2" y="560.7"/><use href="#ci" x="118.2" y="554.6"/><use href="#ci" x="199" y="561.9"/><use href="#ci" x="203.5" y="613.8"/><use href="#ci" x="157.8" y="557"/><use href="#ci" x="190.6" y="550.2"/><use href="#ci" x="169.3" y="618.4"/><use href="#ci" x="264.4" y="557.6"/><use href="#ci" x="106.8" y="553.4"/><use href="#ci" x="190.2" y="563.9"/><use href="#ci" x="178.2" y="595.5"/><use href="#ci" x="212.3" y="556"/></g>
<g fill="none" stroke="#0000ff" stroke-opacity="0.4"><use href="#st" x="87.1" y="562.4"/><use href="#st" x="154.4" y="554.7"/><use href="#st" x="172.4" y="541.8"/><use href="#st" x="121.7" y="557"/><use href="#st" x="177.8" y="554.4"/><use href="#st" x="140.1" y="556.1"/><use href="#st" x="136.1" y="549.2"/><use href="#st" x="117.3" y="551.1"/><use href="#st" x="141.4" y="556.6"/><use href="#st" x="195.6" y="554.7"/><use href="#st" x="168.5" y="556.6"/><use href="#st" x="143.7" y="554.4"/><use href="#st" x="205.6" y="552.2"/><use href="#st" x="181.6" y="550.6"/><use href="#st" x="140.5" y="557"/><use href="#st" x="192.5" y="558"/><use href="#st" x="149.1" y="556.8"/><use href="#st" x="123.6" y="550"/><use href="#st" x="182.3" y="551.5"/><use href="#st" x="150.8" y="551.8"/><use href="#st" x="97.4" y="554.9"/><use href="#st" x="154.7" y="556.4"/><use href="#st" x="180.7" y="541.8"/><use href="#st" x="126.8" y="550.7"/><use href="#st" x="204" y="554.7"/><use href="#st" x="109.6" y="560.1"/><use href="#st" x="176.3" y="556.3"/><use href="#st" x="183.7" y="559.1"/><use href="#st" x="133.3" y="556.1"/><use href="#st" x="194.5" y="553.4"/><use href="#st" x="113.9" y="552.3"/><use href="#st" x="191" y="599.7"/><use href="#st" x="104.7" y="563.3"/><use href="#st" x="177.9" y="547.5"/><use href="#st" x="106" y="558.4"/><use href="#st" x="191.8" y="555.2"/><use href="#st" x="139.3" y="560.9"/><use href="#st" x="162.2" y="545.5"/><use href="#st" x="99.9" y="557.3"/><use href="#st" x="103.1" y="551.7"/><use href="#st" x="87.3" y="551.6"/><use href="#st" x="109.1" y="559.4"/><use href="#st" x="205.5" y="554.2"/><use href="#st" x="203" y="555.5"/><use href="#st" x="132" y="561.7"/><use href="#st" x="93.7" y="564"/><use href="#st" x="187.3" y="554.7"/><use href="#st" x="152.3" y="548.2"/></g>
<path d="M196.8 555.2l-3.4 6.8h6.8zM179.9 554.8l-3.4 6.8h6.8zM122.6 551.5l-3.4 6.8h6.8zM170.3 548.4l-3.4 6.8h6.8zM186.9 557.8l-3.4 6.8h6.8zM100.2 555.0l-3.4 6.8h6.8zM187.9 550.8l-3.4 6.8h6.8zM157.7 555.2l-3.4 6.8h6.8zM108.2 548.3l-3.4 6.8h6.8zM168.8 553.8l-3.4 6.8h6.8zM189.1 553.6l-3.4 6.8h6.8zM116.1 553.1l-3.4 6.8h6.8zM145.1 553.5l-3.4 6.8h6.8zM111.2 555.2l-3.4 6.8h6.8zM146.4 509.3l-3.4 6.8h6.8zM103.2 551.7l-3.4 6.8h6.8zM139.7 550.1l-3.4 6.8h6.8zM164.1 511.8l-3.4 6.8h6.8zM136.7 452.2l-3.4 6.8h6.8zM161.4 552.4l-3.4 6.8h6.8zM171.9 554.4l-3.4 6.8h6.8zM187.3 550.2l-3.4 6.8h6.8zM97.5 553.1l-3.4 6.8h6.8zM164.4 555.1l-3.4 6.8h6.8zM169.3 550.4l-3.4 6.8h6.8zM122.4 549.1l-3.4 6.8h6.8zM177.8 552.4l-3.4 6.8h6.8zM152.2 549.6l-3.4 6.8h6.8zM194.0 549.9l-3.4 6.8h6.8zM113.0 551.3l-3.4 6.8h6.8zM200.1 558.0l-3.4 6.8h6.8zM174.9 552.5l-3.4 6.8h6.8zM133.3 553.2l-3.4 6.8h6.8zM129.9 548.6l-3.4 6.8h6.8zM183.3 554.7l-3.4 6.8h6.8zM155.6 547.4l-3.4 6.8h6.8zM125.5 553.7l-3.4 6.8h6.8zM139.4 554.1l-3.4 6.8h6.8zM122.2 553.0l-3.4 6.8h6.8zM144.5 560.7l-3.4 6.8h6.8zM115.9 553.4l-3.4 6.8h6.8zM189.2 556.3l-3.4 6.8h6.8zM169.5 548.1l-3.4 6.8h6.8zM145.7 554.0l-3.4 6.8h6.8zM156.7 561.9l-3.4 6.8h6.8zM146.0 554.6l-3.4 6.8h6.8zM154.5 557.3l-3.4 6.8h6.8zM201.6 552.2l-3.4 6.8h6.8zM112.2 554.8l-3.4 6.8h6.8zM127.5 554.9l-3.4 6.8h6.8zM103.8 555.8l-3.4 6.8h6.8zM198.3 553.0l-3.4 6.8h6.8zM171.9 550.5l-3.4 6.8h6.8zM180.4 549.2l-3.4 6.8h6.8zM155.7 556.9l-3.4 6.8h6.8zM90.8 553.8l-3.4 6.8h6.8zM188.7 554.3l-3.4 6.8h6.8zM180.9 554.3l-3.4 6.8h6.8zM124.1 555.8l-3.4 6.8h6.8zM113.8 554.2l-3.4 6.8h6.8zM145.8 554.3l-3.4 6.8h6.8zM181.2 557.6l-3.4 6.8h6.8zM97.8 553.6l-3.4 6.8h6.8zM109.2 553.8l-3.4 6.8h6.8zM168.5 558.3l-3.4 6.8h6.8zM151.8 546.8l-3.4 6.8h6.8zM135.9 549.3l-3.4 6.8h6.8zM198.3 550.9l-3.4 6.8h6.8zM187.0 556.5l-3.4 6.8h6.8zM153.3 549.5l-3.4 6.8h6.8zM147.5 516.6l-3.4 6.8h6.8zM150.9 553.8l-3.4 6.8h6.8zM145.8 550.6l-3.4 6.8h6.8zM119.3 551.6l-3.4 6.8h6.8zM141.7 550.2l-3.4 6.8h6.8zM111.8 554.8l-3.4 6.8h6.8zM196.7 554.9l-3.4 6.8h6.8zM205.2 553.9l-3.4 6.8h6.8zM128.8 553.4l-3.4 6.8h6.8zM201.7 551.5l-3.4 6.8h6.8zM158.6 555.4l-3.4 6.8h6.8zM112.1 553.1l-3.4 6.8h6.8zM188.2 552.1l-3.4 6.8h6.8zM161.4 553.2l-3.4 6.8h6.8zM110.4 552.3l-3.4 6.8h6.8zM134.7 555.0l-3.4 6.8h6.8zM183.4 551.4l-3.4 6.8h6.8zM153.7 555.3l-3.4 6.8h6.8zM148.1 546.7l-3.4 6.8h6.8zM148.5 551.9l-3.4 6.8h6.8zM95.1 554.0l-3.4 6.8h6.8zM116.5 554.1l-3.4 6.8h6.8zM137.0 552.5l-3.4 6.8h6.8zM140.2 550.1l-3.4 6.8h6.8zM200.1 554.2l-3.4 6.8h6.8zM136.3 548.7l-3.4 6.8h6.8zM116.0 552.6l-3.4 6.8h6.8zM166.1 552.3l-3.4 6.8h6.8zM151.3 549.5l-3.4 6.8h6.8zM203.4 554.1l-3.4 6.8h6.8zM196.2 548.2l-3.4 6.8h6.8zM194.8 555.6l-3.4 6.8h6.8zM139.4 554.6l-3.4 6.8h6.8zM87.5 552.1l-3.4 6.8h6.8zM166.0 553.0l-3.4 6.8h6.8zM151.1 559.0l-3.4 6.8h6.8zM184.3 554.7l-3.4 6.8h6.8zM175.8 553.4l-3.4 6.8h6.8zM196.2 552.6l-3.4 6.8h6.8zM94.0 551.0l-3.4 6.8h6.8zM151.2 550.0l-3.4 6.8h6.8zM145.2 556.6l-3.4 6.8h6.8zM107.9 551.2l-3.4 6.8h6.8zM172.4 550.6l-3.4 6.8h6.8zM153.3 549.8l-3.4 6.8h6.8zM159.6 550.8l-3.4 6.8h6.8zM110.8 552.0l-3.4 6.8h6.8zM191.8 551.4l-3.4 6.8h6.8zM105.8 554.8l-3.4 6.8h6.8zM142.0 547.2l-3.4 6.8h6.8zM191.0 551.9l-3.4 6.8h6.8zM132.9 557.8l-3.4 6.8h6.8zM103.5 552.2l-3.4 6.8h6.8zM180.7 549.4l-3.4 6.8h6.8zM136.4 557.9l-3.4 6.8h6.8zM174.3 555.0l-3.4 6.8h6.8zM177.8 550.3l-3.4 6.8h6.8zM106.8 552.2l-3.4 6.8h6.8zM110.7 555.1l-3.4 6.8h6.8zM104.8 549.1l-3.4 6.8h6.8zM194.9 550.6l-3.4 6.8h6.8zM181.8 551.4l-3.4 6.8h6.8zM196.5 553.0l-3.4 6.8h6.8zM169.2 556.2l-3.4 6.8h6.8zM103.4 554.4l-3.4 6.8h6.8zM175.6 553.5l-3.4 6.8h6.8zM100.0 552.6l-3.4 6.8h6.8zM110.6 553.9l-3.4 6.8h6.8zM108.9 561.5l-3.4 6.8h6.8zM138.6 552.3l-3.4 6.8h6.8zM205.4 554.2l-3.4 6.8h6.8zM188.2 554.0l-3.4 6.8h6.8zM194.3 550.4l-3.4 6.8h6.8zM88.3 552.2l-3.4 6.8h6.8zM205.3 550.6l-3.4 6.8h6.8zM121.9 558.1l-3.4 6.8h6.8zM171.0 556.4l-3.4 6.8h6.8zM204.7 551.5l-3.4 6.8h6.8zM134.2 553.1l-3.4 6.8h6.8z" fill="none" stroke="#ff0000" stroke-opacity="0.24" stroke-width="1.0"/>
<path d="M155.8 498.9l-3.4 6.8h6.8zM167.4 550.9l-3.4 6.8h6.8zM194.3 554.9l-3.4 6.8h6.8zM186.0 550.1l-3.4 6.8h6.8zM141.9 555.9l-3.4 6.8h6.8zM171.8 560.0l-3.4 6.8h6.8zM206.6 552.5l-3.4 6.8h6.8zM149.1 551.0l-3.4 6.8h6.8zM140.5 556.2l-3.4 6.8h6.8zM134.1 546.5l-3.4 6.8h6.8zM140.2 554.1l-3.4 6.8h6.8zM106.7 552.7l-3.4 6.8h6.8zM193.6 552.4l-3.4 6.8h6.8zM107.9 551.6l-3.4 6.8h6.8zM183.3 547.3l-3.4 6.8h6.8zM144.1 554.8l-3.4 6.8h6.8zM202.5 576.6l-3.4 6.8h6.8zM164.5 556.5l-3.4 6.8h6.8zM202.5 553.7l-3.4 6.8h6.8zM119.6 551.0l-3.4 6.8h6.8zM119.8 548.8l-3.4 6.8h6.8zM190.1 551.0l-3.4 6.8h6.8zM110.1 552.6l-3.4 6.8h6.8zM151.2 554.0l-3.4 6.8h6.8zM202.8 557.2l-3.4 6.8h6.8zM144.4 549.4l-3.4 6.8h6.8zM149.3 555.6l-3.4 6.8h6.8zM141.1 553.9l-3.4 6.8h6.8zM156.5 558.6l-3.4 6.8h6.8zM114.4 551.5l-3.4 6.8h6.8zM135.8 555.1l-3.4 6.8h6.8zM163.7 551.0l-3.4 6.8h6.8zM120.3 550.1l-3.4 6.8h6.8zM187.4 552.5l-3.4 6.8h6.8zM104.9 552.5l-3.4 6.8h6.8zM153.6 558.1l-3.4 6.8h6.8zM197.9 554.7l-3.4 6.8h6.8zM200.5 553.3l-3.4 6.8h6.8zM190.2 550.8l-3.4 6.8h6.8zM187.2 562.3l-3.4 6.8h6.8zM204.0 553.4l-3.4 6.8h6.8zM151.7 553.5l-3.4 6.8h6.8zM124.5 553.2l-3.4 6.8h6.8zM198.4 551.8l-3.4 6.8h6.8zM107.5 554.1l-3.4 6.8h6.8zM207.3 551.4l-3.4 6.8h6.8zM120.9 551.9l-3.4 6.8h6.8zM158.8 551.1l-3.4 6.8h6.8zM107.3 555.5l-3.4 6.8h6.8zM154.7 545.5l-3.4 6.8h6.8zM133.8 557.7l-3.4 6.8h6.8zM178.1 553.4l-3.4 6.8h6.8zM203.2 554.8l-3.4 6.8h6.8zM144.3 549.1l-3.4 6.8h6.8zM181.8 551.9l-3.4 6.8h6.8zM154.5 554.2l-3.4 6.8h6.8zM196.0 553.4l-3.4 6.8h6.8zM171.5 548.9l-3.4 6.8h6.8zM121.9 554.9l-3.4 6.8h6.8zM121.9 551.9l-3.4 6.8h6.8zM143.4 554.4l-3.4 6.8h6.8zM155.9 553.9l-3.4 6.8h6.8zM170.7 551.7l-3.4 6.8h6.8zM202.0 550.2l-3.4 6.8h6.8zM140.3 561.1l-3.4 6.8h6.8zM131.3 555.6l-3.4 6.8h6.8zM178.0 551.5l-3.4 6.8h6.8zM134.4 555.7l-3.4 6.8h6.8zM184.5 554.1l-3.4 6.8h6.8zM201.2 554.4l-3.4 6.8h6.8zM114.0 548.8l-3.4 6.8h6.8zM170.9 557.7l-3.4 6.8h6.8zM124.1 554.4l-3.4 6.8h6.8zM181.2 578.7l-3.4 6.8h6.8zM149.9 553.5l-3.4 6.8h6.8zM143.0 552.9l-3.4 6.8h6.8zM122.0 555.5l-3.4 6.8h6.8zM119.9 559.8l-3.4 6.8h6.8zM188.3 549.4l-3.4 6.8h6.8zM145.7 554.6l-3.4 6.8h6.8zM148.3 549.4l-3.4 6.8h6.8zM188.3 562.7l-3.4 6.8h6.8zM139.4 556.5l-3.4 6.8h6.8zM161.7 548.5l-3.4 6.8h6.8zM94.7 552.3l-3.4 6.8h6.8zM197.3 576.6l-3.4 6.8h6.8zM124.2 555.5l-3.4 6.8h6.8zM154.4 551.3l-3.4 6.8h6.8zM105.2 558.0l-3.4 6.8h6.8zM175.4 551.3l-3.4 6.8h6.8zM187.2 549.1l-3.4 6.8h6.8zM159.3 558.3l-3.4 6.8h6.8zM146.5 555.4l-3.4 6.8h6.8zM186.5 552.6l-3.4 6.8h6.8zM131.3 553.7l-3.4 6.8h6.8zM113.3 546.8l-3.4 6.8h6.8zM203.2 552.9l-3.4 6.8h6.8zM157.6 546.2l-3.4 6.8h6.8zM162.2 549.5l-3.4 6.8h6.8zM166.8 555.5l-3.4 6.8h6.8zM117.8 559.8l-3.4 6.8h6.8zM168.4 552.5l-3.4 6.8h6.8zM103.7 553.4l-3.4 6.8h6.8zM92.6 553.4l-3.4 6.8h6.8zM121.0 555.6l-3.4 6.8h6.8zM143.7 556.7l-3.4 6.8h6.8zM111.6 556.4l-3.4 6.8h6.8zM100.1 556.1l-3.4 6.8h6.8zM147.1 553.8l-3.4 6.8h6.8zM207.0 553.5l-3.4 6.8h6.8zM155.7 556.7l-3.4 6.8h6.8zM144.9 559.0l-3.4 6.8h6.8zM170.3 555.9l-3.4 6.8h6.8zM112.7 553.2l-3.4 6.8h6.8zM133.9 552.5l-3.4 6.8h6.8zM106.1 550.1l-3.4 6.8h6.8zM179.2 551.7l-3.4 6.8h6.8zM129.0 553.4l-3.4 6.8h6.8zM118.9 552.2l-3.4 6.8h6.8zM146.7 551.4l-3.4 6.8h6.8zM141.0 549.0l-3.4 6.8h6.8zM201.6 548.0l-3.4 6.8h6.8zM190.2 553.8l-3.4 6.8h6.8zM176.8 556.8l-3.4 6.8h6.8zM111.3 551.8l-3.4 6.8h6.8zM137.9 550.7l-3.4 6.8h6.8zM152.8 560.0l-3.4 6.8h6.8zM203.5 557.6l-3.4 6.8h6.8zM162.1 550.6l-3.4 6.8h6.8zM196.8 557.5l-3.4 6.8h6.8zM130.2 549.5l-3.4 6.8h6.8zM171.8 557.4l-3.4 6.8h6.8zM178.2 551.3l-3.4 6.8h6.8zM183.1 551.4l-3.4 6.8h6.8zM103.7 551.9l-3.4 6.8h6.8zM176.7 557.9l-3.4 6.8h6.8zM129.2 554.0l-3.4 6.8h6.8zM164.1 555.5l-3.4 6.8h6.8zM146.5 543.9l-3.4 6.8h6.8zM156.2 560.9l-3.4 6.8h6.8zM196.7 553.8l-3.4 6.8h6.8zM112.3 551.6l-3.4 6.8h6.8zM127.6 556.8l-3.4 6.8h6.8zM147.7 556.3l-3.4 6.8h6.8zM119.9 550.2l-3.4 6.8h6.8zM126.0 555.9l-3.4 6.8h6.8zM124.9 551.1l-3.4 6.8h6.8zM182.9 558.3l-3.4 6.8h6.8zM119.0 550.6l-3.4 6.8h6.8z" fill="none" stroke="#ff0000" stroke-opacity="0.24" stroke-width="1.0"/>
<g fill="none" stroke="#0000ff" stroke-opacity="0.4"><use href="#st" x="163.1" y="551.1"/><use href="#st" x="167.5" y="553.7"/><use href="#st" x="94.1" y="559.8"/><use href="#st" x="183" y="558.5"/><use href="#st" x="100.5" y="551.7"/><use href="#st" x="101.3" y="557.6"/><use href="#st" x="109.1" y="558.3"/><use href="#st" x="120.6" y="554.8"/><use href="#st" x="188.9" y="554.3"/><use href="#st" x="88.8" y="560"/><use href="#st" x="184.5" y="549.4"/><use href="#st" x="155.1" y="557.5"/><use href="#st" x="113.7" y="557"/><use href="#st" x="201.7" y="552.5"/><use href="#st" x="180.1" y="556.5"/><use href="#st" x="118.9" y="554.4"/><use href="#st" x="145.2" y="555.6"/><use href="#st" x="163.4" y="550.6"/><use href="#st" x="188.1" y="552.6"/><use href="#st" x="135.3" y="556.4"/><use href="#st" x="89.6" y="548.3"/><use href="#st" x="122.6" y="557.7"/><use href="#st" x="175.5" y="562.6"/><use href="#st" x="167.1" y="554.1"/><use href="#st" x="162.3" y="554"/><use href="#st" x="184.5" y="510.6"/><use href="#st" x="148.2" y="562.7"/><use href="#st" x="135.5" y="557.4"/><use href="#st" x="102.8" y="576.8"/><use href="#st" x="201" y="554.3"/><use href="#st" x="190.2" y="556.8"/><use href="#st" x="170.6" y="554.8"/><use href="#st" x="189.4" y="559.8"/><use href="#st" x="201.9" y="555.8"/><use href="#st" x="192.2" y="555.4"/><use href="#st" x="207.3" y="552.2"/><use href="#st" x="93.7" y="551.2"/><use href="#st" x="149.3" y="550.4"/><use href="#st" x="134.7" y="553.3"/><use href="#st" x="148.4" y="551.6"/><use href="#st" x="128.6" y="554.1"/><use href="#st" x="84.7" y="556.5"/><use href="#st" x="110.8" y="556.9"/><use href="#st" x="161.1" y="561"/><use href="#st" x="195.3" y="555.7"/><use href="#st" x="166.2" y="556.5"/><use href="#st" x="155.9" y="554.7"/></g>
<path d="M202.3 552.1l-3.4 6.8h6.8zM151.0 575.0l-3.4 6.8h6.8zM153.5 546.6l-3.4 6.8h6.8zM147.5 547.9l-3.4 6.8h6.8zM182.2 551.9l-3.4 6.8h6.8zM194.8 552.4l-3.4 6.8h6.8zM132.9 550.3l-3.4 6.8h6.8zM195.1 551.7l-3.4 6.8h6.8zM165.5 548.5l-3.4 6.8h6.8zM174.5 572.4l-3.4 6.8h6.8zM148.8 552.3l-3.4 6.8h6.8zM135.5 549.7l-3.4 6.8h6.8zM191.9 555.4l-3.4 6.8h6.8zM169.7 555.1l-3.4 6.8h6.8zM110.5 553.5l-3.4 6.8h6.8zM166.2 551.7l-3.4 6.8h6.8zM115.2 555.8l-3.4 6.8h6.8zM201.1 554.1l-3.4 6.8h6.8zM120.3 550.6l-3.4 6.8h6.8zM107.4 553.2l-3.4 6.8h6.8zM131.5 549.5l-3.4 6.8h6.8zM107.0 551.7l-3.4 6.8h6.8zM154.9 559.7l-3.4 6.8h6.8zM127.6 549.6l-3.4 6.8h6.8zM204.5 555.3l-3.4 6.8h6.8zM173.5 550.6l-3.4 6.8h6.8zM120.8 551.1l-3.4 6.8h6.8zM121.8 552.3l-3.4 6.8h6.8zM125.5 548.9l-3.4 6.8h6.8zM170.8 551.1l-3.4 6.8h6.8zM108.1 549.4l-3.4 6.8h6.8zM130.5 556.1l-3.4 6.8h6.8zM145.5 557.4l-3.4 6.8h6.8zM161.0 530.5l-3.4 6.8h6.8zM95.5 552.0l-3.4 6.8h6.8zM127.3 554.7l-3.4 6.8h6.8zM140.0 550.9l-3.4 6.8h6.8zM185.5 550.0l-3.4 6.8h6.8zM104.7 552.3l-3.4 6.8h6.8zM167.1 552.7l-3.4 6.8h6.8zM142.6 554.7l-3.4 6.8h6.8zM151.6 553.5l-3.4 6.8h6.8zM201.2 559.0l-3.4 6.8h6.8zM137.7 557.6l-3.4 6.8h6.8zM103.8 549.6l-3.4 6.8h6.8zM132.1 553.2l-3.4 6.8h6.8zM173.6 550.4l-3.4 6.8h6.8zM175.1 553.4l-3.4 6.8h6.8zM130.3 551.2l-3.4 6.8h6.8zM115.0 551.8l-3.4 6.8h6.8zM152.7 619.5l-3.4 6.8h6.8zM197.1 553.6l-3.4 6.8h6.8zM153.4 548.6l-3.4 6.8h6.8zM191.7 537.7l-3.4 6.8h6.8zM199.8 550.7l-3.4 6.8h6.8zM116.0 557.6l-3.4 6.8h6.8zM202.3 551.4l-3.4 6.8h6.8zM177.9 554.3l-3.4 6.8h6.8zM119.2 557.4l-3.4 6.8h6.8zM145.5 554.9l-3.4 6.8h6.8zM167.5 552.9l-3.4 6.8h6.8zM147.3 548.0l-3.4 6.8h6.8zM181.4 554.7l-3.4 6.8h6.8zM136.0 547.6l-3.4 6.8h6.8zM176.6 553.5l-3.4 6.8h6.8zM141.8 545.0l-3.4 6.8h6.8zM102.4 553.3l-3.4 6.8h6.8zM156.0 550.8l-3.4 6.8h6.8zM137.6 559.5l-3.4 6.8h6.8zM114.0 555.5l-3.4 6.8h6.8zM176.4 547.3l-3.4 6.8h6.8zM178.2 555.1l-3.4 6.8h6.8zM166.0 540.9l-3.4 6.8h6.8zM206.0 552.7l-3.4 6.8h6.8zM173.3 552.6l-3.4 6.8h6.8zM181.6 553.7l-3.4 6.8h6.8zM154.7 548.4l-3.4 6.8h6.8zM199.1 555.6l-3.4 6.8h6.8zM187.2 562.2l-3.4 6.8h6.8zM178.4 551.0l-3.4 6.8h6.8zM192.4 551.0l-3.4 6.8h6.8zM201.1 553.1l-3.4 6.8h6.8zM126.8 552.4l-3.4 6.8h6.8zM156.7 548.6l-3.4 6.8h6.8zM123.0 553.2l-3.4 6.8h6.8zM150.0 551.5l-3.4 6.8h6.8zM177.0 551.4l-3.4 6.8h6.8zM159.0 554.2l-3.4 6.8h6.8zM173.3 558.5l-3.4 6.8h6.8zM190.4 553.3l-3.4 6.8h6.8zM171.3 550.0l-3.4 6.8h6.8zM120.5 552.1l-3.4 6.8h6.8zM123.2 550.0l-3.4 6.8h6.8zM106.7 560.4l-3.4 6.8h6.8zM206.3 553.7l-3.4 6.8h6.8zM159.4 552.6l-3.4 6.8h6.8zM112.0 556.4l-3.4 6.8h6.8zM167.0 550.7l-3.4 6.8h6.8zM108.3 556.0l-3.4 6.8h6.8zM166.2 542.6l-3.4 6.8h6.8zM152.4 548.2l-3.4 6.8h6.8zM108.3 553.3l-3.4 6.8h6.8zM178.4 551.9l-3.4 6.8h6.8zM156.2 552.6l-3.4 6.8h6.8zM157.7 553.0l-3.4 6.8h6.8zM154.7 556.1l-3.4 6.8h6.8zM158.2 556.9l-3.4 6.8h6.8zM166.8 551.8l-3.4 6.8h6.8zM97.7 551.1l-3.4 6.8h6.8zM162.4 549.0l-3.4 6.8h6.8zM88.2 556.2l-3.4 6.8h6.8zM185.0 550.9l-3.4 6.8h6.8zM148.5 552.5l-3.4 6.8h6.8zM167.4 552.8l-3.4 6.8h6.8zM165.8 552.1l-3.4 6.8h6.8zM185.1 553.9l-3.4 6.8h6.8zM170.5 554.1l-3.4 6.8h6.8zM103.1 554.8l-3.4 6.8h6.8zM130.0 550.8l-3.4 6.8h6.8zM154.2 550.1l-3.4 6.8h6.8zM122.2 535.6l-3.4 6.8h6.8zM176.7 569.3l-3.4 6.8h6.8zM200.0 553.0l-3.4 6.8h6.8zM120.3 552.6l-3.4 6.8h6.8zM124.6 556.5l-3.4 6.8h6.8zM128.7 552.3l-3.4 6.8h6.8zM150.5 551.7l-3.4 6.8h6.8zM144.2 551.1l-3.4 6.8h6.8zM140.6 559.8l-3.4 6.8h6.8zM180.0 556.4l-3.4 6.8h6.8zM201.5 554.8l-3.4 6.8h6.8zM189.8 550.2l-3.4 6.8h6.8zM156.9 551.3l-3.4 6.8h6.8zM179.2 553.4l-3.4 6.8h6.8zM143.5 562.6l-3.4 6.8h6.8zM159.7 557.3l-3.4 6.8h6.8zM139.2 552.3l-3.4 6.8h6.8zM177.9 549.5l-3.4 6.8h6.8zM115.0 558.6l-3.4 6.8h6.8zM207.3 553.9l-3.4 6.8h6.8zM104.1 548.1l-3.4 6.8h6.8zM112.8 555.7l-3.4 6.8h6.8zM179.3 552.7l-3.4 6.8h6.8zM160.3 552.5l-3.4 6.8h6.8zM178.9 556.6l-3.4 6.8h6.8zM134.2 555.3l-3.4 6.8h6.8zM206.4 556.4l-3.4 6.8h6.8zM203.5 552.7l-3.4 6.8h6.8zM138.2 549.0l-3.4 6.8h6.8z" fill="none" stroke="#ff0000" stroke-opacity="0.24" stroke-width="1.0"/>
<path d="M133.0 553.5l-3.4 6.8h6.8zM166.6 551.8l-3.4 6.8h6.8zM170.6 554.4l-3.4 6.8h6.8zM109.7 550.4l-3.4 6.8h6.8zM180.7 558.2l-3.4 6.8h6.8zM206.6 550.5l-3.4 6.8h6.8zM180.7 553.1l-3.4 6.8h6.8zM150.8 554.0l-3.4 6.8h6.8zM174.4 559.7l-3.4 6.8h6.8zM186.9 551.0l-3.4 6.8h6.8zM170.9 551.6l-3.4 6.8h6.8zM105.6 553.1l-3.4 6.8h6.8zM109.5 551.6l-3.4 6.8h6.8zM88.8 552.9l-3.4 6.8h6.8zM118.6 557.3l-3.4 6.8h6.8zM172.6 554.4l-3.4 6.8h6.8zM185.3 553.1l-3.4 6.8h6.8zM154.2 552.9l-3.4 6.8h6.8zM162.4 555.3l-3.4 6.8h6.8zM121.1 550.9l-3.4 6.8h6.8zM190.8 553.9l-3.4 6.8h6.8zM138.6 554.6l-3.4 6.8h6.8zM99.1 555.3l-3.4 6.8h6.8zM108.1 553.0l-3.4 6.8h6.8zM138.3 555.2l-3.4 6.8h6.8zM154.3 552.7l-3.4 6.8h6.8zM126.5 555.4l-3.4 6.8h6.8zM189.0 552.4l-3.4 6.8h6.8zM206.0 550.9l-3.4 6.8h6.8zM138.7 549.0l-3.4 6.8h6.8zM180.6 553.8l-3.4 6.8h6.8zM197.0 558.6l-3.4 6.8h6.8zM95.2 553.0l-3.4 6.8h6.8zM134.3 555.3l-3.4 6.8h6.8zM160.3 550.8l-3.4 6.8h6.8zM188.7 551.1l-3.4 6.8h6.8zM169.4 555.8l-3.4 6.8h6.8zM100.9 552.2l-3.4 6.8h6.8zM133.6 554.3l-3.4 6.8h6.8zM134.6 553.4l-3.4 6.8h6.8zM151.6 551.9l-3.4 6.8h6.8zM169.6 553.1l-3.4 6.8h6.8zM182.4 552.8l-3.4 6.8h6.8zM164.8 547.1l-3.4 6.8h6.8zM194.0 555.0l-3.4 6.8h6.8zM150.1 556.2l-3.4 6.8h6.8zM98.7 553.1l-3.4 6.8h6.8zM146.5 550.4l-3.4 6.8h6.8zM112.2 556.5l-3.4 6.8h6.8zM160.1 558.8l-3.4 6.8h6.8zM125.3 550.1l-3.4 6.8h6.8zM119.1 553.1l-3.4 6.8h6.8zM120.4 554.8l-3.4 6.8h6.8zM179.6 555.3l-3.4 6.8h6.8zM167.3 549.3l-3.4 6.8h6.8zM184.1 545.3l-3.4 6.8h6.8zM184.1 556.7l-3.4 6.8h6.8zM153.6 556.2l-3.4 6.8h6.8zM199.7 557.7l-3.4 6.8h6.8zM196.7 554.9l-3.4 6.8h6.8zM168.2 554.0l-3.4 6.8h6.8zM119.6 550.3l-3.4 6.8h6.8zM117.0 553.5l-3.4 6.8h6.8zM148.1 541.1l-3.4 6.8h6.8zM189.8 552.4l-3.4 6.8h6.8zM166.2 555.2l-3.4 6.8h6.8zM137.2 556.7l-3.4 6.8h6.8zM182.1 550.0l-3.4 6.8h6.8zM108.6 553.7l-3.4 6.8h6.8zM143.3 558.4l-3.4 6.8h6.8zM187.1 555.3l-3.4 6.8h6.8zM160.0 551.4l-3.4 6.8h6.8zM160.9 558.3l-3.4 6.8h6.8zM154.7 552.9l-3.4 6.8h6.8zM173.9 552.8l-3.4 6.8h6.8zM147.8 545.8l-3.4 6.8h6.8zM170.9 559.5l-3.4 6.8h6.8zM191.3 558.8l-3.4 6.8h6.8zM143.3 552.5l-3.4 6.8h6.8zM198.0 553.0l-3.4 6.8h6.8zM175.2 553.2l-3.4 6.8h6.8zM177.1 550.4l-3.4 6.8h6.8zM189.4 470.9l-3.4 6.8h6.8zM159.9 555.8l-3.4 6.8h6.8zM117.7 552.8l-3.4 6.8h6.8zM144.8 552.8l-3.4 6.8h6.8zM167.0 554.7l-3.4 6.8h6.8zM155.1 554.4l-3.4 6.8h6.8zM176.0 550.1l-3.4 6.8h6.8zM205.5 552.2l-3.4 6.8h6.8zM170.8 548.6l-3.4 6.8h6.8zM134.1 552.5l-3.4 6.8h6.8zM130.0 549.2l-3.4 6.8h6.8zM162.0 617.7l-3.4 6.8h6.8zM196.5 550.4l-3.4 6.8h6.8zM119.9 552.9l-3.4 6.8h6.8zM106.7 552.3l-3.4 6.8h6.8zM119.5 554.2l-3.4 6.8h6.8zM134.5 549.4l-3.4 6.8h6.8zM166.5 551.1l-3.4 6.8h6.8zM207.4 557.1l-3.4 6.8h6.8zM138.8 545.7l-3.4 6.8h6.8zM133.2 552.5l-3.4 6.8h6.8zM171.1 549.9l-3.4 6.8h6.8zM153.5 556.1l-3.4 6.8h6.8zM155.6 562.8l-3.4 6.8h6.8zM159.8 554.4l-3.4 6.8h6.8zM146.0 558.5l-3.4 6.8h6.8zM149.5 546.0l-3.4 6.8h6.8zM194.1 553.7l-3.4 6.8h6.8zM133.5 560.0l-3.4 6.8h6.8zM153.1 557.0l-3.4 6.8h6.8zM206.2 555.7l-3.4 6.8h6.8zM159.6 554.4l-3.4 6.8h6.8zM118.3 550.3l-3.4 6.8h6.8zM134.3 549.9l-3.4 6.8h6.8zM163.8 554.3l-3.4 6.8h6.8zM180.4 548.5l-3.4 6.8h6.8zM117.0 551.1l-3.4 6.8h6.8zM192.6 553.9l-3.4 6.8h6.8zM146.3 517.4l-3.4 6.8h6.8zM123.5 552.6l-3.4 6.8h6.8zM118.5 553.8l-3.4 6.8h6.8zM110.5 550.9l-3.4 6.8h6.8zM94.8 552.4l-3.4 6.8h6.8zM112.6 553.1l-3.4 6.8h6.8zM176.2 553.6l-3.4 6.8h6.8zM204.9 546.2l-3.4 6.8h6.8zM131.9 553.2l-3.4 6.8h6.8zM109.6 554.8l-3.4 6.8h6.8zM135.3 552.5l-3.4 6.8h6.8zM134.9 554.5l-3.4 6.8h6.8zM180.6 553.7l-3.4 6.8h6.8zM116.8 557.7l-3.4 6.8h6.8zM149.2 557.5l-3.4 6.8h6.8zM170.5 554.9l-3.4 6.8h6.8zM120.9 552.3l-3.4 6.8h6.8zM120.3 554.7l-3.4 6.8h6.8zM202.2 550.4l-3.4 6.8h6.8zM128.6 553.4l-3.4 6.8h6.8zM154.7 553.3l-3.4 6.8h6.8zM101.9 554.0l-3.4 6.8h6.8zM175.7 550.1l-3.4 6.8h6.8zM105.1 551.5l-3.4 6.8h6.8zM121.2 547.4l-3.4 6.8h6.8zM125.9 554.5l-3.4 6.8h6.8zM202.7 552.9l-3.4 6.8h6.8zM153.6 550.2l-3.4 6.8h6.8zM192.5 550.4l-3.4 6.8h6.8z" fill="none" stroke="#ff0000" stroke-opacity="0.24" stroke-width="1.0"/>
<g fill="none" stroke="#0000ff" stroke-opacity="0.4"><use href="#st" x="85.9" y="556.6"/><use href="#st" x="99.6" y="555.2"/><use href="#st" x="152.7" y="547.1"/><use href="#st" x="158.7" y="548.9"/><use href="#st" x="125.9" y="556.9"/><use href="#st" x="132.8" y="561.5"/><use href="#st" x="122" y="555"/><use href="#st" x="147.3" y="556.5"/><use href="#st" x="147.1" y="548.8"/><use href="#st" x="207.3" y="567"/><use href="#st" x="108.7" y="554.5"/><use href="#st" x="122.4" y="554.9"/><use href="#st" x="193" y="551"/><use href="#st" x="137.2" y="558.4"/><use href="#st" x="151.6" y="567.5"/><use href="#st" x="183.9" y="558"/><use href="#st" x="102.1" y="551.2"/><use href="#st" x="205.3" y="555.7"/><use href="#st" x="126" y="559.9"/><use href="#st" x="202.8" y="548"/><use href="#st" x="199.6" y="563.5"/><use href="#st" x="85.2" y="561.2"/><use href="#st" x="85.3" y="552.3"/><use href="#st" x="142.7" y="557.1"/><use href="#st" x="122.4" y="560.3"/><use href="#st" x="204.8" y="557.5"/><use href="#st" x="91.3" y="554.7"/><use href="#st" x="158.5" y="556.4"/><use href="#st" x="185.2" y="556.4"/><use href="#st" x="118.6" y="555.9"/><use href="#st" x="179.3" y="557.6"/><use href="#st" x="111.9" y="558.4"/><use href="#st" x="196.8" y="556.5"/><use href="#st" x="93.4" y="554.5"/><use href="#st" x="100.7" y="542.2"/><use href="#st" x="138.3" y="551.5"/><use href="#st" x="195.9" y="555.9"/><use href="#st" x="184.2" y="551.8"/><use href="#st" x="132.9" y="568.5"/><use href="#st" x="112.4" y="550.7"/><use href="#st" x="189.5" y="556.7"/><use href="#st" x="174.5" y="555.7"/><use href="#st" x="190.5" y="555.3"/><use href="#st" x="176.9" y="557.3"/><use href="#st" x="178.2" y="558.2"/><use href="#st" x="181" y="555"/><use href="#st" x="99.3" y="549.7"/></g>
<path d="M126.0 557.8l-3.4 6.8h6.8zM121.4 549.2l-3.4 6.8h6.8zM143.3 549.3l-3.4 6.8h6.8zM123.2 552.9l-3.4 6.8h6.8zM172.2 552.0l-3.4 6.8h6.8zM184.8 551.8l-3.4 6.8h6.8zM174.5 554.7l-3.4 6.8h6.8zM146.6 551.0l-3.4 6.8h6.8zM147.0 550.9l-3.4 6.8h6.8zM199.9 551.5l-3.4 6.8h6.8zM130.4 552.2l-3.4 6.8h6.8zM168.7 553.8l-3.4 6.8h6.8zM123.7 551.9l-3.4 6.8h6.8zM99.9 555.4l-3.4 6.8h6.8zM120.5 554.3l-3.4 6.8h6.8zM185.0 555.2l-3.4 6.8h6.8zM133.7 551.9l-3.4 6.8h6.8zM169.9 554.6l-3.4 6.8h6.8zM108.4 552.7l-3.4 6.8h6.8zM110.6 547.8l-3.4 6.8h6.8zM135.5 561.2l-3.4 6.8h6.8zM141.8 542.9l-3.4 6.8h6.8zM91.2 553.4l-3.4 6.8h6.8zM180.3 489.6l-3.4 6.8h6.8zM192.4 556.4l-3.4 6.8h6.8zM134.4 553.9l-3.4 6.8h6.8zM124.9 554.4l-3.4 6.8h6.8zM114.2 549.9l-3.4 6.8h6.8zM131.1 551.7l-3.4 6.8h6.8zM142.0 554.1l-3.4 6.8h6.8zM122.5 552.3l-3.4 6.8h6.8zM177.5 551.7l-3.4 6.8h6.8zM138.0 555.0l-3.4 6.8h6.8zM207.2 553.0l-3.4 6.8h6.8zM181.7 553.5l-3.4 6.8h6.8zM142.4 553.8l-3.4 6.8h6.8zM106.9 553.5l-3.4 6.8h6.8zM114.1 556.7l-3.4 6.8h6.8zM141.3 552.3l-3.4 6.8h6.8zM179.0 556.6l-3.4 6.8h6.8zM125.3 549.1l-3.4 6.8h6.8zM106.7 551.4l-3.4 6.8h6.8zM203.7 554.7l-3.4 6.8h6.8zM107.6 551.4l-3.4 6.8h6.8zM166.2 550.8l-3.4 6.8h6.8zM201.0 553.9l-3.4 6.8h6.8zM173.4 551.2l-3.4 6.8h6.8zM153.0 556.2l-3.4 6.8h6.8zM127.7 553.7l-3.4 6.8h6.8zM162.7 552.0l-3.4 6.8h6.8zM112.3 552.2l-3.4 6.8h6.8zM179.7 550.2l-3.4 6.8h6.8zM107.3 552.4l-3.4 6.8h6.8zM161.0 551.2l-3.4 6.8h6.8zM179.6 551.0l-3.4 6.8h6.8zM127.2 547.4l-3.4 6.8h6.8zM176.6 555.9l-3.4 6.8h6.8zM181.1 554.8l-3.4 6.8h6.8zM109.0 554.2l-3.4 6.8h6.8zM119.6 550.5l-3.4 6.8h6.8zM171.5 553.1l-3.4 6.8h6.8zM137.1 555.0l-3.4 6.8h6.8zM195.1 554.8l-3.4 6.8h6.8zM145.0 555.6l-3.4 6.8h6.8zM103.3 555.7l-3.4 6.8h6.8zM180.1 555.3l-3.4 6.8h6.8zM151.7 552.8l-3.4 6.8h6.8zM170.7 555.3l-3.4 6.8h6.8zM118.3 555.5l-3.4 6.8h6.8zM184.0 549.2l-3.4 6.8h6.8zM112.7 549.9l-3.4 6.8h6.8zM190.6 552.8l-3.4 6.8h6.8zM177.2 550.2l-3.4 6.8h6.8zM134.1 553.8l-3.4 6.8h6.8zM115.8 551.3l-3.4 6.8h6.8zM123.9 552.6l-3.4 6.8h6.8zM189.8 548.9l-3.4 6.8h6.8zM117.5 554.5l-3.4 6.8h6.8zM170.2 556.8l-3.4 6.8h6.8zM178.6 556.0l-3.4 6.8h6.8zM141.0 558.0l-3.4 6.8h6.8zM142.9 551.1l-3.4 6.8h6.8zM102.8 552.2l-3.4 6.8h6.8zM165.6 552.8l-3.4 6.8h6.8zM175.0 549.9l-3.4 6.8h6.8zM133.2 552.2l-3.4 6.8h6.8zM137.0 554.1l-3.4 6.8h6.8zM131.1 554.3l-3.4 6.8h6.8zM95.9 555.6l-3.4 6.8h6.8zM191.5 556.2l-3.4 6.8h6.8zM199.3 549.9l-3.4 6.8h6.8zM185.7 548.8l-3.4 6.8h6.8zM181.7 559.7l-3.4 6.8h6.8zM134.2 554.5l-3.4 6.8h6.8zM159.0 554.0l-3.4 6.8h6.8zM206.8 550.1l-3.4 6.8h6.8zM130.8 559.2l-3.4 6.8h6.8zM142.2 556.4l-3.4 6.8h6.8zM190.8 554.9l-3.4 6.8h6.8zM139.2 551.7l-3.4 6.8h6.8zM161.3 553.8l-3.4 6.8h6.8zM139.0 550.8l-3.4 6.8h6.8zM159.7 543.7l-3.4 6.8h6.8zM120.8 554.8l-3.4 6.8h6.8zM171.4 555.0l-3.4 6.8h6.8zM177.5 554.4l-3.4 6.8h6.8zM99.7 550.4l-3.4 6.8h6.8zM118.4 550.9l-3.4 6.8h6.8zM183.9 549.2l-3.4 6.8h6.8zM118.8 556.6l-3.4 6.8h6.8zM91.9 548.5l-3.4 6.8h6.8zM189.5 551.5l-3.4 6.8h6.8zM102.2 553.8l-3.4 6.8h6.8zM137.7 550.1l-3.4 6.8h6.8zM165.0 549.5l-3.4 6.8h6.8zM110.1 557.5l-3.4 6.8h6.8zM172.4 576.5l-3.4 6.8h6.8zM184.6 553.8l-3.4 6.8h6.8zM142.3 554.5l-3.4 6.8h6.8zM153.6 550.6l-3.4 6.8h6.8zM119.9 556.9l-3.4 6.8h6.8zM129.7 555.6l-3.4 6.8h6.8zM145.3 557.1l-3.4 6.8h6.8zM146.7 551.0l-3.4 6.8h6.8zM199.0 553.0l-3.4 6.8h6.8zM123.8 554.2l-3.4 6.8h6.8zM138.7 555.4l-3.4 6.8h6.8zM96.4 552.2l-3.4 6.8h6.8zM197.3 551.5l-3.4 6.8h6.8zM121.8 553.8l-3.4 6.8h6.8zM149.0 552.5l-3.4 6.8h6.8zM108.5 553.7l-3.4 6.8h6.8zM118.2 548.7l-3.4 6.8h6.8zM93.4 553.3l-3.4 6.8h6.8zM203.3 554.8l-3.4 6.8h6.8zM101.3 555.5l-3.4 6.8h6.8zM191.8 555.0l-3.4 6.8h6.8zM176.2 555.0l-3.4 6.8h6.8zM100.5 552.3l-3.4 6.8h6.8zM133.4 552.9l-3.4 6.8h6.8zM207.3 552.5l-3.4 6.8h6.8zM145.6 555.1l-3.4 6.8h6.8zM199.9 535.4l-3.4 6.8h6.8zM186.5 557.0l-3.4 6.8h6.8zM126.0 551.2l-3.4 6.8h6.8zM178.6 553.8l-3.4 6.8h6.8zM87.9 553.8l-3.4 6.8h6.8zM165.1 553.3l-3.4 6.8h6.8zM148.7 563.0l-3.4 6.8h6.8z" fill="none" stroke="#ff0000" stroke-opacity="0.24" stroke-width="1.0"/>
<path d="M110.4 552.7l-3.4 6.8h6.8zM152.8 556.2l-3.4 6.8h6.8zM164.4 557.6l-3.4 6.8h6.8zM118.4 555.0l-3.4 6.8h6.8zM147.8 552.1l-3.4 6.8h6.8zM166.8 553.2l-3.4 6.8h6.8zM121.5 551.7l-3.4 6.8h6.8zM173.3 560.1l-3.4 6.8h6.8zM154.8 557.7l-3.4 6.8h6.8zM135.3 559.8l-3.4 6.8h6.8zM130.0 554.1l-3.4 6.8h6.8zM159.2 559.7l-3.4 6.8h6.8zM128.2 550.6l-3.4 6.8h6.8zM148.1 560.5l-3.4 6.8h6.8zM145.7 552.3l-3.4 6.8h6.8zM116.3 550.7l-3.4 6.8h6.8zM159.7 550.8l-3.4 6.8h6.8zM130.7 556.9l-3.4 6.8h6.8zM167.6 551.2l-3.4 6.8h6.8zM118.5 551.9l-3.4 6.8h6.8zM171.5 551.5l-3.4 6.8h6.8zM107.2 553.6l-3.4 6.8h6.8zM200.7 552.6l-3.4 6.8h6.8zM158.3 570.8l-3.4 6.8h6.8zM112.1 555.9l-3.4 6.8h6.8zM178.8 554.6l-3.4 6.8h6.8zM116.8 556.2l-3.4 6.8h6.8zM156.5 550.5l-3.4 6.8h6.8zM141.1 551.8l-3.4 6.8h6.8zM125.0 552.7l-3.4 6.8h6.8zM134.8 550.8l-3.4 6.8h6.8zM100.3 553.2l-3.4 6.8h6.8zM117.3 554.6l-3.4 6.8h6.8zM162.8 547.0l-3.4 6.8h6.8zM192.7 554.0l-3.4 6.8h6.8zM178.5 553.9l-3.4 6.8h6.8zM142.5 556.7l-3.4 6.8h6.8zM169.6 555.9l-3.4 6.8h6.8zM132.8 551.8l-3.4 6.8h6.8zM154.1 554.0l-3.4 6.8h6.8zM182.4 557.1l-3.4 6.8h6.8zM194.8 554.0l-3.4 6.8h6.8zM156.4 557.8l-3.4 6.8h6.8zM183.9 554.0l-3.4 6.8h6.8zM99.8 552.0l-3.4 6.8h6.8zM138.1 557.6l-3.4 6.8h6.8zM110.2 554.4l-3.4 6.8h6.8zM137.9 547.3l-3.4 6.8h6.8zM135.3 552.1l-3.4 6.8h6.8zM90.7 552.4l-3.4 6.8h6.8zM125.1 554.1l-3.4 6.8h6.8zM201.0 550.1l-3.4 6.8h6.8zM141.2 551.4l-3.4 6.8h6.8zM202.0 551.7l-3.4 6.8h6.8zM124.2 534.2l-3.4 6.8h6.8zM128.5 559.4l-3.4 6.8h6.8zM192.4 548.3l-3.4 6.8h6.8zM114.2 551.9l-3.4 6.8h6.8zM111.3 555.4l-3.4 6.8h6.8zM185.8 549.4l-3.4 6.8h6.8zM140.5 553.9l-3.4 6.8h6.8zM183.3 548.2l-3.4 6.8h6.8zM176.5 547.0l-3.4 6.8h6.8zM202.3 555.8l-3.4 6.8h6.8zM155.8 530.5l-3.4 6.8h6.8zM123.1 557.2l-3.4 6.8h6.8zM159.1 556.0l-3.4 6.8h6.8zM92.0 552.4l-3.4 6.8h6.8zM118.4 548.5l-3.4 6.8h6.8zM122.2 549.5l-3.4 6.8h6.8zM142.3 551.6l-3.4 6.8h6.8zM141.7 551.9l-3.4 6.8h6.8zM195.1 552.5l-3.4 6.8h6.8zM164.1 553.7l-3.4 6.8h6.8zM187.0 551.1l-3.4 6.8h6.8zM133.3 550.3l-3.4 6.8h6.8zM119.2 553.3l-3.4 6.8h6.8zM196.5 556.2l-3.4 6.8h6.8zM203.5 554.6l-3.4 6.8h6.8zM207.5 550.6l-3.4 6.8h6.8zM158.4 550.5l-3.4 6.8h6.8zM179.6 551.6l-3.4 6.8h6.8zM166.7 553.0l-3.4 6.8h6.8zM171.1 548.3l-3.4 6.8h6.8zM139.1 550.3l-3.4 6.8h6.8zM106.9 553.9l-3.4 6.8h6.8zM145.6 554.0l-3.4 6.8h6.8zM143.1 561.7l-3.4 6.8h6.8zM147.3 553.8l-3.4 6.8h6.8zM146.0 545.4l-3.4 6.8h6.8zM192.8 501.0l-3.4 6.8h6.8zM163.9 556.6l-3.4 6.8h6.8zM201.7 555.0l-3.4 6.8h6.8zM187.5 548.0l-3.4 6.8h6.8zM206.3 556.8l-3.4 6.8h6.8zM143.3 545.5l-3.4 6.8h6.8zM119.6 557.7l-3.4 6.8h6.8zM171.2 549.6l-3.4 6.8h6.8zM200.9 549.8l-3.4 6.8h6.8zM188.8 552.8l-3.4 6.8h6.8zM177.9 549.2l-3.4 6.8h6.8zM189.6 553.3l-3.4 6.8h6.8zM109.6 550.4l-3.4 6.8h6.8zM137.9 554.1l-3.4 6.8h6.8zM154.9 549.3l-3.4 6.8h6.8zM107.4 553.7l-3.4 6.8h6.8zM140.3 548.4l-3.4 6.8h6.8zM166.9 555.0l-3.4 6.8h6.8zM157.9 551.6l-3.4 6.8h6.8zM148.2 550.7l-3.4 6.8h6.8zM185.0 551.8l-3.4 6.8h6.8zM143.3 554.5l-3.4 6.8h6.8zM203.8 554.6l-3.4 6.8h6.8zM186.5 552.9l-3.4 6.8h6.8zM156.0 554.8l-3.4 6.8h6.8zM171.9 550.0l-3.4 6.8h6.8zM197.1 552.6l-3.4 6.8h6.8zM171.0 553.6l-3.4 6.8h6.8zM195.8 557.3l-3.4 6.8h6.8zM164.3 553.4l-3.4 6.8h6.8zM118.7 552.3l-3.4 6.8h6.8zM177.6 543.2l-3.4 6.8h6.8zM143.9 556.5l-3.4 6.8h6.8zM194.1 553.2l-3.4 6.8h6.8zM98.5 553.0l-3.4 6.8h6.8zM165.7 552.4l-3.4 6.8h6.8zM144.9 570.5l-3.4 6.8h6.8zM199.5 549.7l-3.4 6.8h6.8zM152.8 556.8l-3.4 6.8h6.8zM197.9 558.4l-3.4 6.8h6.8zM114.2 552.1l-3.4 6.8h6.8zM192.4 542.8l-3.4 6.8h6.8zM133.9 559.0l-3.4 6.8h6.8zM152.7 555.1l-3.4 6.8h6.8zM177.8 558.7l-3.4 6.8h6.8zM189.9 549.2l-3.4 6.8h6.8zM128.4 552.8l-3.4 6.8h6.8zM145.4 548.5l-3.4 6.8h6.8zM178.6 618.1l-3.4 6.8h6.8zM123.5 558.1l-3.4 6.8h6.8zM205.0 554.9l-3.4 6.8h6.8zM187.2 553.6l-3.4 6.8h6.8zM160.5 549.4l-3.4 6.8h6.8zM130.0 551.7l-3.4 6.8h6.8zM198.5 556.0l-3.4 6.8h6.8zM122.9 553.8l-3.4 6.8h6.8zM181.8 576.5l-3.4 6.8h6.8zM130.2 555.4l-3.4 6.8h6.8zM165.1 553.3l-3.4 6.8h6.8z" fill="none" stroke="#ff0000" stroke-opacity="0.24" stroke-width="1.0"/>
<g fill="none" stroke="#0000ff" stroke-opacity="0.4"><use href="#st" x="123.7" y="563.5"/><use href="#st" x="127.6" y="554.1"/><use href="#st" x="194.6" y="553.6"/><use href="#st" x="152.1" y="555"/><use href="#st" x="142.1" y="554.4"/><use href="#st" x="172.9" y="558.1"/><use href="#st" x="191" y="554.9"/><use href="#st" x="202.4" y="554.4"/><use href="#st" x="177.4" y="554.2"/><use href="#st" x="156.4" y="510.6"/><use href="#st" x="85.4" y="550.2"/><use href="#st" x="113.2" y="576.8"/><use href="#st" x="98.4" y="555.5"/><use href="#st" x="148.9" y="557.7"/><use href="#st" x="201.4" y="553.1"/><use href="#st" x="130.9" y="528.9"/><use href="#st" x="104.8" y="553"/><use href="#st" x="196.2" y="551.6"/><use href="#st" x="99.2" y="554.5"/><use href="#st" x="110.9" y="554.1"/><use href="#st" x="126.4" y="562.3"/><use href="#st" x="139.2" y="557.3"/><use href="#st" x="181.1" y="553.3"/><use href="#st" x="123.7" y="550.9"/><use href="#st" x="172" y="562.5"/><use href="#st" x="200.3" y="554.2"/><use href="#st" x="95" y="555.3"/><use href="#st" x="207" y="552.8"/><use href="#st" x="169.6" y="556.4"/><use href="#st" x="196.9" y="558"/><use href="#st" x="158.2" y="540.4"/><use href="#st" x="116.9" y="551.9"/><use href="#st" x="117" y="556.7"/><use href="#st" x="101.6" y="554.5"/><use href="#st" x="171.6" y="557.9"/><use href="#st" x="129.7" y="561.9"/><use href="#st" x="89.3" y="559.8"/><use href="#st" x="151.1" y="558.7"/><use href="#st" x="130" y="557.7"/><use href="#st" x="180.3" y="552.9"/><use href="#st" x="147.6" y="553.9"/><use href="#st" x="146.1" y="552.5"/><use href="#st" x="140.5" y="557.7"/><use href="#st" x="96.2" y="549.5"/><use href="#st" x="124.8" y="554"/><use href="#st" x="177.1" y="555.4"/><use href="#st" x="121.1" y="555.7"/></g>
<path d="M184.4 558.2l-3.4 6.8h6.8zM191.0 554.9l-3.4 6.8h6.8zM125.2 555.5l-3.4 6.8h6.8zM123.0 554.9l-3.4 6.8h6.8zM205.7 552.2l-3.4 6.8h6.8zM178.7 552.7l-3.4 6.8h6.8zM135.3 552.5l-3.4 6.8h6.8zM196.9 553.3l-3.4 6.8h6.8zM182.1 549.0l-3.4 6.8h6.8zM123.6 554.5l-3.4 6.8h6.8zM129.8 552.8l-3.4 6.8h6.8zM103.3 555.8l-3.4 6.8h6.8zM125.7 553.3l-3.4 6.8h6.8zM182.8 546.4l-3.4 6.8h6.8zM156.9 555.8l-3.4 6.8h6.8zM171.6 548.9l-3.4 6.8h6.8zM91.9 553.9l-3.4 6.8h6.8zM133.9 557.2l-3.4 6.8h6.8zM117.5 553.7l-3.4 6.8h6.8zM131.8 554.1l-3.4 6.8h6.8zM106.6 555.5l-3.4 6.8h6.8zM187.1 552.4l-3.4 6.8h6.8zM109.2 555.9l-3.4 6.8h6.8zM123.9 553.3l-3.4 6.8h6.8zM179.7 552.9l-3.4 6.8h6.8zM130.9 532.2l-3.4 6.8h6.8zM107.7 553.4l-3.4 6.8h6.8zM140.5 551.4l-3.4 6.8h6.8zM202.0 558.7l-3.4 6.8h6.8zM112.5 553.4l-3.4 6.8h6.8zM102.1 551.2l-3.4 6.8h6.8zM103.0 555.2l-3.4 6.8h6.8zM130.0 559.9l-3.4 6.8h6.8zM155.3 550.8l-3.4 6.8h6.8zM156.2 558.4l-3.4 6.8h6.8zM155.6 547.3l-3.4 6.8h6.8zM153.0 551.5l-3.4 6.8h6.8zM102.5 553.8l-3.4 6.8h6.8zM114.6 552.4l-3.4 6.8h6.8zM200.1 551.3l-3.4 6.8h6.8zM176.9 555.4l-3.4 6.8h6.8zM204.0 558.5l-3.4 6.8h6.8zM100.2 550.5l-3.4 6.8h6.8zM184.9 522.8l-3.4 6.8h6.8zM153.9 552.7l-3.4 6.8h6.8zM171.5 552.0l-3.4 6.8h6.8zM159.5 557.4l-3.4 6.8h6.8zM132.2 557.3l-3.4 6.8h6.8zM121.5 549.7l-3.4 6.8h6.8zM127.0 554.9l-3.4 6.8h6.8zM180.8 549.9l-3.4 6.8h6.8zM139.1 552.6l-3.4 6.8h6.8zM140.1 547.7l-3.4 6.8h6.8zM128.2 549.9l-3.4 6.8h6.8zM105.8 558.8l-3.4 6.8h6.8zM130.0 554.8l-3.4 6.8h6.8zM109.0 552.1l-3.4 6.8h6.8zM105.7 553.6l-3.4 6.8h6.8zM144.2 549.5l-3.4 6.8h6.8zM138.1 555.5l-3.4 6.8h6.8zM203.7 550.6l-3.4 6.8h6.8zM107.1 555.8l-3.4 6.8h6.8zM153.3 493.7l-3.4 6.8h6.8zM107.0 554.0l-3.4 6.8h6.8zM167.5 550.1l-3.4 6.8h6.8zM192.2 552.6l-3.4 6.8h6.8zM135.6 525.9l-3.4 6.8h6.8zM133.6 558.9l-3.4 6.8h6.8zM153.7 556.3l-3.4 6.8h6.8zM203.5 547.2l-3.4 6.8h6.8zM122.8 555.5l-3.4 6.8h6.8zM150.8 553.8l-3.4 6.8h6.8zM154.2 553.9l-3.4 6.8h6.8zM127.2 553.1l-3.4 6.8h6.8zM149.0 553.5l-3.4 6.8h6.8zM102.8 553.7l-3.4 6.8h6.8zM192.7 549.5l-3.4 6.8h6.8zM132.5 551.8l-3.4 6.8h6.8zM147.0 552.6l-3.4 6.8h6.8zM117.5 554.8l-3.4 6.8h6.8zM152.2 552.1l-3.4 6.8h6.8zM102.1 552.2l-3.4 6.8h6.8zM147.0 550.3l-3.4 6.8h6.8zM172.8 551.0l-3.4 6.8h6.8zM141.2 562.6l-3.4 6.8h6.8zM167.3 550.9l-3.4 6.8h6.8zM192.7 557.4l-3.4 6.8h6.8zM169.6 553.0l-3.4 6.8h6.8zM120.6 553.4l-3.4 6.8h6.8zM175.5 552.8l-3.4 6.8h6.8zM145.2 548.9l-3.4 6.8h6.8zM147.8 554.5l-3.4 6.8h6.8zM126.9 554.1l-3.4 6.8h6.8zM131.6 553.9l-3.4 6.8h6.8zM160.7 554.2l-3.4 6.8h6.8zM123.9 551.3l-3.4 6.8h6.8zM201.1 555.0l-3.4 6.8h6.8zM158.1 552.7l-3.4 6.8h6.8zM151.2 548.9l-3.4 6.8h6.8zM102.7 551.8l-3.4 6.8h6.8zM171.7 549.7l-3.4 6.8h6.8zM139.1 550.7l-3.4 6.8h6.8zM140.7 557.3l-3.4 6.8h6.8zM191.9 551.3l-3.4 6.8h6.8zM140.8 551.7l-3.4 6.8h6.8zM202.5 549.1l-3.4 6.8h6.8zM165.9 558.3l-3.4 6.8h6.8zM193.3 552.5l-3.4 6.8h6.8zM146.3 549.3l-3.4 6.8h6.8zM142.8 556.8l-3.4 6.8h6.8zM119.4 550.2l-3.4 6.8h6.8zM168.7 552.5l-3.4 6.8h6.8zM119.9 555.0l-3.4 6.8h6.8zM169.4 553.9l-3.4 6.8h6.8zM153.4 547.7l-3.4 6.8h6.8zM170.3 550.7l-3.4 6.8h6.8zM148.4 554.8l-3.4 6.8h6.8zM183.6 551.6l-3.4 6.8h6.8zM156.0 548.9l-3.4 6.8h6.8zM173.4 552.1l-3.4 6.8h6.8zM198.7 547.7l-3.4 6.8h6.8zM146.1 549.6l-3.4 6.8h6.8zM100.2 551.5l-3.4 6.8h6.8zM129.3 554.9l-3.4 6.8h6.8zM182.8 553.5l-3.4 6.8h6.8zM160.6 551.3l-3.4 6.8h6.8zM146.5 552.1l-3.4 6.8h6.8zM193.9 548.2l-3.4 6.8h6.8zM201.7 553.2l-3.4 6.8h6.8zM202.8 551.3l-3.4 6.8h6.8zM167.7 553.4l-3.4 6.8h6.8zM145.6 548.7l-3.4 6.8h6.8zM188.0 558.3l-3.4 6.8h6.8zM122.0 554.3l-3.4 6.8h6.8zM189.1 555.5l-3.4 6.8h6.8zM120.3 552.5l-3.4 6.8h6.8zM116.6 550.8l-3.4 6.8h6.8zM173.4 610.8l-3.4 6.8h6.8zM114.1 553.8l-3.4 6.8h6.8zM122.3 553.2l-3.4 6.8h6.8zM184.3 553.3l-3.4 6.8h6.8zM164.1 554.6l-3.4 6.8h6.8zM95.6 552.4l-3.4 6.8h6.8zM184.9 554.2l-3.4 6.8h6.8zM157.4 553.2l-3.4 6.8h6.8zM164.6 550.7l-3.4 6.8h6.8zM113.1 549.4l-3.4 6.8h6.8zM175.3 555.4l-3.4 6.8h6.8zM190.7 480.2l-3.4 6.8h6.8z" fill="none" stroke="#ff0000" stroke-opacity="0.24" stroke-width="1.0"/>
<path d="M196.2 567.2l-3.4 6.8h6.8zM116.3 553.0l-3.4 6.8h6.8zM99.3 555.4l-3.4 6.8h6.8zM143.9 547.6l-3.4 6.8h6.8zM96.4 551.0l-3.4 6.8h6.8zM193.0 539.2l-3.4 6.8h6.8zM196.5 544.4l-3.4 6.8h6.8zM139.9 555.9l-3.4 6.8h6.8zM138.5 555.8l-3.4 6.8h6.8zM138.0 550.6l-3.4 6.8h6.8zM131.9 555.9l-3.4 6.8h6.8zM105.8 550.2l-3.4 6.8h6.8zM205.9 553.4l-3.4 6.8h6.8zM204.5 552.2l-3.4 6.8h6.8zM147.4 559.8l-3.4 6.8h6.8zM98.3 555.7l-3.4 6.8h6.8zM202.8 550.6l-3.4 6.8h6.8zM154.5 558.0l-3.4 6.8h6.8zM175.2 559.9l-3.4 6.8h6.8zM178.6 550.9l-3.4 6.8h6.8zM136.8 552.2l-3.4 6.8h6.8zM193.4 552.9l-3.4 6.8h6.8zM188.2 555.7l-3.4 6.8h6.8zM175.7 560.0l-3.4 6.8h6.8zM125.3 555.1l-3.4 6.8h6.8zM166.6 552.8l-3.4 6.8h6.8zM132.0 549.9l-3.4 6.8h6.8zM151.8 547.9l-3.4 6.8h6.8zM109.7 552.7l-3.4 6.8h6.8zM137.5 563.0l-3.4 6.8h6.8zM187.8 559.2l-3.4 6.8h6.8zM141.2 557.3l-3.4 6.8h6.8zM191.1 551.2l-3.4 6.8h6.8zM168.2 554.4l-3.4 6.8h6.8zM171.3 546.8l-3.4 6.8h6.8zM191.1 608.1l-3.4 6.8h6.8zM147.0 553.3l-3.4 6.8h6.8zM164.1 615.0l-3.4 6.8h6.8zM133.9 550.5l-3.4 6.8h6.8zM137.4 554.9l-3.4 6.8h6.8zM120.4 551.3l-3.4 6.8h6.8zM207.5 549.9l-3.4 6.8h6.8zM152.0 546.6l-3.4 6.8h6.8zM118.0 552.0l-3.4 6.8h6.8zM135.7 548.4l-3.4 6.8h6.8zM166.3 551.2l-3.4 6.8h6.8zM146.8 552.4l-3.4 6.8h6.8zM136.7 555.4l-3.4 6.8h6.8zM191.7 555.4l-3.4 6.8h6.8zM152.2 554.2l-3.4 6.8h6.8zM131.8 552.7l-3.4 6.8h6.8zM167.5 552.2l-3.4 6.8h6.8zM103.4 553.7l-3.4 6.8h6.8zM129.2 554.3l-3.4 6.8h6.8zM128.1 561.0l-3.4 6.8h6.8zM128.2 550.2l-3.4 6.8h6.8zM125.0 552.6l-3.4 6.8h6.8zM115.0 552.1l-3.4 6.8h6.8zM170.2 556.3l-3.4 6.8h6.8zM187.6 553.0l-3.4 6.8h6.8zM151.9 552.9l-3.4 6.8h6.8zM200.0 548.7l-3.4 6.8h6.8zM164.2 561.5l-3.4 6.8h6.8zM176.7 554.7l-3.4 6.8h6.8zM149.7 555.0l-3.4 6.8h6.8zM186.0 550.2l-3.4 6.8h6.8zM164.9 557.4l-3.4 6.8h6.8zM141.4 559.4l-3.4 6.8h6.8zM195.4 554.4l-3.4 6.8h6.8zM104.0 553.7l-3.4 6.8h6.8zM157.4 559.8l-3.4 6.8h6.8zM169.7 551.6l-3.4 6.8h6.8zM139.5 552.5l-3.4 6.8h6.8zM179.9 555.3l-3.4 6.8h6.8zM168.2 556.1l-3.4 6.8h6.8zM190.1 552.4l-3.4 6.8h6.8zM199.3 552.3l-3.4 6.8h6.8zM184.3 551.3l-3.4 6.8h6.8zM141.2 547.9l-3.4 6.8h6.8zM97.8 557.2l-3.4 6.8h6.8zM131.1 554.0l-3.4 6.8h6.8zM198.3 584.8l-3.4 6.8h6.8zM114.8 552.4l-3.4 6.8h6.8zM139.4 551.7l-3.4 6.8h6.8zM168.4 557.5l-3.4 6.8h6.8zM138.8 552.4l-3.4 6.8h6.8zM119.8 556.0l-3.4 6.8h6.8zM193.2 553.1l-3.4 6.8h6.8zM178.1 555.9l-3.4 6.8h6.8zM123.8 549.8l-3.4 6.8h6.8zM202.4 550.3l-3.4 6.8h6.8zM126.0 554.2l-3.4 6.8h6.8zM135.1 558.6l-3.4 6.8h6.8zM134.4 550.9l-3.4 6.8h6.8zM206.4 555.9l-3.4 6.8h6.8zM197.5 553.7l-3.4 6.8h6.8zM105.0 554.6l-3.4 6.8h6.8zM114.1 555.8l-3.4 6.8h6.8zM116.9 554.5l-3.4 6.8h6.8zM161.5 557.7l-3.4 6.8h6.8zM133.9 549.0l-3.4 6.8h6.8zM172.3 553.2l-3.4 6.8h6.8zM162.1 550.3l-3.4 6.8h6.8zM117.7 553.0l-3.4 6.8h6.8zM201.9 553.6l-3.4 6.8h6.8zM115.0 554.4l-3.4 6.8h6.8zM116.4 555.9l-3.4 6.8h6.8zM118.0 548.4l-3.4 6.8h6.8zM138.0 553.5l-3.4 6.8h6.8zM154.8 555.0l-3.4 6.8h6.8zM168.3 558.7l-3.4 6.8h6.8zM184.9 554.1l-3.4 6.8h6.8zM119.6 554.6l-3.4 6.8h6.8zM172.9 558.5l-3.4 6.8h6.8zM192.5 552.3l-3.4 6.8h6.8zM120.9 553.7l-3.4 6.8h6.8zM159.9 553.7l-3.4 6.8h6.8zM167.7 549.9l-3.4 6.8h6.8zM160.7 552.6l-3.4 6.8h6.8zM207.4 557.2l-3.4 6.8h6.8zM201.3 545.5l-3.4 6.8h6.8zM199.5 554.8l-3.4 6.8h6.8zM151.8 551.2l-3.4 6.8h6.8zM160.1 555.5l-3.4 6.8h6.8zM124.4 553.1l-3.4 6.8h6.8zM123.9 552.7l-3.4 6.8h6.8zM101.5 554.1l-3.4 6.8h6.8zM138.2 558.1l-3.4 6.8h6.8zM201.0 552.3l-3.4 6.8h6.8zM156.6 552.2l-3.4 6.8h6.8zM154.2 553.9l-3.4 6.8h6.8zM180.0 550.9l-3.4 6.8h6.8zM155.7 553.4l-3.4 6.8h6.8zM96.4 556.1l-3.4 6.8h6.8zM184.4 556.6l-3.4 6.8h6.8zM197.9 552.7l-3.4 6.8h6.8zM191.1 557.7l-3.4 6.8h6.8zM196.3 555.5l-3.4 6.8h6.8zM188.8 555.9l-3.4 6.8h6.8zM170.1 560.0l-3.4 6.8h6.8zM152.5 549.8l-3.4 6.8h6.8zM98.2 555.0l-3.4 6.8h6.8zM174.4 554.1l-3.4 6.8h6.8zM154.1 555.3l-3.4 6.8h6.8zM200.2 553.1l-3.4 6.8h6.8zM106.5 552.4l-3.4 6.8h6.8zM151.1 551.4l-3.4 6.8h6.8zM186.8 555.9l-3.4 6.8h6.8zM162.6 551.8l-3.4 6.8h6.8z" fill="none" stroke="#ff0000" stroke-opacity="0.24" stroke-width="1.0"/>
<g fill="none" stroke="#0000ff" stroke-opacity="0.4"><use href="#st" x="134" y="558.7"/><use href="#st" x="141.6" y="559.8"/><use href="#st" x="113.7" y="556.9"/><use href="#st" x="93.6" y="556.5"/><use href="#st" x="169.7" y="561.4"/><use href="#st" x="171.4" y="555.6"/><use href="#st" x="189.9" y="555.4"/><use href="#st" x="122.3" y="555.2"/><use href="#st" x="191.9" y="551.4"/><use href="#st" x="147.9" y="556"/><use href="#st" x="110.1" y="550.3"/><use href="#st" x="107.7" y="554.9"/><use href="#st" x="154.6" y="558.8"/><use href="#st" x="207.3" y="554.7"/><use href="#st" x="118.8" y="555.6"/><use href="#st" x="189.3" y="552.9"/><use href="#st" x="200" y="557.3"/><use href="#st" x="127.9" y="552"/><use href="#st" x="86.2" y="557.1"/><use href="#st" x="115" y="552.8"/><use href="#st" x="96.4" y="553.5"/><use href="#st" x="198.8" y="557.6"/><use href="#st" x="126.4" y="558"/><use href="#st" x="103.6" y="550.1"/><use href="#st" x="108.4" y="555.5"/><use href="#st" x="133.5" y="553.5"/><use href="#st" x="106.6" y="564"/><use href="#st" x="196.8" y="555.3"/><use href="#st" x="180.4" y="554.6"/><use href="#st" x="157.8" y="554.2"/><use href="#st" x="109.7" y="567"/><use href="#st" x="87.3" y="556.7"/><use href="#st" x="196.1" y="560.8"/><use href="#st" x="166" y="553.8"/><use href="#st" x="205.5" y="562.3"/><use href="#st" x="102.5" y="549.5"/><use href="#st" x="90.3" y="559.5"/><use href="#st" x="141.3" y="559.8"/><use href="#st" x="87.2" y="558.1"/><use href="#st" x="160.3" y="559.1"/><use href="#st" x="125.8" y="552"/><use href="#st" x="202.8" y="558.8"/><use href="#st" x="149.3" y="557.2"/><use href="#st" x="198.7" y="539.7"/><use href="#st" x="88.4" y="555.4"/><use href="#st" x="176.3" y="559.9"/><use href="#st" x="130" y="552.3"/></g>
<path d="M132.6 558.8l-3.4 6.8h6.8zM117.1 550.4l-3.4 6.8h6.8zM193.9 554.3l-3.4 6.8h6.8zM180.9 566.4l-3.4 6.8h6.8zM192.0 557.0l-3.4 6.8h6.8zM167.5 548.7l-3.4 6.8h6.8zM169.1 549.3l-3.4 6.8h6.8zM120.8 553.3l-3.4 6.8h6.8zM177.0 551.3l-3.4 6.8h6.8zM183.1 549.8l-3.4 6.8h6.8zM199.3 552.2l-3.4 6.8h6.8zM112.9 556.5l-3.4 6.8h6.8zM127.6 551.5l-3.4 6.8h6.8zM179.8 550.8l-3.4 6.8h6.8zM164.2 558.9l-3.4 6.8h6.8zM132.5 558.4l-3.4 6.8h6.8zM162.5 556.6l-3.4 6.8h6.8zM125.3 552.5l-3.4 6.8h6.8zM139.3 553.7l-3.4 6.8h6.8zM101.4 550.7l-3.4 6.8h6.8zM106.0 550.4l-3.4 6.8h6.8zM163.0 546.1l-3.4 6.8h6.8zM204.5 556.6l-3.4 6.8h6.8zM91.5 552.4l-3.4 6.8h6.8zM130.2 556.0l-3.4 6.8h6.8zM148.5 550.8l-3.4 6.8h6.8zM105.9 556.3l-3.4 6.8h6.8zM181.2 557.5l-3.4 6.8h6.8zM200.7 559.0l-3.4 6.8h6.8zM100.6 552.6l-3.4 6.8h6.8zM185.9 551.7l-3.4 6.8h6.8zM102.1 551.7l-3.4 6.8h6.8zM180.7 551.8l-3.4 6.8h6.8zM183.5 550.5l-3.4 6.8h6.8zM165.6 551.3l-3.4 6.8h6.8zM178.0 554.6l-3.4 6.8h6.8zM126.4 551.9l-3.4 6.8h6.8zM166.2 556.0l-3.4 6.8h6.8zM96.5 553.0l-3.4 6.8h6.8zM207.3 549.6l-3.4 6.8h6.8zM105.3 554.2l-3.4 6.8h6.8zM195.4 552.3l-3.4 6.8h6.8zM173.4 554.3l-3.4 6.8h6.8zM160.7 555.9l-3.4 6.8h6.8zM120.8 557.6l-3.4 6.8h6.8zM142.3 481.9l-3.4 6.8h6.8zM107.8 553.0l-3.4 6.8h6.8zM153.0 554.1l-3.4 6.8h6.8zM153.1 544.8l-3.4 6.8h6.8zM129.9 552.7l-3.4 6.8h6.8zM88.0 554.5l-3.4 6.8h6.8zM126.9 553.6l-3.4 6.8h6.8zM164.5 556.7l-3.4 6.8h6.8zM152.4 550.2l-3.4 6.8h6.8zM142.2 554.9l-3.4 6.8h6.8zM160.2 549.9l-3.4 6.8h6.8zM176.4 540.8l-3.4 6.8h6.8zM152.9 558.6l-3.4 6.8h6.8zM189.0 553.4l-3.4 6.8h6.8zM171.4 546.8l-3.4 6.8h6.8zM133.9 559.4l-3.4 6.8h6.8zM175.0 550.9l-3.4 6.8h6.8zM124.5 557.3l-3.4 6.8h6.8zM191.0 557.5l-3.4 6.8h6.8zM186.4 549.8l-3.4 6.8h6.8zM117.2 554.8l-3.4 6.8h6.8zM105.4 556.0l-3.4 6.8h6.8zM111.7 552.8l-3.4 6.8h6.8zM104.4 555.8l-3.4 6.8h6.8zM132.6 556.2l-3.4 6.8h6.8zM124.5 549.5l-3.4 6.8h6.8zM165.6 554.5l-3.4 6.8h6.8zM151.4 558.1l-3.4 6.8h6.8zM174.5 603.5l-3.4 6.8h6.8zM125.7 550.3l-3.4 6.8h6.8zM163.5 556.1l-3.4 6.8h6.8zM126.2 558.1l-3.4 6.8h6.8zM95.8 553.2l-3.4 6.8h6.8zM181.1 557.3l-3.4 6.8h6.8zM197.9 548.7l-3.4 6.8h6.8zM106.3 551.8l-3.4 6.8h6.8zM166.8 553.4l-3.4 6.8h6.8zM189.9 552.8l-3.4 6.8h6.8zM118.3 553.0l-3.4 6.8h6.8zM98.5 552.7l-3.4 6.8h6.8zM200.7 553.2l-3.4 6.8h6.8zM150.6 550.7l-3.4 6.8h6.8zM188.9 553.3l-3.4 6.8h6.8zM126.7 552.2l-3.4 6.8h6.8zM205.5 551.0l-3.4 6.8h6.8zM205.8 553.1l-3.4 6.8h6.8zM157.9 558.0l-3.4 6.8h6.8zM121.7 550.5l-3.4 6.8h6.8zM150.2 561.8l-3.4 6.8h6.8zM168.3 557.1l-3.4 6.8h6.8zM114.9 555.8l-3.4 6.8h6.8zM148.4 548.1l-3.4 6.8h6.8zM168.2 552.5l-3.4 6.8h6.8zM140.0 546.5l-3.4 6.8h6.8zM161.8 560.4l-3.4 6.8h6.8zM149.7 552.8l-3.4 6.8h6.8zM166.4 545.2l-3.4 6.8h6.8zM151.6 554.8l-3.4 6.8h6.8zM170.5 552.9l-3.4 6.8h6.8zM121.9 552.3l-3.4 6.8h6.8zM166.9 552.6l-3.4 6.8h6.8zM180.5 552.9l-3.4 6.8h6.8zM169.8 530.5l-3.4 6.8h6.8zM190.9 552.9l-3.4 6.8h6.8zM158.8 555.8l-3.4 6.8h6.8zM194.8 553.1l-3.4 6.8h6.8zM147.5 554.0l-3.4 6.8h6.8zM200.0 556.5l-3.4 6.8h6.8zM143.6 551.7l-3.4 6.8h6.8zM95.5 555.4l-3.4 6.8h6.8zM164.0 557.6l-3.4 6.8h6.8zM162.8 554.5l-3.4 6.8h6.8zM113.5 546.5l-3.4 6.8h6.8zM188.0 551.5l-3.4 6.8h6.8zM101.9 556.0l-3.4 6.8h6.8zM125.9 556.7l-3.4 6.8h6.8zM176.1 551.0l-3.4 6.8h6.8zM111.2 551.9l-3.4 6.8h6.8zM157.8 555.3l-3.4 6.8h6.8zM182.3 556.7l-3.4 6.8h6.8zM111.1 552.2l-3.4 6.8h6.8zM195.5 549.8l-3.4 6.8h6.8zM142.3 551.1l-3.4 6.8h6.8zM201.4 550.9l-3.4 6.8h6.8zM201.5 552.5l-3.4 6.8h6.8zM102.2 544.7l-3.4 6.8h6.8zM172.3 550.1l-3.4 6.8h6.8zM134.6 550.7l-3.4 6.8h6.8zM175.7 557.0l-3.4 6.8h6.8zM145.8 552.1l-3.4 6.8h6.8zM132.4 557.2l-3.4 6.8h6.8zM197.6 552.6l-3.4 6.8h6.8zM197.2 555.4l-3.4 6.8h6.8zM131.2 548.5l-3.4 6.8h6.8zM164.7 555.4l-3.4 6.8h6.8zM138.6 552.3l-3.4 6.8h6.8zM92.8 553.1l-3.4 6.8h6.8zM197.8 554.2l-3.4 6.8h6.8zM198.4 552.7l-3.4 6.8h6.8zM123.2 546.8l-3.4 6.8h6.8zM196.8 569.3l-3.4 6.8h6.8zM172.9 548.5l-3.4 6.8h6.8zM96.3 554.0l-3.4 6.8h6.8zM197.8 561.9l-3.4 6.8h6.8z" fill="none" stroke="#ff0000" stroke-opacity="0.24" stroke-width="1.0"/>
<path d="M140.7 558.0l-3.4 6.8h6.8zM102.1 551.8l-3.4 6.8h6.8zM176.6 550.6l-3.4 6.8h6.8zM127.8 556.4l-3.4 6.8h6.8zM137.0 554.5l-3.4 6.8h6.8zM117.5 549.7l-3.4 6.8h6.8zM159.6 551.4l-3.4 6.8h6.8zM96.7 551.6l-3.4 6.8h6.8zM107.7 561.2l-3.4 6.8h6.8zM195.8 556.0l-3.4 6.8h6.8zM154.0 550.6l-3.4 6.8h6.8zM206.9 554.9l-3.4 6.8h6.8zM143.0 552.6l-3.4 6.8h6.8zM150.6 550.1l-3.4 6.8h6.8zM126.1 553.5l-3.4 6.8h6.8zM146.6 554.4l-3.4 6.8h6.8zM129.4 552.0l-3.4 6.8h6.8zM157.2 513.9l-3.4 6.8h6.8zM163.0 550.7l-3.4 6.8h6.8zM152.7 548.6l-3.4 6.8h6.8zM179.6 550.7l-3.4 6.8h6.8zM176.1 554.8l-3.4 6.8h6.8zM155.6 551.3l-3.4 6.8h6.8zM179.8 550.7l-3.4 6.8h6.8zM130.3 556.0l-3.4 6.8h6.8zM198.7 545.7l-3.4 6.8h6.8zM201.3 551.3l-3.4 6.8h6.8zM132.1 548.5l-3.4 6.8h6.8zM163.0 551.1l-3.4 6.8h6.8zM137.6 549.0l-3.4 6.8h6.8zM146.0 557.5l-3.4 6.8h6.8zM188.3 552.6l-3.4 6.8h6.8zM153.1 551.1l-3.4 6.8h6.8zM118.7 551.8l-3.4 6.8h6.8zM171.7 552.4l-3.4 6.8h6.8zM159.2 553.9l-3.4 6.8h6.8zM165.8 555.8l-3.4 6.8h6.8zM118.3 550.7l-3.4 6.8h6.8zM149.6 555.5l-3.4 6.8h6.8zM195.9 551.5l-3.4 6.8h6.8zM193.7 558.7l-3.4 6.8h6.8zM199.6 552.8l-3.4 6.8h6.8zM133.7 558.6l-3.4 6.8h6.8zM142.7 554.0l-3.4 6.8h6.8zM155.6 553.7l-3.4 6.8h6.8zM131.9 551.0l-3.4 6.8h6.8zM99.4 551.6l-3.4 6.8h6.8zM146.5 553.8l-3.4 6.8h6.8zM129.4 556.3l-3.4 6.8h6.8zM142.8 554.8l-3.4 6.8h6.8zM200.0 557.2l-3.4 6.8h6.8zM195.7 548.4l-3.4 6.8h6.8zM114.2 550.6l-3.4 6.8h6.8zM123.3 560.3l-3.4 6.8h6.8zM157.2 549.8l-3.4 6.8h6.8zM166.7 551.8l-3.4 6.8h6.8zM157.4 556.8l-3.4 6.8h6.8zM141.6 545.9l-3.4 6.8h6.8zM121.0 556.9l-3.4 6.8h6.8zM183.0 560.5l-3.4 6.8h6.8zM115.7 552.6l-3.4 6.8h6.8zM96.7 552.6l-3.4 6.8h6.8zM107.5 556.3l-3.4 6.8h6.8zM166.0 552.6l-3.4 6.8h6.8zM204.6 554.9l-3.4 6.8h6.8zM156.2 556.0l-3.4 6.8h6.8zM156.4 553.0l-3.4 6.8h6.8zM136.4 547.3l-3.4 6.8h6.8zM194.9 553.6l-3.4 6.8h6.8zM193.2 518.6l-3.4 6.8h6.8zM139.5 551.7l-3.4 6.8h6.8zM97.9 552.8l-3.4 6.8h6.8zM135.2 549.9l-3.4 6.8h6.8zM156.1 559.7l-3.4 6.8h6.8zM109.6 552.0l-3.4 6.8h6.8zM184.6 554.2l-3.4 6.8h6.8zM199.7 555.2l-3.4 6.8h6.8zM119.7 553.4l-3.4 6.8h6.8zM179.9 553.5l-3.4 6.8h6.8zM126.6 555.5l-3.4 6.8h6.8zM173.6 554.8l-3.4 6.8h6.8zM120.7 555.4l-3.4 6.8h6.8zM205.1 553.0l-3.4 6.8h6.8zM201.2 553.3l-3.4 6.8h6.8zM159.6 551.4l-3.4 6.8h6.8zM197.2 551.8l-3.4 6.8h6.8zM97.2 554.1l-3.4 6.8h6.8zM178.4 551.3l-3.4 6.8h6.8zM92.3 555.3l-3.4 6.8h6.8zM138.3 548.1l-3.4 6.8h6.8zM165.0 549.3l-3.4 6.8h6.8zM190.6 551.6l-3.4 6.8h6.8zM144.1 555.0l-3.4 6.8h6.8zM155.1 555.9l-3.4 6.8h6.8zM180.6 549.7l-3.4 6.8h6.8zM130.3 553.4l-3.4 6.8h6.8zM107.3 555.2l-3.4 6.8h6.8zM142.4 550.3l-3.4 6.8h6.8zM182.6 551.4l-3.4 6.8h6.8zM200.1 553.2l-3.4 6.8h6.8zM114.9 556.2l-3.4 6.8h6.8zM163.8 558.0l-3.4 6.8h6.8zM186.3 553.8l-3.4 6.8h6.8zM168.9 552.5l-3.4 6.8h6.8zM100.5 551.7l-3.4 6.8h6.8zM181.1 547.1l-3.4 6.8h6.8zM128.7 546.5l-3.4 6.8h6.8zM134.4 550.3l-3.4 6.8h6.8zM174.8 553.7l-3.4 6.8h6.8zM169.0 548.6l-3.4 6.8h6.8zM122.7 556.9l-3.4 6.8h6.8zM151.1 553.4l-3.4 6.8h6.8zM162.3 553.5l-3.4 6.8h6.8zM124.2 552.8l-3.4 6.8h6.8zM203.0 555.9l-3.4 6.8h6.8zM151.5 556.4l-3.4 6.8h6.8zM181.5 553.1l-3.4 6.8h6.8zM144.9 552.5l-3.4 6.8h6.8zM157.1 557.1l-3.4 6.8h6.8zM145.2 558.0l-3.4 6.8h6.8zM118.4 548.5l-3.4 6.8h6.8zM128.5 555.2l-3.4 6.8h6.8zM136.2 554.8l-3.4 6.8h6.8zM185.7 555.8l-3.4 6.8h6.8zM188.1 552.4l-3.4 6.8h6.8zM203.2 553.9l-3.4 6.8h6.8zM167.1 547.8l-3.4 6.8h6.8zM135.6 554.4l-3.4 6.8h6.8zM160.4 548.2l-3.4 6.8h6.8zM148.9 550.4l-3.4 6.8h6.8zM144.7 556.7l-3.4 6.8h6.8zM133.8 553.9l-3.4 6.8h6.8zM169.9 555.8l-3.4 6.8h6.8zM185.7 551.9l-3.4 6.8h6.8zM131.0 554.2l-3.4 6.8h6.8zM173.9 558.7l-3.4 6.8h6.8zM165.5 554.2l-3.4 6.8h6.8zM138.8 538.2l-3.4 6.8h6.8zM201.5 551.1l-3.4 6.8h6.8zM207.1 558.9l-3.4 6.8h6.8zM155.0 552.6l-3.4 6.8h6.8zM181.2 554.9l-3.4 6.8h6.8zM201.5 550.1l-3.4 6.8h6.8zM137.1 551.7l-3.4 6.8h6.8zM97.1 553.9l-3.4 6.8h6.8zM144.0 558.7l-3.4 6.8h6.8zM192.3 554.0l-3.4 6.8h6.8zM131.5 551.2l-3.4 6.8h6.8zM179.2 549.5l-3.4 6.8h6.8z" fill="none" stroke="#ff0000" stroke-opacity="0.24" stroke-width="1.0"/>
<g fill="none" stroke="#0000ff" stroke-opacity="0.4"><use href="#st" x="195.3" y="555.1"/><use href="#st" x="191.7" y="555.5"/><use href="#st" x="179.3" y="562"/><use href="#st" x="102.6" y="555.6"/><use href="#st" x="190.9" y="556.8"/><use href="#st" x="135.3" y="551"/><use href="#st" x="123.4" y="549.8"/><use href="#st" x="187.5" y="553.1"/><use href="#st" x="84.9" y="556.6"/><use href="#st" x="143" y="555.1"/><use href="#st" x="104.4" y="550.8"/><use href="#st" x="183.3" y="558.4"/><use href="#st" x="196.4" y="556.7"/><use href="#st" x="104.7" y="555.1"/><use href="#st" x="165.4" y="547.5"/><use href="#st" x="190.2" y="556.8"/><use href="#st" x="191.8" y="555.2"/><use href="#st" x="207.3" y="557.3"/><use href="#st" x="114.2" y="558.4"/><use href="#st" x="187.7" y="549.1"/><use href="#st" x="132.2" y="556.7"/><use href="#st" x="180.4" y="556.3"/><use href="#st" x="152.1" y="555.7"/><use href="#st" x="172" y="559.9"/><use href="#st" x="108" y="545.7"/><use href="#st" x="175.6" y="561.5"/><use href="#st" x="143.4" y="555.1"/><use href="#st" x="149.6" y="552.6"/><use href="#st" x="175.4" y="552.8"/><use href="#st" x="172.2" y="552.5"/><use href="#st" x="157.9" y="562"/><use href="#st" x="90.6" y="558"/><use href="#st" x="143.8" y="554.2"/><use href="#st" x="190.5" y="558"/><use href="#st" x="103.6" y="550.6"/><use href="#st" x="179.1" y="555.4"/><use href="#st" x="144.4" y="542.2"/><use href="#st" x="195.5" y="556.4"/><use href="#st" x="160.1" y="557.5"/><use href="#st" x="109" y="590.7"/><use href="#st" x="106" y="556.9"/><use href="#st" x="168" y="560.7"/><use href="#st" x="119.5" y="547.5"/><use href="#st" x="206.1" y="548.5"/><use href="#st" x="114.9" y="557.6"/><use href="#st" x="153" y="550.7"/><use href="#st" x="156.3" y="548.5"/></g>
<path d="M184.9 557.3l-3.4 6.8h6.8zM196.4 553.3l-3.4 6.8h6.8zM177.7 552.1l-3.4 6.8h6.8zM143.3 563.0l-3.4 6.8h6.8zM197.5 552.7l-3.4 6.8h6.8zM162.5 555.3l-3.4 6.8h6.8zM139.3 552.1l-3.4 6.8h6.8zM160.6 556.0l-3.4 6.8h6.8zM138.8 553.8l-3.4 6.8h6.8zM185.3 514.5l-3.4 6.8h6.8zM171.3 550.4l-3.4 6.8h6.8zM173.2 554.7l-3.4 6.8h6.8zM188.2 554.0l-3.4 6.8h6.8zM153.4 559.0l-3.4 6.8h6.8zM174.2 554.0l-3.4 6.8h6.8zM135.0 550.9l-3.4 6.8h6.8zM179.0 559.6l-3.4 6.8h6.8zM123.2 553.9l-3.4 6.8h6.8zM157.7 552.1l-3.4 6.8h6.8zM203.3 554.1l-3.4 6.8h6.8zM199.0 551.7l-3.4 6.8h6.8zM140.9 552.1l-3.4 6.8h6.8zM156.7 553.6l-3.4 6.8h6.8zM132.5 550.9l-3.4 6.8h6.8zM149.9 556.7l-3.4 6.8h6.8zM114.1 555.6l-3.4 6.8h6.8zM131.7 549.9l-3.4 6.8h6.8zM206.8 551.0l-3.4 6.8h6.8zM168.6 551.1l-3.4 6.8h6.8zM100.7 553.3l-3.4 6.8h6.8zM136.0 550.5l-3.4 6.8h6.8zM155.2 549.8l-3.4 6.8h6.8zM147.0 556.4l-3.4 6.8h6.8zM153.9 552.4l-3.4 6.8h6.8zM175.0 549.8l-3.4 6.8h6.8zM110.0 552.6l-3.4 6.8h6.8zM106.4 551.8l-3.4 6.8h6.8zM159.4 550.1l-3.4 6.8h6.8zM141.9 550.2l-3.4 6.8h6.8zM162.8 549.6l-3.4 6.8h6.8zM155.9 554.3l-3.4 6.8h6.8zM162.5 553.1l-3.4 6.8h6.8zM148.7 551.2l-3.4 6.8h6.8zM121.6 556.4l-3.4 6.8h6.8zM203.3 564.6l-3.4 6.8h6.8zM116.7 542.2l-3.4 6.8h6.8zM194.6 501.0l-3.4 6.8h6.8zM148.1 551.3l-3.4 6.8h6.8zM127.1 556.4l-3.4 6.8h6.8zM202.1 554.9l-3.4 6.8h6.8zM180.2 549.7l-3.4 6.8h6.8zM184.9 580.7l-3.4 6.8h6.8zM163.6 549.3l-3.4 6.8h6.8zM179.6 552.8l-3.4 6.8h6.8zM195.0 547.4l-3.4 6.8h6.8zM143.9 555.5l-3.4 6.8h6.8zM155.0 553.1l-3.4 6.8h6.8zM155.1 555.4l-3.4 6.8h6.8zM109.5 556.3l-3.4 6.8h6.8zM103.2 554.6l-3.4 6.8h6.8zM120.1 550.4l-3.4 6.8h6.8zM183.9 552.3l-3.4 6.8h6.8zM113.0 549.0l-3.4 6.8h6.8zM109.8 556.4l-3.4 6.8h6.8zM156.0 550.3l-3.4 6.8h6.8zM125.0 556.4l-3.4 6.8h6.8zM106.7 558.0l-3.4 6.8h6.8zM132.2 554.8l-3.4 6.8h6.8zM135.4 548.1l-3.4 6.8h6.8zM197.8 556.4l-3.4 6.8h6.8zM144.9 555.2l-3.4 6.8h6.8zM127.6 549.1l-3.4 6.8h6.8zM135.9 555.1l-3.4 6.8h6.8zM129.4 553.1l-3.4 6.8h6.8zM200.3 550.5l-3.4 6.8h6.8zM121.6 549.5l-3.4 6.8h6.8zM142.5 548.2l-3.4 6.8h6.8zM98.9 552.4l-3.4 6.8h6.8zM174.7 556.3l-3.4 6.8h6.8zM194.5 556.9l-3.4 6.8h6.8zM190.1 552.9l-3.4 6.8h6.8zM204.3 552.5l-3.4 6.8h6.8zM196.0 553.3l-3.4 6.8h6.8zM163.6 554.9l-3.4 6.8h6.8zM206.2 552.6l-3.4 6.8h6.8zM94.3 554.1l-3.4 6.8h6.8zM124.3 553.1l-3.4 6.8h6.8zM92.6 553.3l-3.4 6.8h6.8zM164.9 558.1l-3.4 6.8h6.8zM128.9 554.9l-3.4 6.8h6.8zM203.3 554.7l-3.4 6.8h6.8zM116.3 554.8l-3.4 6.8h6.8zM139.5 555.7l-3.4 6.8h6.8zM100.3 551.4l-3.4 6.8h6.8zM140.7 554.7l-3.4 6.8h6.8zM129.6 557.3l-3.4 6.8h6.8zM201.4 554.4l-3.4 6.8h6.8zM140.0 552.9l-3.4 6.8h6.8zM133.9 551.0l-3.4 6.8h6.8zM94.0 553.7l-3.4 6.8h6.8zM104.8 553.9l-3.4 6.8h6.8zM115.6 566.1l-3.4 6.8h6.8zM182.8 606.0l-3.4 6.8h6.8zM140.3 555.8l-3.4 6.8h6.8zM104.3 551.3l-3.4 6.8h6.8zM165.8 549.9l-3.4 6.8h6.8zM108.1 553.9l-3.4 6.8h6.8zM178.4 554.0l-3.4 6.8h6.8zM129.5 553.5l-3.4 6.8h6.8zM120.5 554.0l-3.4 6.8h6.8zM178.8 544.7l-3.4 6.8h6.8zM143.8 552.9l-3.4 6.8h6.8zM141.9 555.1l-3.4 6.8h6.8zM124.0 551.7l-3.4 6.8h6.8zM111.4 554.1l-3.4 6.8h6.8zM121.8 545.8l-3.4 6.8h6.8zM121.2 557.0l-3.4 6.8h6.8zM176.9 552.0l-3.4 6.8h6.8zM182.1 552.3l-3.4 6.8h6.8zM155.8 553.6l-3.4 6.8h6.8zM198.9 553.7l-3.4 6.8h6.8zM147.0 554.8l-3.4 6.8h6.8zM177.6 489.2l-3.4 6.8h6.8zM202.4 551.0l-3.4 6.8h6.8zM160.4 495.8l-3.4 6.8h6.8zM86.7 550.3l-3.4 6.8h6.8zM176.1 555.5l-3.4 6.8h6.8zM206.4 552.5l-3.4 6.8h6.8zM172.8 546.0l-3.4 6.8h6.8zM200.4 588.0l-3.4 6.8h6.8zM164.7 556.6l-3.4 6.8h6.8zM197.3 586.3l-3.4 6.8h6.8zM181.6 548.4l-3.4 6.8h6.8zM111.8 563.4l-3.4 6.8h6.8zM201.2 552.2l-3.4 6.8h6.8zM180.2 554.9l-3.4 6.8h6.8zM146.3 553.6l-3.4 6.8h6.8zM150.2 554.8l-3.4 6.8h6.8zM177.5 553.1l-3.4 6.8h6.8zM166.0 557.0l-3.4 6.8h6.8zM138.5 552.1l-3.4 6.8h6.8zM175.6 550.0l-3.4 6.8h6.8zM172.9 554.5l-3.4 6.8h6.8zM100.3 554.5l-3.4 6.8h6.8zM140.5 564.1l-3.4 6.8h6.8zM173.3 549.8l-3.4 6.8h6.8zM133.4 552.2l-3.4 6.8h6.8zM198.7 555.8l-3.4 6.8h6.8zM206.5 552.9l-3.4 6.8h6.8z" fill="none" stroke="#ff0000" stroke-opacity="0.24" stroke-width="1.0"/>
<path d="M136.2 554.2l-3.4 6.8h6.8zM173.3 547.3l-3.4 6.8h6.8zM150.3 549.6l-3.4 6.8h6.8zM93.7 552.4l-3.4 6.8h6.8zM186.2 552.4l-3.4 6.8h6.8zM98.2 550.7l-3.4 6.8h6.8zM193.8 551.8l-3.4 6.8h6.8zM118.9 555.5l-3.4 6.8h6.8zM191.9 550.3l-3.4 6.8h6.8zM186.4 552.8l-3.4 6.8h6.8zM129.5 554.1l-3.4 6.8h6.8zM196.6 554.8l-3.4 6.8h6.8zM206.4 553.4l-3.4 6.8h6.8zM159.0 551.4l-3.4 6.8h6.8zM109.8 552.3l-3.4 6.8h6.8zM144.5 549.5l-3.4 6.8h6.8zM141.5 551.0l-3.4 6.8h6.8zM159.9 554.7l-3.4 6.8h6.8zM196.8 553.5l-3.4 6.8h6.8zM112.3 549.8l-3.4 6.8h6.8zM144.3 553.2l-3.4 6.8h6.8zM142.5 554.9l-3.4 6.8h6.8zM169.9 557.1l-3.4 6.8h6.8zM121.0 555.8l-3.4 6.8h6.8zM130.2 551.3l-3.4 6.8h6.8zM133.1 552.2l-3.4 6.8h6.8zM177.3 549.6l-3.4 6.8h6.8zM166.7 551.1l-3.4 6.8h6.8zM158.0 555.0l-3.4 6.8h6.8zM192.8 548.7l-3.4 6.8h6.8zM153.6 558.3l-3.4 6.8h6.8zM178.6 552.4l-3.4 6.8h6.8zM165.1 547.7l-3.4 6.8h6.8zM196.2 549.0l-3.4 6.8h6.8zM175.2 553.5l-3.4 6.8h6.8zM100.9 553.3l-3.4 6.8h6.8zM154.1 555.2l-3.4 6.8h6.8zM195.1 556.4l-3.4 6.8h6.8zM179.2 550.5l-3.4 6.8h6.8zM143.9 552.8l-3.4 6.8h6.8zM113.9 554.9l-3.4 6.8h6.8zM185.4 547.2l-3.4 6.8h6.8zM138.7 552.5l-3.4 6.8h6.8zM159.0 550.9l-3.4 6.8h6.8zM125.5 549.3l-3.4 6.8h6.8zM115.1 552.3l-3.4 6.8h6.8zM165.7 550.4l-3.4 6.8h6.8zM194.5 554.3l-3.4 6.8h6.8zM109.8 549.4l-3.4 6.8h6.8zM120.1 542.8l-3.4 6.8h6.8zM167.2 530.1l-3.4 6.8h6.8zM169.4 547.2l-3.4 6.8h6.8zM128.0 555.5l-3.4 6.8h6.8zM173.3 552.6l-3.4 6.8h6.8zM203.1 550.2l-3.4 6.8h6.8zM109.6 556.3l-3.4 6.8h6.8zM181.4 552.5l-3.4 6.8h6.8zM157.6 553.1l-3.4 6.8h6.8zM109.1 553.7l-3.4 6.8h6.8zM167.6 554.3l-3.4 6.8h6.8zM164.0 553.8l-3.4 6.8h6.8zM137.1 548.6l-3.4 6.8h6.8zM146.7 552.4l-3.4 6.8h6.8zM139.4 557.2l-3.4 6.8h6.8zM101.2 551.7l-3.4 6.8h6.8zM180.7 552.4l-3.4 6.8h6.8zM122.4 552.9l-3.4 6.8h6.8zM157.9 555.0l-3.4 6.8h6.8zM150.2 558.0l-3.4 6.8h6.8zM133.0 554.2l-3.4 6.8h6.8zM146.3 553.0l-3.4 6.8h6.8zM192.7 551.4l-3.4 6.8h6.8zM96.1 553.4l-3.4 6.8h6.8zM131.8 541.5l-3.4 6.8h6.8zM186.7 554.3l-3.4 6.8h6.8zM108.7 555.0l-3.4 6.8h6.8zM185.3 491.6l-3.4 6.8h6.8zM128.0 543.5l-3.4 6.8h6.8zM121.5 551.7l-3.4 6.8h6.8zM93.9 554.0l-3.4 6.8h6.8zM121.4 551.8l-3.4 6.8h6.8zM188.1 553.0l-3.4 6.8h6.8zM205.6 532.2l-3.4 6.8h6.8zM161.3 552.4l-3.4 6.8h6.8zM163.6 549.7l-3.4 6.8h6.8zM159.8 556.6l-3.4 6.8h6.8zM167.4 550.6l-3.4 6.8h6.8zM167.2 560.3l-3.4 6.8h6.8zM183.5 548.5l-3.4 6.8h6.8zM167.3 555.5l-3.4 6.8h6.8zM124.5 553.5l-3.4 6.8h6.8zM198.0 554.4l-3.4 6.8h6.8zM205.8 551.0l-3.4 6.8h6.8zM101.1 553.8l-3.4 6.8h6.8zM130.3 552.8l-3.4 6.8h6.8zM96.5 554.4l-3.4 6.8h6.8zM162.5 554.2l-3.4 6.8h6.8zM103.9 547.4l-3.4 6.8h6.8zM147.9 554.1l-3.4 6.8h6.8zM108.9 553.4l-3.4 6.8h6.8zM145.0 549.2l-3.4 6.8h6.8zM99.7 552.5l-3.4 6.8h6.8zM205.4 556.3l-3.4 6.8h6.8zM106.2 552.7l-3.4 6.8h6.8zM188.0 556.1l-3.4 6.8h6.8zM124.7 555.0l-3.4 6.8h6.8zM199.8 554.4l-3.4 6.8h6.8zM163.1 557.1l-3.4 6.8h6.8zM151.9 555.3l-3.4 6.8h6.8zM146.0 551.7l-3.4 6.8h6.8zM156.2 552.8l-3.4 6.8h6.8zM193.2 548.6l-3.4 6.8h6.8zM139.4 555.6l-3.4 6.8h6.8zM158.6 559.1l-3.4 6.8h6.8zM104.6 561.5l-3.4 6.8h6.8zM177.9 559.0l-3.4 6.8h6.8zM107.5 552.4l-3.4 6.8h6.8zM182.8 552.4l-3.4 6.8h6.8zM134.2 550.0l-3.4 6.8h6.8zM96.5 552.1l-3.4 6.8h6.8zM184.3 548.5l-3.4 6.8h6.8zM180.3 557.4l-3.4 6.8h6.8zM175.9 552.5l-3.4 6.8h6.8zM205.5 554.0l-3.4 6.8h6.8zM202.8 549.3l-3.4 6.8h6.8zM151.5 561.0l-3.4 6.8h6.8zM103.1 555.0l-3.4 6.8h6.8zM163.0 555.6l-3.4 6.8h6.8zM124.6 551.8l-3.4 6.8h6.8zM155.4 549.7l-3.4 6.8h6.8zM126.5 550.9l-3.4 6.8h6.8zM200.7 548.8l-3.4 6.8h6.8zM135.0 565.1l-3.4 6.8h6.8zM155.4 477.7l-3.4 6.8h6.8zM164.1 574.4l-3.4 6.8h6.8zM183.8 554.4l-3.4 6.8h6.8zM181.1 548.7l-3.4 6.8h6.8zM185.9 554.8l-3.4 6.8h6.8zM198.3 542.0l-3.4 6.8h6.8zM116.9 555.3l-3.4 6.8h6.8zM204.2 550.5l-3.4 6.8h6.8zM193.4 557.7l-3.4 6.8h6.8zM166.0 555.3l-3.4 6.8h6.8zM124.1 551.9l-3.4 6.8h6.8zM136.9 559.2l-3.4 6.8h6.8zM205.2 552.6l-3.4 6.8h6.8zM113.9 552.9l-3.4 6.8h6.8zM194.4 556.7l-3.4 6.8h6.8z" fill="none" stroke="#ff0000" stroke-opacity="0.24" stroke-width="1.0"/>
<g fill="none" stroke="#0000ff" stroke-opacity="0.4"><use href="#st" x="180.9" y="556.2"/><use href="#st" x="201.4" y="524.1"/><use href="#st" x="139.2" y="551.9"/><use href="#st" x="116.4" y="556.2"/><use href="#st" x="204.8" y="553.8"/><use href="#st" x="161.7" y="549.3"/><use href="#st" x="112.1" y="557.2"/><use href="#st" x="179.8" y="555.2"/><use href="#st" x="102.4" y="560.4"/><use href="#st" x="178.2" y="555.7"/><use href="#st" x="113.5" y="549.9"/><use href="#st" x="178.4" y="562.6"/><use href="#st" x="194.2" y="558.3"/><use href="#st" x="198.9" y="562.3"/><use href="#st" x="150.9" y="557.1"/><use href="#st" x="196.7" y="551.3"/><use href="#st" x="196.8" y="549.6"/><use href="#st" x="188.9" y="555.9"/><use href="#st" x="83.6" y="560.8"/><use href="#st" x="146.5" y="553.6"/><use href="#st" x="166.7" y="559.8"/><use href="#st" x="83.1" y="517.3"/><use href="#st" x="117" y="557.9"/><use href="#st" x="192" y="555.9"/><use href="#st" x="190.1" y="599.7"/><use href="#st" x="146.1" y="554.5"/><use href="#st" x="164.9" y="558.2"/><use href="#st" x="175.5" y="552.4"/><use href="#st" x="176.6" y="555.5"/><use href="#st" x="155.2" y="552.4"/><use href="#st" x="168.2" y="550.7"/><use href="#st" x="153.4" y="556.1"/><use href="#st" x="123.8" y="564.9"/><use href="#st" x="181.9" y="550.2"/><use href="#st" x="152.9" y="550.2"/><use href="#st" x="95.9" y="562.8"/><use href="#st" x="180" y="556.1"/><use href="#st" x="157.5" y="551.9"/><use href="#st" x="187.8" y="551"/><use href="#st" x="139.7" y="556.9"/><use href="#st" x="139" y="558.5"/><use href="#st" x="207.4" y="549.3"/><use href="#st" x="194.4" y="551.2"/><use href="#st" x="127.4" y="556.7"/><use href="#st" x="137" y="548.8"/><use href="#st" x="203.9" y="554.1"/><use href="#st" x="147" y="560.1"/></g>
<path d="M207.2 553.9l-3.4 6.8h6.8zM91.7 551.6l-3.4 6.8h6.8zM147.8 550.6l-3.4 6.8h6.8zM204.1 555.6l-3.4 6.8h6.8zM116.4 551.5l-3.4 6.8h6.8zM104.7 552.3l-3.4 6.8h6.8zM136.8 552.1l-3.4 6.8h6.8zM193.1 554.9l-3.4 6.8h6.8zM102.3 553.2l-3.4 6.8h6.8zM172.8 556.1l-3.4 6.8h6.8zM95.9 552.1l-3.4 6.8h6.8zM127.8 559.5l-3.4 6.8h6.8zM175.2 556.6l-3.4 6.8h6.8zM103.2 556.5l-3.4 6.8h6.8zM161.9 546.3l-3.4 6.8h6.8zM187.6 554.2l-3.4 6.8h6.8zM197.5 551.4l-3.4 6.8h6.8zM191.3 552.3l-3.4 6.8h6.8zM142.8 552.7l-3.4 6.8h6.8zM131.6 555.8l-3.4 6.8h6.8zM138.6 556.3l-3.4 6.8h6.8zM200.7 553.1l-3.4 6.8h6.8zM157.4 550.4l-3.4 6.8h6.8zM194.7 551.8l-3.4 6.8h6.8zM201.1 554.7l-3.4 6.8h6.8zM156.7 550.6l-3.4 6.8h6.8zM116.3 551.8l-3.4 6.8h6.8zM132.5 554.8l-3.4 6.8h6.8zM133.5 556.6l-3.4 6.8h6.8zM128.1 555.3l-3.4 6.8h6.8zM157.0 550.5l-3.4 6.8h6.8zM132.5 554.3l-3.4 6.8h6.8zM135.9 555.4l-3.4 6.8h6.8zM119.4 554.0l-3.4 6.8h6.8zM94.9 553.8l-3.4 6.8h6.8zM92.0 554.4l-3.4 6.8h6.8zM173.8 555.3l-3.4 6.8h6.8zM183.0 551.0l-3.4 6.8h6.8zM186.6 548.1l-3.4 6.8h6.8zM137.8 554.2l-3.4 6.8h6.8zM108.0 554.4l-3.4 6.8h6.8zM178.8 548.3l-3.4 6.8h6.8zM163.7 552.5l-3.4 6.8h6.8zM153.9 552.1l-3.4 6.8h6.8zM167.0 559.5l-3.4 6.8h6.8zM149.1 552.8l-3.4 6.8h6.8zM98.1 550.9l-3.4 6.8h6.8zM151.6 542.8l-3.4 6.8h6.8zM121.4 562.7l-3.4 6.8h6.8zM202.4 554.6l-3.4 6.8h6.8zM167.9 551.3l-3.4 6.8h6.8zM168.4 554.9l-3.4 6.8h6.8zM160.6 547.6l-3.4 6.8h6.8zM191.2 550.5l-3.4 6.8h6.8zM161.0 550.6l-3.4 6.8h6.8zM188.7 559.3l-3.4 6.8h6.8zM193.0 550.4l-3.4 6.8h6.8zM178.4 547.4l-3.4 6.8h6.8zM207.0 555.7l-3.4 6.8h6.8zM109.9 552.0l-3.4 6.8h6.8zM144.4 556.0l-3.4 6.8h6.8zM199.9 550.5l-3.4 6.8h6.8zM170.8 553.8l-3.4 6.8h6.8zM153.3 554.4l-3.4 6.8h6.8zM97.0 552.2l-3.4 6.8h6.8zM173.4 558.3l-3.4 6.8h6.8zM144.0 550.6l-3.4 6.8h6.8zM154.9 552.3l-3.4 6.8h6.8zM196.1 558.3l-3.4 6.8h6.8zM122.2 553.4l-3.4 6.8h6.8zM150.5 551.8l-3.4 6.8h6.8zM154.7 553.5l-3.4 6.8h6.8zM114.3 552.4l-3.4 6.8h6.8zM133.6 553.7l-3.4 6.8h6.8zM137.4 553.3l-3.4 6.8h6.8zM116.9 550.0l-3.4 6.8h6.8zM99.8 553.2l-3.4 6.8h6.8zM117.0 552.8l-3.4 6.8h6.8zM152.0 554.5l-3.4 6.8h6.8zM131.4 556.9l-3.4 6.8h6.8zM176.9 552.1l-3.4 6.8h6.8zM170.6 548.3l-3.4 6.8h6.8zM179.9 550.3l-3.4 6.8h6.8zM189.8 556.1l-3.4 6.8h6.8zM138.4 553.9l-3.4 6.8h6.8zM90.7 552.9l-3.4 6.8h6.8zM139.1 556.0l-3.4 6.8h6.8zM110.5 550.5l-3.4 6.8h6.8zM110.0 553.2l-3.4 6.8h6.8zM131.3 553.6l-3.4 6.8h6.8zM97.1 550.9l-3.4 6.8h6.8zM184.1 553.3l-3.4 6.8h6.8zM158.3 553.6l-3.4 6.8h6.8zM114.7 551.7l-3.4 6.8h6.8zM162.5 555.9l-3.4 6.8h6.8zM96.3 555.3l-3.4 6.8h6.8zM113.6 559.8l-3.4 6.8h6.8zM160.6 548.3l-3.4 6.8h6.8zM183.0 556.5l-3.4 6.8h6.8zM134.4 554.3l-3.4 6.8h6.8zM136.5 549.7l-3.4 6.8h6.8zM104.8 551.8l-3.4 6.8h6.8zM175.6 554.5l-3.4 6.8h6.8zM139.7 554.9l-3.4 6.8h6.8zM170.4 561.1l-3.4 6.8h6.8zM190.2 556.3l-3.4 6.8h6.8zM155.5 549.3l-3.4 6.8h6.8zM186.1 553.6l-3.4 6.8h6.8zM144.3 552.4l-3.4 6.8h6.8zM125.5 557.5l-3.4 6.8h6.8zM124.6 563.0l-3.4 6.8h6.8zM203.9 552.0l-3.4 6.8h6.8zM154.7 555.8l-3.4 6.8h6.8zM197.2 556.5l-3.4 6.8h6.8zM108.1 554.3l-3.4 6.8h6.8zM150.1 554.3l-3.4 6.8h6.8zM114.9 557.6l-3.4 6.8h6.8zM144.0 554.6l-3.4 6.8h6.8zM124.3 554.8l-3.4 6.8h6.8zM155.9 550.5l-3.4 6.8h6.8zM176.0 549.5l-3.4 6.8h6.8zM175.9 552.3l-3.4 6.8h6.8zM149.7 554.0l-3.4 6.8h6.8zM118.8 557.8l-3.4 6.8h6.8zM126.7 553.3l-3.4 6.8h6.8zM184.2 552.8l-3.4 6.8h6.8zM158.0 554.2l-3.4 6.8h6.8zM129.0 555.2l-3.4 6.8h6.8zM188.3 553.5l-3.4 6.8h6.8zM195.4 552.4l-3.4 6.8h6.8zM132.2 557.4l-3.4 6.8h6.8zM129.8 553.9l-3.4 6.8h6.8zM194.8 552.1l-3.4 6.8h6.8zM114.8 557.5l-3.4 6.8h6.8zM130.1 549.9l-3.4 6.8h6.8zM193.8 551.5l-3.4 6.8h6.8zM124.4 560.0l-3.4 6.8h6.8zM104.7 552.2l-3.4 6.8h6.8zM180.8 555.3l-3.4 6.8h6.8zM119.4 495.8l-3.4 6.8h6.8zM203.2 557.0l-3.4 6.8h6.8zM155.4 551.5l-3.4 6.8h6.8zM186.3 555.6l-3.4 6.8h6.8zM198.1 557.7l-3.4 6.8h6.8zM159.9 554.8l-3.4 6.8h6.8zM161.6 552.9l-3.4 6.8h6.8zM191.3 557.9l-3.4 6.8h6.8zM122.0 552.2l-3.4 6.8h6.8zM192.4 554.3l-3.4 6.8h6.8z" fill="none" stroke="#ff0000" stroke-opacity="0.24" stroke-width="1.0"/>
<path d="M163.1 555.4l-3.4 6.8h6.8zM123.6 550.1l-3.4 6.8h6.8zM170.1 550.9l-3.4 6.8h6.8zM121.5 548.2l-3.4 6.8h6.8zM206.3 552.1l-3.4 6.8h6.8zM113.4 554.2l-3.4 6.8h6.8zM113.4 551.2l-3.4 6.8h6.8zM178.6 549.7l-3.4 6.8h6.8zM168.0 555.6l-3.4 6.8h6.8zM175.2 556.5l-3.4 6.8h6.8zM206.4 550.3l-3.4 6.8h6.8zM199.4 552.7l-3.4 6.8h6.8zM169.2 553.1l-3.4 6.8h6.8zM104.3 555.1l-3.4 6.8h6.8zM134.8 551.1l-3.4 6.8h6.8zM170.6 552.7l-3.4 6.8h6.8zM122.2 549.7l-3.4 6.8h6.8zM109.9 551.8l-3.4 6.8h6.8zM118.5 561.2l-3.4 6.8h6.8zM121.4 551.7l-3.4 6.8h6.8zM124.6 549.3l-3.4 6.8h6.8zM132.7 553.1l-3.4 6.8h6.8zM207.2 553.0l-3.4 6.8h6.8zM160.3 552.5l-3.4 6.8h6.8zM109.6 555.7l-3.4 6.8h6.8zM156.3 549.4l-3.4 6.8h6.8zM135.1 552.9l-3.4 6.8h6.8zM177.6 548.6l-3.4 6.8h6.8zM201.1 554.5l-3.4 6.8h6.8zM152.6 548.4l-3.4 6.8h6.8zM143.4 548.9l-3.4 6.8h6.8zM169.1 557.0l-3.4 6.8h6.8zM95.1 552.9l-3.4 6.8h6.8zM203.3 521.6l-3.4 6.8h6.8zM98.3 552.5l-3.4 6.8h6.8zM196.2 555.0l-3.4 6.8h6.8zM96.4 554.8l-3.4 6.8h6.8zM198.9 552.3l-3.4 6.8h6.8zM203.9 548.1l-3.4 6.8h6.8zM140.7 549.4l-3.4 6.8h6.8zM120.1 555.1l-3.4 6.8h6.8zM172.4 555.3l-3.4 6.8h6.8zM189.6 553.0l-3.4 6.8h6.8zM186.5 555.5l-3.4 6.8h6.8zM156.0 554.7l-3.4 6.8h6.8zM114.1 553.4l-3.4 6.8h6.8zM207.2 554.2l-3.4 6.8h6.8zM171.1 550.9l-3.4 6.8h6.8zM199.5 530.4l-3.4 6.8h6.8zM135.9 552.8l-3.4 6.8h6.8zM128.5 553.0l-3.4 6.8h6.8zM111.6 554.3l-3.4 6.8h6.8zM101.5 550.7l-3.4 6.8h6.8zM133.4 558.4l-3.4 6.8h6.8zM189.6 557.8l-3.4 6.8h6.8zM101.4 554.0l-3.4 6.8h6.8zM158.0 555.2l-3.4 6.8h6.8zM160.4 549.8l-3.4 6.8h6.8zM178.8 553.6l-3.4 6.8h6.8zM115.7 554.0l-3.4 6.8h6.8zM163.0 553.8l-3.4 6.8h6.8zM191.0 607.7l-3.4 6.8h6.8zM163.0 556.2l-3.4 6.8h6.8zM194.6 519.3l-3.4 6.8h6.8zM197.5 552.0l-3.4 6.8h6.8zM187.1 549.6l-3.4 6.8h6.8zM140.0 556.7l-3.4 6.8h6.8zM159.1 555.5l-3.4 6.8h6.8zM192.0 554.6l-3.4 6.8h6.8zM202.5 550.5l-3.4 6.8h6.8zM153.7 551.6l-3.4 6.8h6.8zM133.7 556.3l-3.4 6.8h6.8zM192.1 548.4l-3.4 6.8h6.8zM190.5 554.1l-3.4 6.8h6.8zM203.4 554.8l-3.4 6.8h6.8zM128.8 555.0l-3.4 6.8h6.8zM195.1 556.7l-3.4 6.8h6.8zM176.7 552.2l-3.4 6.8h6.8zM146.1 552.7l-3.4 6.8h6.8zM176.6 555.7l-3.4 6.8h6.8zM157.1 551.4l-3.4 6.8h6.8zM135.5 558.4l-3.4 6.8h6.8zM131.2 553.4l-3.4 6.8h6.8zM170.1 549.9l-3.4 6.8h6.8zM118.3 557.4l-3.4 6.8h6.8zM102.2 553.6l-3.4 6.8h6.8zM144.8 473.6l-3.4 6.8h6.8zM184.0 547.4l-3.4 6.8h6.8zM191.3 555.7l-3.4 6.8h6.8zM93.3 553.1l-3.4 6.8h6.8zM200.9 554.4l-3.4 6.8h6.8zM200.4 557.2l-3.4 6.8h6.8zM181.2 550.3l-3.4 6.8h6.8zM103.9 556.3l-3.4 6.8h6.8zM115.3 553.8l-3.4 6.8h6.8zM121.6 548.8l-3.4 6.8h6.8zM138.9 546.3l-3.4 6.8h6.8zM159.1 556.0l-3.4 6.8h6.8zM161.2 549.7l-3.4 6.8h6.8zM170.4 552.2l-3.4 6.8h6.8zM109.4 552.7l-3.4 6.8h6.8zM190.7 550.7l-3.4 6.8h6.8zM196.8 552.5l-3.4 6.8h6.8zM145.4 475.0l-3.4 6.8h6.8zM206.5 553.3l-3.4 6.8h6.8zM199.5 553.0l-3.4 6.8h6.8zM172.3 551.2l-3.4 6.8h6.8zM124.0 558.4l-3.4 6.8h6.8zM136.6 551.2l-3.4 6.8h6.8zM206.7 551.2l-3.4 6.8h6.8zM175.5 495.8l-3.4 6.8h6.8zM203.4 552.3l-3.4 6.8h6.8zM136.4 555.8l-3.4 6.8h6.8zM99.2 552.8l-3.4 6.8h6.8zM137.5 555.7l-3.4 6.8h6.8zM181.5 555.4l-3.4 6.8h6.8zM121.4 548.8l-3.4 6.8h6.8zM189.0 549.3l-3.4 6.8h6.8zM184.0 549.2l-3.4 6.8h6.8zM130.8 550.1l-3.4 6.8h6.8zM179.7 611.8l-3.4 6.8h6.8zM170.7 548.7l-3.4 6.8h6.8zM170.7 550.2l-3.4 6.8h6.8zM183.3 551.2l-3.4 6.8h6.8zM204.3 550.4l-3.4 6.8h6.8zM174.4 556.6l-3.4 6.8h6.8zM205.3 552.7l-3.4 6.8h6.8zM196.5 552.4l-3.4 6.8h6.8zM132.0 553.7l-3.4 6.8h6.8zM191.7 554.3l-3.4 6.8h6.8zM121.5 551.0l-3.4 6.8h6.8zM186.4 560.6l-3.4 6.8h6.8zM124.2 550.6l-3.4 6.8h6.8zM197.0 550.7l-3.4 6.8h6.8zM124.5 547.5l-3.4 6.8h6.8zM118.3 551.5l-3.4 6.8h6.8zM197.5 555.8l-3.4 6.8h6.8zM179.4 549.4l-3.4 6.8h6.8zM194.7 553.4l-3.4 6.8h6.8zM160.3 549.0l-3.4 6.8h6.8zM127.6 546.3l-3.4 6.8h6.8zM125.5 555.2l-3.4 6.8h6.8zM90.9 552.9l-3.4 6.8h6.8zM186.5 553.2l-3.4 6.8h6.8zM147.1 552.4l-3.4 6.8h6.8zM107.8 551.6l-3.4 6.8h6.8zM117.1 552.0l-3.4 6.8h6.8zM126.9 553.5l-3.4 6.8h6.8z" fill="none" stroke="#ff0000" stroke-opacity="0.24" stroke-width="1.0"/>
<g fill="none" stroke="#0000ff" stroke-opacity="0.4"><use href="#st" x="214" y="553.5"/><use href="#st" x="230.4" y="559.5"/><use href="#st" x="240.3" y="561.3"/><use href="#st" x="216.9" y="560.6"/><use href="#st" x="228.5" y="558.2"/><use href="#st" x="249.6" y="559.7"/><use href="#st" x="256" y="558.2"/><use href="#st" x="257.1" y="556.6"/><use href="#st" x="225.7" y="554.7"/><use href="#st" x="254.8" y="554.2"/><use href="#st" x="218.5" y="560.6"/><use href="#st" x="209.2" y="552.7"/><use href="#st" x="215" y="558.2"/><use href="#st" x="260.4" y="553.8"/><use href="#st" x="219.4" y="553.3"/><use href="#st" x="254.9" y="555.8"/><use href="#st" x="256" y="557.2"/><use href="#st" x="241.5" y="555.4"/><use href="#st" x="220.1" y="636.6"/><use href="#st" x="215.1" y="561.6"/><use href="#st" x="227.6" y="555.1"/><use href="#st" x="210.1" y="551.8"/><use href="#st" x="254.3" y="558.8"/><use href="#st" x="255.3" y="558.3"/><use href="#st" x="227.5" y="549.9"/><use href="#st" x="251" y="563.8"/><use href="#st" x="235.5" y="555.5"/></g>
<path d="M236.6 552.6l-3.4 6.8h6.8zM215.3 552.0l-3.4 6.8h6.8zM236.1 553.7l-3.4 6.8h6.8zM251.1 553.1l-3.4 6.8h6.8zM251.6 551.6l-3.4 6.8h6.8zM214.8 553.6l-3.4 6.8h6.8zM254.7 554.1l-3.4 6.8h6.8zM207.8 556.0l-3.4 6.8h6.8zM211.9 552.3l-3.4 6.8h6.8zM225.8 546.4l-3.4 6.8h6.8zM210.2 550.2l-3.4 6.8h6.8zM259.1 554.1l-3.4 6.8h6.8zM254.6 552.5l-3.4 6.8h6.8zM228.1 553.1l-3.4 6.8h6.8zM219.0 556.2l-3.4 6.8h6.8zM257.8 551.6l-3.4 6.8h6.8zM218.2 552.5l-3.4 6.8h6.8zM238.1 555.4l-3.4 6.8h6.8zM252.0 549.2l-3.4 6.8h6.8zM265.7 553.2l-3.4 6.8h6.8zM254.4 552.4l-3.4 6.8h6.8zM249.5 554.2l-3.4 6.8h6.8zM229.6 553.3l-3.4 6.8h6.8zM236.3 553.1l-3.4 6.8h6.8zM209.1 552.0l-3.4 6.8h6.8zM236.1 550.3l-3.4 6.8h6.8zM209.0 548.9l-3.4 6.8h6.8zM261.5 553.8l-3.4 6.8h6.8zM253.8 552.8l-3.4 6.8h6.8zM240.9 554.3l-3.4 6.8h6.8zM254.7 552.9l-3.4 6.8h6.8zM235.0 552.3l-3.4 6.8h6.8zM256.6 551.8l-3.4 6.8h6.8zM208.8 554.3l-3.4 6.8h6.8zM221.2 551.2l-3.4 6.8h6.8zM212.8 547.8l-3.4 6.8h6.8zM215.6 551.1l-3.4 6.8h6.8zM227.4 553.2l-3.4 6.8h6.8zM262.7 543.6l-3.4 6.8h6.8zM245.0 595.2l-3.4 6.8h6.8zM255.0 553.6l-3.4 6.8h6.8zM233.0 554.2l-3.4 6.8h6.8zM238.7 552.4l-3.4 6.8h6.8zM240.9 552.2l-3.4 6.8h6.8zM215.2 566.4l-3.4 6.8h6.8zM260.3 551.5l-3.4 6.8h6.8zM252.3 552.1l-3.4 6.8h6.8zM213.5 554.1l-3.4 6.8h6.8zM260.5 554.0l-3.4 6.8h6.8zM207.8 552.8l-3.4 6.8h6.8zM222.8 554.0l-3.4 6.8h6.8zM209.1 555.5l-3.4 6.8h6.8zM250.4 553.7l-3.4 6.8h6.8zM235.1 555.7l-3.4 6.8h6.8zM209.1 554.4l-3.4 6.8h6.8zM261.6 551.9l-3.4 6.8h6.8zM263.3 552.5l-3.4 6.8h6.8zM225.0 555.2l-3.4 6.8h6.8zM262.9 551.5l-3.4 6.8h6.8zM233.7 553.5l-3.4 6.8h6.8zM244.2 552.0l-3.4 6.8h6.8zM256.8 552.9l-3.4 6.8h6.8zM224.7 553.6l-3.4 6.8h6.8zM245.1 552.2l-3.4 6.8h6.8zM233.2 552.0l-3.4 6.8h6.8zM243.8 553.7l-3.4 6.8h6.8zM215.7 552.2l-3.4 6.8h6.8zM225.7 554.7l-3.4 6.8h6.8zM263.1 554.0l-3.4 6.8h6.8zM210.3 554.2l-3.4 6.8h6.8zM259.0 553.7l-3.4 6.8h6.8zM240.1 557.5l-3.4 6.8h6.8zM239.7 551.6l-3.4 6.8h6.8zM246.0 554.3l-3.4 6.8h6.8zM235.6 551.3l-3.4 6.8h6.8zM223.7 552.5l-3.4 6.8h6.8zM225.7 552.2l-3.4 6.8h6.8zM229.5 549.9l-3.4 6.8h6.8zM246.1 552.3l-3.4 6.8h6.8zM256.7 553.1l-3.4 6.8h6.8zM228.1 549.5l-3.4 6.8h6.8zM251.8 551.0l-3.4 6.8h6.8zM213.0 553.8l-3.4 6.8h6.8zM266.5 553.8l-3.4 6.8h6.8zM213.8 549.0l-3.4 6.8h6.8zM248.0 553.6l-3.4 6.8h6.8zM221.0 555.0l-3.4 6.8h6.8zM220.8 552.8l-3.4 6.8h6.8zM214.8 554.2l-3.4 6.8h6.8zM246.0 547.1l-3.4 6.8h6.8zM211.7 551.2l-3.4 6.8h6.8zM234.6 552.5l-3.4 6.8h6.8zM208.0 550.7l-3.4 6.8h6.8zM225.6 554.6l-3.4 6.8h6.8zM210.7 551.5l-3.4 6.8h6.8zM211.9 552.2l-3.4 6.8h6.8zM247.6 553.5l-3.4 6.8h6.8zM261.3 553.8l-3.4 6.8h6.8zM212.0 552.7l-3.4 6.8h6.8zM258.2 552.3l-3.4 6.8h6.8zM265.6 551.8l-3.4 6.8h6.8zM247.9 556.1l-3.4 6.8h6.8zM265.1 553.9l-3.4 6.8h6.8zM230.2 555.6l-3.4 6.8h6.8zM223.7 553.9l-3.4 6.8h6.8z" fill="none" stroke="#ff0000" stroke-opacity="0.26" stroke-width="1.0"/>
<g fill="none" stroke="#0000ff" stroke-opacity="0.4"><use href="#st" x="253.9" y="556.1"/><use href="#st" x="211.5" y="555"/><use href="#st" x="227.3" y="549.8"/><use href="#st" x="261.1" y="552"/><use href="#st" x="246.1" y="559.6"/><use href="#st" x="259.6" y="561.6"/><use href="#st" x="258.4" y="561.5"/><use href="#st" x="217.5" y="556.9"/><use href="#st" x="256.7" y="557.2"/><use href="#st" x="255.1" y="552.9"/><use href="#st" x="208.4" y="557.1"/><use href="#st" x="222.2" y="556.3"/><use href="#st" x="236.9" y="552.4"/><use href="#st" x="222.7" y="559.5"/><use href="#st" x="250.1" y="552.1"/><use href="#st" x="217.8" y="552.3"/><use href="#st" x="219.4" y="557"/><use href="#st" x="216" y="609.4"/><use href="#st" x="261.8" y="558.5"/><use href="#st" x="229" y="560.9"/><use href="#st" x="249.9" y="556.4"/><use href="#st" x="235.4" y="550.1"/><use href="#st" x="217.8" y="550.8"/><use href="#st" x="231.9" y="561"/><use href="#st" x="262.8" y="554.3"/><use href="#st" x="268.4" y="555"/><use href="#st" x="280.4" y="632.3"/></g>
<path d="M233.6 555.1l-3.4 6.8h6.8zM239.4 554.0l-3.4 6.8h6.8zM235.9 547.1l-3.4 6.8h6.8zM222.2 558.3l-3.4 6.8h6.8zM244.2 551.1l-3.4 6.8h6.8zM228.2 553.3l-3.4 6.8h6.8zM211.2 551.9l-3.4 6.8h6.8zM252.3 596.3l-3.4 6.8h6.8zM232.3 539.3l-3.4 6.8h6.8zM264.0 550.1l-3.4 6.8h6.8zM226.5 552.8l-3.4 6.8h6.8zM244.3 552.9l-3.4 6.8h6.8zM209.7 554.7l-3.4 6.8h6.8zM222.7 552.4l-3.4 6.8h6.8zM209.4 556.0l-3.4 6.8h6.8zM219.0 549.9l-3.4 6.8h6.8zM229.1 551.2l-3.4 6.8h6.8zM229.0 552.7l-3.4 6.8h6.8zM267.0 553.3l-3.4 6.8h6.8zM248.8 589.2l-3.4 6.8h6.8zM215.8 552.6l-3.4 6.8h6.8zM244.4 551.7l-3.4 6.8h6.8zM248.3 555.4l-3.4 6.8h6.8zM228.3 553.8l-3.4 6.8h6.8zM258.9 553.2l-3.4 6.8h6.8zM214.8 553.9l-3.4 6.8h6.8zM231.3 553.2l-3.4 6.8h6.8zM214.1 555.8l-3.4 6.8h6.8zM245.1 551.5l-3.4 6.8h6.8zM218.3 552.7l-3.4 6.8h6.8zM250.3 552.1l-3.4 6.8h6.8zM266.6 552.2l-3.4 6.8h6.8zM211.6 547.8l-3.4 6.8h6.8zM246.3 552.7l-3.4 6.8h6.8zM236.0 554.9l-3.4 6.8h6.8zM227.5 555.1l-3.4 6.8h6.8zM235.8 557.4l-3.4 6.8h6.8zM269.1 552.7l-3.4 6.8h6.8zM224.9 551.2l-3.4 6.8h6.8zM266.4 553.3l-3.4 6.8h6.8zM250.6 551.0l-3.4 6.8h6.8zM263.8 553.7l-3.4 6.8h6.8zM264.6 552.1l-3.4 6.8h6.8zM255.1 553.8l-3.4 6.8h6.8zM232.5 554.1l-3.4 6.8h6.8zM234.5 552.7l-3.4 6.8h6.8zM239.4 551.2l-3.4 6.8h6.8zM264.1 552.5l-3.4 6.8h6.8zM230.4 554.5l-3.4 6.8h6.8zM227.8 544.3l-3.4 6.8h6.8zM213.6 553.5l-3.4 6.8h6.8zM222.2 513.5l-3.4 6.8h6.8zM226.1 549.9l-3.4 6.8h6.8zM209.6 554.4l-3.4 6.8h6.8zM263.0 551.1l-3.4 6.8h6.8zM248.9 555.5l-3.4 6.8h6.8zM219.1 599.4l-3.4 6.8h6.8zM218.1 550.7l-3.4 6.8h6.8zM216.2 547.1l-3.4 6.8h6.8zM214.7 554.1l-3.4 6.8h6.8zM218.8 552.9l-3.4 6.8h6.8zM215.9 547.5l-3.4 6.8h6.8zM233.6 553.2l-3.4 6.8h6.8zM239.3 552.9l-3.4 6.8h6.8zM229.8 550.6l-3.4 6.8h6.8zM217.9 558.0l-3.4 6.8h6.8zM243.2 553.3l-3.4 6.8h6.8zM241.3 549.3l-3.4 6.8h6.8zM260.7 553.7l-3.4 6.8h6.8zM216.5 552.4l-3.4 6.8h6.8zM219.5 554.1l-3.4 6.8h6.8zM215.7 551.1l-3.4 6.8h6.8zM244.6 552.8l-3.4 6.8h6.8zM229.0 553.2l-3.4 6.8h6.8zM215.6 553.4l-3.4 6.8h6.8zM258.2 554.7l-3.4 6.8h6.8zM226.9 554.6l-3.4 6.8h6.8zM256.8 551.5l-3.4 6.8h6.8zM224.2 551.1l-3.4 6.8h6.8zM231.3 552.5l-3.4 6.8h6.8zM214.9 552.1l-3.4 6.8h6.8zM264.3 553.6l-3.4 6.8h6.8zM245.1 553.9l-3.4 6.8h6.8zM258.3 555.0l-3.4 6.8h6.8zM229.6 548.3l-3.4 6.8h6.8zM228.4 552.7l-3.4 6.8h6.8zM225.2 552.8l-3.4 6.8h6.8zM226.1 553.4l-3.4 6.8h6.8zM232.8 554.6l-3.4 6.8h6.8zM224.2 552.0l-3.4 6.8h6.8zM217.3 554.4l-3.4 6.8h6.8zM268.7 553.8l-3.4 6.8h6.8zM249.2 553.3l-3.4 6.8h6.8zM207.8 551.4l-3.4 6.8h6.8zM239.1 551.6l-3.4 6.8h6.8zM219.3 537.6l-3.4 6.8h6.8zM210.9 554.1l-3.4 6.8h6.8zM238.3 553.7l-3.4 6.8h6.8zM220.5 550.6l-3.4 6.8h6.8zM255.8 551.7l-3.4 6.8h6.8zM254.0 552.2l-3.4 6.8h6.8zM222.1 556.4l-3.4 6.8h6.8zM258.1 553.1l-3.4 6.8h6.8zM242.3 552.6l-3.4 6.8h6.8zM248.9 550.8l-3.4 6.8h6.8z" fill="none" stroke="#ff0000" stroke-opacity="0.26" stroke-width="1.0"/>
<g fill="none" stroke="#0000ff" stroke-opacity="0.4"><use href="#st" x="218.1" y="558.7"/><use href="#st" x="218.5" y="556.2"/><use href="#st" x="262.9" y="556.9"/><use href="#st" x="225" y="558.5"/><use href="#st" x="234.1" y="555.1"/><use href="#st" x="219.4" y="553.4"/><use href="#st" x="241.9" y="538.7"/><use href="#st" x="246.9" y="557.9"/><use href="#st" x="254.8" y="552.8"/><use href="#st" x="233.7" y="559"/><use href="#st" x="236.6" y="554.9"/><use href="#st" x="254.3" y="559.4"/><use href="#st" x="224.8" y="553.3"/><use href="#st" x="229.6" y="568.7"/><use href="#st" x="227.9" y="553.8"/><use href="#st" x="265.7" y="557.2"/><use href="#st" x="245.6" y="561.5"/><use href="#st" x="246.7" y="552.1"/><use href="#st" x="229.8" y="558.7"/><use href="#st" x="237.3" y="557"/><use href="#st" x="246.3" y="555.1"/><use href="#st" x="216.3" y="549.6"/><use href="#st" x="232.1" y="553.6"/><use href="#st" x="208.6" y="551.3"/><use href="#st" x="262.1" y="550.3"/><use href="#st" x="260" y="556.1"/><use href="#st" x="213.8" y="559.9"/></g>
<path d="M232.6 552.1l-3.4 6.8h6.8zM224.5 553.6l-3.4 6.8h6.8zM234.4 554.5l-3.4 6.8h6.8zM246.6 553.8l-3.4 6.8h6.8zM225.5 553.0l-3.4 6.8h6.8zM237.6 551.9l-3.4 6.8h6.8zM216.9 553.0l-3.4 6.8h6.8zM233.9 551.7l-3.4 6.8h6.8zM239.4 553.3l-3.4 6.8h6.8zM255.2 553.5l-3.4 6.8h6.8zM251.3 556.4l-3.4 6.8h6.8zM216.7 555.5l-3.4 6.8h6.8zM209.4 550.2l-3.4 6.8h6.8zM262.3 552.8l-3.4 6.8h6.8zM220.9 558.5l-3.4 6.8h6.8zM244.9 553.6l-3.4 6.8h6.8zM221.3 556.4l-3.4 6.8h6.8zM231.6 554.7l-3.4 6.8h6.8zM239.1 551.1l-3.4 6.8h6.8zM214.8 554.0l-3.4 6.8h6.8zM268.4 552.1l-3.4 6.8h6.8zM232.2 553.5l-3.4 6.8h6.8zM268.6 552.5l-3.4 6.8h6.8zM222.1 551.9l-3.4 6.8h6.8zM210.0 552.5l-3.4 6.8h6.8zM241.7 551.7l-3.4 6.8h6.8zM237.6 554.2l-3.4 6.8h6.8zM236.2 554.3l-3.4 6.8h6.8zM260.0 554.4l-3.4 6.8h6.8zM209.2 553.3l-3.4 6.8h6.8zM218.9 552.8l-3.4 6.8h6.8zM254.3 554.1l-3.4 6.8h6.8zM231.1 554.6l-3.4 6.8h6.8zM259.8 552.9l-3.4 6.8h6.8zM217.8 556.1l-3.4 6.8h6.8zM238.8 554.0l-3.4 6.8h6.8zM249.6 557.0l-3.4 6.8h6.8zM242.5 556.4l-3.4 6.8h6.8zM222.4 556.9l-3.4 6.8h6.8zM251.4 553.0l-3.4 6.8h6.8zM230.1 553.9l-3.4 6.8h6.8zM265.2 555.0l-3.4 6.8h6.8zM238.9 551.8l-3.4 6.8h6.8zM245.5 554.9l-3.4 6.8h6.8zM223.4 554.2l-3.4 6.8h6.8zM256.5 569.3l-3.4 6.8h6.8zM251.1 554.1l-3.4 6.8h6.8zM273.1 549.8l-3.4 6.8h6.8zM213.1 553.8l-3.4 6.8h6.8zM238.2 553.7l-3.4 6.8h6.8zM215.2 553.8l-3.4 6.8h6.8zM213.6 552.8l-3.4 6.8h6.8zM265.9 554.3l-3.4 6.8h6.8zM237.2 555.3l-3.4 6.8h6.8zM255.2 551.9l-3.4 6.8h6.8zM237.6 554.0l-3.4 6.8h6.8zM229.3 552.2l-3.4 6.8h6.8zM228.5 551.7l-3.4 6.8h6.8zM208.7 557.6l-3.4 6.8h6.8zM247.1 591.1l-3.4 6.8h6.8zM208.5 559.1l-3.4 6.8h6.8zM242.6 553.9l-3.4 6.8h6.8zM220.7 551.2l-3.4 6.8h6.8zM253.5 554.0l-3.4 6.8h6.8zM238.1 548.4l-3.4 6.8h6.8zM237.5 552.3l-3.4 6.8h6.8zM217.1 553.1l-3.4 6.8h6.8zM216.2 550.1l-3.4 6.8h6.8zM241.1 553.0l-3.4 6.8h6.8zM208.0 556.2l-3.4 6.8h6.8zM243.8 552.8l-3.4 6.8h6.8zM209.3 551.5l-3.4 6.8h6.8zM226.2 555.9l-3.4 6.8h6.8zM211.2 555.2l-3.4 6.8h6.8zM241.0 552.1l-3.4 6.8h6.8zM267.2 553.5l-3.4 6.8h6.8zM240.7 553.2l-3.4 6.8h6.8zM216.9 553.3l-3.4 6.8h6.8zM208.6 549.1l-3.4 6.8h6.8zM247.5 551.7l-3.4 6.8h6.8zM253.3 555.3l-3.4 6.8h6.8zM222.9 551.2l-3.4 6.8h6.8zM251.3 556.9l-3.4 6.8h6.8zM231.0 554.5l-3.4 6.8h6.8zM243.3 553.0l-3.4 6.8h6.8zM227.4 590.0l-3.4 6.8h6.8zM212.4 554.3l-3.4 6.8h6.8zM257.1 551.3l-3.4 6.8h6.8zM220.5 554.3l-3.4 6.8h6.8zM249.3 556.3l-3.4 6.8h6.8zM221.4 551.8l-3.4 6.8h6.8zM216.7 554.9l-3.4 6.8h6.8zM218.1 555.8l-3.4 6.8h6.8zM224.2 548.8l-3.4 6.8h6.8zM230.8 551.9l-3.4 6.8h6.8zM247.3 551.3l-3.4 6.8h6.8zM232.0 541.7l-3.4 6.8h6.8zM241.9 603.6l-3.4 6.8h6.8zM260.0 553.7l-3.4 6.8h6.8zM211.7 565.6l-3.4 6.8h6.8zM249.8 551.3l-3.4 6.8h6.8zM262.0 551.9l-3.4 6.8h6.8zM219.7 554.8l-3.4 6.8h6.8zM268.6 554.3l-3.4 6.8h6.8zM264.7 552.7l-3.4 6.8h6.8z" fill="none" stroke="#ff0000" stroke-opacity="0.26" stroke-width="1.0"/>
<g fill="none" stroke="#0000ff" stroke-opacity="0.4"><use href="#st" x="229.9" y="563.6"/><use href="#st" x="249.7" y="556.7"/><use href="#st" x="249.6" y="557.6"/><use href="#st" x="216" y="622.5"/><use href="#st" x="256.3" y="557.3"/><use href="#st" x="244.1" y="560.3"/><use href="#st" x="246.6" y="560.8"/><use href="#st" x="257.9" y="557.3"/><use href="#st" x="250.5" y="552.7"/><use href="#st" x="218.1" y="562.2"/><use href="#st" x="249" y="553"/><use href="#st" x="244.2" y="557.6"/><use href="#st" x="227.1" y="558.6"/><use href="#st" x="213.9" y="551.2"/><use href="#st" x="256" y="552.7"/><use href="#st" x="220.2" y="555.4"/><use href="#st" x="253.8" y="560.6"/><use href="#st" x="247.1" y="559.7"/><use href="#st" x="240.7" y="551.6"/><use href="#st" x="216.2" y="557.3"/><use href="#st" x="223.7" y="556.6"/><use href="#st" x="234.2" y="554.6"/><use href="#st" x="215.4" y="561.6"/><use href="#st" x="257.2" y="558.5"/><use href="#st" x="266.1" y="557.2"/><use href="#st" x="236.2" y="558.2"/></g>
<path d="M244.4 559.7l-3.4 6.8h6.8zM258.9 553.0l-3.4 6.8h6.8zM241.7 551.3l-3.4 6.8h6.8zM219.9 551.2l-3.4 6.8h6.8zM265.4 553.2l-3.4 6.8h6.8zM253.5 552.2l-3.4 6.8h6.8zM223.7 554.8l-3.4 6.8h6.8zM220.1 501.0l-3.4 6.8h6.8zM233.1 553.7l-3.4 6.8h6.8zM222.1 551.3l-3.4 6.8h6.8zM237.8 591.1l-3.4 6.8h6.8zM224.7 551.8l-3.4 6.8h6.8zM254.3 555.7l-3.4 6.8h6.8zM242.6 553.4l-3.4 6.8h6.8zM218.3 551.1l-3.4 6.8h6.8zM232.4 553.9l-3.4 6.8h6.8zM266.2 555.0l-3.4 6.8h6.8zM235.7 553.8l-3.4 6.8h6.8zM236.3 554.1l-3.4 6.8h6.8zM251.7 554.5l-3.4 6.8h6.8zM250.0 552.7l-3.4 6.8h6.8zM213.3 553.4l-3.4 6.8h6.8zM239.5 549.8l-3.4 6.8h6.8zM241.0 549.9l-3.4 6.8h6.8zM215.8 558.6l-3.4 6.8h6.8zM218.3 552.8l-3.4 6.8h6.8zM254.6 555.0l-3.4 6.8h6.8zM254.3 552.9l-3.4 6.8h6.8zM230.6 555.5l-3.4 6.8h6.8zM217.6 551.6l-3.4 6.8h6.8zM252.2 563.0l-3.4 6.8h6.8zM246.9 552.3l-3.4 6.8h6.8zM219.2 548.2l-3.4 6.8h6.8zM228.6 549.8l-3.4 6.8h6.8zM252.8 554.5l-3.4 6.8h6.8zM244.7 551.4l-3.4 6.8h6.8zM207.8 550.1l-3.4 6.8h6.8zM216.2 551.3l-3.4 6.8h6.8zM208.1 555.5l-3.4 6.8h6.8zM217.0 554.1l-3.4 6.8h6.8zM208.3 556.0l-3.4 6.8h6.8zM210.8 554.2l-3.4 6.8h6.8zM245.9 551.9l-3.4 6.8h6.8zM238.1 553.7l-3.4 6.8h6.8zM239.9 595.2l-3.4 6.8h6.8zM224.9 555.7l-3.4 6.8h6.8zM219.5 553.2l-3.4 6.8h6.8zM231.7 550.4l-3.4 6.8h6.8zM246.7 550.4l-3.4 6.8h6.8zM212.1 551.0l-3.4 6.8h6.8zM264.3 553.0l-3.4 6.8h6.8zM266.0 554.1l-3.4 6.8h6.8zM255.6 554.6l-3.4 6.8h6.8zM216.7 553.0l-3.4 6.8h6.8zM246.2 553.6l-3.4 6.8h6.8zM215.8 551.0l-3.4 6.8h6.8zM235.8 553.7l-3.4 6.8h6.8zM265.9 552.9l-3.4 6.8h6.8zM252.4 555.3l-3.4 6.8h6.8zM255.6 553.8l-3.4 6.8h6.8zM228.5 552.5l-3.4 6.8h6.8zM240.4 552.8l-3.4 6.8h6.8zM214.9 590.0l-3.4 6.8h6.8zM213.5 553.6l-3.4 6.8h6.8zM248.7 555.1l-3.4 6.8h6.8zM215.5 553.4l-3.4 6.8h6.8zM208.1 556.9l-3.4 6.8h6.8zM226.0 556.7l-3.4 6.8h6.8zM212.4 554.0l-3.4 6.8h6.8zM236.2 553.4l-3.4 6.8h6.8zM224.0 550.1l-3.4 6.8h6.8zM222.8 553.0l-3.4 6.8h6.8zM265.1 554.8l-3.4 6.8h6.8zM220.8 551.9l-3.4 6.8h6.8zM232.5 553.5l-3.4 6.8h6.8zM234.7 534.3l-3.4 6.8h6.8zM210.4 554.1l-3.4 6.8h6.8zM257.8 553.7l-3.4 6.8h6.8zM233.9 556.1l-3.4 6.8h6.8zM217.0 571.0l-3.4 6.8h6.8zM260.0 553.2l-3.4 6.8h6.8zM265.0 554.8l-3.4 6.8h6.8zM232.7 554.8l-3.4 6.8h6.8zM251.0 554.0l-3.4 6.8h6.8zM233.8 554.2l-3.4 6.8h6.8zM268.5 553.6l-3.4 6.8h6.8zM263.4 553.6l-3.4 6.8h6.8zM219.6 549.7l-3.4 6.8h6.8zM230.5 556.0l-3.4 6.8h6.8zM267.6 553.2l-3.4 6.8h6.8zM268.5 552.6l-3.4 6.8h6.8zM248.8 553.4l-3.4 6.8h6.8zM246.7 550.8l-3.4 6.8h6.8zM268.6 551.8l-3.4 6.8h6.8zM213.9 511.8l-3.4 6.8h6.8zM251.4 551.0l-3.4 6.8h6.8zM247.1 538.4l-3.4 6.8h6.8zM211.2 553.8l-3.4 6.8h6.8zM211.8 533.7l-3.4 6.8h6.8zM216.8 551.9l-3.4 6.8h6.8zM238.4 553.3l-3.4 6.8h6.8zM253.3 551.2l-3.4 6.8h6.8zM249.2 568.2l-3.4 6.8h6.8zM221.0 544.1l-3.4 6.8h6.8zM251.1 554.8l-3.4 6.8h6.8z" fill="none" stroke="#ff0000" stroke-opacity="0.26" stroke-width="1.0"/>
<g fill="none" stroke="#0000ff" stroke-opacity="0.4"><use href="#st" x="245.9" y="560.4"/><use href="#st" x="237.8" y="562.4"/><use href="#st" x="245.6" y="551.8"/><use href="#st" x="221.5" y="555.2"/><use href="#st" x="264.8" y="555.9"/><use href="#st" x="241.8" y="551.6"/><use href="#st" x="211.5" y="563"/><use href="#st" x="220.4" y="552.9"/><use href="#st" x="245.1" y="557.6"/><use href="#st" x="208.7" y="553.9"/><use href="#st" x="228.8" y="557.6"/><use href="#st" x="217.5" y="551.6"/><use href="#st" x="245.7" y="552"/><use href="#st" x="223.5" y="556.9"/><use href="#st" x="211.3" y="549.1"/><use href="#st" x="227" y="559.5"/><use href="#st" x="239.4" y="555.8"/><use href="#st" x="223.9" y="553.8"/><use href="#st" x="211.9" y="555.3"/><use href="#st" x="227" y="553.7"/><use href="#st" x="247.2" y="554.5"/><use href="#st" x="252.3" y="543.9"/><use href="#st" x="235.6" y="555"/><use href="#st" x="243.7" y="553.8"/><use href="#st" x="221.3" y="554.3"/><use href="#st" x="221.4" y="555.6"/></g>
<path d="M246.1 553.5l-3.4 6.8h6.8zM270.0 553.6l-3.4 6.8h6.8zM237.9 553.4l-3.4 6.8h6.8zM268.3 555.6l-3.4 6.8h6.8zM234.1 550.4l-3.4 6.8h6.8zM224.9 553.2l-3.4 6.8h6.8zM218.5 553.1l-3.4 6.8h6.8zM244.7 553.3l-3.4 6.8h6.8zM241.2 552.7l-3.4 6.8h6.8zM225.1 551.0l-3.4 6.8h6.8zM219.5 548.9l-3.4 6.8h6.8zM241.9 555.9l-3.4 6.8h6.8zM251.7 554.1l-3.4 6.8h6.8zM209.1 556.1l-3.4 6.8h6.8zM225.4 553.7l-3.4 6.8h6.8zM235.1 551.8l-3.4 6.8h6.8zM269.5 552.2l-3.4 6.8h6.8zM216.4 553.3l-3.4 6.8h6.8zM222.6 552.1l-3.4 6.8h6.8zM247.6 553.1l-3.4 6.8h6.8zM250.9 552.9l-3.4 6.8h6.8zM221.9 554.7l-3.4 6.8h6.8zM209.8 552.2l-3.4 6.8h6.8zM208.3 545.2l-3.4 6.8h6.8zM210.7 552.7l-3.4 6.8h6.8zM228.9 553.1l-3.4 6.8h6.8zM209.6 555.7l-3.4 6.8h6.8zM268.9 552.9l-3.4 6.8h6.8zM221.1 555.8l-3.4 6.8h6.8zM216.9 567.6l-3.4 6.8h6.8zM250.4 554.0l-3.4 6.8h6.8zM212.4 555.8l-3.4 6.8h6.8zM210.2 552.2l-3.4 6.8h6.8zM258.4 554.3l-3.4 6.8h6.8zM215.9 551.9l-3.4 6.8h6.8zM240.4 552.9l-3.4 6.8h6.8zM258.9 554.9l-3.4 6.8h6.8zM229.9 551.9l-3.4 6.8h6.8zM236.0 554.8l-3.4 6.8h6.8zM215.5 550.4l-3.4 6.8h6.8zM245.3 553.5l-3.4 6.8h6.8zM262.8 554.3l-3.4 6.8h6.8zM218.0 556.5l-3.4 6.8h6.8zM247.4 552.6l-3.4 6.8h6.8zM225.7 561.6l-3.4 6.8h6.8zM213.3 555.7l-3.4 6.8h6.8zM220.1 555.5l-3.4 6.8h6.8zM230.9 553.3l-3.4 6.8h6.8zM249.7 559.2l-3.4 6.8h6.8zM237.3 554.3l-3.4 6.8h6.8zM225.6 553.2l-3.4 6.8h6.8zM215.2 550.8l-3.4 6.8h6.8zM224.3 554.6l-3.4 6.8h6.8zM218.4 554.0l-3.4 6.8h6.8zM222.7 550.9l-3.4 6.8h6.8zM224.2 550.8l-3.4 6.8h6.8zM210.8 553.8l-3.4 6.8h6.8zM213.1 554.0l-3.4 6.8h6.8zM208.7 556.2l-3.4 6.8h6.8zM236.8 553.2l-3.4 6.8h6.8zM232.5 552.7l-3.4 6.8h6.8zM228.2 552.1l-3.4 6.8h6.8zM213.2 551.7l-3.4 6.8h6.8zM220.0 561.0l-3.4 6.8h6.8zM209.9 557.9l-3.4 6.8h6.8zM233.4 554.6l-3.4 6.8h6.8zM222.2 553.0l-3.4 6.8h6.8zM232.2 555.6l-3.4 6.8h6.8zM256.9 552.8l-3.4 6.8h6.8zM259.5 553.0l-3.4 6.8h6.8zM246.6 553.4l-3.4 6.8h6.8zM216.2 555.5l-3.4 6.8h6.8zM250.3 542.1l-3.4 6.8h6.8zM223.3 553.6l-3.4 6.8h6.8zM217.8 555.2l-3.4 6.8h6.8zM217.1 553.5l-3.4 6.8h6.8zM215.1 560.7l-3.4 6.8h6.8zM215.5 556.4l-3.4 6.8h6.8zM264.2 554.2l-3.4 6.8h6.8zM216.0 519.3l-3.4 6.8h6.8zM255.0 553.6l-3.4 6.8h6.8zM260.5 553.3l-3.4 6.8h6.8zM246.0 552.7l-3.4 6.8h6.8zM228.5 557.7l-3.4 6.8h6.8zM214.4 555.0l-3.4 6.8h6.8zM210.9 551.6l-3.4 6.8h6.8zM238.0 551.2l-3.4 6.8h6.8zM229.6 552.8l-3.4 6.8h6.8zM239.1 551.5l-3.4 6.8h6.8zM276.2 563.0l-3.4 6.8h6.8zM215.7 554.8l-3.4 6.8h6.8zM219.0 556.9l-3.4 6.8h6.8zM251.6 551.8l-3.4 6.8h6.8zM217.6 553.1l-3.4 6.8h6.8zM239.9 553.4l-3.4 6.8h6.8zM229.4 556.5l-3.4 6.8h6.8zM212.8 552.5l-3.4 6.8h6.8zM226.7 552.6l-3.4 6.8h6.8zM220.4 553.4l-3.4 6.8h6.8zM246.1 585.9l-3.4 6.8h6.8zM226.9 555.0l-3.4 6.8h6.8zM237.7 566.2l-3.4 6.8h6.8zM215.4 557.3l-3.4 6.8h6.8zM222.9 551.5l-3.4 6.8h6.8z" fill="none" stroke="#ff0000" stroke-opacity="0.26" stroke-width="1.0"/>
<g fill="none" stroke="#0000ff" stroke-opacity="0.4"><use href="#st" x="254.1" y="557.1"/><use href="#st" x="258.3" y="560.8"/><use href="#st" x="232.5" y="561.8"/><use href="#st" x="252.8" y="556.2"/><use href="#st" x="258" y="553.7"/><use href="#st" x="258.5" y="629.8"/><use href="#st" x="231" y="564.9"/><use href="#st" x="227.9" y="550.2"/><use href="#st" x="265.3" y="556.3"/><use href="#st" x="239.9" y="553.6"/><use href="#st" x="219.1" y="552.2"/><use href="#st" x="261" y="558.3"/><use href="#st" x="246.4" y="555.1"/><use href="#st" x="236.1" y="555.1"/><use href="#st" x="223.7" y="555.9"/><use href="#st" x="232.7" y="553.1"/><use href="#st" x="247.2" y="560.5"/><use href="#st" x="216.2" y="549"/><use href="#st" x="265.9" y="553"/><use href="#st" x="223.9" y="566"/><use href="#st" x="230.3" y="553"/><use href="#st" x="212.7" y="550"/><use href="#st" x="259.8" y="551.8"/><use href="#st" x="258.1" y="562"/><use href="#st" x="234.7" y="575.8"/><use href="#st" x="222.1" y="547.8"/></g>
<path d="M248.5 552.8l-3.4 6.8h6.8zM269.6 553.6l-3.4 6.8h6.8zM215.1 552.0l-3.4 6.8h6.8zM218.1 551.5l-3.4 6.8h6.8zM234.2 551.9l-3.4 6.8h6.8zM216.8 552.0l-3.4 6.8h6.8zM259.0 554.4l-3.4 6.8h6.8zM229.1 553.3l-3.4 6.8h6.8zM207.7 552.7l-3.4 6.8h6.8zM258.3 553.0l-3.4 6.8h6.8zM220.1 552.9l-3.4 6.8h6.8zM233.8 553.9l-3.4 6.8h6.8zM236.9 555.5l-3.4 6.8h6.8zM225.3 518.6l-3.4 6.8h6.8zM254.5 555.1l-3.4 6.8h6.8zM253.8 551.9l-3.4 6.8h6.8zM268.2 554.3l-3.4 6.8h6.8zM236.5 556.8l-3.4 6.8h6.8zM246.5 554.2l-3.4 6.8h6.8zM229.5 553.1l-3.4 6.8h6.8zM214.2 554.5l-3.4 6.8h6.8zM213.2 554.1l-3.4 6.8h6.8zM226.4 554.5l-3.4 6.8h6.8zM268.6 552.8l-3.4 6.8h6.8zM224.6 551.6l-3.4 6.8h6.8zM218.1 553.5l-3.4 6.8h6.8zM254.8 554.1l-3.4 6.8h6.8zM264.1 553.6l-3.4 6.8h6.8zM209.8 553.8l-3.4 6.8h6.8zM242.7 554.9l-3.4 6.8h6.8zM261.5 551.9l-3.4 6.8h6.8zM238.0 557.3l-3.4 6.8h6.8zM255.6 552.5l-3.4 6.8h6.8zM239.8 554.6l-3.4 6.8h6.8zM215.3 556.8l-3.4 6.8h6.8zM256.0 551.8l-3.4 6.8h6.8zM227.9 554.5l-3.4 6.8h6.8zM221.6 554.1l-3.4 6.8h6.8zM251.5 553.4l-3.4 6.8h6.8zM219.3 552.9l-3.4 6.8h6.8zM256.4 554.3l-3.4 6.8h6.8zM269.3 551.1l-3.4 6.8h6.8zM208.5 552.0l-3.4 6.8h6.8zM224.6 551.4l-3.4 6.8h6.8zM249.1 548.6l-3.4 6.8h6.8zM214.2 554.2l-3.4 6.8h6.8zM235.8 552.2l-3.4 6.8h6.8zM239.3 552.2l-3.4 6.8h6.8zM218.9 554.3l-3.4 6.8h6.8zM247.4 553.7l-3.4 6.8h6.8zM231.7 542.8l-3.4 6.8h6.8zM268.3 553.1l-3.4 6.8h6.8zM214.1 553.3l-3.4 6.8h6.8zM245.6 556.1l-3.4 6.8h6.8zM214.9 560.2l-3.4 6.8h6.8zM209.2 550.8l-3.4 6.8h6.8zM217.2 555.3l-3.4 6.8h6.8zM251.2 550.8l-3.4 6.8h6.8zM226.0 536.6l-3.4 6.8h6.8zM210.3 552.2l-3.4 6.8h6.8zM242.3 547.3l-3.4 6.8h6.8zM244.1 551.4l-3.4 6.8h6.8zM227.0 554.8l-3.4 6.8h6.8zM211.8 556.1l-3.4 6.8h6.8zM255.2 551.1l-3.4 6.8h6.8zM223.4 552.7l-3.4 6.8h6.8zM213.1 549.3l-3.4 6.8h6.8zM209.6 550.1l-3.4 6.8h6.8zM269.6 553.6l-3.4 6.8h6.8zM236.2 552.4l-3.4 6.8h6.8zM227.3 549.6l-3.4 6.8h6.8zM233.5 551.9l-3.4 6.8h6.8zM258.5 551.3l-3.4 6.8h6.8zM233.3 554.8l-3.4 6.8h6.8zM254.8 553.8l-3.4 6.8h6.8zM256.5 552.0l-3.4 6.8h6.8zM219.0 552.2l-3.4 6.8h6.8zM225.1 554.1l-3.4 6.8h6.8zM221.1 552.4l-3.4 6.8h6.8zM255.9 552.4l-3.4 6.8h6.8zM248.2 554.9l-3.4 6.8h6.8zM224.3 550.6l-3.4 6.8h6.8zM227.2 554.6l-3.4 6.8h6.8zM233.3 550.4l-3.4 6.8h6.8zM214.9 528.0l-3.4 6.8h6.8zM210.1 554.5l-3.4 6.8h6.8zM240.7 555.0l-3.4 6.8h6.8zM221.9 552.6l-3.4 6.8h6.8zM213.7 554.7l-3.4 6.8h6.8zM225.8 553.8l-3.4 6.8h6.8zM226.6 553.2l-3.4 6.8h6.8zM207.7 556.1l-3.4 6.8h6.8zM210.0 553.3l-3.4 6.8h6.8zM234.0 555.4l-3.4 6.8h6.8zM236.9 555.2l-3.4 6.8h6.8zM213.9 549.6l-3.4 6.8h6.8zM219.2 556.4l-3.4 6.8h6.8zM221.1 551.0l-3.4 6.8h6.8zM220.0 551.0l-3.4 6.8h6.8zM219.2 555.8l-3.4 6.8h6.8zM226.0 552.5l-3.4 6.8h6.8zM231.3 556.3l-3.4 6.8h6.8zM247.6 557.9l-3.4 6.8h6.8zM210.3 555.7l-3.4 6.8h6.8z" fill="none" stroke="#ff0000" stroke-opacity="0.26" stroke-width="1.0"/>
<g fill="none" stroke="#0000ff" stroke-opacity="0.4"><use href="#st" x="213.6" y="552.9"/><use href="#st" x="255.9" y="556.2"/><use href="#st" x="225.7" y="588.2"/><use href="#st" x="210.7" y="554.7"/><use href="#st" x="242.4" y="562.1"/><use href="#st" x="258.3" y="554.7"/><use href="#st" x="255.6" y="557.1"/><use href="#st" x="218.2" y="558.3"/><use href="#st" x="244.1" y="558.9"/><use href="#st" x="223.2" y="554.3"/><use href="#st" x="233.5" y="557.5"/><use href="#st" x="229.8" y="557"/><use href="#st" x="229.9" y="554.2"/><use href="#st" x="219.4" y="559.4"/><use href="#st" x="242.5" y="563.9"/><use href="#st" x="256.9" y="551.7"/><use href="#st" x="229.6" y="554.6"/><use href="#st" x="249.4" y="558.6"/><use href="#st" x="214.1" y="562.7"/><use href="#st" x="246.8" y="558.9"/><use href="#st" x="263.3" y="548.4"/><use href="#st" x="247.8" y="553.6"/><use href="#st" x="214.3" y="547.2"/><use href="#st" x="239.4" y="551.8"/><use href="#st" x="213.1" y="554"/><use href="#st" x="251.1" y="558.9"/></g>
<path d="M217.3 556.0l-3.4 6.8h6.8zM262.9 551.8l-3.4 6.8h6.8zM210.1 548.6l-3.4 6.8h6.8zM226.7 550.8l-3.4 6.8h6.8zM240.5 551.1l-3.4 6.8h6.8zM229.1 558.9l-3.4 6.8h6.8zM230.6 555.4l-3.4 6.8h6.8zM226.0 548.2l-3.4 6.8h6.8zM266.7 551.9l-3.4 6.8h6.8zM227.1 552.8l-3.4 6.8h6.8zM255.8 554.1l-3.4 6.8h6.8zM242.6 553.2l-3.4 6.8h6.8zM217.2 556.9l-3.4 6.8h6.8zM255.3 554.2l-3.4 6.8h6.8zM229.6 554.7l-3.4 6.8h6.8zM263.7 553.1l-3.4 6.8h6.8zM208.4 554.9l-3.4 6.8h6.8zM223.8 554.9l-3.4 6.8h6.8zM232.8 552.8l-3.4 6.8h6.8zM220.5 553.0l-3.4 6.8h6.8zM221.3 553.5l-3.4 6.8h6.8zM259.6 553.9l-3.4 6.8h6.8zM249.9 554.8l-3.4 6.8h6.8zM217.6 547.5l-3.4 6.8h6.8zM219.2 556.2l-3.4 6.8h6.8zM232.5 550.8l-3.4 6.8h6.8zM243.6 554.6l-3.4 6.8h6.8zM215.3 552.4l-3.4 6.8h6.8zM216.8 552.9l-3.4 6.8h6.8zM243.8 549.9l-3.4 6.8h6.8zM208.7 550.7l-3.4 6.8h6.8zM231.5 532.6l-3.4 6.8h6.8zM263.2 553.6l-3.4 6.8h6.8zM253.9 554.3l-3.4 6.8h6.8zM234.4 549.0l-3.4 6.8h6.8zM268.8 553.2l-3.4 6.8h6.8zM209.7 495.8l-3.4 6.8h6.8zM226.8 551.0l-3.4 6.8h6.8zM210.7 548.3l-3.4 6.8h6.8zM215.0 547.0l-3.4 6.8h6.8zM213.9 621.2l-3.4 6.8h6.8zM246.9 554.1l-3.4 6.8h6.8zM236.1 556.1l-3.4 6.8h6.8zM213.8 553.9l-3.4 6.8h6.8zM208.7 575.5l-3.4 6.8h6.8zM256.9 562.4l-3.4 6.8h6.8zM213.6 553.9l-3.4 6.8h6.8zM223.7 555.6l-3.4 6.8h6.8zM258.4 552.2l-3.4 6.8h6.8zM210.0 555.9l-3.4 6.8h6.8zM234.4 553.3l-3.4 6.8h6.8zM222.7 550.5l-3.4 6.8h6.8zM230.4 551.9l-3.4 6.8h6.8zM256.1 553.6l-3.4 6.8h6.8zM210.2 555.2l-3.4 6.8h6.8zM214.1 550.5l-3.4 6.8h6.8zM232.2 551.1l-3.4 6.8h6.8zM235.4 550.2l-3.4 6.8h6.8zM237.9 529.0l-3.4 6.8h6.8zM217.8 552.1l-3.4 6.8h6.8zM220.2 551.6l-3.4 6.8h6.8zM234.9 552.5l-3.4 6.8h6.8zM227.8 561.3l-3.4 6.8h6.8zM244.9 542.1l-3.4 6.8h6.8zM209.3 551.0l-3.4 6.8h6.8zM218.0 590.0l-3.4 6.8h6.8zM218.3 554.3l-3.4 6.8h6.8zM224.9 552.5l-3.4 6.8h6.8zM218.4 555.0l-3.4 6.8h6.8zM210.9 554.7l-3.4 6.8h6.8zM220.2 554.2l-3.4 6.8h6.8zM208.4 549.6l-3.4 6.8h6.8zM235.9 548.4l-3.4 6.8h6.8zM268.1 553.6l-3.4 6.8h6.8zM258.6 553.3l-3.4 6.8h6.8zM227.8 555.4l-3.4 6.8h6.8zM221.1 552.7l-3.4 6.8h6.8zM210.5 553.9l-3.4 6.8h6.8zM233.6 554.8l-3.4 6.8h6.8zM248.6 554.5l-3.4 6.8h6.8zM236.5 551.7l-3.4 6.8h6.8zM260.6 553.7l-3.4 6.8h6.8zM251.3 601.5l-3.4 6.8h6.8zM243.7 554.3l-3.4 6.8h6.8zM255.1 555.3l-3.4 6.8h6.8zM213.6 549.9l-3.4 6.8h6.8zM263.2 552.8l-3.4 6.8h6.8zM227.4 519.3l-3.4 6.8h6.8zM268.0 552.9l-3.4 6.8h6.8zM250.0 551.2l-3.4 6.8h6.8zM236.1 553.2l-3.4 6.8h6.8zM232.9 552.2l-3.4 6.8h6.8zM216.3 555.4l-3.4 6.8h6.8zM237.7 550.6l-3.4 6.8h6.8zM232.4 551.9l-3.4 6.8h6.8zM246.3 553.2l-3.4 6.8h6.8zM215.7 552.8l-3.4 6.8h6.8zM251.6 552.8l-3.4 6.8h6.8zM230.8 549.6l-3.4 6.8h6.8zM268.5 553.6l-3.4 6.8h6.8zM224.1 551.7l-3.4 6.8h6.8zM258.2 555.2l-3.4 6.8h6.8zM211.1 546.8l-3.4 6.8h6.8zM251.7 554.4l-3.4 6.8h6.8z" fill="none" stroke="#ff0000" stroke-opacity="0.26" stroke-width="1.0"/>
<g fill="none" stroke="#0000ff" stroke-opacity="0.4"><use href="#st" x="234.7" y="556.5"/><use href="#st" x="259.9" y="556.6"/><use href="#st" x="260.4" y="550.8"/><use href="#st" x="254.4" y="553.3"/><use href="#st" x="231.9" y="552.2"/><use href="#st" x="243.2" y="563.1"/><use href="#st" x="255.4" y="546.9"/><use href="#st" x="266.4" y="553.5"/><use href="#st" x="219" y="556.2"/><use href="#st" x="245.3" y="556.4"/><use href="#st" x="252" y="558.4"/><use href="#st" x="212.2" y="554.1"/><use href="#st" x="239.6" y="551.1"/><use href="#st" x="254.4" y="549.4"/><use href="#st" x="225.2" y="560.4"/><use href="#st" x="250" y="556.6"/><use href="#st" x="242.5" y="561.8"/><use href="#st" x="256.6" y="556.4"/><use href="#st" x="220.4" y="560.7"/><use href="#st" x="251.9" y="558.8"/><use href="#st" x="268.2" y="555.8"/><use href="#st" x="240.8" y="557.5"/><use href="#st" x="232.3" y="557.1"/><use href="#st" x="244.6" y="560"/><use href="#st" x="229.8" y="553.3"/><use href="#st" x="228.7" y="556.8"/></g>
<path d="M247.0 553.3l-3.4 6.8h6.8zM258.4 551.1l-3.4 6.8h6.8zM234.3 555.2l-3.4 6.8h6.8zM208.9 556.5l-3.4 6.8h6.8zM226.7 555.0l-3.4 6.8h6.8zM257.6 553.1l-3.4 6.8h6.8zM209.4 560.2l-3.4 6.8h6.8zM245.0 608.7l-3.4 6.8h6.8zM261.1 554.0l-3.4 6.8h6.8zM219.5 551.3l-3.4 6.8h6.8zM245.1 544.7l-3.4 6.8h6.8zM244.8 553.0l-3.4 6.8h6.8zM227.2 553.4l-3.4 6.8h6.8zM216.2 579.0l-3.4 6.8h6.8zM238.2 551.2l-3.4 6.8h6.8zM216.8 553.4l-3.4 6.8h6.8zM219.6 553.3l-3.4 6.8h6.8zM256.6 554.5l-3.4 6.8h6.8zM211.0 556.0l-3.4 6.8h6.8zM210.4 551.1l-3.4 6.8h6.8zM258.9 552.7l-3.4 6.8h6.8zM262.7 554.0l-3.4 6.8h6.8zM253.3 548.8l-3.4 6.8h6.8zM214.9 554.9l-3.4 6.8h6.8zM208.6 556.6l-3.4 6.8h6.8zM236.3 554.3l-3.4 6.8h6.8zM208.5 549.6l-3.4 6.8h6.8zM269.4 552.6l-3.4 6.8h6.8zM248.2 552.1l-3.4 6.8h6.8zM241.4 554.9l-3.4 6.8h6.8zM247.4 553.4l-3.4 6.8h6.8zM230.6 555.8l-3.4 6.8h6.8zM227.6 553.9l-3.4 6.8h6.8zM212.9 551.9l-3.4 6.8h6.8zM253.2 551.7l-3.4 6.8h6.8zM213.9 553.3l-3.4 6.8h6.8zM207.8 546.6l-3.4 6.8h6.8zM227.4 557.6l-3.4 6.8h6.8zM248.7 552.9l-3.4 6.8h6.8zM244.4 556.3l-3.4 6.8h6.8zM242.9 552.2l-3.4 6.8h6.8zM217.9 553.6l-3.4 6.8h6.8zM214.9 554.5l-3.4 6.8h6.8zM247.5 552.2l-3.4 6.8h6.8zM216.3 553.3l-3.4 6.8h6.8zM243.2 545.3l-3.4 6.8h6.8zM235.4 548.4l-3.4 6.8h6.8zM209.9 552.7l-3.4 6.8h6.8zM256.7 550.3l-3.4 6.8h6.8zM252.7 552.9l-3.4 6.8h6.8zM223.9 552.1l-3.4 6.8h6.8zM255.2 552.9l-3.4 6.8h6.8zM232.2 556.6l-3.4 6.8h6.8zM259.3 553.3l-3.4 6.8h6.8zM216.9 549.7l-3.4 6.8h6.8zM269.8 555.4l-3.4 6.8h6.8zM226.3 556.3l-3.4 6.8h6.8zM242.6 554.6l-3.4 6.8h6.8zM226.3 549.9l-3.4 6.8h6.8zM241.3 550.6l-3.4 6.8h6.8zM216.4 551.9l-3.4 6.8h6.8zM241.8 551.1l-3.4 6.8h6.8zM239.7 566.2l-3.4 6.8h6.8zM207.6 562.7l-3.4 6.8h6.8zM255.5 559.2l-3.4 6.8h6.8zM238.2 555.6l-3.4 6.8h6.8zM246.6 553.0l-3.4 6.8h6.8zM251.1 554.4l-3.4 6.8h6.8zM211.3 554.1l-3.4 6.8h6.8zM266.6 554.4l-3.4 6.8h6.8zM266.9 552.5l-3.4 6.8h6.8zM217.3 551.9l-3.4 6.8h6.8zM242.1 551.7l-3.4 6.8h6.8zM218.0 552.6l-3.4 6.8h6.8zM237.0 557.9l-3.4 6.8h6.8zM208.0 555.4l-3.4 6.8h6.8zM254.5 554.9l-3.4 6.8h6.8zM225.0 549.6l-3.4 6.8h6.8zM213.9 551.8l-3.4 6.8h6.8zM216.2 553.5l-3.4 6.8h6.8zM222.5 550.2l-3.4 6.8h6.8zM228.1 553.7l-3.4 6.8h6.8zM263.8 552.4l-3.4 6.8h6.8zM263.8 554.5l-3.4 6.8h6.8zM257.6 554.9l-3.4 6.8h6.8zM223.9 554.8l-3.4 6.8h6.8zM242.4 550.7l-3.4 6.8h6.8zM212.1 555.6l-3.4 6.8h6.8zM258.2 552.9l-3.4 6.8h6.8zM210.3 555.8l-3.4 6.8h6.8zM250.6 570.7l-3.4 6.8h6.8zM212.9 547.9l-3.4 6.8h6.8zM211.9 554.5l-3.4 6.8h6.8zM222.7 554.9l-3.4 6.8h6.8zM225.6 564.5l-3.4 6.8h6.8zM261.2 553.9l-3.4 6.8h6.8zM212.8 553.3l-3.4 6.8h6.8zM213.7 558.3l-3.4 6.8h6.8zM267.4 554.4l-3.4 6.8h6.8zM226.3 552.5l-3.4 6.8h6.8zM209.3 556.2l-3.4 6.8h6.8zM216.6 558.0l-3.4 6.8h6.8zM220.7 510.3l-3.4 6.8h6.8zM224.4 551.6l-3.4 6.8h6.8z" fill="none" stroke="#ff0000" stroke-opacity="0.26" stroke-width="1.0"/>
<g fill="none" stroke="#ff0000" stroke-opacity="0.6"><use href="#tr" x="436.6" y="318.2"/><use href="#tr" x="444.5" y="312.3"/><use href="#tr" x="446.5" y="308.3"/><use href="#tr" x="450.3" y="304.8"/><use href="#tr" x="455.9" y="297.9"/><use href="#tr" x="459.6" y="296.2"/><use href="#tr" x="463.6" y="289.5"/><use href="#tr" x="472.4" y="286.4"/><use href="#tr" x="472.6" y="282.3"/><use href="#tr" x="474" y="278.3"/><use href="#tr" x="476.4" y="278.2"/><use href="#tr" x="483" y="271.2"/><use href="#tr" x="490.4" y="266"/><use href="#tr" x="486.5" y="269.1"/><use href="#tr" x="507.5" y="245.4"/><use href="#tr" x="519.6" y="241.3"/><use href="#tr" x="511.1" y="238.1"/><use href="#tr" x="511.2" y="230.9"/><use href="#tr" x="518.2" y="227.1"/><use href="#tr" x="520.5" y="227.6"/><use href="#tr" x="522.4" y="227.8"/><use href="#tr" x="527.9" y="229.9"/><use href="#tr" x="530.2" y="226.7"/><use href="#tr" x="518.9" y="237"/><use href="#tr" x="520.7" y="233.4"/><use href="#tr" x="521.8" y="230.8"/><use href="#tr" x="527.2" y="227.3"/><use href="#tr" x="531.6" y="220.8"/><use href="#tr" x="535.9" y="216.2"/><use href="#tr" x="534.9" y="218.9"/><use href="#tr" x="543.7" y="216.8"/><use href="#tr" x="550.6" y="211.2"/><use href="#tr" x="545.8" y="202.7"/><use href="#tr" x="511.5" y="242.1"/><use href="#tr" x="515.1" y="240.3"/><use href="#tr" x="506.5" y="247.8"/><use href="#tr" x="545.4" y="215.7"/><use href="#tr" x="564.6" y="199"/><use href="#tr" x="568.3" y="192"/><use href="#tr" x="573.4" y="187"/><use href="#tr" x="558.4" y="198.2"/><use href="#tr" x="558.6" y="196.6"/><use href="#tr" x="563.8" y="191"/><use href="#tr" x="552.4" y="201.1"/><use href="#tr" x="557.7" y="195.7"/><use href="#tr" x="571.2" y="182.1"/><use href="#tr" x="577.6" y="177.8"/><use href="#tr" x="580.4" y="175.2"/><use href="#tr" x="580.8" y="172.1"/><use href="#tr" x="577.5" y="175.9"/><use href="#tr" x="546.2" y="202.1"/><use href="#tr" x="616.7" y="135.9"/><use href="#tr" x="616.1" y="134.7"/><use href="#tr" x="538.6" y="212.5"/><use href="#tr" x="460.9" y="297.6"/><use href="#tr" x="520.6" y="232.5"/><use href="#tr" x="461.3" y="292.8"/><use href="#tr" x="451.7" y="303.7"/><use href="#tr" x="564.4" y="184.8"/><use href="#tr" x="490.7" y="263.9"/><use href="#tr" x="529" y="224.7"/><use href="#tr" x="461.1" y="295.3"/><use href="#tr" x="530" y="223.6"/><use href="#tr" x="550.1" y="205.2"/></g>
<g fill="none" stroke="#2ca02c" stroke-opacity="0.8"><use href="#ci" x="442" y="312.7"/><use href="#ci" x="457.9" y="300"/><use href="#ci" x="464.1" y="293.7"/><use href="#ci" x="464.1" y="286.3"/><use href="#ci" x="463.8" y="289.6"/><use href="#ci" x="480.7" y="272.4"/><use href="#ci" x="479.7" y="275.1"/><use href="#ci" x="491.3" y="263.3"/><use href="#ci" x="488.2" y="256.4"/><use href="#ci" x="508.9" y="257.6"/><use href="#ci" x="514" y="252.6"/><use href="#ci" x="512.6" y="246.9"/><use href="#ci" x="512.7" y="243.3"/><use href="#ci" x="498.8" y="252.8"/><use href="#ci" x="508.4" y="242.6"/><use href="#ci" x="517.6" y="232.1"/><use href="#ci" x="534.9" y="229.6"/><use href="#ci" x="534.2" y="221.7"/><use href="#ci" x="539.8" y="211"/><use href="#ci" x="544.9" y="209.1"/><use href="#ci" x="549.2" y="204.3"/><use href="#ci" x="565.2" y="199.6"/><use href="#ci" x="575.3" y="182.8"/><use href="#ci" x="544.5" y="209.3"/><use href="#ci" x="550.7" y="203"/><use href="#ci" x="559.4" y="191.9"/><use href="#ci" x="562.4" y="189.7"/><use href="#ci" x="539.4" y="211.4"/><use href="#ci" x="548.9" y="197.5"/><use href="#ci" x="590.7" y="162.2"/><use href="#ci" x="601.4" y="151.3"/><use href="#ci" x="605" y="147.7"/><use href="#ci" x="613.3" y="136.2"/><use href="#ci" x="623.9" y="125.2"/><use href="#ci" x="589.4" y="155.4"/><use href="#ci" x="588.5" y="139.1"/><use href="#ci" x="559.8" y="189.5"/><use href="#ci" x="507" y="245.6"/><use href="#ci" x="481.5" y="271.2"/><use href="#ci" x="466.1" y="285.8"/><use href="#ci" x="547.6" y="206.3"/><use href="#ci" x="496.7" y="257.4"/><use href="#ci" x="449.1" y="307.5"/><use href="#ci" x="491.9" y="262"/><use href="#ci" x="524.4" y="232.6"/><use href="#ci" x="550.7" y="200.7"/><use href="#ci" x="442.6" y="313.8"/><use href="#ci" x="480" y="271.5"/><use href="#ci" x="551.3" y="200.1"/><use href="#ci" x="481.1" y="274.3"/></g>
<g fill="none" stroke="#0000ff" stroke-opacity="0.52"><use href="#st" x="472.5" y="294.9"/><use href="#st" x="471.2" y="293.6"/><use href="#st" x="460.8" y="299.2"/><use href="#st" x="452.1" y="305.6"/><use href="#st" x="455.4" y="301.1"/><use href="#st" x="451.8" y="302.7"/><use href="#st" x="472.7" y="284.3"/><use href="#st" x="485.9" y="270.4"/><use href="#st" x="495.1" y="267.2"/><use href="#st" x="496.8" y="265.2"/><use href="#st" x="496.4" y="259.3"/><use href="#st" x="495.5" y="253.1"/><use href="#st" x="484.9" y="256.8"/><use href="#st" x="504.5" y="253.1"/><use href="#st" x="500.8" y="253"/><use href="#st" x="501.5" y="250"/><use href="#st" x="505.2" y="241.2"/><use href="#st" x="517.6" y="241"/><use href="#st" x="523.3" y="239.6"/><use href="#st" x="524.4" y="237.1"/><use href="#st" x="523.5" y="232.6"/><use href="#st" x="528.4" y="226.7"/><use href="#st" x="538.6" y="217.2"/><use href="#st" x="545.1" y="200.2"/><use href="#st" x="582.9" y="185.1"/><use href="#st" x="583" y="177.8"/><use href="#st" x="585.2" y="173"/><use href="#st" x="558.3" y="199.9"/><use href="#st" x="580.6" y="175.4"/><use href="#st" x="596.6" y="159.1"/><use href="#st" x="626.1" y="129.3"/><use href="#st" x="626.3" y="127.6"/><use href="#st" x="553.1" y="198.3"/><use href="#st" x="596.5" y="153.5"/><use href="#st" x="551.8" y="197"/><use href="#st" x="552.4" y="195.8"/><use href="#st" x="546.5" y="198.8"/><use href="#st" x="557" y="187.6"/><use href="#st" x="582.8" y="161.3"/><use href="#st" x="575.8" y="177.8"/><use href="#st" x="548.7" y="189.4"/><use href="#st" x="467.5" y="285.3"/><use href="#st" x="510.5" y="246.5"/><use href="#st" x="455.1" y="301.6"/><use href="#st" x="559.3" y="189.9"/><use href="#st" x="489.8" y="267"/><use href="#st" x="459.7" y="296.8"/><use href="#st" x="451.6" y="306.4"/><use href="#st" x="510.1" y="244.3"/></g>
<g fill="none" stroke="#2ca02c" stroke-opacity="0.75"><use href="#ci" x="442.5" y="559.6"/><use href="#ci" x="456.7" y="549"/><use href="#ci" x="462.9" y="549"/><use href="#ci" x="466.5" y="571.2"/><use href="#ci" x="464.7" y="562.3"/><use href="#ci" x="481.6" y="562.3"/><use href="#ci" x="479.8" y="557"/><use href="#ci" x="491.4" y="557"/><use href="#ci" x="493.2" y="587.2"/><use href="#ci" x="503" y="520.5"/><use href="#ci" x="508" y="519.6"/><use href="#ci" x="510.1" y="541.3"/><use href="#ci" x="511.9" y="551.6"/><use href="#ci" x="500.3" y="565.9"/><use href="#ci" x="510.1" y="566.8"/><use href="#ci" x="519.9" y="570.3"/><use href="#ci" x="529.7" y="524.9"/><use href="#ci" x="533.3" y="550.7"/><use href="#ci" x="541.3" y="565.9"/><use href="#ci" x="544.8" y="556.1"/><use href="#ci" x="549.3" y="557"/><use href="#ci" x="559.6" y="522.3"/><use href="#ci" x="572.9" y="541.8"/><use href="#ci" x="544.5" y="556.6"/><use href="#ci" x="550.7" y="556.6"/><use href="#ci" x="560.5" y="563.2"/><use href="#ci" x="563.1" y="560.5"/><use href="#ci" x="540.9" y="565.9"/><use href="#ci" x="552.5" y="578.3"/><use href="#ci" x="590.7" y="556.6"/><use href="#ci" x="601.4" y="556.6"/><use href="#ci" x="605" y="556.6"/><use href="#ci" x="614.8" y="565.5"/><use href="#ci" x="625.5" y="566.2"/><use href="#ci" x="593.4" y="581"/><use href="#ci" x="601" y="632.8"/><use href="#ci" x="561.8" y="569"/><use href="#ci" x="507.9" y="562"/><use href="#ci" x="482.6" y="563.2"/><use href="#ci" x="467.8" y="566.4"/><use href="#ci" x="547.5" y="556.2"/><use href="#ci" x="497" y="558.4"/><use href="#ci" x="448.6" y="553.3"/><use href="#ci" x="492.3" y="559"/><use href="#ci" x="523" y="547.9"/><use href="#ci" x="551.8" y="563.2"/><use href="#ci" x="442.2" y="554.5"/><use href="#ci" x="481.7" y="567.1"/><use href="#ci" x="552.4" y="563.4"/><use href="#ci" x="480.9" y="555.5"/></g>
<g fill="none" stroke="#0000ff" stroke-opacity="0.52"><use href="#st" x="466.5" y="519.6"/><use href="#st" x="466.5" y="527.6"/><use href="#st" x="458.5" y="542.7"/><use href="#st" x="451" y="549.8"/><use href="#st" x="454.9" y="553.4"/><use href="#st" x="452.3" y="559.6"/><use href="#st" x="471.8" y="550.7"/><use href="#st" x="485.2" y="552.5"/><use href="#st" x="491.4" y="533.8"/><use href="#st" x="493.2" y="534.7"/><use href="#st" x="495.9" y="553.4"/><use href="#st" x="498.5" y="574.8"/><use href="#st" x="491.4" y="596.1"/><use href="#st" x="503" y="547.2"/><use href="#st" x="501.2" y="558.7"/><use href="#st" x="503" y="565.9"/><use href="#st" x="509.2" y="581"/><use href="#st" x="515.5" y="543.6"/><use href="#st" x="519" y="530.3"/><use href="#st" x="520.8" y="534.7"/><use href="#st" x="522.6" y="550.7"/><use href="#st" x="527.9" y="553.4"/><use href="#st" x="537.7" y="550.7"/><use href="#st" x="549.3" y="581.9"/><use href="#st" x="575.6" y="511.6"/><use href="#st" x="579.2" y="533.5"/><use href="#st" x="582.7" y="541"/><use href="#st" x="556" y="542.7"/><use href="#st" x="579.2" y="548.1"/><use href="#st" x="595.2" y="548.1"/><use href="#st" x="624.6" y="547.2"/><use href="#st" x="625.5" y="551.6"/><use href="#st" x="554.2" y="563.2"/><use href="#st" x="597.9" y="565"/><use href="#st" x="554.2" y="571.2"/><use href="#st" x="555.1" y="573"/><use href="#st" x="550.7" y="581.9"/><use href="#st" x="561.4" y="583.7"/><use href="#st" x="587.2" y="583.7"/><use href="#st" x="575.6" y="555.2"/><use href="#st" x="556.4" y="603.3"/><use href="#st" x="468.7" y="563.6"/><use href="#st" x="509.2" y="548.6"/><use href="#st" x="454.5" y="552.6"/><use href="#st" x="561.4" y="569.4"/><use href="#st" x="488.8" y="550.7"/><use href="#st" x="459.1" y="553.2"/><use href="#st" x="450.4" y="549"/><use href="#st" x="510.1" y="556.7"/></g>
<g fill="none" stroke="#ff0000" stroke-opacity="0.85"><use href="#tr" x="437.1" y="559.6"/><use href="#tr" x="443.9" y="553.1"/><use href="#tr" x="446.9" y="558.7"/><use href="#tr" x="450.5" y="557.9"/><use href="#tr" x="456.7" y="561.4"/><use href="#tr" x="459.4" y="555.2"/><use href="#tr" x="464.7" y="563.2"/><use href="#tr" x="470.6" y="545.4"/><use href="#tr" x="472.7" y="557"/><use href="#tr" x="475.4" y="565"/><use href="#tr" x="476.6" y="557.9"/><use href="#tr" x="483.4" y="558.7"/><use href="#tr" x="489.6" y="551.6"/><use href="#tr" x="486.1" y="554.3"/><use href="#tr" x="508.3" y="561.4"/><use href="#tr" x="516.3" y="536.5"/><use href="#tr" x="513.7" y="572.1"/><use href="#tr" x="517.2" y="593.5"/><use href="#tr" x="522.6" y="583.7"/><use href="#tr" x="523.5" y="574.8"/><use href="#tr" x="524.4" y="568.5"/><use href="#tr" x="526.1" y="545.4"/><use href="#tr" x="528.8" y="548.1"/><use href="#tr" x="518.1" y="551.6"/><use href="#tr" x="520.8" y="557"/><use href="#tr" x="522.6" y="561.4"/><use href="#tr" x="527" y="555.2"/><use href="#tr" x="532.4" y="561.4"/><use href="#tr" x="536.8" y="562.3"/><use href="#tr" x="535" y="557"/><use href="#tr" x="540.4" y="536.5"/><use href="#tr" x="546.6" y="532"/><use href="#tr" x="548.4" y="572.1"/><use href="#tr" x="511.9" y="558.7"/><use href="#tr" x="514.6" y="553.4"/><use href="#tr" x="506.6" y="557"/><use href="#tr" x="541.8" y="534.7"/><use href="#tr" x="559.6" y="525.8"/><use href="#tr" x="564.9" y="535.6"/><use href="#tr" x="569.9" y="535.1"/><use href="#tr" x="556.9" y="547.2"/><use href="#tr" x="557.8" y="551.6"/><use href="#tr" x="563.1" y="552.5"/><use href="#tr" x="552.5" y="557"/><use href="#tr" x="557.8" y="557"/><use href="#tr" x="571.2" y="556.6"/><use href="#tr" x="576.5" y="549.8"/><use href="#tr" x="579.2" y="549"/><use href="#tr" x="580.9" y="557"/><use href="#tr" x="577.4" y="556.1"/><use href="#tr" x="548.9" y="573"/><use href="#tr" x="616.6" y="556.1"/><use href="#tr" x="616.9" y="561.4"/><use href="#tr" x="540" y="565"/><use href="#tr" x="459.4" y="547.1"/><use href="#tr" x="521.2" y="560"/><use href="#tr" x="461.9" y="560.1"/><use href="#tr" x="451.8" y="556.9"/><use href="#tr" x="566.5" y="569.2"/><use href="#tr" x="490.8" y="557.2"/><use href="#tr" x="529.2" y="557.4"/><use href="#tr" x="460.6" y="553.3"/><use href="#tr" x="530.2" y="557.9"/><use href="#tr" x="549.3" y="551.8"/></g>
<path d="M54.2 363.67L325 88.3" stroke="#646464" stroke-width="1.55" stroke-dasharray="5.9 2.8" fill="none"/>
<clipPath id="bandA"><rect x="84" y="130" width="190" height="205"/></clipPath><clipPath id="bandC"><rect x="80" y="548" width="196" height="17"/></clipPath>
<path d="M54.2 363.67L325 88.3" stroke="#8e8e8e" stroke-width="1.55" stroke-dasharray="5.9 2.8" fill="none" clip-path="url(#bandA)"/>
<path d="M393 363.67L663.4 88.2" stroke="#646464" stroke-width="1.55" stroke-dasharray="5.9 2.8" fill="none"/>
<path d="M54.2 537.49H325" stroke="#646464" stroke-width="1.55" stroke-dasharray="5.9 2.8" fill="none"/>
<path d="M54.2 556.48H325" stroke="#646464" stroke-width="1.55" stroke-dasharray="5.9 2.8" fill="none"/>
<path d="M54.2 556.48H325" stroke="#8e8e8e" stroke-width="1.55" stroke-dasharray="5.9 2.8" fill="none" clip-path="url(#bandC)"/>
<path d="M54.2 575.55H325" stroke="#646464" stroke-width="1.55" stroke-dasharray="5.9 2.8" fill="none"/>
<path d="M393 528.38H663.4" stroke="#646464" stroke-width="1.55" stroke-dasharray="5.9 2.8" fill="none"/>
<path d="M393 556.09H663.4" stroke="#646464" stroke-width="1.55" stroke-dasharray="5.9 2.8" fill="none"/>
<path d="M393 583.79H663.4" stroke="#646464" stroke-width="1.55" stroke-dasharray="5.9 2.8" fill="none"/>
<text x="293.10" y="534.60" font-size="10.75" textLength="30.27" lengthAdjust="spacingAndGlyphs" fill="#222222" color="#222222">41.39</text>
<text x="292.91" y="553.40" font-size="14.10" textLength="30.53" lengthAdjust="spacingAndGlyphs" fill="#222222" color="#222222">0.05</text>
<text x="284.22" y="572.90" font-size="10.75" textLength="39.11" lengthAdjust="spacingAndGlyphs" fill="#222222" color="#222222">−41.48</text>
<text x="635.17" y="526.10" font-size="10.75" textLength="23.50" lengthAdjust="spacingAndGlyphs" fill="#222222" color="#222222">2.04</text>
<text x="629.24" y="553.30" font-size="14.10" textLength="30.61" lengthAdjust="spacingAndGlyphs" fill="#222222" color="#222222">0.03</text>
<text x="626.74" y="581.20" font-size="10.75" textLength="32.27" lengthAdjust="spacingAndGlyphs" fill="#222222" color="#222222">−1.98</text>
<path d="M54.2 88.3V363.67H325" fill="none" stroke="#404040" stroke-width="1.15"/>
<path d="M84.11 363.67v3.9M144.33 363.67v3.9M204.56 363.67v3.9M264.78 363.67v3.9M325.00 363.67v3.9M54.2 363.60h-3.9M54.2 333.01h-3.9M54.2 302.42h-3.9M54.2 271.83h-3.9M54.2 241.24h-3.9M54.2 210.66h-3.9M54.2 180.07h-3.9M54.2 149.48h-3.9M54.2 118.89h-3.9M54.2 88.30h-3.9" fill="none" stroke="#404040" stroke-width="1.05"/>
<text x="74.01" y="379.57" font-size="10.70" textLength="20.06" lengthAdjust="spacingAndGlyphs" fill="#222222" color="#222222">600</text>
<text x="134.27" y="379.57" font-size="10.70" textLength="20.05" lengthAdjust="spacingAndGlyphs" fill="#222222" color="#222222">800</text>
<text x="190.98" y="379.57" font-size="10.70" textLength="26.67" lengthAdjust="spacingAndGlyphs" fill="#222222" color="#222222">1000</text>
<text x="251.20" y="379.57" font-size="10.70" textLength="26.67" lengthAdjust="spacingAndGlyphs" fill="#222222" color="#222222">1200</text>
<text x="311.42" y="379.57" font-size="10.70" textLength="26.67" lengthAdjust="spacingAndGlyphs" fill="#222222" color="#222222">1400</text>
<text x="26.48" y="367.95" font-size="10.70" textLength="19.87" lengthAdjust="spacingAndGlyphs" fill="#222222" color="#222222">500</text>
<text x="26.31" y="337.36" font-size="10.70" textLength="20.06" lengthAdjust="spacingAndGlyphs" fill="#222222" color="#222222">600</text>
<text x="26.42" y="306.77" font-size="10.70" textLength="19.94" lengthAdjust="spacingAndGlyphs" fill="#222222" color="#222222">700</text>
<text x="26.31" y="276.18" font-size="10.70" textLength="20.05" lengthAdjust="spacingAndGlyphs" fill="#222222" color="#222222">800</text>
<text x="26.31" y="245.59" font-size="10.70" textLength="20.05" lengthAdjust="spacingAndGlyphs" fill="#222222" color="#222222">900</text>
<text x="19.64" y="215.01" font-size="10.70" textLength="26.67" lengthAdjust="spacingAndGlyphs" fill="#222222" color="#222222">1000</text>
<text x="19.61" y="184.42" font-size="10.70" textLength="26.73" lengthAdjust="spacingAndGlyphs" fill="#222222" color="#222222">1100</text>
<text x="19.64" y="153.83" font-size="10.70" textLength="26.67" lengthAdjust="spacingAndGlyphs" fill="#222222" color="#222222">1200</text>
<text x="19.64" y="123.24" font-size="10.70" textLength="26.67" lengthAdjust="spacingAndGlyphs" fill="#222222" color="#222222">1300</text>
<text x="19.64" y="92.65" font-size="10.70" textLength="26.67" lengthAdjust="spacingAndGlyphs" fill="#222222" color="#222222">1400</text>
<path d="M393.0 88.2V363.67H663.4" fill="none" stroke="#404040" stroke-width="1.15"/>
<path d="M393.00 363.67v3.9M438.07 363.67v3.9M483.13 363.67v3.9M528.20 363.67v3.9M573.27 363.67v3.9M618.33 363.67v3.9M663.40 363.67v3.9M393.0 363.60h-3.9M393.0 317.70h-3.9M393.0 271.80h-3.9M393.0 225.90h-3.9M393.0 180.00h-3.9M393.0 134.10h-3.9M393.0 88.20h-3.9" fill="none" stroke="#404040" stroke-width="1.05"/>
<text x="386.59" y="379.57" font-size="10.70" textLength="13.03" lengthAdjust="spacingAndGlyphs" fill="#222222" color="#222222">40</text>
<text x="431.55" y="379.57" font-size="10.70" textLength="12.99" lengthAdjust="spacingAndGlyphs" fill="#222222" color="#222222">50</text>
<text x="476.47" y="379.57" font-size="10.70" textLength="13.18" lengthAdjust="spacingAndGlyphs" fill="#222222" color="#222222">60</text>
<text x="521.59" y="379.57" font-size="10.70" textLength="13.06" lengthAdjust="spacingAndGlyphs" fill="#222222" color="#222222">70</text>
<text x="566.63" y="379.57" font-size="10.70" textLength="13.17" lengthAdjust="spacingAndGlyphs" fill="#222222" color="#222222">80</text>
<text x="611.70" y="379.57" font-size="10.70" textLength="13.17" lengthAdjust="spacingAndGlyphs" fill="#222222" color="#222222">90</text>
<text x="653.22" y="379.57" font-size="10.70" textLength="19.92" lengthAdjust="spacingAndGlyphs" fill="#222222" color="#222222">100</text>
<text x="371.31" y="367.95" font-size="10.70" textLength="13.03" lengthAdjust="spacingAndGlyphs" fill="#222222" color="#222222">40</text>
<text x="371.34" y="322.05" font-size="10.70" textLength="12.99" lengthAdjust="spacingAndGlyphs" fill="#222222" color="#222222">50</text>
<text x="371.16" y="276.15" font-size="10.70" textLength="13.18" lengthAdjust="spacingAndGlyphs" fill="#222222" color="#222222">60</text>
<text x="371.28" y="230.25" font-size="10.70" textLength="13.06" lengthAdjust="spacingAndGlyphs" fill="#222222" color="#222222">70</text>
<text x="371.17" y="184.35" font-size="10.70" textLength="13.17" lengthAdjust="spacingAndGlyphs" fill="#222222" color="#222222">80</text>
<text x="371.17" y="138.45" font-size="10.70" textLength="13.17" lengthAdjust="spacingAndGlyphs" fill="#222222" color="#222222">90</text>
<text x="364.44" y="92.55" font-size="10.70" textLength="19.92" lengthAdjust="spacingAndGlyphs" fill="#222222" color="#222222">100</text>
<path d="M54.2 418.7V694.5H325" fill="none" stroke="#404040" stroke-width="1.15"/>
<path d="M84.11 694.5v3.9M144.33 694.5v3.9M204.56 694.5v3.9M264.78 694.5v3.9M325.00 694.5v3.9M54.2 694.30h-3.9M54.2 648.37h-3.9M54.2 602.43h-3.9M54.2 556.50h-3.9M54.2 510.57h-3.9M54.2 464.63h-3.9M54.2 418.70h-3.9" fill="none" stroke="#404040" stroke-width="1.05"/>
<text x="74.01" y="710.40" font-size="10.70" textLength="20.06" lengthAdjust="spacingAndGlyphs" fill="#222222" color="#222222">600</text>
<text x="134.27" y="710.40" font-size="10.70" textLength="20.05" lengthAdjust="spacingAndGlyphs" fill="#222222" color="#222222">800</text>
<text x="190.98" y="710.40" font-size="10.70" textLength="26.67" lengthAdjust="spacingAndGlyphs" fill="#222222" color="#222222">1000</text>
<text x="251.20" y="710.40" font-size="10.70" textLength="26.67" lengthAdjust="spacingAndGlyphs" fill="#222222" color="#222222">1200</text>
<text x="311.42" y="710.40" font-size="10.70" textLength="26.67" lengthAdjust="spacingAndGlyphs" fill="#222222" color="#222222">1400</text>
<text x="17.71" y="698.65" font-size="10.70" textLength="28.67" lengthAdjust="spacingAndGlyphs" fill="#222222" color="#222222">−300</text>
<text x="17.71" y="652.72" font-size="10.70" textLength="28.67" lengthAdjust="spacingAndGlyphs" fill="#222222" color="#222222">−200</text>
<text x="17.71" y="606.78" font-size="10.70" textLength="28.67" lengthAdjust="spacingAndGlyphs" fill="#222222" color="#222222">−100</text>
<text x="40.05" y="560.85" font-size="10.70" textLength="6.26" lengthAdjust="spacingAndGlyphs" fill="#222222" color="#222222">0</text>
<text x="26.44" y="514.92" font-size="10.70" textLength="19.92" lengthAdjust="spacingAndGlyphs" fill="#222222" color="#222222">100</text>
<text x="26.36" y="468.98" font-size="10.70" textLength="20.00" lengthAdjust="spacingAndGlyphs" fill="#222222" color="#222222">200</text>
<text x="26.48" y="423.05" font-size="10.70" textLength="19.87" lengthAdjust="spacingAndGlyphs" fill="#222222" color="#222222">300</text>
<path d="M393.0 418.6V694.5H663.4" fill="none" stroke="#404040" stroke-width="1.15"/>
<path d="M393.00 694.5v3.9M438.07 694.5v3.9M483.13 694.5v3.9M528.20 694.5v3.9M573.27 694.5v3.9M618.33 694.5v3.9M663.40 694.5v3.9M393.0 694.35h-3.9M393.0 659.89h-3.9M393.0 625.42h-3.9M393.0 590.96h-3.9M393.0 556.50h-3.9M393.0 522.04h-3.9M393.0 487.57h-3.9M393.0 453.11h-3.9M393.0 418.65h-3.9" fill="none" stroke="#404040" stroke-width="1.05"/>
<text x="386.59" y="710.40" font-size="10.70" textLength="13.03" lengthAdjust="spacingAndGlyphs" fill="#222222" color="#222222">40</text>
<text x="431.55" y="710.40" font-size="10.70" textLength="12.99" lengthAdjust="spacingAndGlyphs" fill="#222222" color="#222222">50</text>
<text x="476.47" y="710.40" font-size="10.70" textLength="13.18" lengthAdjust="spacingAndGlyphs" fill="#222222" color="#222222">60</text>
<text x="521.59" y="710.40" font-size="10.70" textLength="13.06" lengthAdjust="spacingAndGlyphs" fill="#222222" color="#222222">70</text>
<text x="566.63" y="710.40" font-size="10.70" textLength="13.17" lengthAdjust="spacingAndGlyphs" fill="#222222" color="#222222">80</text>
<text x="611.70" y="710.40" font-size="10.70" textLength="13.17" lengthAdjust="spacingAndGlyphs" fill="#222222" color="#222222">90</text>
<text x="653.22" y="710.40" font-size="10.70" textLength="19.92" lengthAdjust="spacingAndGlyphs" fill="#222222" color="#222222">100</text>
<text x="352.29" y="698.70" font-size="10.70" textLength="32.06" lengthAdjust="spacingAndGlyphs" fill="#222222" color="#222222">−10.0</text>
<text x="359.35" y="664.24" font-size="10.70" textLength="25.05" lengthAdjust="spacingAndGlyphs" fill="#222222" color="#222222">−7.5</text>
<text x="359.13" y="629.77" font-size="10.70" textLength="25.20" lengthAdjust="spacingAndGlyphs" fill="#222222" color="#222222">−5.0</text>
<text x="359.35" y="595.31" font-size="10.70" textLength="25.05" lengthAdjust="spacingAndGlyphs" fill="#222222" color="#222222">−2.5</text>
<text x="367.80" y="560.85" font-size="10.70" textLength="16.51" lengthAdjust="spacingAndGlyphs" fill="#222222" color="#222222">0.0</text>
<text x="368.01" y="526.39" font-size="10.70" textLength="16.36" lengthAdjust="spacingAndGlyphs" fill="#222222" color="#222222">2.5</text>
<text x="367.91" y="491.93" font-size="10.70" textLength="16.40" lengthAdjust="spacingAndGlyphs" fill="#222222" color="#222222">5.0</text>
<text x="368.07" y="457.46" font-size="10.70" textLength="16.30" lengthAdjust="spacingAndGlyphs" fill="#222222" color="#222222">7.5</text>
<text x="361.07" y="423.00" font-size="10.70" textLength="23.27" lengthAdjust="spacingAndGlyphs" fill="#222222" color="#222222">10.0</text>
<text x="154.95" y="395.20" font-size="11.06" textLength="68.51" lengthAdjust="spacingAndGlyphs" fill="#222222" color="#222222">ECG IBI (ms)</text>
<text x="489.44" y="395.10" font-size="11.06" textLength="77.55" lengthAdjust="spacingAndGlyphs" fill="#222222" color="#222222">ECG HR (BPM)</text>
<text x="151.72" y="725.80" font-size="11.06" textLength="75.37" lengthAdjust="spacingAndGlyphs" fill="#222222" color="#222222">Mean IBI (ms)</text>
<text x="486.12" y="725.60" font-size="11.06" textLength="84.39" lengthAdjust="spacingAndGlyphs" fill="#222222" color="#222222">Mean HR (BPM)</text>
<text x="-17.12" y="226.00" font-size="11.06" textLength="57.12" lengthAdjust="spacingAndGlyphs" transform="rotate(-90 11.60 226.00)" fill="#222222" color="#222222">IH IBI (ms)</text>
<text x="324.22" y="225.80" font-size="11.06" textLength="66.07" lengthAdjust="spacingAndGlyphs" transform="rotate(-90 357.40 225.80)" fill="#222222" color="#222222">IH HR (BPM)</text>
<text x="-42.20" y="556.30" font-size="11.06" textLength="101.99" lengthAdjust="spacingAndGlyphs" transform="rotate(-90 8.90 556.30)" fill="#222222" color="#222222">Difference IBI (ms)</text>
<text x="289.38" y="556.80" font-size="11.06" textLength="111.03" lengthAdjust="spacingAndGlyphs" transform="rotate(-90 345.00 556.80)" fill="#222222" color="#222222">Difference HR (BPM)</text>
<text x="84.49" y="133.40" font-size="22.22" textLength="9.00" lengthAdjust="spacingAndGlyphs" font-style="italic" fill="#222222" color="#222222">r</text>
<text x="98.18" y="133.40" font-size="22.22" textLength="16.56" lengthAdjust="spacingAndGlyphs" fill="#222222" color="#222222">=</text>
<text x="119.81" y="133.40" font-size="22.00" textLength="62.11" lengthAdjust="spacingAndGlyphs" fill="#222222" color="#222222">0.988</text>
<text x="438.29" y="134.30" font-size="22.22" textLength="9.00" lengthAdjust="spacingAndGlyphs" font-style="italic" fill="#222222" color="#222222">r</text>
<text x="451.98" y="134.30" font-size="22.22" textLength="16.56" lengthAdjust="spacingAndGlyphs" fill="#222222" color="#222222">=</text>
<text x="473.61" y="134.30" font-size="22.00" textLength="62.08" lengthAdjust="spacingAndGlyphs" fill="#222222" color="#222222">0.994</text>
<text x="297.90" y="341.60" font-size="15.15" textLength="20.42" lengthAdjust="spacingAndGlyphs" fill="#222222" color="#222222">(a)</text>
<text x="636.98" y="341.70" font-size="15.15" textLength="20.75" lengthAdjust="spacingAndGlyphs" fill="#222222" color="#222222">(b)</text>
<text x="297.90" y="672.40" font-size="15.15" textLength="19.42" lengthAdjust="spacingAndGlyphs" fill="#222222" color="#222222">(c)</text>
<text x="636.98" y="672.50" font-size="15.15" textLength="20.75" lengthAdjust="spacingAndGlyphs" fill="#222222" color="#222222">(d)</text>
</svg></body></html>
